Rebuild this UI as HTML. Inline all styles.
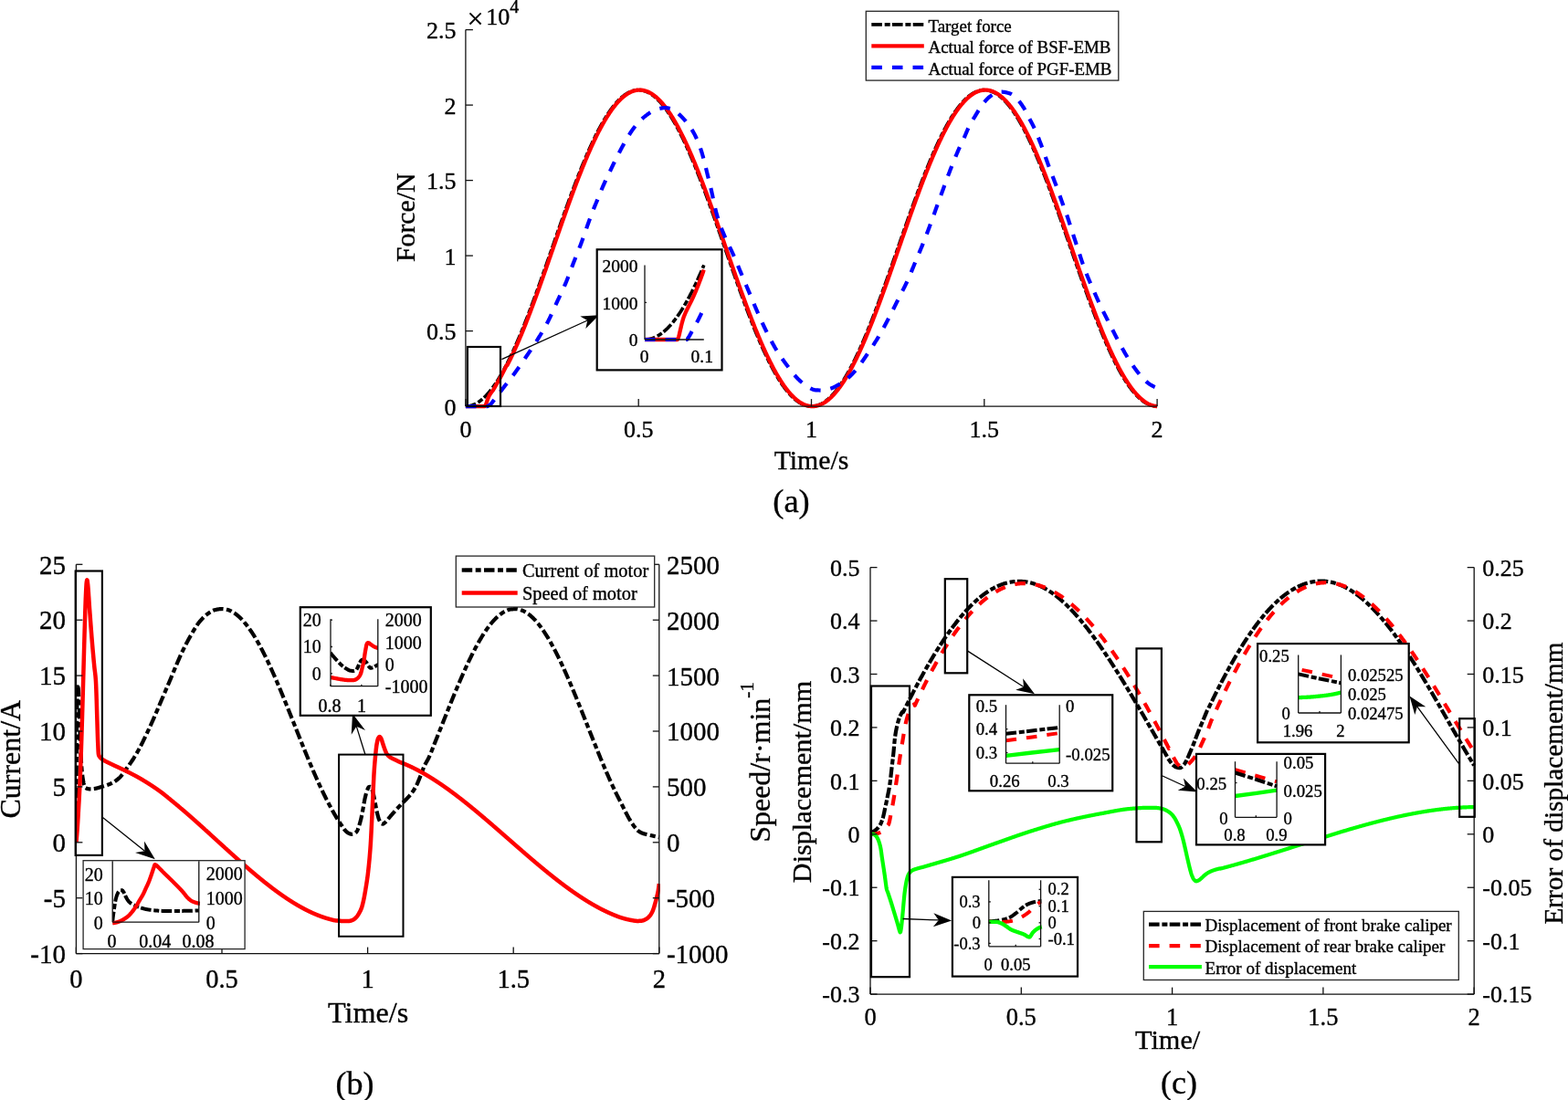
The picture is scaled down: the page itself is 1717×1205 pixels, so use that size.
<!DOCTYPE html>
<html><head><meta charset="utf-8"><title>Figure</title><style>
html,body{margin:0;padding:0;background:#fff;overflow:hidden}
svg{display:block}
text{font-family:"Liberation Serif","Times New Roman",serif;fill:#000;stroke:#000;stroke-width:0.35px}
</style></head><body>
<svg width="1717" height="1205" viewBox="0 0 1717 1205">
<defs><clipPath id="ca"><rect x="506.9" y="20" width="763.2" height="428.1"/></clipPath><clipPath id="cai"><rect x="704" y="285" width="68.8" height="90"/></clipPath><clipPath id="cb"><rect x="82.4" y="600" width="640.4" height="444.6"/></clipPath><clipPath id="cbu"><rect x="362" y="676.3" width="51.8" height="75.4"/></clipPath><clipPath id="cbl"><rect x="123.2" y="943.3" width="96.6" height="66.9"/></clipPath><clipPath id="cc"><rect x="953" y="600" width="663.2" height="489.12"/></clipPath></defs>
<rect width="1717" height="1205" fill="#fff"/>
<path d="M509.9 445.1 L510.41 445.09 L510.91 445.08 L511.42 445.05 L511.92 445 L512.43 444.95 L512.93 444.88 L513.44 444.8 L513.94 444.71 L514.45 444.61 L514.95 444.49 L515.46 444.36 L515.96 444.22 L516.47 444.07 L516.97 443.91 L517.48 443.73 L517.98 443.54 L518.49 443.34 L518.99 443.13 L519.5 442.91 L520 442.67 L520.51 442.42 L521.01 442.16 L521.52 441.89 L522.02 441.61 L522.53 441.31 L523.03 441 L523.54 440.68 L524.04 440.35 L524.55 440.01 L525.05 439.65 L525.56 439.28 L526.06 438.9 L526.57 438.51 L527.07 438.11 L527.58 437.7 L528.08 437.27 L528.59 436.83 L529.1 436.38 L529.6 435.92 L530.11 435.45 L530.61 434.97 L531.12 434.47 L531.62 433.97 L532.13 433.45 L532.63 432.92 L533.14 432.38 L533.64 431.83 L534.15 431.26 L534.65 430.69 L535.16 430.1 L535.66 429.51 L536.17 428.9 L536.67 428.28 L537.18 427.65 L537.68 427.01 L538.19 426.36 L538.69 425.69 L539.2 425.02 L539.7 424.34 L540.21 423.64 L540.71 422.94 L541.22 422.22 L541.72 421.49 L542.23 420.76 L542.73 420.01 L543.24 419.25 L543.74 418.48 L544.25 417.7 L544.75 416.92 L545.26 416.12 L545.76 415.31 L546.27 414.49 L546.77 413.66 L547.28 412.82 L547.79 411.97 L548.29 411.11 L548.8 410.24 L549.3 409.36 L549.81 408.47 L550.31 407.58 L550.82 406.67 L551.32 405.75 L551.83 404.83 L552.33 403.89 L552.84 402.95 L553.34 401.99 L553.85 401.03 L554.35 400.06 L554.86 399.07 L555.36 398.08 L555.87 397.08 L556.37 396.08 L556.88 395.06 L557.38 394.03 L557.89 393 L558.39 391.96 L558.9 390.91 L559.4 389.85 L559.91 388.78 L560.41 387.7 L560.92 386.62 L561.42 385.53 L561.93 384.43 L562.43 383.32 L562.94 382.21 L563.44 381.08 L563.95 379.95 L564.45 378.81 L564.96 377.67 L565.47 376.51 L565.97 375.35 L566.48 374.18 L566.98 373.01 L567.49 371.82 L567.99 370.63 L568.5 369.44 L569 368.23 L569.51 367.02 L570.01 365.81 L570.52 364.58 L571.02 363.35 L571.53 362.12 L572.03 360.87 L572.54 359.63 L573.04 358.37 L573.55 357.11 L574.05 355.84 L574.56 354.57 L575.06 353.29 L575.57 352 L576.07 350.71 L576.58 349.42 L577.08 348.12 L577.59 346.81 L578.09 345.5 L578.6 344.18 L579.1 342.86 L579.61 341.53 L580.11 340.2 L580.62 338.86 L581.12 337.52 L581.63 336.17 L582.13 334.82 L582.64 333.47 L583.14 332.11 L583.65 330.74 L584.16 329.38 L584.66 328 L585.17 326.63 L585.67 325.25 L586.18 323.87 L586.68 322.48 L587.19 321.09 L587.69 319.69 L588.2 318.3 L588.7 316.89 L589.21 315.49 L589.71 314.08 L590.22 312.67 L590.72 311.26 L591.23 309.85 L591.73 308.43 L592.24 307.01 L592.74 305.58 L593.25 304.16 L593.75 302.73 L594.26 301.3 L594.76 299.87 L595.27 298.43 L595.77 297 L596.28 295.56 L596.78 294.12 L597.29 292.68 L597.79 291.23 L598.3 289.79 L598.8 288.35 L599.31 286.9 L599.81 285.45 L600.32 284 L600.82 282.55 L601.33 281.1 L601.83 279.65 L602.34 278.2 L602.85 276.75 L603.35 275.3 L603.86 273.85 L604.36 272.39 L604.87 270.94 L605.37 269.49 L605.88 268.04 L606.38 266.59 L606.89 265.13 L607.39 263.68 L607.9 262.23 L608.4 260.78 L608.91 259.33 L609.41 257.89 L609.92 256.44 L610.42 254.99 L610.93 253.55 L611.43 252.1 L611.94 250.66 L612.44 249.22 L612.95 247.78 L613.45 246.34 L613.96 244.91 L614.46 243.48 L614.97 242.04 L615.47 240.61 L615.98 239.19 L616.48 237.76 L616.99 236.34 L617.49 234.92 L618 233.5 L618.5 232.09 L619.01 230.67 L619.51 229.26 L620.02 227.86 L620.52 226.45 L621.03 225.05 L621.54 223.66 L622.04 222.26 L622.55 220.87 L623.05 219.49 L623.56 218.11 L624.06 216.73 L624.57 215.35 L625.07 213.98 L625.58 212.61 L626.08 211.25 L626.59 209.89 L627.09 208.54 L627.6 207.19 L628.1 205.84 L628.61 204.5 L629.11 203.17 L629.62 201.84 L630.12 200.51 L630.63 199.19 L631.13 197.87 L631.64 196.56 L632.14 195.26 L632.65 193.96 L633.15 192.66 L633.66 191.37 L634.16 190.09 L634.67 188.81 L635.17 187.54 L635.68 186.28 L636.18 185.02 L636.69 183.76 L637.19 182.51 L637.7 181.27 L638.2 180.04 L638.71 178.81 L639.22 177.59 L639.72 176.37 L640.23 175.16 L640.73 173.96 L641.24 172.77 L641.74 171.58 L642.25 170.4 L642.75 169.22 L643.26 168.06 L643.76 166.9 L644.27 165.75 L644.77 164.6 L645.28 163.47 L645.78 162.34 L646.29 161.21 L646.79 160.1 L647.3 159 L647.8 157.9 L648.31 156.81 L648.81 155.73 L649.32 154.65 L649.82 153.59 L650.33 152.53 L650.83 151.48 L651.34 150.44 L651.84 149.41 L652.35 148.38 L652.85 147.37 L653.36 146.36 L653.86 145.37 L654.37 144.38 L654.87 143.4 L655.38 142.43 L655.88 141.47 L656.39 140.52 L656.89 139.57 L657.4 138.64 L657.91 137.72 L658.41 136.8 L658.92 135.9 L659.42 135 L659.93 134.12 L660.43 133.24 L660.94 132.37 L661.44 131.52 L661.95 130.67 L662.45 129.83 L662.96 129.01 L663.46 128.19 L663.97 127.38 L664.47 126.59 L664.98 125.8 L665.48 125.02 L665.99 124.26 L666.49 123.5 L667 122.76 L667.5 122.02 L668.01 121.3 L668.51 120.59 L669.02 119.88 L669.52 119.19 L670.03 118.51 L670.53 117.84 L671.04 117.18 L671.54 116.53 L672.05 115.89 L672.55 115.27 L673.06 114.65 L673.56 114.04 L674.07 113.45 L674.57 112.87 L675.08 112.3 L675.58 111.74 L676.09 111.19 L676.6 110.65 L677.1 110.12 L677.61 109.61 L678.11 109.1 L678.62 108.61 L679.12 108.13 L679.63 107.66 L680.13 107.2 L680.64 106.76 L681.14 106.32 L681.65 105.9 L682.15 105.49 L682.66 105.09 L683.16 104.7 L683.67 104.32 L684.17 103.96 L684.68 103.61 L685.18 103.27 L685.69 102.94 L686.19 102.62 L686.7 102.32 L687.2 102.02 L687.71 101.74 L688.21 101.47 L688.72 101.21 L689.22 100.97 L689.73 100.74 L690.23 100.51 L690.74 100.31 L691.24 100.11 L691.75 99.92 L692.25 99.75 L692.76 99.59 L693.26 99.44 L693.77 99.3 L694.27 99.18 L694.78 99.07 L695.29 98.97 L695.79 98.88 L696.3 98.8 L696.8 98.74 L697.31 98.69 L697.81 98.65 L698.32 98.62 L698.82 98.6 L699.33 98.6 L699.83 98.61 L700.34 98.63 L700.84 98.66 L701.35 98.71 L701.85 98.77 L702.36 98.84 L702.86 98.92 L703.37 99.01 L703.87 99.12 L704.38 99.24 L704.88 99.37 L705.39 99.51 L705.89 99.67 L706.4 99.83 L706.9 100.01 L707.41 100.21 L707.91 100.41 L708.42 100.62 L708.92 100.85 L709.43 101.09 L709.93 101.34 L710.44 101.61 L710.94 101.88 L711.45 102.17 L711.95 102.47 L712.46 102.78 L712.96 103.1 L713.47 103.44 L713.98 103.78 L714.48 104.14 L714.99 104.51 L715.49 104.89 L716 105.29 L716.5 105.69 L717.01 106.11 L717.51 106.54 L718.02 106.98 L718.52 107.43 L719.03 107.89 L719.53 108.37 L720.04 108.86 L720.54 109.35 L721.05 109.86 L721.55 110.38 L722.06 110.92 L722.56 111.46 L723.07 112.01 L723.57 112.58 L724.08 113.16 L724.58 113.75 L725.09 114.35 L725.59 114.96 L726.1 115.58 L726.6 116.21 L727.11 116.85 L727.61 117.51 L728.12 118.17 L728.62 118.85 L729.13 119.54 L729.63 120.23 L730.14 120.94 L730.64 121.66 L731.15 122.39 L731.66 123.13 L732.16 123.88 L732.67 124.64 L733.17 125.41 L733.68 126.19 L734.18 126.98 L734.69 127.79 L735.19 128.6 L735.7 129.42 L736.2 130.25 L736.71 131.09 L737.21 131.94 L737.72 132.81 L738.22 133.68 L738.73 134.56 L739.23 135.45 L739.74 136.35 L740.24 137.26 L740.75 138.18 L741.25 139.11 L741.76 140.04 L742.26 140.99 L742.77 141.95 L743.27 142.91 L743.78 143.89 L744.28 144.87 L744.79 145.86 L745.29 146.87 L745.8 147.88 L746.3 148.9 L746.81 149.92 L747.31 150.96 L747.82 152 L748.32 153.06 L748.83 154.12 L749.33 155.19 L749.84 156.27 L750.35 157.35 L750.85 158.45 L751.36 159.55 L751.86 160.66 L752.37 161.77 L752.87 162.9 L753.38 164.03 L753.88 165.17 L754.39 166.32 L754.89 167.48 L755.4 168.64 L755.9 169.81 L756.41 170.99 L756.91 172.17 L757.42 173.36 L757.92 174.56 L758.43 175.77 L758.93 176.98 L759.44 178.2 L759.94 179.42 L760.45 180.65 L760.95 181.89 L761.46 183.14 L761.96 184.39 L762.47 185.64 L762.97 186.91 L763.48 188.18 L763.98 189.45 L764.49 190.73 L764.99 192.02 L765.5 193.31 L766 194.61 L766.51 195.91 L767.01 197.22 L767.52 198.53 L768.02 199.85 L768.53 201.17 L769.04 202.5 L769.54 203.83 L770.05 205.17 L770.55 206.52 L771.06 207.86 L771.56 209.22 L772.07 210.57 L772.57 211.93 L773.08 213.3 L773.58 214.67 L774.09 216.04 L774.59 217.42 L775.1 218.8 L775.6 220.18 L776.11 221.57 L776.61 222.96 L777.12 224.36 L777.62 225.75 L778.13 227.16 L778.63 228.56 L779.14 229.97 L779.64 231.38 L780.15 232.79 L780.65 234.21 L781.16 235.63 L781.66 237.05 L782.17 238.47 L782.67 239.9 L783.18 241.33 L783.68 242.76 L784.19 244.19 L784.69 245.63 L785.2 247.06 L785.7 248.5 L786.21 249.94 L786.71 251.38 L787.22 252.83 L787.73 254.27 L788.23 255.72 L788.74 257.16 L789.24 258.61 L789.75 260.06 L790.25 261.51 L790.76 262.96 L791.26 264.41 L791.77 265.86 L792.27 267.31 L792.78 268.76 L793.28 270.22 L793.79 271.67 L794.29 273.12 L794.8 274.57 L795.3 276.03 L795.81 277.48 L796.31 278.93 L796.82 280.38 L797.32 281.83 L797.83 283.28 L798.33 284.73 L798.84 286.18 L799.34 287.62 L799.85 289.07 L800.35 290.51 L800.86 291.96 L801.36 293.4 L801.87 294.84 L802.37 296.28 L802.88 297.71 L803.38 299.15 L803.89 300.58 L804.39 302.01 L804.9 303.44 L805.41 304.87 L805.91 306.29 L806.42 307.72 L806.92 309.14 L807.43 310.55 L807.93 311.97 L808.44 313.38 L808.94 314.79 L809.45 316.19 L809.95 317.6 L810.46 318.99 L810.96 320.39 L811.47 321.78 L811.97 323.17 L812.48 324.56 L812.98 325.94 L813.49 327.32 L813.99 328.69 L814.5 330.06 L815 331.43 L815.51 332.79 L816.01 334.15 L816.52 335.5 L817.02 336.85 L817.53 338.19 L818.03 339.53 L818.54 340.87 L819.04 342.2 L819.55 343.52 L820.05 344.84 L820.56 346.15 L821.06 347.46 L821.57 348.77 L822.07 350.07 L822.58 351.36 L823.08 352.65 L823.59 353.93 L824.1 355.21 L824.6 356.48 L825.11 357.74 L825.61 359 L826.12 360.25 L826.62 361.5 L827.13 362.74 L827.63 363.97 L828.14 365.2 L828.64 366.42 L829.15 367.63 L829.65 368.84 L830.16 370.04 L830.66 371.23 L831.17 372.42 L831.67 373.6 L832.18 374.77 L832.68 375.93 L833.19 377.09 L833.69 378.24 L834.2 379.38 L834.7 380.52 L835.21 381.64 L835.71 382.76 L836.22 383.88 L836.72 384.98 L837.23 386.08 L837.73 387.16 L838.24 388.24 L838.74 389.32 L839.25 390.38 L839.75 391.43 L840.26 392.48 L840.76 393.52 L841.27 394.55 L841.77 395.57 L842.28 396.58 L842.79 397.59 L843.29 398.58 L843.8 399.57 L844.3 400.54 L844.81 401.51 L845.31 402.47 L845.82 403.42 L846.32 404.36 L846.83 405.29 L847.33 406.21 L847.84 407.12 L848.34 408.03 L848.85 408.92 L849.35 409.8 L849.86 410.68 L850.36 411.54 L850.87 412.4 L851.37 413.24 L851.88 414.07 L852.38 414.9 L852.89 415.71 L853.39 416.52 L853.9 417.31 L854.4 418.09 L854.91 418.87 L855.41 419.63 L855.92 420.38 L856.42 421.13 L856.93 421.86 L857.43 422.58 L857.94 423.29 L858.44 423.99 L858.95 424.68 L859.45 425.36 L859.96 426.03 L860.46 426.68 L860.97 427.33 L861.48 427.97 L861.98 428.59 L862.49 429.2 L862.99 429.81 L863.5 430.4 L864 430.98 L864.51 431.54 L865.01 432.1 L865.52 432.65 L866.02 433.18 L866.53 433.71 L867.03 434.22 L867.54 434.72 L868.04 435.21 L868.55 435.69 L869.05 436.15 L869.56 436.61 L870.06 437.05 L870.57 437.48 L871.07 437.9 L871.58 438.31 L872.08 438.71 L872.59 439.09 L873.09 439.47 L873.6 439.83 L874.1 440.18 L874.61 440.52 L875.11 440.84 L875.62 441.16 L876.12 441.46 L876.63 441.75 L877.13 442.03 L877.64 442.29 L878.14 442.55 L878.65 442.79 L879.15 443.02 L879.66 443.24 L880.17 443.45 L880.67 443.64 L881.18 443.82 L881.68 443.99 L882.19 444.15 L882.69 444.3 L883.2 444.43 L883.7 444.55 L884.21 444.66 L884.71 444.76 L885.22 444.84 L885.72 444.92 L886.23 444.98 L886.73 445.03 L887.24 445.06 L887.74 445.09 L888.25 445.1 L888.75 445.1 L889.26 445.09 L889.76 445.06 L890.27 445.03 L890.77 444.98 L891.28 444.92 L891.78 444.84 L892.29 444.76 L892.79 444.66 L893.3 444.55 L893.8 444.43 L894.31 444.3 L894.81 444.15 L895.32 443.99 L895.82 443.82 L896.33 443.64 L896.83 443.45 L897.34 443.24 L897.85 443.02 L898.35 442.79 L898.86 442.55 L899.36 442.29 L899.87 442.03 L900.37 441.75 L900.88 441.46 L901.38 441.16 L901.89 440.84 L902.39 440.52 L902.9 440.18 L903.4 439.83 L903.91 439.47 L904.41 439.09 L904.92 438.71 L905.42 438.31 L905.93 437.9 L906.43 437.48 L906.94 437.05 L907.44 436.61 L907.95 436.15 L908.45 435.69 L908.96 435.21 L909.46 434.72 L909.97 434.22 L910.47 433.71 L910.98 433.18 L911.48 432.65 L911.99 432.1 L912.49 431.54 L913 430.98 L913.5 430.4 L914.01 429.81 L914.51 429.2 L915.02 428.59 L915.52 427.97 L916.03 427.33 L916.54 426.68 L917.04 426.03 L917.55 425.36 L918.05 424.68 L918.56 423.99 L919.06 423.29 L919.57 422.58 L920.07 421.86 L920.58 421.13 L921.08 420.38 L921.59 419.63 L922.09 418.87 L922.6 418.09 L923.1 417.31 L923.61 416.52 L924.11 415.71 L924.62 414.9 L925.12 414.07 L925.63 413.24 L926.13 412.4 L926.64 411.54 L927.14 410.68 L927.65 409.8 L928.15 408.92 L928.66 408.03 L929.16 407.12 L929.67 406.21 L930.17 405.29 L930.68 404.36 L931.18 403.42 L931.69 402.47 L932.19 401.51 L932.7 400.54 L933.2 399.57 L933.71 398.58 L934.21 397.59 L934.72 396.58 L935.23 395.57 L935.73 394.55 L936.24 393.52 L936.74 392.48 L937.25 391.43 L937.75 390.38 L938.26 389.32 L938.76 388.24 L939.27 387.16 L939.77 386.08 L940.28 384.98 L940.78 383.88 L941.29 382.76 L941.79 381.64 L942.3 380.52 L942.8 379.38 L943.31 378.24 L943.81 377.09 L944.32 375.93 L944.82 374.77 L945.33 373.6 L945.83 372.42 L946.34 371.23 L946.84 370.04 L947.35 368.84 L947.85 367.63 L948.36 366.42 L948.86 365.2 L949.37 363.97 L949.87 362.74 L950.38 361.5 L950.88 360.25 L951.39 359 L951.89 357.74 L952.4 356.48 L952.9 355.21 L953.41 353.93 L953.92 352.65 L954.42 351.36 L954.93 350.07 L955.43 348.77 L955.94 347.46 L956.44 346.15 L956.95 344.84 L957.45 343.52 L957.96 342.2 L958.46 340.87 L958.97 339.53 L959.47 338.19 L959.98 336.85 L960.48 335.5 L960.99 334.15 L961.49 332.79 L962 331.43 L962.5 330.06 L963.01 328.69 L963.51 327.32 L964.02 325.94 L964.52 324.56 L965.03 323.17 L965.53 321.78 L966.04 320.39 L966.54 318.99 L967.05 317.6 L967.55 316.19 L968.06 314.79 L968.56 313.38 L969.07 311.97 L969.57 310.55 L970.08 309.14 L970.58 307.72 L971.09 306.29 L971.59 304.87 L972.1 303.44 L972.61 302.01 L973.11 300.58 L973.62 299.15 L974.12 297.71 L974.63 296.28 L975.13 294.84 L975.64 293.4 L976.14 291.96 L976.65 290.51 L977.15 289.07 L977.66 287.62 L978.16 286.18 L978.67 284.73 L979.17 283.28 L979.68 281.83 L980.18 280.38 L980.69 278.93 L981.19 277.48 L981.7 276.03 L982.2 274.57 L982.71 273.12 L983.21 271.67 L983.72 270.22 L984.22 268.76 L984.73 267.31 L985.23 265.86 L985.74 264.41 L986.24 262.96 L986.75 261.51 L987.25 260.06 L987.76 258.61 L988.26 257.16 L988.77 255.72 L989.27 254.27 L989.78 252.83 L990.29 251.38 L990.79 249.94 L991.3 248.5 L991.8 247.06 L992.31 245.63 L992.81 244.19 L993.32 242.76 L993.82 241.33 L994.33 239.9 L994.83 238.47 L995.34 237.05 L995.84 235.63 L996.35 234.21 L996.85 232.79 L997.36 231.38 L997.86 229.97 L998.37 228.56 L998.87 227.16 L999.38 225.75 L999.88 224.36 L1000.39 222.96 L1000.89 221.57 L1001.4 220.18 L1001.9 218.8 L1002.41 217.42 L1002.91 216.04 L1003.42 214.67 L1003.92 213.3 L1004.43 211.93 L1004.93 210.57 L1005.44 209.22 L1005.94 207.86 L1006.45 206.52 L1006.95 205.17 L1007.46 203.83 L1007.96 202.5 L1008.47 201.17 L1008.98 199.85 L1009.48 198.53 L1009.99 197.22 L1010.49 195.91 L1011 194.61 L1011.5 193.31 L1012.01 192.02 L1012.51 190.73 L1013.02 189.45 L1013.52 188.18 L1014.03 186.91 L1014.53 185.64 L1015.04 184.39 L1015.54 183.14 L1016.05 181.89 L1016.55 180.65 L1017.06 179.42 L1017.56 178.2 L1018.07 176.98 L1018.57 175.77 L1019.08 174.56 L1019.58 173.36 L1020.09 172.17 L1020.59 170.99 L1021.1 169.81 L1021.6 168.64 L1022.11 167.48 L1022.61 166.32 L1023.12 165.17 L1023.62 164.03 L1024.13 162.9 L1024.63 161.77 L1025.14 160.66 L1025.64 159.55 L1026.15 158.45 L1026.65 157.35 L1027.16 156.27 L1027.67 155.19 L1028.17 154.12 L1028.68 153.06 L1029.18 152 L1029.69 150.96 L1030.19 149.92 L1030.7 148.9 L1031.2 147.88 L1031.71 146.87 L1032.21 145.86 L1032.72 144.87 L1033.22 143.89 L1033.73 142.91 L1034.23 141.95 L1034.74 140.99 L1035.24 140.04 L1035.75 139.11 L1036.25 138.18 L1036.76 137.26 L1037.26 136.35 L1037.77 135.45 L1038.27 134.56 L1038.78 133.68 L1039.28 132.81 L1039.79 131.94 L1040.29 131.09 L1040.8 130.25 L1041.3 129.42 L1041.81 128.6 L1042.31 127.79 L1042.82 126.98 L1043.32 126.19 L1043.83 125.41 L1044.33 124.64 L1044.84 123.88 L1045.34 123.13 L1045.85 122.39 L1046.36 121.66 L1046.86 120.94 L1047.37 120.23 L1047.87 119.54 L1048.38 118.85 L1048.88 118.17 L1049.39 117.51 L1049.89 116.85 L1050.4 116.21 L1050.9 115.58 L1051.41 114.96 L1051.91 114.35 L1052.42 113.75 L1052.92 113.16 L1053.43 112.58 L1053.93 112.01 L1054.44 111.46 L1054.94 110.92 L1055.45 110.38 L1055.95 109.86 L1056.46 109.35 L1056.96 108.86 L1057.47 108.37 L1057.97 107.89 L1058.48 107.43 L1058.98 106.98 L1059.49 106.54 L1059.99 106.11 L1060.5 105.69 L1061 105.29 L1061.51 104.89 L1062.01 104.51 L1062.52 104.14 L1063.02 103.78 L1063.53 103.44 L1064.04 103.1 L1064.54 102.78 L1065.05 102.47 L1065.55 102.17 L1066.06 101.88 L1066.56 101.61 L1067.07 101.34 L1067.57 101.09 L1068.08 100.85 L1068.58 100.62 L1069.09 100.41 L1069.59 100.21 L1070.1 100.01 L1070.6 99.83 L1071.11 99.67 L1071.61 99.51 L1072.12 99.37 L1072.62 99.24 L1073.13 99.12 L1073.63 99.01 L1074.14 98.92 L1074.64 98.84 L1075.15 98.77 L1075.65 98.71 L1076.16 98.66 L1076.66 98.63 L1077.17 98.61 L1077.67 98.6 L1078.18 98.6 L1078.68 98.62 L1079.19 98.65 L1079.69 98.69 L1080.2 98.74 L1080.7 98.8 L1081.21 98.88 L1081.71 98.97 L1082.22 99.07 L1082.73 99.18 L1083.23 99.3 L1083.74 99.44 L1084.24 99.59 L1084.75 99.75 L1085.25 99.92 L1085.76 100.11 L1086.26 100.31 L1086.77 100.51 L1087.27 100.74 L1087.78 100.97 L1088.28 101.21 L1088.79 101.47 L1089.29 101.74 L1089.8 102.02 L1090.3 102.32 L1090.81 102.62 L1091.31 102.94 L1091.82 103.27 L1092.32 103.61 L1092.83 103.96 L1093.33 104.32 L1093.84 104.7 L1094.34 105.09 L1094.85 105.49 L1095.35 105.9 L1095.86 106.32 L1096.36 106.76 L1096.87 107.2 L1097.37 107.66 L1097.88 108.13 L1098.38 108.61 L1098.89 109.1 L1099.39 109.61 L1099.9 110.12 L1100.4 110.65 L1100.91 111.19 L1101.42 111.74 L1101.92 112.3 L1102.43 112.87 L1102.93 113.45 L1103.44 114.04 L1103.94 114.65 L1104.45 115.27 L1104.95 115.89 L1105.46 116.53 L1105.96 117.18 L1106.47 117.84 L1106.97 118.51 L1107.48 119.19 L1107.98 119.88 L1108.49 120.59 L1108.99 121.3 L1109.5 122.02 L1110 122.76 L1110.51 123.5 L1111.01 124.26 L1111.52 125.02 L1112.02 125.8 L1112.53 126.59 L1113.03 127.38 L1113.54 128.19 L1114.04 129.01 L1114.55 129.83 L1115.05 130.67 L1115.56 131.52 L1116.06 132.37 L1116.57 133.24 L1117.07 134.12 L1117.58 135 L1118.08 135.9 L1118.59 136.8 L1119.09 137.72 L1119.6 138.64 L1120.11 139.57 L1120.61 140.52 L1121.12 141.47 L1121.62 142.43 L1122.13 143.4 L1122.63 144.38 L1123.14 145.37 L1123.64 146.36 L1124.15 147.37 L1124.65 148.38 L1125.16 149.41 L1125.66 150.44 L1126.17 151.48 L1126.67 152.53 L1127.18 153.59 L1127.68 154.65 L1128.19 155.73 L1128.69 156.81 L1129.2 157.9 L1129.7 159 L1130.21 160.1 L1130.71 161.21 L1131.22 162.34 L1131.72 163.47 L1132.23 164.6 L1132.73 165.75 L1133.24 166.9 L1133.74 168.06 L1134.25 169.22 L1134.75 170.4 L1135.26 171.58 L1135.76 172.77 L1136.27 173.96 L1136.77 175.16 L1137.28 176.37 L1137.78 177.59 L1138.29 178.81 L1138.8 180.04 L1139.3 181.27 L1139.81 182.51 L1140.31 183.76 L1140.82 185.02 L1141.32 186.28 L1141.83 187.54 L1142.33 188.81 L1142.84 190.09 L1143.34 191.37 L1143.85 192.66 L1144.35 193.96 L1144.86 195.26 L1145.36 196.56 L1145.87 197.87 L1146.37 199.19 L1146.88 200.51 L1147.38 201.84 L1147.89 203.17 L1148.39 204.5 L1148.9 205.84 L1149.4 207.19 L1149.91 208.54 L1150.41 209.89 L1150.92 211.25 L1151.42 212.61 L1151.93 213.98 L1152.43 215.35 L1152.94 216.73 L1153.44 218.11 L1153.95 219.49 L1154.45 220.87 L1154.96 222.26 L1155.46 223.66 L1155.97 225.05 L1156.48 226.45 L1156.98 227.86 L1157.49 229.26 L1157.99 230.67 L1158.5 232.09 L1159 233.5 L1159.51 234.92 L1160.01 236.34 L1160.52 237.76 L1161.02 239.19 L1161.53 240.61 L1162.03 242.04 L1162.54 243.48 L1163.04 244.91 L1163.55 246.34 L1164.05 247.78 L1164.56 249.22 L1165.06 250.66 L1165.57 252.1 L1166.07 253.55 L1166.58 254.99 L1167.08 256.44 L1167.59 257.89 L1168.09 259.33 L1168.6 260.78 L1169.1 262.23 L1169.61 263.68 L1170.11 265.13 L1170.62 266.59 L1171.12 268.04 L1171.63 269.49 L1172.13 270.94 L1172.64 272.39 L1173.14 273.85 L1173.65 275.3 L1174.15 276.75 L1174.66 278.2 L1175.17 279.65 L1175.67 281.1 L1176.18 282.55 L1176.68 284 L1177.19 285.45 L1177.69 286.9 L1178.2 288.35 L1178.7 289.79 L1179.21 291.23 L1179.71 292.68 L1180.22 294.12 L1180.72 295.56 L1181.23 297 L1181.73 298.43 L1182.24 299.87 L1182.74 301.3 L1183.25 302.73 L1183.75 304.16 L1184.26 305.58 L1184.76 307.01 L1185.27 308.43 L1185.77 309.85 L1186.28 311.26 L1186.78 312.67 L1187.29 314.08 L1187.79 315.49 L1188.3 316.89 L1188.8 318.3 L1189.31 319.69 L1189.81 321.09 L1190.32 322.48 L1190.82 323.87 L1191.33 325.25 L1191.83 326.63 L1192.34 328 L1192.84 329.38 L1193.35 330.74 L1193.86 332.11 L1194.36 333.47 L1194.87 334.82 L1195.37 336.17 L1195.88 337.52 L1196.38 338.86 L1196.89 340.2 L1197.39 341.53 L1197.9 342.86 L1198.4 344.18 L1198.91 345.5 L1199.41 346.81 L1199.92 348.12 L1200.42 349.42 L1200.93 350.71 L1201.43 352 L1201.94 353.29 L1202.44 354.57 L1202.95 355.84 L1203.45 357.11 L1203.96 358.37 L1204.46 359.63 L1204.97 360.87 L1205.47 362.12 L1205.98 363.35 L1206.48 364.58 L1206.99 365.81 L1207.49 367.02 L1208 368.23 L1208.5 369.44 L1209.01 370.63 L1209.51 371.82 L1210.02 373.01 L1210.52 374.18 L1211.03 375.35 L1211.53 376.51 L1212.04 377.67 L1212.55 378.81 L1213.05 379.95 L1213.56 381.08 L1214.06 382.21 L1214.57 383.32 L1215.07 384.43 L1215.58 385.53 L1216.08 386.62 L1216.59 387.7 L1217.09 388.78 L1217.6 389.85 L1218.1 390.91 L1218.61 391.96 L1219.11 393 L1219.62 394.03 L1220.12 395.06 L1220.63 396.08 L1221.13 397.08 L1221.64 398.08 L1222.14 399.07 L1222.65 400.06 L1223.15 401.03 L1223.66 401.99 L1224.16 402.95 L1224.67 403.89 L1225.17 404.83 L1225.68 405.75 L1226.18 406.67 L1226.69 407.58 L1227.19 408.47 L1227.7 409.36 L1228.2 410.24 L1228.71 411.11 L1229.21 411.97 L1229.72 412.82 L1230.23 413.66 L1230.73 414.49 L1231.24 415.31 L1231.74 416.12 L1232.25 416.92 L1232.75 417.7 L1233.26 418.48 L1233.76 419.25 L1234.27 420.01 L1234.77 420.76 L1235.28 421.49 L1235.78 422.22 L1236.29 422.94 L1236.79 423.64 L1237.3 424.34 L1237.8 425.02 L1238.31 425.69 L1238.81 426.36 L1239.32 427.01 L1239.82 427.65 L1240.33 428.28 L1240.83 428.9 L1241.34 429.51 L1241.84 430.1 L1242.35 430.69 L1242.85 431.26 L1243.36 431.83 L1243.86 432.38 L1244.37 432.92 L1244.87 433.45 L1245.38 433.97 L1245.88 434.47 L1246.39 434.97 L1246.89 435.45 L1247.4 435.92 L1247.9 436.38 L1248.41 436.83 L1248.92 437.27 L1249.42 437.7 L1249.93 438.11 L1250.43 438.51 L1250.94 438.9 L1251.44 439.28 L1251.95 439.65 L1252.45 440.01 L1252.96 440.35 L1253.46 440.68 L1253.97 441 L1254.47 441.31 L1254.98 441.61 L1255.48 441.89 L1255.99 442.16 L1256.49 442.42 L1257 442.67 L1257.5 442.91 L1258.01 443.13 L1258.51 443.34 L1259.02 443.54 L1259.52 443.73 L1260.03 443.91 L1260.53 444.07 L1261.04 444.22 L1261.54 444.36 L1262.05 444.49 L1262.55 444.61 L1263.06 444.71 L1263.56 444.8 L1264.07 444.88 L1264.57 444.95 L1265.08 445 L1265.58 445.05 L1266.09 445.08 L1266.59 445.09 L1267.1 445.1" fill="none" stroke="#000000" stroke-width="3.7" stroke-linecap="butt" stroke-linejoin="round" stroke-dasharray="11.6 2.8 6 2.3" clip-path="url(#ca)"/>
<path d="M509.9 445.1 L510.41 445.1 L510.91 445.1 L511.42 445.1 L511.92 445.1 L512.43 445.1 L512.93 445.1 L513.44 445.1 L513.94 445.1 L514.45 445.1 L514.95 445.1 L515.46 445.1 L515.96 445.1 L516.47 445.1 L516.97 445.1 L517.48 445.1 L517.98 445.1 L518.49 445.1 L518.99 445.1 L519.5 445.1 L520 445.1 L520.51 445.1 L521.01 445.1 L521.52 445.1 L522.02 445.1 L522.53 445.1 L523.03 445.1 L523.54 445.1 L524.04 445.1 L524.55 445.1 L525.05 445.1 L525.56 445.1 L526.06 445.1 L526.57 445.1 L527.07 445.1 L527.58 445.1 L528.08 445.1 L528.59 445.1 L529.1 445.1 L529.6 445.1 L530.11 445.1 L530.61 445.1 L531.12 444.81 L531.62 443.91 L532.13 442.88 L532.63 441.5 L533.14 440 L533.64 438.58 L534.15 437.13 L534.65 435.77 L535.16 434.6 L535.66 433.57 L536.17 432.63 L536.67 431.79 L537.18 431.03 L537.68 430.33 L538.19 429.67 L538.69 429.02 L539.2 428.36 L539.7 427.67 L540.21 426.92 L540.71 426.11 L541.22 425.26 L541.72 424.38 L542.23 423.48 L542.73 422.56 L543.24 421.65 L543.74 420.75 L544.25 419.87 L544.75 419 L545.26 418.13 L545.76 417.26 L546.27 416.38 L546.77 415.5 L547.28 414.61 L547.79 413.7 L548.29 412.79 L548.8 411.86 L549.3 410.93 L549.81 409.99 L550.31 409.03 L550.82 408.07 L551.32 407.09 L551.83 406.1 L552.33 405.1 L552.84 404.09 L553.34 403.06 L553.85 402.02 L554.35 400.97 L554.86 399.91 L555.36 400.3 L555.87 399.32 L556.37 398.33 L556.88 397.33 L557.38 396.33 L557.89 395.31 L558.39 394.29 L558.9 393.26 L559.4 392.22 L559.91 391.17 L560.41 390.11 L560.92 389.05 L561.42 387.97 L561.93 386.89 L562.43 385.8 L562.94 384.7 L563.44 383.6 L563.95 382.48 L564.45 381.36 L564.96 380.23 L565.47 379.1 L565.97 377.95 L566.48 376.8 L566.98 375.64 L567.49 374.47 L567.99 373.3 L568.5 372.12 L569 370.93 L569.51 369.74 L570.01 368.53 L570.52 367.33 L571.02 366.11 L571.53 364.89 L572.03 363.66 L572.54 362.43 L573.04 361.18 L573.55 359.94 L574.05 358.68 L574.56 357.42 L575.06 356.16 L575.57 354.89 L576.07 353.61 L576.58 352.32 L577.08 351.04 L577.59 349.74 L578.09 348.44 L578.6 347.14 L579.1 345.82 L579.61 344.51 L580.11 343.19 L580.62 341.86 L581.12 340.53 L581.63 339.19 L582.13 337.85 L582.64 336.51 L583.14 335.16 L583.65 333.81 L584.16 332.45 L584.66 331.08 L585.17 329.72 L585.67 328.35 L586.18 326.97 L586.68 325.59 L587.19 324.21 L587.69 322.82 L588.2 321.43 L588.7 320.04 L589.21 318.64 L589.71 317.24 L590.22 315.84 L590.72 314.43 L591.23 313.02 L591.73 311.61 L592.24 310.2 L592.74 308.78 L593.25 307.36 L593.75 305.94 L594.26 304.51 L594.76 303.08 L595.27 301.65 L595.77 300.22 L596.28 298.79 L596.78 297.35 L597.29 295.92 L597.79 294.48 L598.3 293.04 L598.8 291.59 L599.31 290.15 L599.81 288.71 L600.32 287.26 L600.82 285.81 L601.33 284.36 L601.83 282.91 L602.34 281.46 L602.85 280.01 L603.35 278.56 L603.86 277.11 L604.36 275.66 L604.87 274.21 L605.37 272.76 L605.88 271.3 L606.38 269.85 L606.89 268.4 L607.39 266.95 L607.9 265.5 L608.4 264.04 L608.91 262.59 L609.41 261.14 L609.92 259.69 L610.42 258.25 L610.93 256.8 L611.43 255.35 L611.94 253.91 L612.44 252.46 L612.95 251.02 L613.45 249.58 L613.96 248.14 L614.46 246.7 L614.97 245.27 L615.47 243.83 L615.98 242.4 L616.48 240.97 L616.99 239.54 L617.49 238.12 L618 236.69 L618.5 235.27 L619.01 233.85 L619.51 232.44 L620.02 231.02 L620.52 229.61 L621.03 228.21 L621.54 226.8 L622.04 225.4 L622.55 224 L623.05 222.61 L623.56 221.22 L624.06 219.83 L624.57 218.45 L625.07 217.07 L625.58 215.69 L626.08 214.32 L626.59 212.95 L627.09 211.59 L627.6 210.23 L628.1 208.87 L628.61 207.52 L629.11 206.18 L629.62 204.84 L630.12 203.5 L630.63 202.17 L631.13 200.84 L631.64 199.52 L632.14 198.2 L632.65 196.89 L633.15 195.58 L633.66 194.28 L634.16 192.98 L634.67 191.69 L635.17 190.41 L635.68 189.13 L636.18 187.86 L636.69 186.59 L637.19 185.33 L637.7 184.07 L638.2 182.82 L638.71 181.58 L639.22 180.34 L639.72 179.11 L640.23 177.89 L640.73 176.67 L641.24 175.46 L641.74 174.26 L642.25 173.06 L642.75 171.87 L643.26 170.69 L643.76 169.52 L644.27 168.35 L644.77 167.19 L645.28 166.03 L645.78 164.89 L646.29 163.75 L646.79 162.62 L647.3 161.49 L647.8 160.38 L648.31 159.27 L648.81 158.17 L649.32 157.08 L649.82 155.99 L650.33 154.92 L650.83 153.85 L651.34 152.79 L651.84 151.74 L652.35 150.7 L652.85 149.66 L653.36 148.64 L653.86 147.62 L654.37 146.61 L654.87 145.61 L655.38 144.62 L655.88 143.64 L656.39 142.67 L656.89 141.71 L657.4 140.75 L657.91 139.81 L658.41 138.87 L658.92 137.95 L659.42 137.03 L659.93 136.12 L660.43 135.22 L660.94 134.34 L661.44 133.46 L661.95 132.59 L662.45 131.73 L662.96 130.88 L663.46 130.04 L663.97 129.21 L664.47 128.39 L664.98 127.58 L665.48 126.78 L665.99 125.99 L666.49 125.22 L667 124.45 L667.5 123.69 L668.01 122.94 L668.51 122.2 L669.02 121.48 L669.52 120.76 L670.03 120.06 L670.53 119.36 L671.04 118.68 L671.54 118 L672.05 117.34 L672.55 116.69 L673.06 116.05 L673.56 115.42 L674.07 114.8 L674.57 114.19 L675.08 113.6 L675.58 113.01 L676.09 112.44 L676.6 111.87 L677.1 111.32 L677.61 110.78 L678.11 110.25 L678.62 109.73 L679.12 109.23 L679.63 108.73 L680.13 108.25 L680.64 107.78 L681.14 107.32 L681.65 106.87 L682.15 106.43 L682.66 106 L683.16 105.59 L683.67 105.19 L684.17 104.8 L684.68 104.42 L685.18 104.05 L685.69 103.69 L686.19 103.35 L686.7 103.02 L687.2 102.7 L687.71 102.39 L688.21 102.09 L688.72 101.81 L689.22 101.54 L689.73 101.28 L690.23 101.03 L690.74 100.79 L691.24 100.57 L691.75 100.36 L692.25 100.16 L692.76 99.97 L693.26 99.79 L693.77 99.63 L694.27 99.48 L694.78 99.34 L695.29 99.21 L695.79 99.09 L696.3 98.99 L696.8 98.9 L697.31 98.82 L697.81 98.75 L698.32 98.7 L698.82 98.65 L699.33 98.62 L699.83 98.61 L700.34 98.6 L700.84 98.61 L701.35 98.62 L701.85 98.65 L702.36 98.7 L702.86 98.75 L703.37 98.82 L703.87 98.9 L704.38 98.99 L704.88 99.09 L705.39 99.21 L705.89 99.34 L706.4 99.48 L706.9 99.63 L707.41 99.79 L707.91 99.97 L708.42 100.16 L708.92 100.36 L709.43 100.57 L709.93 100.79 L710.44 101.03 L710.94 101.28 L711.45 101.54 L711.95 101.81 L712.46 102.1 L712.96 102.39 L713.47 102.7 L713.98 103.02 L714.48 103.35 L714.99 103.7 L715.49 104.05 L716 104.42 L716.5 104.8 L717.01 105.19 L717.51 105.59 L718.02 106 L718.52 106.43 L719.03 106.87 L719.53 107.32 L720.04 107.78 L720.54 108.25 L721.05 108.73 L721.55 109.23 L722.06 109.74 L722.56 110.25 L723.07 110.78 L723.57 111.32 L724.08 111.88 L724.58 112.44 L725.09 113.01 L725.59 113.6 L726.1 114.2 L726.6 114.8 L727.11 115.42 L727.61 116.05 L728.12 116.69 L728.62 117.34 L729.13 118.01 L729.63 118.68 L730.14 119.36 L730.64 120.06 L731.15 120.76 L731.66 121.48 L732.16 122.21 L732.67 122.94 L733.17 123.69 L733.68 124.45 L734.18 125.22 L734.69 126 L735.19 126.79 L735.7 127.59 L736.2 128.39 L736.71 129.21 L737.21 130.04 L737.72 130.88 L738.22 131.73 L738.73 132.59 L739.23 133.46 L739.74 134.34 L740.24 135.23 L740.75 136.12 L741.25 137.03 L741.76 137.95 L742.26 138.88 L742.77 139.81 L743.27 140.76 L743.78 141.71 L744.28 142.67 L744.79 143.65 L745.29 144.63 L745.8 145.62 L746.3 146.62 L746.81 147.62 L747.31 148.64 L747.82 149.67 L748.32 150.7 L748.83 151.74 L749.33 152.79 L749.84 153.85 L750.35 154.92 L750.85 156 L751.36 157.08 L751.86 158.17 L752.37 159.27 L752.87 160.38 L753.38 161.5 L753.88 162.62 L754.39 163.75 L754.89 164.89 L755.4 166.04 L755.9 167.19 L756.41 168.35 L756.91 169.52 L757.42 170.69 L757.92 171.88 L758.43 173.07 L758.93 174.26 L759.44 175.47 L759.94 176.68 L760.45 177.89 L760.95 179.12 L761.46 180.35 L761.96 181.58 L762.47 182.83 L762.97 184.08 L763.48 185.33 L763.98 186.59 L764.49 187.86 L764.99 189.13 L765.5 190.41 L766 191.7 L766.51 192.99 L767.01 194.28 L767.52 195.59 L768.02 196.89 L768.53 198.2 L769.04 199.52 L769.54 200.84 L770.05 202.17 L770.55 203.5 L771.06 204.84 L771.56 206.18 L772.07 207.53 L772.57 208.88 L773.08 210.23 L773.58 211.59 L774.09 212.96 L774.59 214.33 L775.1 215.7 L775.6 217.07 L776.11 218.45 L776.61 219.84 L777.12 221.22 L777.62 222.61 L778.13 224.01 L778.63 225.41 L779.14 226.81 L779.64 228.21 L780.15 229.62 L780.65 231.03 L781.16 232.44 L781.66 233.86 L782.17 235.28 L782.67 236.7 L783.18 238.12 L783.68 239.55 L784.19 240.97 L784.69 242.4 L785.2 243.84 L785.7 245.27 L786.21 246.71 L786.71 248.14 L787.22 249.58 L787.73 251.02 L788.23 252.47 L788.74 253.91 L789.24 255.36 L789.75 256.8 L790.25 258.25 L790.76 259.7 L791.26 261.15 L791.77 262.6 L792.27 264.05 L792.78 265.5 L793.28 266.95 L793.79 268.4 L794.29 269.86 L794.8 271.31 L795.3 272.76 L795.81 274.21 L796.31 275.66 L796.82 277.12 L797.32 278.57 L797.83 280.02 L798.33 281.47 L798.84 282.92 L799.34 284.37 L799.85 285.82 L800.35 287.26 L800.86 288.71 L801.36 290.15 L801.87 291.6 L802.37 293.04 L802.88 294.48 L803.38 295.92 L803.89 297.36 L804.39 298.79 L804.9 300.23 L805.41 301.66 L805.91 303.09 L806.42 304.52 L806.92 305.94 L807.43 307.36 L807.93 308.78 L808.44 310.2 L808.94 311.62 L809.45 313.03 L809.95 314.44 L810.46 315.84 L810.96 317.25 L811.47 318.65 L811.97 320.04 L812.48 321.44 L812.98 322.83 L813.49 324.21 L813.99 325.6 L814.5 326.98 L815 328.35 L815.51 329.72 L816.01 331.09 L816.52 332.45 L817.02 333.81 L817.53 335.16 L818.03 336.51 L818.54 337.86 L819.04 339.2 L819.55 340.53 L820.05 341.87 L820.56 343.19 L821.06 344.51 L821.57 345.83 L822.07 347.14 L822.58 348.44 L823.08 349.74 L823.59 351.04 L824.1 352.33 L824.6 353.61 L825.11 354.89 L825.61 356.16 L826.12 357.43 L826.62 358.69 L827.13 359.94 L827.63 361.19 L828.14 362.43 L828.64 363.66 L829.15 364.89 L829.65 366.11 L830.16 367.33 L830.66 368.54 L831.17 369.74 L831.67 370.93 L832.18 372.12 L832.68 373.3 L833.19 374.48 L833.69 375.64 L834.2 376.8 L834.7 377.95 L835.21 379.1 L835.71 380.24 L836.22 381.37 L836.72 382.49 L837.23 383.6 L837.73 384.71 L838.24 385.8 L838.74 386.89 L839.25 387.98 L839.75 389.05 L840.26 390.12 L840.76 391.17 L841.27 392.22 L841.77 393.26 L842.28 394.29 L842.79 395.32 L843.29 396.33 L843.8 397.34 L844.3 398.33 L844.81 399.32 L845.31 400.3 L845.82 401.27 L846.32 402.23 L846.83 403.18 L847.33 404.13 L847.84 405.06 L848.34 405.98 L848.85 406.9 L849.35 407.8 L849.86 408.7 L850.36 409.58 L850.87 410.46 L851.37 411.33 L851.88 412.18 L852.38 413.03 L852.89 413.87 L853.39 414.69 L853.9 415.51 L854.4 416.32 L854.91 417.11 L855.41 417.9 L855.92 418.68 L856.42 419.44 L856.93 420.2 L857.43 420.94 L857.94 421.68 L858.44 422.4 L858.95 423.12 L859.45 423.82 L859.96 424.51 L860.46 425.19 L860.97 425.86 L861.48 426.52 L861.98 427.17 L862.49 427.81 L862.99 428.44 L863.5 429.05 L864 429.66 L864.51 430.25 L865.01 430.83 L865.52 431.4 L866.02 431.97 L866.53 432.51 L867.03 433.05 L867.54 433.58 L868.04 434.09 L868.55 434.6 L869.05 435.09 L869.56 435.57 L870.06 436.04 L870.57 436.5 L871.07 436.94 L871.58 437.38 L872.08 437.8 L872.59 438.21 L873.09 438.61 L873.6 439 L874.1 439.38 L874.61 439.74 L875.11 440.09 L875.62 440.43 L876.12 440.76 L876.63 441.08 L877.13 441.38 L877.64 441.68 L878.14 441.96 L878.65 442.23 L879.15 442.49 L879.66 442.73 L880.17 442.96 L880.67 443.19 L881.18 443.4 L881.68 443.59 L882.19 443.78 L882.69 443.95 L883.2 444.11 L883.7 444.26 L884.21 444.4 L884.71 444.52 L885.22 444.63 L885.72 444.73 L886.23 444.82 L886.73 444.9 L887.24 444.96 L887.74 445.01 L888.25 445.05 L888.75 445.08 L889.26 445.1 L889.76 445.1 L890.27 445.09 L890.77 445.07 L891.28 445.04 L891.78 444.99 L892.29 444.93 L892.79 444.86 L893.3 444.78 L893.8 444.69 L894.31 444.58 L894.81 444.46 L895.32 444.33 L895.82 444.19 L896.33 444.03 L896.83 443.87 L897.34 443.69 L897.85 443.49 L898.35 443.29 L898.86 443.08 L899.36 442.85 L899.87 442.61 L900.37 442.36 L900.88 442.09 L901.38 441.82 L901.89 441.53 L902.39 441.23 L902.9 440.92 L903.4 440.6 L903.91 440.26 L904.41 439.92 L904.92 439.56 L905.42 439.19 L905.93 438.81 L906.43 438.41 L906.94 438.01 L907.44 437.59 L907.95 437.16 L908.45 436.72 L908.96 436.27 L909.46 435.8 L909.97 435.33 L910.47 434.84 L910.98 434.35 L911.48 433.84 L911.99 433.32 L912.49 432.78 L913 432.24 L913.5 431.68 L914.01 431.12 L914.51 430.54 L915.02 429.95 L915.52 429.35 L916.03 428.74 L916.54 428.12 L917.04 427.49 L917.55 426.85 L918.05 426.19 L918.56 425.53 L919.06 424.85 L919.57 424.16 L920.07 423.47 L920.58 422.76 L921.08 422.04 L921.59 421.31 L922.09 420.57 L922.6 419.82 L923.1 419.06 L923.61 418.29 L924.11 417.51 L924.62 416.72 L925.12 415.91 L925.63 415.1 L926.13 414.28 L926.64 413.45 L927.14 412.61 L927.65 411.75 L928.15 410.89 L928.66 410.02 L929.16 409.14 L929.67 408.25 L930.17 407.35 L930.68 406.44 L931.18 405.52 L931.69 404.59 L932.19 403.65 L932.7 402.71 L933.2 401.75 L933.71 400.78 L934.21 399.81 L934.72 398.83 L935.23 397.83 L935.73 396.83 L936.24 395.82 L936.74 394.8 L937.25 393.78 L937.75 392.74 L938.26 391.69 L938.76 390.64 L939.27 389.58 L939.77 388.51 L940.28 387.43 L940.78 386.35 L941.29 385.25 L941.79 384.15 L942.3 383.04 L942.8 381.92 L943.31 380.8 L943.81 379.67 L944.32 378.52 L944.82 377.38 L945.33 376.22 L945.83 375.06 L946.34 373.89 L946.84 372.71 L947.35 371.53 L947.85 370.33 L948.36 369.14 L948.86 367.93 L949.37 366.72 L949.87 365.5 L950.38 364.28 L950.88 363.04 L951.39 361.81 L951.89 360.56 L952.4 359.31 L952.9 358.05 L953.41 356.79 L953.92 355.52 L954.42 354.25 L954.93 352.97 L955.43 351.68 L955.94 350.39 L956.44 349.09 L956.95 347.79 L957.45 346.48 L957.96 345.17 L958.46 343.85 L958.97 342.53 L959.47 341.2 L959.98 339.86 L960.48 338.53 L960.99 337.18 L961.49 335.83 L962 334.48 L962.5 333.13 L963.01 331.77 L963.51 330.4 L964.02 329.03 L964.52 327.66 L965.03 326.28 L965.53 324.9 L966.04 323.52 L966.54 322.13 L967.05 320.74 L967.55 319.34 L968.06 317.94 L968.56 316.54 L969.07 315.14 L969.57 313.73 L970.08 312.32 L970.58 310.91 L971.09 309.49 L971.59 308.07 L972.1 306.65 L972.61 305.22 L973.11 303.8 L973.62 302.37 L974.12 300.94 L974.63 299.51 L975.13 298.07 L975.64 296.63 L976.14 295.2 L976.65 293.76 L977.15 292.31 L977.66 290.87 L978.16 289.43 L978.67 287.98 L979.17 286.54 L979.68 285.09 L980.18 283.64 L980.69 282.19 L981.19 280.74 L981.7 279.29 L982.2 277.84 L982.71 276.39 L983.21 274.93 L983.72 273.48 L984.22 272.03 L984.73 270.58 L985.23 269.12 L985.74 267.67 L986.24 266.22 L986.75 264.77 L987.25 263.32 L987.76 261.87 L988.26 260.42 L988.77 258.97 L989.27 257.52 L989.78 256.08 L990.29 254.63 L990.79 253.18 L991.3 251.74 L991.8 250.3 L992.31 248.86 L992.81 247.42 L993.32 245.98 L993.82 244.55 L994.33 243.12 L994.83 241.68 L995.34 240.25 L995.84 238.83 L996.35 237.4 L996.85 235.98 L997.36 234.56 L997.86 233.14 L998.37 231.73 L998.87 230.32 L999.38 228.91 L999.88 227.5 L1000.39 226.1 L1000.89 224.7 L1001.4 223.31 L1001.9 221.91 L1002.41 220.53 L1002.91 219.14 L1003.42 217.76 L1003.92 216.38 L1004.43 215.01 L1004.93 213.64 L1005.44 212.27 L1005.94 210.91 L1006.45 209.55 L1006.95 208.2 L1007.46 206.85 L1007.96 205.51 L1008.47 204.17 L1008.98 202.83 L1009.48 201.5 L1009.99 200.18 L1010.49 198.86 L1011 197.54 L1011.5 196.23 L1012.01 194.93 L1012.51 193.63 L1013.02 192.34 L1013.52 191.05 L1014.03 189.77 L1014.53 188.49 L1015.04 187.22 L1015.54 185.96 L1016.05 184.7 L1016.55 183.45 L1017.06 182.2 L1017.56 180.96 L1018.07 179.73 L1018.57 178.5 L1019.08 177.28 L1019.58 176.07 L1020.09 174.86 L1020.59 173.66 L1021.1 172.47 L1021.6 171.28 L1022.11 170.1 L1022.61 168.93 L1023.12 167.77 L1023.62 166.61 L1024.13 165.46 L1024.63 164.32 L1025.14 163.18 L1025.64 162.05 L1026.15 160.93 L1026.65 159.82 L1027.16 158.72 L1027.67 157.62 L1028.17 156.53 L1028.68 155.45 L1029.18 154.38 L1029.69 153.32 L1030.19 152.26 L1030.7 151.22 L1031.2 150.18 L1031.71 149.15 L1032.21 148.13 L1032.72 147.12 L1033.22 146.11 L1033.73 145.12 L1034.23 144.13 L1034.74 143.16 L1035.24 142.19 L1035.75 141.23 L1036.25 140.28 L1036.76 139.34 L1037.26 138.41 L1037.77 137.49 L1038.27 136.57 L1038.78 135.67 L1039.28 134.78 L1039.79 133.9 L1040.29 133.02 L1040.8 132.16 L1041.3 131.3 L1041.81 130.46 L1042.31 129.62 L1042.82 128.8 L1043.32 127.99 L1043.83 127.18 L1044.33 126.39 L1044.84 125.6 L1045.34 124.83 L1045.85 124.07 L1046.36 123.31 L1046.86 122.57 L1047.37 121.84 L1047.87 121.12 L1048.38 120.41 L1048.88 119.71 L1049.39 119.02 L1049.89 118.34 L1050.4 117.67 L1050.9 117.02 L1051.41 116.37 L1051.91 115.73 L1052.42 115.11 L1052.92 114.5 L1053.43 113.89 L1053.93 113.3 L1054.44 112.72 L1054.94 112.15 L1055.45 111.6 L1055.95 111.05 L1056.46 110.52 L1056.96 109.99 L1057.47 109.48 L1057.97 108.98 L1058.48 108.49 L1058.98 108.01 L1059.49 107.54 L1059.99 107.09 L1060.5 106.65 L1061 106.22 L1061.51 105.8 L1062.01 105.39 L1062.52 104.99 L1063.02 104.61 L1063.53 104.23 L1064.04 103.87 L1064.54 103.52 L1065.05 103.18 L1065.55 102.86 L1066.06 102.54 L1066.56 102.24 L1067.07 101.95 L1067.57 101.67 L1068.08 101.41 L1068.58 101.15 L1069.09 100.91 L1069.59 100.68 L1070.1 100.46 L1070.6 100.25 L1071.11 100.06 L1071.61 99.88 L1072.12 99.71 L1072.62 99.55 L1073.13 99.4 L1073.63 99.27 L1074.14 99.15 L1074.64 99.04 L1075.15 98.94 L1075.65 98.86 L1076.16 98.78 L1076.66 98.72 L1077.17 98.67 L1077.67 98.64 L1078.18 98.61 L1078.68 98.6 L1079.19 98.6 L1079.69 98.61 L1080.2 98.64 L1080.7 98.67 L1081.21 98.72 L1081.71 98.78 L1082.22 98.86 L1082.73 98.94 L1083.23 99.04 L1083.74 99.15 L1084.24 99.27 L1084.75 99.4 L1085.25 99.55 L1085.76 99.71 L1086.26 99.88 L1086.77 100.06 L1087.27 100.26 L1087.78 100.46 L1088.28 100.68 L1088.79 100.91 L1089.29 101.15 L1089.8 101.41 L1090.3 101.67 L1090.81 101.95 L1091.31 102.24 L1091.82 102.54 L1092.32 102.86 L1092.83 103.18 L1093.33 103.52 L1093.84 103.87 L1094.34 104.23 L1094.85 104.61 L1095.35 104.99 L1095.86 105.39 L1096.36 105.8 L1096.87 106.22 L1097.37 106.65 L1097.88 107.09 L1098.38 107.55 L1098.89 108.01 L1099.39 108.49 L1099.9 108.98 L1100.4 109.48 L1100.91 109.99 L1101.42 110.52 L1101.92 111.05 L1102.43 111.6 L1102.93 112.16 L1103.44 112.72 L1103.94 113.3 L1104.45 113.9 L1104.95 114.5 L1105.46 115.11 L1105.96 115.74 L1106.47 116.37 L1106.97 117.02 L1107.48 117.67 L1107.98 118.34 L1108.49 119.02 L1108.99 119.71 L1109.5 120.41 L1110 121.12 L1110.51 121.84 L1111.01 122.57 L1111.52 123.32 L1112.02 124.07 L1112.53 124.83 L1113.03 125.61 L1113.54 126.39 L1114.04 127.18 L1114.55 127.99 L1115.05 128.8 L1115.56 129.63 L1116.06 130.46 L1116.57 131.31 L1117.07 132.16 L1117.58 133.02 L1118.08 133.9 L1118.59 134.78 L1119.09 135.67 L1119.6 136.58 L1120.11 137.49 L1120.61 138.41 L1121.12 139.34 L1121.62 140.28 L1122.13 141.23 L1122.63 142.19 L1123.14 143.16 L1123.64 144.14 L1124.15 145.12 L1124.65 146.12 L1125.16 147.12 L1125.66 148.13 L1126.17 149.15 L1126.67 150.18 L1127.18 151.22 L1127.68 152.27 L1128.19 153.32 L1128.69 154.39 L1129.2 155.46 L1129.7 156.54 L1130.21 157.63 L1130.71 158.72 L1131.22 159.83 L1131.72 160.94 L1132.23 162.06 L1132.73 163.18 L1133.24 164.32 L1133.74 165.46 L1134.25 166.61 L1134.75 167.77 L1135.26 168.93 L1135.76 170.11 L1136.27 171.29 L1136.77 172.47 L1137.28 173.66 L1137.78 174.86 L1138.29 176.07 L1138.8 177.29 L1139.3 178.51 L1139.81 179.73 L1140.31 180.97 L1140.82 182.21 L1141.32 183.45 L1141.83 184.7 L1142.33 185.96 L1142.84 187.23 L1143.34 188.5 L1143.85 189.77 L1144.35 191.05 L1144.86 192.34 L1145.36 193.64 L1145.87 194.93 L1146.37 196.24 L1146.88 197.55 L1147.38 198.86 L1147.89 200.18 L1148.39 201.51 L1148.9 202.84 L1149.4 204.17 L1149.91 205.51 L1150.41 206.85 L1150.92 208.2 L1151.42 209.56 L1151.93 210.91 L1152.43 212.27 L1152.94 213.64 L1153.44 215.01 L1153.95 216.38 L1154.45 217.76 L1154.96 219.14 L1155.46 220.53 L1155.97 221.92 L1156.48 223.31 L1156.98 224.71 L1157.49 226.11 L1157.99 227.51 L1158.5 228.91 L1159 230.32 L1159.51 231.73 L1160.01 233.15 L1160.52 234.57 L1161.02 235.99 L1161.53 237.41 L1162.03 238.83 L1162.54 240.26 L1163.04 241.69 L1163.55 243.12 L1164.05 244.55 L1164.56 245.99 L1165.06 247.42 L1165.57 248.86 L1166.07 250.3 L1166.58 251.75 L1167.08 253.19 L1167.59 254.63 L1168.09 256.08 L1168.6 257.53 L1169.1 258.97 L1169.61 260.42 L1170.11 261.87 L1170.62 263.32 L1171.12 264.77 L1171.63 266.23 L1172.13 267.68 L1172.64 269.13 L1173.14 270.58 L1173.65 272.03 L1174.15 273.49 L1174.66 274.94 L1175.17 276.39 L1175.67 277.84 L1176.18 279.29 L1176.68 280.74 L1177.19 282.19 L1177.69 283.64 L1178.2 285.09 L1178.7 286.54 L1179.21 287.99 L1179.71 289.43 L1180.22 290.88 L1180.72 292.32 L1181.23 293.76 L1181.73 295.2 L1182.24 296.64 L1182.74 298.08 L1183.25 299.51 L1183.75 300.94 L1184.26 302.37 L1184.76 303.8 L1185.27 305.23 L1185.77 306.65 L1186.28 308.07 L1186.78 309.49 L1187.29 310.91 L1187.79 312.32 L1188.3 313.73 L1188.8 315.14 L1189.31 316.55 L1189.81 317.95 L1190.32 319.35 L1190.82 320.74 L1191.33 322.13 L1191.83 323.52 L1192.34 324.91 L1192.84 326.29 L1193.35 327.66 L1193.86 329.04 L1194.36 330.41 L1194.87 331.77 L1195.37 333.13 L1195.88 334.49 L1196.38 335.84 L1196.89 337.19 L1197.39 338.53 L1197.9 339.87 L1198.4 341.2 L1198.91 342.53 L1199.41 343.85 L1199.92 345.17 L1200.42 346.48 L1200.93 347.79 L1201.43 349.1 L1201.94 350.39 L1202.44 351.68 L1202.95 352.97 L1203.45 354.25 L1203.96 355.53 L1204.46 356.79 L1204.97 358.06 L1205.47 359.31 L1205.98 360.56 L1206.48 361.81 L1206.99 363.05 L1207.49 364.28 L1208 365.5 L1208.5 366.72 L1209.01 367.93 L1209.51 369.14 L1210.02 370.34 L1210.52 371.53 L1211.03 372.71 L1211.53 373.89 L1212.04 375.06 L1212.55 376.22 L1213.05 377.38 L1213.56 378.53 L1214.06 379.67 L1214.57 380.8 L1215.07 381.93 L1215.58 383.04 L1216.08 384.15 L1216.59 385.26 L1217.09 386.35 L1217.6 387.44 L1218.1 388.51 L1218.61 389.58 L1219.11 390.65 L1219.62 391.7 L1220.12 392.74 L1220.63 393.78 L1221.13 394.81 L1221.64 395.83 L1222.14 396.84 L1222.65 397.84 L1223.15 398.83 L1223.66 399.81 L1224.16 400.79 L1224.67 401.75 L1225.17 402.71 L1225.68 403.66 L1226.18 404.59 L1226.69 405.52 L1227.19 406.44 L1227.7 407.35 L1228.2 408.25 L1228.71 409.14 L1229.21 410.02 L1229.72 410.9 L1230.23 411.76 L1230.73 412.61 L1231.24 413.45 L1231.74 414.28 L1232.25 415.1 L1232.75 415.92 L1233.26 416.72 L1233.76 417.51 L1234.27 418.29 L1234.77 419.06 L1235.28 419.82 L1235.78 420.57 L1236.29 421.31 L1236.79 422.04 L1237.3 422.76 L1237.8 423.47 L1238.31 424.17 L1238.81 424.85 L1239.32 425.53 L1239.82 426.19 L1240.33 426.85 L1240.83 427.49 L1241.34 428.12 L1241.84 428.74 L1242.35 429.36 L1242.85 429.95 L1243.36 430.54 L1243.86 431.12 L1244.37 431.69 L1244.87 432.24 L1245.38 432.78 L1245.88 433.32 L1246.39 433.84 L1246.89 434.35 L1247.4 434.84 L1247.9 435.33 L1248.41 435.81 L1248.92 436.27 L1249.42 436.72 L1249.93 437.16 L1250.43 437.59 L1250.94 438.01 L1251.44 438.41 L1251.95 438.81 L1252.45 439.19 L1252.96 439.56 L1253.46 439.92 L1253.97 440.26 L1254.47 440.6 L1254.98 440.92 L1255.48 441.23 L1255.99 441.53 L1256.49 441.82 L1257 442.1 L1257.5 442.36 L1258.01 442.61 L1258.51 442.85 L1259.02 443.08 L1259.52 443.29 L1260.03 443.5 L1260.53 443.69 L1261.04 443.87 L1261.54 444.03 L1262.05 444.19 L1262.55 444.33 L1263.06 444.46 L1263.56 444.58 L1264.07 444.69 L1264.57 444.78 L1265.08 444.86 L1265.58 444.93 L1266.09 444.99 L1266.59 445.04 L1267.1 445.07" fill="none" stroke="#ff0000" stroke-width="4.3" stroke-linecap="butt" stroke-linejoin="round" clip-path="url(#ca)"/>
<path d="M509.9 445.1 L510.2 445.1 L510.5 445.1 L510.8 445.1 L511.1 445.1 L511.4 445.1 L511.7 445.1 L512 445.1 L512.3 445.1 L512.6 445.1 L512.9 445.1 L513.2 445.1 L513.5 445.1 L513.8 445.1 L514.1 445.1 L514.4 445.1 L514.7 445.1 L515 445.1 L515.3 445.1 L515.6 445.1 L515.9 445.1 L516.2 445.1 L516.5 445.1 L516.8 445.1 L517.1 445.1 L517.4 445.1 L517.7 445.1 L518 445.1 L518.3 445.1 L518.6 445.1 L518.9 445.1 L519.2 445.1 L519.5 445.1 L519.8 445.1 L520.1 445.1 L520.4 445.1 L520.7 445.1 L521 445.1 L521.3 445.1 L521.6 445.1 L521.9 445.1 L522.2 445.1 L522.5 445.1 L522.81 445.1 L523.11 445.1 L523.41 445.1 L523.71 445.1 L524.01 445.1 L524.31 445.1 L524.61 445.1 L524.91 445.1 L525.21 445.1 L525.51 445.1 L525.81 445.1 L526.11 445.1 L526.41 445.1 L526.71 445.1 L527.01 445.1 L527.31 445.1 L527.61 445.1 L527.91 445.1 L528.21 445.1 L528.51 445.1 L528.81 445.1 L529.11 445.1 L529.41 445.1 L529.71 445.1 L530.01 445.1 L530.31 445.1 L530.61 445.1 L530.91 445.1 L531.21 445.1 L531.51 445.1 L531.81 445.1 L532.11 445.1 L532.41 445.1 L532.71 445.1 L533.01 445.1 L533.31 445.08 L533.61 445.02 L533.91 444.92 L534.21 444.8 L534.51 444.65 L534.81 444.49 L535.11 444.31 L535.41 444.12 L535.71 443.92 L536.01 443.72 L536.31 443.53 L536.61 443.31 L536.91 443.07 L537.21 442.8 L537.51 442.51 L537.81 442.19 L538.11 441.87 L538.41 441.52 L538.71 441.16 L539.01 440.8 L539.31 440.42 L539.61 440.03 L539.91 439.65 L540.21 439.26 L540.51 438.87 L540.81 438.48 L541.11 438.1 L541.41 437.73 L541.71 437.36 L542.01 437 L542.31 436.63 L542.61 436.25 L542.91 435.88 L543.21 435.49 L543.51 435.11 L543.81 434.72 L544.11 434.33 L544.41 433.94 L544.71 433.55 L545.01 433.15 L545.31 432.75 L545.61 432.35 L545.91 431.95 L546.21 431.54 L546.51 431.14 L546.81 430.73 L547.11 430.33 L547.41 429.92 L547.71 429.51 L548.02 429.1 L548.32 428.7 L548.62 428.29 L548.92 427.88 L549.22 427.48 L549.52 427.07 L549.82 426.67 L550.12 426.27 L550.42 425.86 L550.72 425.46 L551.02 425.07 L551.32 424.67 L551.62 424.28 L551.92 423.89 L552.22 423.5 L552.52 423.11 L552.82 422.72 L553.12 422.33 L553.42 421.95 L553.72 421.56 L554.02 421.18 L554.32 420.8 L554.62 420.41 L554.92 420.03 L555.22 419.65 L555.52 419.27 L555.82 418.89 L556.12 418.5 L556.42 418.12 L556.72 417.74 L557.02 417.36 L557.32 416.98 L557.62 416.6 L557.92 416.21 L558.22 415.83 L558.52 415.45 L558.82 415.06 L559.12 414.68 L559.42 414.29 L559.72 413.9 L560.02 413.51 L560.32 413.12 L560.62 412.73 L560.92 412.34 L561.22 411.95 L561.52 411.55 L561.82 411.15 L562.12 410.75 L562.42 410.35 L562.72 409.95 L563.02 409.54 L563.32 409.14 L563.62 408.73 L563.92 408.31 L564.22 407.9 L564.52 407.49 L564.82 407.07 L565.12 406.65 L565.42 406.24 L565.72 405.82 L566.02 405.39 L566.32 404.97 L566.62 404.55 L566.92 404.12 L567.22 403.7 L567.52 403.27 L567.82 402.84 L568.12 402.41 L568.42 401.98 L568.72 401.55 L569.02 401.12 L569.32 400.68 L569.62 400.25 L569.92 399.82 L570.22 399.38 L570.52 398.94 L570.82 398.51 L571.12 398.07 L571.42 397.63 L571.72 397.2 L572.02 396.76 L572.32 396.32 L572.62 395.88 L572.92 395.44 L573.23 395 L573.53 394.56 L573.83 394.13 L574.13 393.69 L574.43 393.25 L574.73 392.81 L575.03 392.37 L575.33 391.93 L575.63 391.49 L575.93 391.06 L576.23 390.62 L576.53 390.18 L576.83 389.74 L577.13 389.31 L577.43 388.87 L577.73 388.43 L578.03 388 L578.33 387.56 L578.63 387.12 L578.93 386.68 L579.23 386.25 L579.53 385.81 L579.83 385.37 L580.13 384.93 L580.43 384.49 L580.73 384.05 L581.03 383.6 L581.33 383.16 L581.63 382.72 L581.93 382.27 L582.23 381.83 L582.53 381.38 L582.83 380.93 L583.13 380.48 L583.43 380.03 L583.73 379.58 L584.03 379.13 L584.33 378.67 L584.63 378.21 L584.93 377.76 L585.23 377.3 L585.53 376.83 L585.83 376.37 L586.13 375.91 L586.43 375.44 L586.73 374.97 L587.03 374.5 L587.33 374.02 L587.63 373.55 L587.93 373.07 L588.23 372.59 L588.53 372.11 L588.83 371.63 L589.13 371.15 L589.43 370.66 L589.73 370.18 L590.03 369.69 L590.33 369.21 L590.63 368.72 L590.93 368.23 L591.23 367.74 L591.53 367.25 L591.83 366.76 L592.13 366.26 L592.43 365.77 L592.73 365.27 L593.03 364.77 L593.33 364.27 L593.63 363.76 L593.93 363.25 L594.23 362.74 L594.53 362.23 L594.83 361.72 L595.13 361.2 L595.43 360.68 L595.73 360.15 L596.03 359.63 L596.33 359.1 L596.63 358.56 L596.93 358.03 L597.23 357.49 L597.53 356.94 L597.83 356.39 L598.13 355.84 L598.44 355.29 L598.74 354.73 L599.04 354.16 L599.34 353.6 L599.64 353.02 L599.94 352.45 L600.24 351.86 L600.54 351.26 L600.84 350.66 L601.14 350.05 L601.44 349.44 L601.74 348.82 L602.04 348.19 L602.34 347.55 L602.64 346.92 L602.94 346.27 L603.24 345.62 L603.54 344.97 L603.84 344.31 L604.14 343.65 L604.44 342.99 L604.74 342.33 L605.04 341.66 L605.34 340.99 L605.64 340.32 L605.94 339.65 L606.24 338.98 L606.54 338.3 L606.84 337.63 L607.14 336.96 L607.44 336.29 L607.74 335.62 L608.04 334.95 L608.34 334.28 L608.64 333.62 L608.94 332.96 L609.24 332.3 L609.54 331.65 L609.84 331 L610.14 330.35 L610.44 329.71 L610.74 329.07 L611.04 328.43 L611.34 327.79 L611.64 327.16 L611.94 326.52 L612.24 325.89 L612.54 325.26 L612.84 324.63 L613.14 323.99 L613.44 323.36 L613.74 322.73 L614.04 322.1 L614.34 321.46 L614.64 320.83 L614.94 320.19 L615.24 319.55 L615.54 318.9 L615.84 318.26 L616.14 317.61 L616.44 316.96 L616.74 316.3 L617.04 315.64 L617.34 314.98 L617.64 314.31 L617.94 313.63 L618.24 312.95 L618.54 312.27 L618.84 311.57 L619.14 310.88 L619.44 310.17 L619.74 309.46 L620.04 308.74 L620.34 308 L620.64 307.26 L620.94 306.51 L621.24 305.76 L621.54 304.99 L621.84 304.22 L622.14 303.44 L622.44 302.66 L622.74 301.88 L623.04 301.08 L623.34 300.29 L623.65 299.49 L623.95 298.69 L624.25 297.89 L624.55 297.09 L624.85 296.28 L625.15 295.48 L625.45 294.67 L625.75 293.87 L626.05 293.07 L626.35 292.27 L626.65 291.48 L626.95 290.69 L627.25 289.9 L627.55 289.11 L627.85 288.34 L628.15 287.57 L628.45 286.8 L628.75 286.03 L629.05 285.27 L629.35 284.51 L629.65 283.75 L629.95 282.99 L630.25 282.24 L630.55 281.49 L630.85 280.73 L631.15 279.98 L631.45 279.23 L631.75 278.48 L632.05 277.72 L632.35 276.97 L632.65 276.21 L632.95 275.45 L633.25 274.69 L633.55 273.93 L633.85 273.17 L634.15 272.4 L634.45 271.63 L634.75 270.85 L635.05 270.07 L635.35 269.29 L635.65 268.5 L635.95 267.7 L636.25 266.9 L636.55 266.1 L636.85 265.28 L637.15 264.46 L637.45 263.63 L637.75 262.79 L638.05 261.95 L638.35 261.11 L638.65 260.26 L638.95 259.4 L639.25 258.55 L639.55 257.69 L639.85 256.82 L640.15 255.96 L640.45 255.1 L640.75 254.24 L641.05 253.37 L641.35 252.51 L641.65 251.65 L641.95 250.8 L642.25 249.94 L642.55 249.09 L642.85 248.25 L643.15 247.41 L643.45 246.58 L643.75 245.74 L644.05 244.9 L644.35 244.06 L644.65 243.23 L644.95 242.39 L645.25 241.55 L645.55 240.72 L645.85 239.89 L646.15 239.06 L646.45 238.24 L646.75 237.42 L647.05 236.6 L647.35 235.79 L647.65 234.99 L647.95 234.19 L648.25 233.4 L648.55 232.62 L648.86 231.84 L649.16 231.08 L649.46 230.32 L649.76 229.57 L650.06 228.82 L650.36 228.08 L650.66 227.34 L650.96 226.61 L651.26 225.88 L651.56 225.16 L651.86 224.43 L652.16 223.71 L652.46 222.99 L652.76 222.26 L653.06 221.54 L653.36 220.82 L653.66 220.09 L653.96 219.36 L654.26 218.63 L654.56 217.9 L654.86 217.16 L655.16 216.42 L655.46 215.69 L655.76 214.95 L656.06 214.21 L656.36 213.48 L656.66 212.74 L656.96 212.01 L657.26 211.27 L657.56 210.54 L657.86 209.82 L658.16 209.09 L658.46 208.37 L658.76 207.66 L659.06 206.94 L659.36 206.24 L659.66 205.53 L659.96 204.84 L660.26 204.15 L660.56 203.46 L660.86 202.79 L661.16 202.11 L661.46 201.45 L661.76 200.78 L662.06 200.12 L662.36 199.47 L662.66 198.82 L662.96 198.17 L663.26 197.52 L663.56 196.88 L663.86 196.24 L664.16 195.6 L664.46 194.97 L664.76 194.33 L665.06 193.7 L665.36 193.07 L665.66 192.44 L665.96 191.81 L666.26 191.19 L666.56 190.56 L666.86 189.93 L667.16 189.3 L667.46 188.68 L667.76 188.05 L668.06 187.42 L668.36 186.79 L668.66 186.16 L668.96 185.53 L669.26 184.89 L669.56 184.26 L669.86 183.63 L670.16 183 L670.46 182.37 L670.76 181.74 L671.06 181.12 L671.36 180.49 L671.66 179.87 L671.96 179.25 L672.26 178.63 L672.56 178.01 L672.86 177.4 L673.16 176.78 L673.46 176.18 L673.76 175.57 L674.06 174.97 L674.37 174.37 L674.67 173.77 L674.97 173.17 L675.27 172.58 L675.57 171.98 L675.87 171.39 L676.17 170.8 L676.47 170.21 L676.77 169.62 L677.07 169.04 L677.37 168.46 L677.67 167.88 L677.97 167.3 L678.27 166.72 L678.57 166.15 L678.87 165.57 L679.17 165 L679.47 164.44 L679.77 163.87 L680.07 163.31 L680.37 162.75 L680.67 162.19 L680.97 161.63 L681.27 161.08 L681.57 160.52 L681.87 159.97 L682.17 159.42 L682.47 158.87 L682.77 158.33 L683.07 157.78 L683.37 157.24 L683.67 156.71 L683.97 156.17 L684.27 155.64 L684.57 155.12 L684.87 154.59 L685.17 154.08 L685.47 153.56 L685.77 153.05 L686.07 152.54 L686.37 152.04 L686.67 151.53 L686.97 151.03 L687.27 150.52 L687.57 150.02 L687.87 149.52 L688.17 149.03 L688.47 148.53 L688.77 148.04 L689.07 147.55 L689.37 147.07 L689.67 146.59 L689.97 146.12 L690.27 145.65 L690.57 145.18 L690.87 144.73 L691.17 144.27 L691.47 143.83 L691.77 143.39 L692.07 142.96 L692.37 142.54 L692.67 142.12 L692.97 141.71 L693.27 141.3 L693.57 140.89 L693.87 140.49 L694.17 140.09 L694.47 139.7 L694.77 139.31 L695.07 138.92 L695.37 138.54 L695.67 138.16 L695.97 137.79 L696.27 137.42 L696.57 137.06 L696.87 136.7 L697.17 136.34 L697.47 136 L697.77 135.65 L698.07 135.31 L698.37 134.98 L698.67 134.65 L698.97 134.33 L699.27 134.02 L699.58 133.7 L699.88 133.39 L700.18 133.08 L700.48 132.77 L700.78 132.47 L701.08 132.17 L701.38 131.87 L701.68 131.57 L701.98 131.28 L702.28 130.99 L702.58 130.7 L702.88 130.41 L703.18 130.13 L703.48 129.85 L703.78 129.58 L704.08 129.31 L704.38 129.04 L704.68 128.77 L704.98 128.51 L705.28 128.25 L705.58 128 L705.88 127.75 L706.18 127.5 L706.48 127.26 L706.78 127.02 L707.08 126.78 L707.38 126.55 L707.68 126.33 L707.98 126.1 L708.28 125.89 L708.58 125.67 L708.88 125.46 L709.18 125.25 L709.48 125.03 L709.78 124.82 L710.08 124.61 L710.38 124.4 L710.68 124.19 L710.98 123.98 L711.28 123.77 L711.58 123.57 L711.88 123.37 L712.18 123.17 L712.48 122.98 L712.78 122.79 L713.08 122.6 L713.38 122.41 L713.68 122.23 L713.98 122.06 L714.28 121.89 L714.58 121.72 L714.88 121.56 L715.18 121.41 L715.48 121.26 L715.78 121.12 L716.08 120.98 L716.38 120.85 L716.68 120.73 L716.98 120.61 L717.28 120.51 L717.58 120.41 L717.88 120.31 L718.18 120.21 L718.48 120.12 L718.78 120.02 L719.08 119.93 L719.38 119.84 L719.68 119.74 L719.98 119.65 L720.28 119.56 L720.58 119.47 L720.88 119.38 L721.18 119.29 L721.48 119.21 L721.78 119.13 L722.08 119.04 L722.38 118.97 L722.68 118.89 L722.98 118.82 L723.28 118.74 L723.58 118.68 L723.88 118.61 L724.18 118.55 L724.48 118.49 L724.79 118.43 L725.09 118.38 L725.39 118.34 L725.69 118.29 L725.99 118.25 L726.29 118.22 L726.59 118.18 L726.89 118.16 L727.19 118.14 L727.49 118.12 L727.79 118.11 L728.09 118.1 L728.39 118.1 L728.69 118.11 L728.99 118.12 L729.29 118.13 L729.59 118.16 L729.89 118.19 L730.19 118.22 L730.49 118.26 L730.79 118.3 L731.09 118.35 L731.39 118.41 L731.69 118.47 L731.99 118.53 L732.29 118.59 L732.59 118.66 L732.89 118.74 L733.19 118.81 L733.49 118.89 L733.79 118.97 L734.09 119.06 L734.39 119.14 L734.69 119.23 L734.99 119.32 L735.29 119.41 L735.59 119.51 L735.89 119.6 L736.19 119.7 L736.49 119.8 L736.79 119.92 L737.09 120.06 L737.39 120.21 L737.69 120.37 L737.99 120.55 L738.29 120.73 L738.59 120.94 L738.89 121.15 L739.19 121.37 L739.49 121.6 L739.79 121.84 L740.09 122.08 L740.39 122.34 L740.69 122.59 L740.99 122.86 L741.29 123.13 L741.59 123.4 L741.89 123.67 L742.19 123.95 L742.49 124.23 L742.79 124.51 L743.09 124.79 L743.39 125.06 L743.69 125.34 L743.99 125.61 L744.29 125.88 L744.59 126.16 L744.89 126.43 L745.19 126.72 L745.49 127.01 L745.79 127.3 L746.09 127.59 L746.39 127.9 L746.69 128.2 L746.99 128.51 L747.29 128.83 L747.59 129.15 L747.89 129.47 L748.19 129.8 L748.49 130.13 L748.79 130.46 L749.09 130.8 L749.39 131.14 L749.69 131.49 L750 131.84 L750.3 132.19 L750.6 132.54 L750.9 132.9 L751.2 133.27 L751.5 133.63 L751.8 134 L752.1 134.37 L752.4 134.74 L752.7 135.12 L753 135.5 L753.3 135.89 L753.6 136.28 L753.9 136.68 L754.2 137.08 L754.5 137.48 L754.8 137.89 L755.1 138.31 L755.4 138.73 L755.7 139.16 L756 139.59 L756.3 140.03 L756.6 140.48 L756.9 140.94 L757.2 141.4 L757.5 141.87 L757.8 142.35 L758.1 142.83 L758.4 143.33 L758.7 143.83 L759 144.34 L759.3 144.86 L759.6 145.4 L759.9 145.95 L760.2 146.51 L760.5 147.08 L760.8 147.66 L761.1 148.25 L761.4 148.86 L761.7 149.48 L762 150.1 L762.3 150.74 L762.6 151.39 L762.9 152.05 L763.2 152.73 L763.5 153.41 L763.8 154.1 L764.1 154.8 L764.4 155.52 L764.7 156.25 L765 157.01 L765.3 157.78 L765.6 158.57 L765.9 159.37 L766.2 160.2 L766.5 161.04 L766.8 161.9 L767.1 162.77 L767.4 163.66 L767.7 164.57 L768 165.5 L768.3 166.44 L768.6 167.42 L768.9 168.43 L769.2 169.47 L769.5 170.53 L769.8 171.61 L770.1 172.72 L770.4 173.83 L770.7 174.96 L771 176.1 L771.3 177.25 L771.6 178.4 L771.9 179.57 L772.2 180.76 L772.5 181.98 L772.8 183.21 L773.1 184.45 L773.4 185.7 L773.7 186.95 L774 188.2 L774.3 189.45 L774.6 190.7 L774.9 191.93 L775.21 193.15 L775.51 194.36 L775.81 195.57 L776.11 196.78 L776.41 197.98 L776.71 199.19 L777.01 200.4 L777.31 201.63 L777.61 202.86 L777.91 204.11 L778.21 205.37 L778.51 206.66 L778.81 207.97 L779.11 209.31 L779.41 210.69 L779.71 212.09 L780.01 213.5 L780.31 214.92 L780.61 216.34 L780.91 217.75 L781.21 219.13 L781.51 220.48 L781.81 221.85 L782.11 223.22 L782.41 224.6 L782.71 225.97 L783.01 227.32 L783.31 228.65 L783.61 229.95 L783.91 231.2 L784.21 232.4 L784.51 233.53 L784.81 234.62 L785.11 235.67 L785.41 236.7 L785.71 237.7 L786.01 238.67 L786.31 239.62 L786.61 240.55 L786.91 241.46 L787.21 242.35 L787.51 243.23 L787.81 244.1 L788.11 244.96 L788.41 245.81 L788.71 246.65 L789.01 247.48 L789.31 248.29 L789.61 249.09 L789.91 249.88 L790.21 250.66 L790.51 251.43 L790.81 252.19 L791.11 252.94 L791.41 253.69 L791.71 254.42 L792.01 255.15 L792.31 255.87 L792.61 256.59 L792.91 257.3 L793.21 258 L793.51 258.7 L793.81 259.38 L794.11 260.06 L794.41 260.73 L794.71 261.4 L795.01 262.06 L795.31 262.71 L795.61 263.36 L795.91 264.01 L796.21 264.65 L796.51 265.28 L796.81 265.91 L797.11 266.55 L797.41 267.17 L797.71 267.8 L798.01 268.43 L798.31 269.05 L798.61 269.68 L798.91 270.3 L799.21 270.93 L799.51 271.55 L799.81 272.18 L800.11 272.81 L800.42 273.44 L800.72 274.08 L801.02 274.72 L801.32 275.36 L801.62 276.01 L801.92 276.66 L802.22 277.32 L802.52 277.99 L802.82 278.66 L803.12 279.34 L803.42 280.02 L803.72 280.71 L804.02 281.4 L804.32 282.1 L804.62 282.8 L804.92 283.5 L805.22 284.21 L805.52 284.92 L805.82 285.63 L806.12 286.34 L806.42 287.06 L806.72 287.78 L807.02 288.5 L807.32 289.22 L807.62 289.94 L807.92 290.66 L808.22 291.39 L808.52 292.11 L808.82 292.84 L809.12 293.56 L809.42 294.29 L809.72 295.01 L810.02 295.74 L810.32 296.46 L810.62 297.18 L810.92 297.9 L811.22 298.62 L811.52 299.33 L811.82 300.05 L812.12 300.76 L812.42 301.47 L812.72 302.18 L813.02 302.89 L813.32 303.6 L813.62 304.32 L813.92 305.03 L814.22 305.74 L814.52 306.45 L814.82 307.16 L815.12 307.87 L815.42 308.58 L815.72 309.29 L816.02 310 L816.32 310.71 L816.62 311.42 L816.92 312.13 L817.22 312.84 L817.52 313.55 L817.82 314.26 L818.12 314.97 L818.42 315.68 L818.72 316.39 L819.02 317.1 L819.32 317.81 L819.62 318.52 L819.92 319.23 L820.22 319.94 L820.52 320.65 L820.82 321.37 L821.12 322.08 L821.42 322.8 L821.72 323.52 L822.02 324.24 L822.32 324.96 L822.62 325.68 L822.92 326.4 L823.22 327.13 L823.52 327.85 L823.82 328.57 L824.12 329.3 L824.42 330.02 L824.72 330.74 L825.02 331.46 L825.32 332.18 L825.62 332.9 L825.93 333.62 L826.23 334.34 L826.53 335.05 L826.83 335.76 L827.13 336.47 L827.43 337.17 L827.73 337.87 L828.03 338.57 L828.33 339.27 L828.63 339.96 L828.93 340.65 L829.23 341.33 L829.53 342.01 L829.83 342.69 L830.13 343.37 L830.43 344.05 L830.73 344.73 L831.03 345.4 L831.33 346.08 L831.63 346.75 L831.93 347.42 L832.23 348.09 L832.53 348.76 L832.83 349.43 L833.13 350.09 L833.43 350.75 L833.73 351.42 L834.03 352.07 L834.33 352.73 L834.63 353.39 L834.93 354.04 L835.23 354.69 L835.53 355.33 L835.83 355.98 L836.13 356.62 L836.43 357.26 L836.73 357.89 L837.03 358.53 L837.33 359.16 L837.63 359.78 L837.93 360.4 L838.23 361.02 L838.53 361.64 L838.83 362.25 L839.13 362.86 L839.43 363.46 L839.73 364.06 L840.03 364.66 L840.33 365.25 L840.63 365.85 L840.93 366.44 L841.23 367.03 L841.53 367.62 L841.83 368.21 L842.13 368.8 L842.43 369.38 L842.73 369.96 L843.03 370.54 L843.33 371.12 L843.63 371.69 L843.93 372.27 L844.23 372.83 L844.53 373.4 L844.83 373.96 L845.13 374.52 L845.43 375.08 L845.73 375.63 L846.03 376.18 L846.33 376.73 L846.63 377.27 L846.93 377.81 L847.23 378.35 L847.53 378.88 L847.83 379.4 L848.13 379.93 L848.43 380.44 L848.73 380.96 L849.03 381.47 L849.33 381.97 L849.63 382.47 L849.93 382.97 L850.23 383.46 L850.53 383.94 L850.83 384.42 L851.14 384.9 L851.44 385.38 L851.74 385.85 L852.04 386.32 L852.34 386.78 L852.64 387.25 L852.94 387.71 L853.24 388.16 L853.54 388.62 L853.84 389.07 L854.14 389.52 L854.44 389.96 L854.74 390.4 L855.04 390.84 L855.34 391.28 L855.64 391.72 L855.94 392.15 L856.24 392.58 L856.54 393.01 L856.84 393.43 L857.14 393.86 L857.44 394.28 L857.74 394.7 L858.04 395.11 L858.34 395.53 L858.64 395.94 L858.94 396.36 L859.24 396.77 L859.54 397.17 L859.84 397.58 L860.14 397.99 L860.44 398.39 L860.74 398.79 L861.04 399.2 L861.34 399.6 L861.64 399.99 L861.94 400.39 L862.24 400.79 L862.54 401.18 L862.84 401.58 L863.14 401.98 L863.44 402.37 L863.74 402.77 L864.04 403.17 L864.34 403.57 L864.64 403.96 L864.94 404.36 L865.24 404.75 L865.54 405.15 L865.84 405.54 L866.14 405.94 L866.44 406.33 L866.74 406.72 L867.04 407.1 L867.34 407.49 L867.64 407.87 L867.94 408.26 L868.24 408.64 L868.54 409.01 L868.84 409.39 L869.14 409.76 L869.44 410.13 L869.74 410.49 L870.04 410.85 L870.34 411.21 L870.64 411.56 L870.94 411.92 L871.24 412.26 L871.54 412.6 L871.84 412.94 L872.14 413.27 L872.44 413.6 L872.74 413.92 L873.04 414.24 L873.34 414.55 L873.64 414.86 L873.94 415.16 L874.24 415.46 L874.54 415.75 L874.84 416.03 L875.14 416.32 L875.44 416.6 L875.74 416.88 L876.04 417.16 L876.35 417.43 L876.65 417.71 L876.95 417.98 L877.25 418.25 L877.55 418.52 L877.85 418.78 L878.15 419.05 L878.45 419.31 L878.75 419.56 L879.05 419.82 L879.35 420.07 L879.65 420.32 L879.95 420.56 L880.25 420.8 L880.55 421.04 L880.85 421.27 L881.15 421.5 L881.45 421.72 L881.75 421.94 L882.05 422.15 L882.35 422.36 L882.65 422.57 L882.95 422.77 L883.25 422.97 L883.55 423.16 L883.85 423.34 L884.15 423.52 L884.45 423.7 L884.75 423.86 L885.05 424.03 L885.35 424.19 L885.65 424.35 L885.95 424.52 L886.25 424.68 L886.55 424.85 L886.85 425.01 L887.15 425.17 L887.45 425.34 L887.75 425.49 L888.05 425.65 L888.35 425.8 L888.65 425.95 L888.95 426.1 L889.25 426.24 L889.55 426.37 L889.85 426.5 L890.15 426.62 L890.45 426.73 L890.75 426.83 L891.05 426.93 L891.35 427.01 L891.65 427.09 L891.95 427.16 L892.25 427.21 L892.55 427.26 L892.85 427.29 L893.15 427.31 L893.45 427.33 L893.75 427.35 L894.05 427.36 L894.35 427.38 L894.65 427.4 L894.95 427.41 L895.25 427.43 L895.55 427.44 L895.85 427.46 L896.15 427.47 L896.45 427.49 L896.75 427.5 L897.05 427.51 L897.35 427.52 L897.65 427.53 L897.95 427.54 L898.25 427.55 L898.55 427.56 L898.85 427.57 L899.15 427.57 L899.45 427.58 L899.75 427.58 L900.05 427.59 L900.35 427.59 L900.65 427.6 L900.95 427.6 L901.25 427.6 L901.56 427.6 L901.86 427.6 L902.16 427.59 L902.46 427.57 L902.76 427.55 L903.06 427.51 L903.36 427.47 L903.66 427.42 L903.96 427.37 L904.26 427.31 L904.56 427.24 L904.86 427.17 L905.16 427.09 L905.46 427.01 L905.76 426.93 L906.06 426.84 L906.36 426.74 L906.66 426.65 L906.96 426.55 L907.26 426.45 L907.56 426.35 L907.86 426.24 L908.16 426.14 L908.46 426.03 L908.76 425.93 L909.06 425.82 L909.36 425.72 L909.66 425.62 L909.96 425.51 L910.26 425.41 L910.56 425.3 L910.86 425.19 L911.16 425.07 L911.46 424.95 L911.76 424.82 L912.06 424.69 L912.36 424.56 L912.66 424.42 L912.96 424.28 L913.26 424.13 L913.56 423.98 L913.86 423.83 L914.16 423.68 L914.46 423.52 L914.76 423.36 L915.06 423.2 L915.36 423.03 L915.66 422.86 L915.96 422.69 L916.26 422.52 L916.56 422.35 L916.86 422.18 L917.16 422 L917.46 421.83 L917.76 421.65 L918.06 421.47 L918.36 421.3 L918.66 421.12 L918.96 420.94 L919.26 420.76 L919.56 420.58 L919.86 420.4 L920.16 420.22 L920.46 420.03 L920.76 419.85 L921.06 419.66 L921.36 419.47 L921.66 419.27 L921.96 419.08 L922.26 418.88 L922.56 418.68 L922.86 418.48 L923.16 418.27 L923.46 418.06 L923.76 417.85 L924.06 417.64 L924.36 417.43 L924.66 417.21 L924.96 416.99 L925.26 416.77 L925.56 416.54 L925.86 416.31 L926.16 416.08 L926.46 415.85 L926.77 415.62 L927.07 415.38 L927.37 415.14 L927.67 414.89 L927.97 414.65 L928.27 414.4 L928.57 414.14 L928.87 413.88 L929.17 413.62 L929.47 413.35 L929.77 413.08 L930.07 412.81 L930.37 412.53 L930.67 412.25 L930.97 411.96 L931.27 411.67 L931.57 411.38 L931.87 411.08 L932.17 410.78 L932.47 410.48 L932.77 410.17 L933.07 409.86 L933.37 409.55 L933.67 409.24 L933.97 408.92 L934.27 408.59 L934.57 408.27 L934.87 407.94 L935.17 407.61 L935.47 407.28 L935.77 406.94 L936.07 406.61 L936.37 406.26 L936.67 405.92 L936.97 405.57 L937.27 405.22 L937.57 404.86 L937.87 404.5 L938.17 404.14 L938.47 403.77 L938.77 403.39 L939.07 403.01 L939.37 402.63 L939.67 402.24 L939.97 401.85 L940.27 401.46 L940.57 401.06 L940.87 400.66 L941.17 400.26 L941.47 399.85 L941.77 399.44 L942.07 399.03 L942.37 398.62 L942.67 398.2 L942.97 397.78 L943.27 397.36 L943.57 396.93 L943.87 396.5 L944.17 396.08 L944.47 395.65 L944.77 395.21 L945.07 394.78 L945.37 394.34 L945.67 393.91 L945.97 393.47 L946.27 393.03 L946.57 392.59 L946.87 392.15 L947.17 391.71 L947.47 391.27 L947.77 390.82 L948.07 390.38 L948.37 389.94 L948.67 389.49 L948.97 389.05 L949.27 388.61 L949.57 388.16 L949.87 387.72 L950.17 387.28 L950.47 386.84 L950.77 386.4 L951.07 385.95 L951.37 385.51 L951.67 385.07 L951.98 384.62 L952.28 384.17 L952.58 383.72 L952.88 383.28 L953.18 382.82 L953.48 382.37 L953.78 381.92 L954.08 381.47 L954.38 381.01 L954.68 380.55 L954.98 380.09 L955.28 379.63 L955.58 379.17 L955.88 378.71 L956.18 378.24 L956.48 377.78 L956.78 377.31 L957.08 376.84 L957.38 376.37 L957.68 375.9 L957.98 375.42 L958.28 374.95 L958.58 374.47 L958.88 373.99 L959.18 373.51 L959.48 373.02 L959.78 372.54 L960.08 372.05 L960.38 371.56 L960.68 371.07 L960.98 370.57 L961.28 370.08 L961.58 369.58 L961.88 369.08 L962.18 368.58 L962.48 368.07 L962.78 367.57 L963.08 367.06 L963.38 366.54 L963.68 366.03 L963.98 365.51 L964.28 364.98 L964.58 364.46 L964.88 363.93 L965.18 363.4 L965.48 362.87 L965.78 362.33 L966.08 361.79 L966.38 361.25 L966.68 360.71 L966.98 360.16 L967.28 359.61 L967.58 359.06 L967.88 358.51 L968.18 357.96 L968.48 357.4 L968.78 356.84 L969.08 356.28 L969.38 355.72 L969.68 355.16 L969.98 354.6 L970.28 354.03 L970.58 353.47 L970.88 352.9 L971.18 352.33 L971.48 351.77 L971.78 351.2 L972.08 350.63 L972.38 350.06 L972.68 349.48 L972.98 348.91 L973.28 348.34 L973.58 347.77 L973.88 347.19 L974.18 346.61 L974.48 346.03 L974.78 345.45 L975.08 344.86 L975.38 344.27 L975.68 343.68 L975.98 343.09 L976.28 342.5 L976.58 341.9 L976.88 341.3 L977.18 340.71 L977.49 340.11 L977.79 339.51 L978.09 338.91 L978.39 338.3 L978.69 337.7 L978.99 337.1 L979.29 336.49 L979.59 335.89 L979.89 335.28 L980.19 334.68 L980.49 334.07 L980.79 333.46 L981.09 332.86 L981.39 332.25 L981.69 331.65 L981.99 331.04 L982.29 330.44 L982.59 329.83 L982.89 329.23 L983.19 328.63 L983.49 328.03 L983.79 327.42 L984.09 326.83 L984.39 326.23 L984.69 325.64 L984.99 325.05 L985.29 324.46 L985.59 323.87 L985.89 323.28 L986.19 322.7 L986.49 322.11 L986.79 321.53 L987.09 320.94 L987.39 320.36 L987.69 319.77 L987.99 319.19 L988.29 318.6 L988.59 318.01 L988.89 317.42 L989.19 316.83 L989.49 316.24 L989.79 315.64 L990.09 315.05 L990.39 314.45 L990.69 313.84 L990.99 313.24 L991.29 312.63 L991.59 312.01 L991.89 311.4 L992.19 310.77 L992.49 310.15 L992.79 309.52 L993.09 308.88 L993.39 308.24 L993.69 307.59 L993.99 306.94 L994.29 306.28 L994.59 305.61 L994.89 304.93 L995.19 304.25 L995.49 303.56 L995.79 302.86 L996.09 302.16 L996.39 301.45 L996.69 300.74 L996.99 300.02 L997.29 299.3 L997.59 298.57 L997.89 297.84 L998.19 297.11 L998.49 296.37 L998.79 295.63 L999.09 294.89 L999.39 294.15 L999.69 293.41 L999.99 292.67 L1000.29 291.93 L1000.59 291.19 L1000.89 290.45 L1001.19 289.71 L1001.49 288.97 L1001.79 288.24 L1002.09 287.5 L1002.39 286.78 L1002.7 286.05 L1003 285.33 L1003.3 284.61 L1003.6 283.9 L1003.9 283.18 L1004.2 282.47 L1004.5 281.76 L1004.8 281.05 L1005.1 280.33 L1005.4 279.62 L1005.7 278.92 L1006 278.21 L1006.3 277.5 L1006.6 276.79 L1006.9 276.07 L1007.2 275.36 L1007.5 274.65 L1007.8 273.93 L1008.1 273.22 L1008.4 272.5 L1008.7 271.78 L1009 271.06 L1009.3 270.33 L1009.6 269.6 L1009.9 268.87 L1010.2 268.13 L1010.5 267.4 L1010.8 266.65 L1011.1 265.91 L1011.4 265.15 L1011.7 264.4 L1012 263.64 L1012.3 262.88 L1012.6 262.11 L1012.9 261.34 L1013.2 260.57 L1013.5 259.8 L1013.8 259.02 L1014.1 258.24 L1014.4 257.45 L1014.7 256.67 L1015 255.88 L1015.3 255.09 L1015.6 254.29 L1015.9 253.5 L1016.2 252.7 L1016.5 251.9 L1016.8 251.1 L1017.1 250.3 L1017.4 249.49 L1017.7 248.68 L1018 247.88 L1018.3 247.07 L1018.6 246.26 L1018.9 245.45 L1019.2 244.64 L1019.5 243.82 L1019.8 243.01 L1020.1 242.19 L1020.4 241.38 L1020.7 240.56 L1021 239.73 L1021.3 238.9 L1021.6 238.07 L1021.9 237.24 L1022.2 236.4 L1022.5 235.56 L1022.8 234.72 L1023.1 233.88 L1023.4 233.04 L1023.7 232.19 L1024 231.35 L1024.3 230.51 L1024.6 229.66 L1024.9 228.82 L1025.2 227.98 L1025.5 227.14 L1025.8 226.31 L1026.1 225.47 L1026.4 224.64 L1026.7 223.81 L1027 222.99 L1027.3 222.16 L1027.6 221.34 L1027.91 220.51 L1028.21 219.69 L1028.51 218.87 L1028.81 218.05 L1029.11 217.23 L1029.41 216.41 L1029.71 215.6 L1030.01 214.78 L1030.31 213.96 L1030.61 213.14 L1030.91 212.33 L1031.21 211.51 L1031.51 210.69 L1031.81 209.87 L1032.11 209.06 L1032.41 208.24 L1032.71 207.42 L1033.01 206.6 L1033.31 205.78 L1033.61 204.96 L1033.91 204.13 L1034.21 203.31 L1034.51 202.48 L1034.81 201.65 L1035.11 200.82 L1035.41 199.99 L1035.71 199.15 L1036.01 198.33 L1036.31 197.5 L1036.61 196.67 L1036.91 195.85 L1037.21 195.03 L1037.51 194.22 L1037.81 193.41 L1038.11 192.6 L1038.41 191.8 L1038.71 191.01 L1039.01 190.22 L1039.31 189.44 L1039.61 188.66 L1039.91 187.88 L1040.21 187.1 L1040.51 186.33 L1040.81 185.56 L1041.11 184.79 L1041.41 184.03 L1041.71 183.27 L1042.01 182.51 L1042.31 181.76 L1042.61 181.01 L1042.91 180.26 L1043.21 179.51 L1043.51 178.76 L1043.81 178.02 L1044.11 177.28 L1044.41 176.54 L1044.71 175.8 L1045.01 175.06 L1045.31 174.32 L1045.61 173.58 L1045.91 172.85 L1046.21 172.11 L1046.51 171.38 L1046.81 170.65 L1047.11 169.93 L1047.41 169.21 L1047.71 168.49 L1048.01 167.77 L1048.31 167.06 L1048.61 166.35 L1048.91 165.64 L1049.21 164.94 L1049.51 164.25 L1049.81 163.56 L1050.11 162.87 L1050.41 162.19 L1050.71 161.52 L1051.01 160.86 L1051.31 160.2 L1051.61 159.55 L1051.91 158.91 L1052.21 158.28 L1052.51 157.64 L1052.81 157.02 L1053.12 156.39 L1053.42 155.77 L1053.72 155.14 L1054.02 154.51 L1054.32 153.89 L1054.62 153.26 L1054.92 152.62 L1055.22 151.98 L1055.52 151.34 L1055.82 150.68 L1056.12 150.02 L1056.42 149.35 L1056.72 148.66 L1057.02 147.96 L1057.32 147.26 L1057.62 146.55 L1057.92 145.84 L1058.22 145.13 L1058.52 144.43 L1058.82 143.72 L1059.12 143.02 L1059.42 142.33 L1059.72 141.65 L1060.02 140.98 L1060.32 140.32 L1060.62 139.68 L1060.92 139.06 L1061.22 138.46 L1061.52 137.88 L1061.82 137.3 L1062.12 136.74 L1062.42 136.18 L1062.72 135.63 L1063.02 135.09 L1063.32 134.56 L1063.62 134.03 L1063.92 133.51 L1064.22 132.99 L1064.52 132.48 L1064.82 131.97 L1065.12 131.47 L1065.42 130.97 L1065.72 130.48 L1066.02 129.99 L1066.32 129.5 L1066.62 129.01 L1066.92 128.53 L1067.22 128.04 L1067.52 127.56 L1067.82 127.07 L1068.12 126.59 L1068.42 126.1 L1068.72 125.62 L1069.02 125.13 L1069.32 124.64 L1069.62 124.14 L1069.92 123.65 L1070.22 123.15 L1070.52 122.65 L1070.82 122.15 L1071.12 121.64 L1071.42 121.15 L1071.72 120.65 L1072.02 120.15 L1072.32 119.66 L1072.62 119.18 L1072.92 118.7 L1073.22 118.22 L1073.52 117.75 L1073.82 117.29 L1074.12 116.84 L1074.42 116.4 L1074.72 115.96 L1075.02 115.54 L1075.32 115.13 L1075.62 114.73 L1075.92 114.34 L1076.22 113.96 L1076.52 113.58 L1076.82 113.2 L1077.12 112.82 L1077.42 112.45 L1077.72 112.08 L1078.02 111.72 L1078.33 111.36 L1078.63 111 L1078.93 110.65 L1079.23 110.3 L1079.53 109.96 L1079.83 109.63 L1080.13 109.3 L1080.43 108.98 L1080.73 108.67 L1081.03 108.36 L1081.33 108.06 L1081.63 107.77 L1081.93 107.49 L1082.23 107.21 L1082.53 106.95 L1082.83 106.69 L1083.13 106.44 L1083.43 106.21 L1083.73 105.98 L1084.03 105.76 L1084.33 105.54 L1084.63 105.32 L1084.93 105.1 L1085.23 104.89 L1085.53 104.67 L1085.83 104.46 L1086.13 104.25 L1086.43 104.05 L1086.73 103.85 L1087.03 103.66 L1087.33 103.47 L1087.63 103.28 L1087.93 103.1 L1088.23 102.93 L1088.53 102.76 L1088.83 102.6 L1089.13 102.45 L1089.43 102.31 L1089.73 102.17 L1090.03 102.04 L1090.33 101.92 L1090.63 101.81 L1090.93 101.71 L1091.23 101.62 L1091.53 101.54 L1091.83 101.47 L1092.13 101.4 L1092.43 101.33 L1092.73 101.27 L1093.03 101.2 L1093.33 101.14 L1093.63 101.08 L1093.93 101.02 L1094.23 100.97 L1094.53 100.92 L1094.83 100.87 L1095.13 100.83 L1095.43 100.79 L1095.73 100.76 L1096.03 100.74 L1096.33 100.72 L1096.63 100.71 L1096.93 100.7 L1097.23 100.7 L1097.53 100.71 L1097.83 100.72 L1098.13 100.74 L1098.43 100.76 L1098.73 100.79 L1099.03 100.82 L1099.33 100.85 L1099.63 100.89 L1099.93 100.94 L1100.23 100.99 L1100.53 101.04 L1100.83 101.09 L1101.13 101.15 L1101.43 101.22 L1101.73 101.28 L1102.03 101.35 L1102.33 101.43 L1102.63 101.5 L1102.93 101.58 L1103.23 101.66 L1103.54 101.74 L1103.84 101.83 L1104.14 101.92 L1104.44 102.01 L1104.74 102.1 L1105.04 102.19 L1105.34 102.29 L1105.64 102.38 L1105.94 102.48 L1106.24 102.58 L1106.54 102.68 L1106.84 102.8 L1107.14 102.94 L1107.44 103.09 L1107.74 103.26 L1108.04 103.43 L1108.34 103.63 L1108.64 103.83 L1108.94 104.04 L1109.24 104.27 L1109.54 104.5 L1109.84 104.74 L1110.14 104.99 L1110.44 105.25 L1110.74 105.51 L1111.04 105.77 L1111.34 106.05 L1111.64 106.32 L1111.94 106.6 L1112.24 106.88 L1112.54 107.16 L1112.84 107.45 L1113.14 107.73 L1113.44 108.02 L1113.74 108.33 L1114.04 108.64 L1114.34 108.96 L1114.64 109.29 L1114.94 109.63 L1115.24 109.98 L1115.54 110.34 L1115.84 110.71 L1116.14 111.08 L1116.44 111.47 L1116.74 111.86 L1117.04 112.25 L1117.34 112.66 L1117.64 113.07 L1117.94 113.49 L1118.24 113.91 L1118.54 114.34 L1118.84 114.78 L1119.14 115.22 L1119.44 115.66 L1119.74 116.11 L1120.04 116.57 L1120.34 117.03 L1120.64 117.5 L1120.94 117.97 L1121.24 118.45 L1121.54 118.95 L1121.84 119.48 L1122.14 120.02 L1122.44 120.57 L1122.74 121.14 L1123.04 121.72 L1123.34 122.31 L1123.64 122.9 L1123.94 123.5 L1124.24 124.1 L1124.54 124.71 L1124.84 125.32 L1125.14 125.92 L1125.44 126.52 L1125.74 127.11 L1126.04 127.7 L1126.34 128.28 L1126.64 128.85 L1126.94 129.42 L1127.24 129.98 L1127.54 130.55 L1127.84 131.11 L1128.14 131.67 L1128.44 132.23 L1128.74 132.79 L1129.05 133.35 L1129.35 133.92 L1129.65 134.49 L1129.95 135.06 L1130.25 135.63 L1130.55 136.21 L1130.85 136.8 L1131.15 137.39 L1131.45 137.98 L1131.75 138.59 L1132.05 139.2 L1132.35 139.83 L1132.65 140.46 L1132.95 141.1 L1133.25 141.76 L1133.55 142.43 L1133.85 143.11 L1134.15 143.8 L1134.45 144.51 L1134.75 145.22 L1135.05 145.94 L1135.35 146.67 L1135.65 147.4 L1135.95 148.14 L1136.25 148.88 L1136.55 149.63 L1136.85 150.37 L1137.15 151.12 L1137.45 151.87 L1137.75 152.63 L1138.05 153.4 L1138.35 154.16 L1138.65 154.94 L1138.95 155.72 L1139.25 156.5 L1139.55 157.29 L1139.85 158.08 L1140.15 158.87 L1140.45 159.67 L1140.75 160.47 L1141.05 161.28 L1141.35 162.09 L1141.65 162.9 L1141.95 163.72 L1142.25 164.54 L1142.55 165.36 L1142.85 166.2 L1143.15 167.05 L1143.45 167.9 L1143.75 168.76 L1144.05 169.62 L1144.35 170.49 L1144.65 171.36 L1144.95 172.23 L1145.25 173.1 L1145.55 173.97 L1145.85 174.84 L1146.15 175.7 L1146.45 176.56 L1146.75 177.41 L1147.05 178.26 L1147.35 179.09 L1147.65 179.92 L1147.95 180.74 L1148.25 181.55 L1148.55 182.37 L1148.85 183.17 L1149.15 183.98 L1149.45 184.78 L1149.75 185.57 L1150.05 186.37 L1150.35 187.16 L1150.65 187.95 L1150.95 188.74 L1151.25 189.53 L1151.55 190.32 L1151.85 191.11 L1152.15 191.9 L1152.45 192.69 L1152.75 193.48 L1153.05 194.27 L1153.35 195.06 L1153.65 195.84 L1153.95 196.62 L1154.26 197.4 L1154.56 198.18 L1154.86 198.96 L1155.16 199.73 L1155.46 200.51 L1155.76 201.29 L1156.06 202.07 L1156.36 202.85 L1156.66 203.64 L1156.96 204.43 L1157.26 205.23 L1157.56 206.03 L1157.86 206.84 L1158.16 207.65 L1158.46 208.48 L1158.76 209.31 L1159.06 210.15 L1159.36 210.99 L1159.66 211.84 L1159.96 212.69 L1160.26 213.55 L1160.56 214.41 L1160.86 215.27 L1161.16 216.13 L1161.46 216.99 L1161.76 217.85 L1162.06 218.71 L1162.36 219.57 L1162.66 220.42 L1162.96 221.26 L1163.26 222.11 L1163.56 222.94 L1163.86 223.77 L1164.16 224.59 L1164.46 225.4 L1164.76 226.21 L1165.06 227.01 L1165.36 227.81 L1165.66 228.62 L1165.96 229.42 L1166.26 230.22 L1166.56 231.03 L1166.86 231.84 L1167.16 232.66 L1167.46 233.49 L1167.76 234.32 L1168.06 235.16 L1168.36 236.02 L1168.66 236.89 L1168.96 237.77 L1169.26 238.66 L1169.56 239.57 L1169.86 240.5 L1170.16 241.43 L1170.46 242.37 L1170.76 243.31 L1171.06 244.26 L1171.36 245.22 L1171.66 246.17 L1171.96 247.12 L1172.26 248.07 L1172.56 249.02 L1172.86 249.95 L1173.16 250.88 L1173.46 251.81 L1173.76 252.73 L1174.06 253.65 L1174.36 254.57 L1174.66 255.49 L1174.96 256.41 L1175.26 257.32 L1175.56 258.24 L1175.86 259.15 L1176.16 260.06 L1176.46 260.98 L1176.76 261.89 L1177.06 262.8 L1177.36 263.71 L1177.66 264.62 L1177.96 265.53 L1178.26 266.44 L1178.56 267.35 L1178.86 268.26 L1179.16 269.16 L1179.47 270.07 L1179.77 270.98 L1180.07 271.89 L1180.37 272.8 L1180.67 273.71 L1180.97 274.63 L1181.27 275.56 L1181.57 276.49 L1181.87 277.42 L1182.17 278.36 L1182.47 279.3 L1182.77 280.23 L1183.07 281.17 L1183.37 282.11 L1183.67 283.04 L1183.97 283.97 L1184.27 284.89 L1184.57 285.81 L1184.87 286.72 L1185.17 287.62 L1185.47 288.52 L1185.77 289.4 L1186.07 290.28 L1186.37 291.14 L1186.67 291.99 L1186.97 292.82 L1187.27 293.64 L1187.57 294.45 L1187.87 295.25 L1188.17 296.03 L1188.47 296.81 L1188.77 297.58 L1189.07 298.34 L1189.37 299.1 L1189.67 299.84 L1189.97 300.58 L1190.27 301.32 L1190.57 302.05 L1190.87 302.77 L1191.17 303.49 L1191.47 304.2 L1191.77 304.91 L1192.07 305.61 L1192.37 306.32 L1192.67 307.01 L1192.97 307.71 L1193.27 308.4 L1193.57 309.1 L1193.87 309.79 L1194.17 310.48 L1194.47 311.16 L1194.77 311.85 L1195.07 312.54 L1195.37 313.23 L1195.67 313.92 L1195.97 314.61 L1196.27 315.3 L1196.57 316 L1196.87 316.69 L1197.17 317.38 L1197.47 318.08 L1197.77 318.77 L1198.07 319.46 L1198.37 320.15 L1198.67 320.84 L1198.97 321.52 L1199.27 322.21 L1199.57 322.89 L1199.87 323.57 L1200.17 324.25 L1200.47 324.93 L1200.77 325.61 L1201.07 326.28 L1201.37 326.95 L1201.67 327.62 L1201.97 328.29 L1202.27 328.95 L1202.57 329.62 L1202.87 330.28 L1203.17 330.93 L1203.47 331.59 L1203.77 332.24 L1204.07 332.89 L1204.37 333.53 L1204.68 334.17 L1204.98 334.81 L1205.28 335.45 L1205.58 336.08 L1205.88 336.71 L1206.18 337.33 L1206.48 337.95 L1206.78 338.57 L1207.08 339.19 L1207.38 339.8 L1207.68 340.41 L1207.98 341.02 L1208.28 341.63 L1208.58 342.23 L1208.88 342.83 L1209.18 343.43 L1209.48 344.03 L1209.78 344.62 L1210.08 345.22 L1210.38 345.81 L1210.68 346.4 L1210.98 346.99 L1211.28 347.58 L1211.58 348.17 L1211.88 348.76 L1212.18 349.34 L1212.48 349.93 L1212.78 350.51 L1213.08 351.1 L1213.38 351.68 L1213.68 352.27 L1213.98 352.85 L1214.28 353.44 L1214.58 354.02 L1214.88 354.61 L1215.18 355.19 L1215.48 355.78 L1215.78 356.37 L1216.08 356.96 L1216.38 357.55 L1216.68 358.14 L1216.98 358.73 L1217.28 359.32 L1217.58 359.91 L1217.88 360.51 L1218.18 361.1 L1218.48 361.69 L1218.78 362.29 L1219.08 362.88 L1219.38 363.47 L1219.68 364.06 L1219.98 364.66 L1220.28 365.25 L1220.58 365.84 L1220.88 366.43 L1221.18 367.02 L1221.48 367.6 L1221.78 368.19 L1222.08 368.77 L1222.38 369.36 L1222.68 369.94 L1222.98 370.52 L1223.28 371.1 L1223.58 371.67 L1223.88 372.25 L1224.18 372.82 L1224.48 373.39 L1224.78 373.95 L1225.08 374.52 L1225.38 375.08 L1225.68 375.63 L1225.98 376.19 L1226.28 376.74 L1226.58 377.29 L1226.88 377.83 L1227.18 378.38 L1227.48 378.92 L1227.78 379.47 L1228.08 380.01 L1228.38 380.55 L1228.68 381.09 L1228.98 381.63 L1229.28 382.17 L1229.58 382.71 L1229.89 383.25 L1230.19 383.78 L1230.49 384.32 L1230.79 384.85 L1231.09 385.38 L1231.39 385.91 L1231.69 386.43 L1231.99 386.95 L1232.29 387.47 L1232.59 387.99 L1232.89 388.51 L1233.19 389.02 L1233.49 389.53 L1233.79 390.03 L1234.09 390.53 L1234.39 391.03 L1234.69 391.52 L1234.99 392.01 L1235.29 392.5 L1235.59 392.98 L1235.89 393.46 L1236.19 393.93 L1236.49 394.4 L1236.79 394.87 L1237.09 395.33 L1237.39 395.78 L1237.69 396.23 L1237.99 396.68 L1238.29 397.13 L1238.59 397.58 L1238.89 398.02 L1239.19 398.47 L1239.49 398.91 L1239.79 399.35 L1240.09 399.79 L1240.39 400.22 L1240.69 400.65 L1240.99 401.09 L1241.29 401.52 L1241.59 401.94 L1241.89 402.37 L1242.19 402.79 L1242.49 403.21 L1242.79 403.62 L1243.09 404.04 L1243.39 404.45 L1243.69 404.86 L1243.99 405.26 L1244.29 405.66 L1244.59 406.06 L1244.89 406.46 L1245.19 406.85 L1245.49 407.24 L1245.79 407.62 L1246.09 408.01 L1246.39 408.38 L1246.69 408.76 L1246.99 409.13 L1247.29 409.49 L1247.59 409.86 L1247.89 410.21 L1248.19 410.57 L1248.49 410.92 L1248.79 411.26 L1249.09 411.61 L1249.39 411.94 L1249.69 412.27 L1249.99 412.6 L1250.29 412.93 L1250.59 413.25 L1250.89 413.58 L1251.19 413.9 L1251.49 414.22 L1251.79 414.54 L1252.09 414.86 L1252.39 415.18 L1252.69 415.49 L1252.99 415.8 L1253.29 416.11 L1253.59 416.42 L1253.89 416.72 L1254.19 417.01 L1254.49 417.3 L1254.79 417.59 L1255.1 417.87 L1255.4 418.15 L1255.7 418.42 L1256 418.68 L1256.3 418.94 L1256.6 419.19 L1256.9 419.43 L1257.2 419.67 L1257.5 419.9 L1257.8 420.12 L1258.1 420.33 L1258.4 420.54 L1258.7 420.73 L1259 420.92 L1259.3 421.11 L1259.6 421.29 L1259.9 421.48 L1260.2 421.66 L1260.5 421.83 L1260.8 422.01 L1261.1 422.18 L1261.4 422.35 L1261.7 422.52 L1262 422.68 L1262.3 422.84 L1262.6 423 L1262.9 423.15 L1263.2 423.3 L1263.5 423.45 L1263.8 423.59 L1264.1 423.73 L1264.4 423.86 L1264.7 423.99 L1265 424.12 L1265.3 424.24 L1265.6 424.35 L1265.9 424.46 L1266.2 424.56 L1266.5 424.66 L1266.8 424.76 L1267.1 424.84 L1267.4 424.92 L1267.7 425" fill="none" stroke="#0000ff" stroke-width="4.2" stroke-linecap="butt" stroke-linejoin="round" stroke-dasharray="11.6 11" clip-path="url(#ca)"/>
<line x1="509.9" y1="32.6" x2="509.9" y2="445.1" stroke="#111111" stroke-width="1.3" />
<line x1="509.9" y1="445.1" x2="1267.1" y2="445.1" stroke="#111111" stroke-width="1.3" />
<line x1="509.9" y1="445.1" x2="517.9" y2="445.1" stroke="#111111" stroke-width="1.3" />
<text x="499.5" y="454.56" font-size="26" text-anchor="end">0</text>
<line x1="509.9" y1="362.6" x2="517.9" y2="362.6" stroke="#111111" stroke-width="1.3" />
<text x="499.5" y="372.06" font-size="26" text-anchor="end">0.5</text>
<line x1="509.9" y1="280.1" x2="517.9" y2="280.1" stroke="#111111" stroke-width="1.3" />
<text x="499.5" y="289.56" font-size="26" text-anchor="end">1</text>
<line x1="509.9" y1="197.6" x2="517.9" y2="197.6" stroke="#111111" stroke-width="1.3" />
<text x="499.5" y="207.06" font-size="26" text-anchor="end">1.5</text>
<line x1="509.9" y1="115.1" x2="517.9" y2="115.1" stroke="#111111" stroke-width="1.3" />
<text x="499.5" y="124.56" font-size="26" text-anchor="end">2</text>
<line x1="509.9" y1="32.6" x2="517.9" y2="32.6" stroke="#111111" stroke-width="1.3" />
<text x="499.5" y="42.06" font-size="26" text-anchor="end">2.5</text>
<line x1="509.9" y1="445.1" x2="509.9" y2="437.1" stroke="#111111" stroke-width="1.3" />
<text x="509.9" y="479.4" font-size="26" text-anchor="middle">0</text>
<line x1="699.2" y1="445.1" x2="699.2" y2="437.1" stroke="#111111" stroke-width="1.3" />
<text x="699.2" y="479.4" font-size="26" text-anchor="middle">0.5</text>
<line x1="888.5" y1="445.1" x2="888.5" y2="437.1" stroke="#111111" stroke-width="1.3" />
<text x="888.5" y="479.4" font-size="26" text-anchor="middle">1</text>
<line x1="1077.8" y1="445.1" x2="1077.8" y2="437.1" stroke="#111111" stroke-width="1.3" />
<text x="1077.8" y="479.4" font-size="26" text-anchor="middle">1.5</text>
<line x1="1267.1" y1="445.1" x2="1267.1" y2="437.1" stroke="#111111" stroke-width="1.3" />
<text x="1267.1" y="479.4" font-size="26" text-anchor="middle">2</text>
<text x="511.5" y="30.8" font-size="32" text-anchor="start">×</text>
<text x="532.2" y="26.8" font-size="26" text-anchor="start">10</text>
<text x="558.2" y="13.5" font-size="20" text-anchor="start">4</text>
<text x="453.9" y="238.3" font-size="29.7" text-anchor="middle" transform="rotate(-90 453.9 238.3)">Force/N</text>
<text x="888.5" y="514.4" font-size="29.8" text-anchor="middle">Time/s</text>
<text x="866.5" y="560.7" font-size="36.5" text-anchor="middle">(a)</text>
<rect x="948.3" y="12.3" width="276.5" height="75.8" fill="#fff" stroke="#262626" stroke-width="1.3"/>
<path d="M954.3 26.9 L1011.8 26.9" fill="none" stroke="#000000" stroke-width="3.7" stroke-linecap="butt" stroke-linejoin="round" stroke-dasharray="11.6 2.8 6 2.3"/>
<text x="1016.5" y="34.5" font-size="18.9" text-anchor="start">Target force</text>
<path d="M954.3 50.4 L1011.8 50.4" fill="none" stroke="#ff0000" stroke-width="4.3" stroke-linecap="butt" stroke-linejoin="round"/>
<text x="1016.5" y="58" font-size="18.9" text-anchor="start">Actual force of BSF-EMB</text>
<path d="M954.3 73.9 L1011.8 73.9" fill="none" stroke="#0000ff" stroke-width="4.2" stroke-linecap="butt" stroke-linejoin="round" stroke-dasharray="11.6 11"/>
<text x="1016.5" y="81.5" font-size="18.9" text-anchor="start">Actual force of PGF-EMB</text>
<rect x="511.9" y="380" width="36.1" height="65" fill="none" stroke="#000" stroke-width="2.2"/>
<line x1="549.4" y1="393.6" x2="643.23" y2="351" stroke="#000" stroke-width="1.3" />
<path d="M655.8 345.3 L641.33 359.88 L643.23 351 L635.3 346.59 Z" fill="#000"/>
<rect x="653.7" y="273.3" width="136.8" height="132.1" fill="#fff" stroke="#000" stroke-width="2.2"/>
<path d="M706 372 L706.22 372 L706.43 372 L706.65 371.99 L706.87 371.98 L707.08 371.98 L707.3 371.97 L707.52 371.95 L707.73 371.94 L707.95 371.92 L708.17 371.91 L708.38 371.89 L708.6 371.86 L708.82 371.84 L709.03 371.82 L709.25 371.79 L709.47 371.76 L709.68 371.73 L709.9 371.69 L710.12 371.66 L710.33 371.62 L710.55 371.58 L710.77 371.54 L710.98 371.5 L711.2 371.46 L711.42 371.41 L711.63 371.36 L711.85 371.31 L712.07 371.26 L712.28 371.21 L712.5 371.15 L712.72 371.09 L712.94 371.03 L713.15 370.97 L713.37 370.91 L713.59 370.84 L713.8 370.78 L714.02 370.71 L714.24 370.64 L714.45 370.57 L714.67 370.49 L714.89 370.41 L715.1 370.34 L715.32 370.26 L715.54 370.17 L715.75 370.09 L715.97 370 L716.19 369.92 L716.4 369.83 L716.62 369.74 L716.84 369.64 L717.05 369.55 L717.27 369.45 L717.49 369.35 L717.7 369.25 L717.92 369.15 L718.14 369.04 L718.35 368.94 L718.57 368.83 L718.79 368.72 L719 368.61 L719.22 368.49 L719.44 368.38 L719.65 368.26 L719.87 368.14 L720.09 368.02 L720.3 367.9 L720.52 367.77 L720.74 367.64 L720.95 367.52 L721.17 367.38 L721.39 367.25 L721.6 367.12 L721.82 366.98 L722.04 366.84 L722.25 366.7 L722.47 366.56 L722.69 366.42 L722.9 366.27 L723.12 366.12 L723.34 365.98 L723.55 365.82 L723.77 365.67 L723.99 365.52 L724.2 365.36 L724.42 365.2 L724.64 365.04 L724.85 364.88 L725.07 364.71 L725.29 364.55 L725.51 364.38 L725.72 364.21 L725.94 364.04 L726.16 363.87 L726.37 363.69 L726.59 363.51 L726.81 363.33 L727.02 363.15 L727.24 362.97 L727.46 362.79 L727.67 362.6 L727.89 362.41 L728.11 362.22 L728.32 362.03 L728.54 361.83 L728.76 361.64 L728.97 361.44 L729.19 361.24 L729.41 361.04 L729.62 360.84 L729.84 360.63 L730.06 360.43 L730.27 360.22 L730.49 360.01 L730.71 359.8 L730.92 359.58 L731.14 359.37 L731.36 359.15 L731.57 358.93 L731.79 358.71 L732.01 358.48 L732.22 358.26 L732.44 358.03 L732.66 357.8 L732.87 357.57 L733.09 357.34 L733.31 357.11 L733.52 356.87 L733.74 356.63 L733.96 356.39 L734.17 356.15 L734.39 355.91 L734.61 355.66 L734.82 355.42 L735.04 355.17 L735.26 354.92 L735.47 354.67 L735.69 354.41 L735.91 354.16 L736.12 353.9 L736.34 353.64 L736.56 353.38 L736.77 353.11 L736.99 352.85 L737.21 352.58 L737.42 352.31 L737.64 352.04 L737.86 351.77 L738.07 351.5 L738.29 351.22 L738.51 350.95 L738.73 350.67 L738.94 350.38 L739.16 350.1 L739.38 349.82 L739.59 349.53 L739.81 349.24 L740.03 348.95 L740.24 348.66 L740.46 348.37 L740.68 348.07 L740.89 347.77 L741.11 347.48 L741.33 347.17 L741.54 346.87 L741.76 346.57 L741.98 346.26 L742.19 345.95 L742.41 345.64 L742.63 345.33 L742.84 345.02 L743.06 344.7 L743.28 344.39 L743.49 344.07 L743.71 343.75 L743.93 343.43 L744.14 343.1 L744.36 342.78 L744.58 342.45 L744.79 342.12 L745.01 341.79 L745.23 341.46 L745.44 341.12 L745.66 340.79 L745.88 340.45 L746.09 340.11 L746.31 339.77 L746.53 339.43 L746.74 339.08 L746.96 338.74 L747.18 338.39 L747.39 338.04 L747.61 337.69 L747.83 337.33 L748.04 336.98 L748.26 336.62 L748.48 336.26 L748.69 335.9 L748.91 335.54 L749.13 335.18 L749.34 334.81 L749.56 334.44 L749.78 334.07 L749.99 333.7 L750.21 333.33 L750.43 332.96 L750.64 332.58 L750.86 332.2 L751.08 331.82 L751.29 331.44 L751.51 331.06 L751.73 330.68 L751.95 330.29 L752.16 329.9 L752.38 329.51 L752.6 329.12 L752.81 328.73 L753.03 328.33 L753.25 327.94 L753.46 327.54 L753.68 327.14 L753.9 326.74 L754.11 326.33 L754.33 325.93 L754.55 325.52 L754.76 325.12 L754.98 324.71 L755.2 324.29 L755.41 323.88 L755.63 323.47 L755.85 323.05 L756.06 322.63 L756.28 322.21 L756.5 321.79 L756.71 321.37 L756.93 320.94 L757.15 320.52 L757.36 320.09 L757.58 319.66 L757.8 319.23 L758.01 318.79 L758.23 318.36 L758.45 317.92 L758.66 317.48 L758.88 317.04 L759.1 316.6 L759.31 316.16 L759.53 315.71 L759.75 315.27 L759.96 314.82 L760.18 314.37 L760.4 313.92 L760.61 313.47 L760.83 313.01 L761.05 312.56 L761.26 312.1 L761.48 311.64 L761.7 311.18 L761.91 310.72 L762.13 310.25 L762.35 309.79 L762.56 309.32 L762.78 308.85 L763 308.38 L763.21 307.91 L763.43 307.43 L763.65 306.96 L763.86 306.48 L764.08 306 L764.3 305.52 L764.52 305.04 L764.73 304.56 L764.95 304.07 L765.17 303.58 L765.38 303.1 L765.6 302.61 L765.82 302.12 L766.03 301.62 L766.25 301.13 L766.47 300.63 L766.68 300.13 L766.9 299.64 L767.12 299.13 L767.33 298.63 L767.55 298.13 L767.77 297.62 L767.98 297.12 L768.2 296.61 L768.42 296.1 L768.63 295.59 L768.85 295.07 L769.07 294.56 L769.28 294.04 L769.5 293.52 L769.72 293 L769.93 292.48 L770.15 291.96 L770.37 291.44 L770.58 290.91 L770.8 290.38" fill="none" stroke="#000000" stroke-width="3.7" stroke-linecap="butt" stroke-linejoin="round" stroke-dasharray="11.6 2.8 6 2.3" clip-path="url(#cai)"/>
<path d="M706 372 L706.22 372 L706.43 372 L706.65 372 L706.87 372 L707.08 372 L707.3 372 L707.52 372 L707.73 372 L707.95 372 L708.17 372 L708.38 372 L708.6 372 L708.82 372 L709.03 372 L709.25 372 L709.47 372 L709.68 372 L709.9 372 L710.12 372 L710.33 372 L710.55 372 L710.77 372 L710.98 372 L711.2 372 L711.42 372 L711.63 372 L711.85 372 L712.07 372 L712.28 372 L712.5 372 L712.72 372 L712.94 372 L713.15 372 L713.37 372 L713.59 372 L713.8 372 L714.02 372 L714.24 372 L714.45 372 L714.67 372 L714.89 372 L715.1 372 L715.32 372 L715.54 372 L715.75 372 L715.97 372 L716.19 372 L716.4 372 L716.62 372 L716.84 372 L717.05 372 L717.27 372 L717.49 372 L717.7 372 L717.92 372 L718.14 372 L718.35 372 L718.57 372 L718.79 372 L719 372 L719.22 372 L719.44 372 L719.65 372 L719.87 372 L720.09 372 L720.3 372 L720.52 372 L720.74 372 L720.95 372 L721.17 372 L721.39 372 L721.6 372 L721.82 372 L722.04 372 L722.25 372 L722.47 372 L722.69 372 L722.9 372 L723.12 372 L723.34 372 L723.55 372 L723.77 372 L723.99 372 L724.2 372 L724.42 372 L724.64 372 L724.85 372 L725.07 372 L725.29 372 L725.51 372 L725.72 372 L725.94 372 L726.16 372 L726.37 372 L726.59 372 L726.81 372 L727.02 372 L727.24 372 L727.46 372 L727.67 372 L727.89 372 L728.11 372 L728.32 372 L728.54 372 L728.76 372 L728.97 372 L729.19 372 L729.41 372 L729.62 372 L729.84 372 L730.06 372 L730.27 372 L730.49 372 L730.71 372 L730.92 372 L731.14 372 L731.36 372 L731.57 372 L731.79 372 L732.01 372 L732.22 372 L732.44 372 L732.66 372 L732.87 372 L733.09 372 L733.31 372 L733.52 372 L733.74 372 L733.96 372 L734.17 372 L734.39 372 L734.61 372 L734.82 372 L735.04 372 L735.26 372 L735.47 372 L735.69 372 L735.91 372 L736.12 372 L736.34 372 L736.56 372 L736.77 372 L736.99 372 L737.21 372 L737.42 372 L737.64 372 L737.86 372 L738.07 372 L738.29 372 L738.51 372 L738.73 372 L738.94 372 L739.16 372 L739.38 372 L739.59 372 L739.81 372 L740.03 372 L740.24 372 L740.46 372 L740.68 372 L740.89 372 L741.11 372 L741.33 372 L741.54 372 L741.76 371.97 L741.98 371.75 L742.19 371.38 L742.41 370.9 L742.63 370.36 L742.84 369.79 L743.06 369.23 L743.28 368.55 L743.49 367.77 L743.71 366.91 L743.93 366 L744.14 365.04 L744.36 364.07 L744.58 363.11 L744.79 362.18 L745.01 361.29 L745.23 360.37 L745.44 359.44 L745.66 358.5 L745.88 357.56 L746.09 356.63 L746.31 355.72 L746.53 354.83 L746.74 353.99 L746.96 353.18 L747.18 352.38 L747.39 351.6 L747.61 350.84 L747.83 350.1 L748.04 349.37 L748.26 348.68 L748.48 348.01 L748.69 347.38 L748.91 346.78 L749.13 346.2 L749.34 345.65 L749.56 345.11 L749.78 344.59 L749.99 344.08 L750.21 343.59 L750.43 343.1 L750.64 342.62 L750.86 342.15 L751.08 341.68 L751.29 341.21 L751.51 340.74 L751.73 340.28 L751.95 339.83 L752.16 339.38 L752.38 338.94 L752.6 338.51 L752.81 338.08 L753.03 337.65 L753.25 337.22 L753.46 336.8 L753.68 336.38 L753.9 335.95 L754.11 335.53 L754.33 335.1 L754.55 334.66 L754.76 334.23 L754.98 333.8 L755.2 333.37 L755.41 332.94 L755.63 332.52 L755.85 332.09 L756.06 331.66 L756.28 331.23 L756.5 330.8 L756.71 330.37 L756.93 329.93 L757.15 329.49 L757.36 329.05 L757.58 328.59 L757.8 328.14 L758.01 327.67 L758.23 327.21 L758.45 326.74 L758.66 326.26 L758.88 325.79 L759.1 325.31 L759.31 324.83 L759.53 324.34 L759.75 323.86 L759.96 323.37 L760.18 322.88 L760.4 322.38 L760.61 321.88 L760.83 321.38 L761.05 320.88 L761.26 320.38 L761.48 319.87 L761.7 319.36 L761.91 318.85 L762.13 318.33 L762.35 317.81 L762.56 317.29 L762.78 316.77 L763 316.24 L763.21 315.72 L763.43 315.18 L763.65 314.65 L763.86 314.12 L764.08 313.58 L764.3 313.04 L764.52 312.5 L764.73 311.95 L764.95 311.4 L765.17 310.85 L765.38 310.29 L765.6 309.74 L765.82 309.18 L766.03 308.61 L766.25 308.04 L766.47 307.47 L766.68 306.9 L766.9 306.33 L767.12 305.75 L767.33 305.17 L767.55 304.58 L767.77 303.99 L767.98 303.4 L768.2 302.81 L768.42 302.21 L768.63 301.62 L768.85 301.01 L769.07 300.41 L769.28 299.8 L769.5 299.19 L769.72 298.58 L769.93 297.97 L770.15 297.35 L770.37 296.73 L770.58 296.11 L770.8 295.48" fill="none" stroke="#ff0000" stroke-width="4.3" stroke-linecap="butt" stroke-linejoin="round" clip-path="url(#cai)"/>
<path d="M706 372 L706.22 372 L706.43 372 L706.65 372 L706.87 372 L707.08 372 L707.3 372 L707.52 372 L707.73 372 L707.95 372 L708.17 372 L708.38 372 L708.6 372 L708.82 372 L709.03 372 L709.25 372 L709.47 372 L709.68 372 L709.9 372 L710.12 372 L710.33 372 L710.55 372 L710.77 372 L710.98 372 L711.2 372 L711.42 372 L711.63 372 L711.85 372 L712.07 372 L712.28 372 L712.5 372 L712.72 372 L712.94 372 L713.15 372 L713.37 372 L713.59 372 L713.8 372 L714.02 372 L714.24 372 L714.45 372 L714.67 372 L714.89 372 L715.1 372 L715.32 372 L715.54 372 L715.75 372 L715.97 372 L716.19 372 L716.4 372 L716.62 372 L716.84 372 L717.05 372 L717.27 372 L717.49 372 L717.7 372 L717.92 372 L718.14 372 L718.35 372 L718.57 372 L718.79 372 L719 372 L719.22 372 L719.44 372 L719.65 372 L719.87 372 L720.09 372 L720.3 372 L720.52 372 L720.74 372 L720.95 372 L721.17 372 L721.39 372 L721.6 372 L721.82 372 L722.04 372 L722.25 372 L722.47 372 L722.69 372 L722.9 372 L723.12 372 L723.34 372 L723.55 372 L723.77 372 L723.99 372 L724.2 372 L724.42 372 L724.64 372 L724.85 372 L725.07 372 L725.29 372 L725.51 372 L725.72 372 L725.94 372 L726.16 372 L726.37 372 L726.59 372 L726.81 372 L727.02 372 L727.24 372 L727.46 372 L727.67 372 L727.89 372 L728.11 372 L728.32 372 L728.54 372 L728.76 372 L728.97 372 L729.19 372 L729.41 372 L729.62 372 L729.84 372 L730.06 372 L730.27 372 L730.49 372 L730.71 372 L730.92 372 L731.14 372 L731.36 372 L731.57 372 L731.79 372 L732.01 372 L732.22 372 L732.44 372 L732.66 372 L732.87 372 L733.09 372 L733.31 372 L733.52 372 L733.74 372 L733.96 372 L734.17 372 L734.39 372 L734.61 372 L734.82 372 L735.04 372 L735.26 372 L735.47 372 L735.69 372 L735.91 372 L736.12 372 L736.34 372 L736.56 372 L736.77 372 L736.99 372 L737.21 372 L737.42 372 L737.64 372 L737.86 372 L738.07 372 L738.29 372 L738.51 372 L738.73 372 L738.94 372 L739.16 372 L739.38 372 L739.59 372 L739.81 372 L740.03 372 L740.24 372 L740.46 372 L740.68 372 L740.89 372 L741.11 372 L741.33 372 L741.54 372 L741.76 372 L741.98 372 L742.19 372 L742.41 372 L742.63 372 L742.84 372 L743.06 372 L743.28 372 L743.49 372 L743.71 372 L743.93 372 L744.14 372 L744.36 372 L744.58 372 L744.79 372 L745.01 372 L745.23 372 L745.44 372 L745.66 372 L745.88 372 L746.09 372 L746.31 372 L746.53 372 L746.74 372 L746.96 372 L747.18 372 L747.39 372 L747.61 372 L747.83 372 L748.04 372 L748.26 372 L748.48 372 L748.69 372 L748.91 372 L749.13 372 L749.34 372 L749.56 372 L749.78 372 L749.99 372 L750.21 372 L750.43 372 L750.64 372 L750.86 372 L751.08 372 L751.29 372 L751.51 372 L751.73 372 L751.95 372 L752.16 371.97 L752.38 371.85 L752.6 371.64 L752.81 371.37 L753.03 371.06 L753.25 370.7 L753.46 370.34 L753.68 369.98 L753.9 369.64 L754.11 369.32 L754.33 368.99 L754.55 368.65 L754.76 368.29 L754.98 367.92 L755.2 367.54 L755.41 367.16 L755.63 366.76 L755.85 366.36 L756.06 365.96 L756.28 365.55 L756.5 365.14 L756.71 364.73 L756.93 364.32 L757.15 363.92 L757.36 363.51 L757.58 363.11 L757.8 362.72 L758.01 362.33 L758.23 361.94 L758.45 361.55 L758.66 361.16 L758.88 360.78 L759.1 360.39 L759.31 360.01 L759.53 359.62 L759.75 359.23 L759.96 358.85 L760.18 358.46 L760.4 358.07 L760.61 357.69 L760.83 357.3 L761.05 356.91 L761.26 356.52 L761.48 356.13 L761.7 355.74 L761.91 355.34 L762.13 354.95 L762.35 354.55 L762.56 354.15 L762.78 353.75 L763 353.35 L763.21 352.94 L763.43 352.53 L763.65 352.12 L763.86 351.71 L764.08 351.3 L764.3 350.88 L764.52 350.46 L764.73 350.03 L764.95 349.61 L765.17 349.18 L765.38 348.75 L765.6 348.32 L765.82 347.89 L766.03 347.45 L766.25 347.02 L766.47 346.58 L766.68 346.14 L766.9 345.69 L767.12 345.25 L767.33 344.8 L767.55 344.35 L767.77 343.9 L767.98 343.45 L768.2 343 L768.42 342.54" fill="none" stroke="#0000ff" stroke-width="4.2" stroke-linecap="butt" stroke-linejoin="round" stroke-dasharray="11.6 11"/>
<line x1="706" y1="290.5" x2="706" y2="372" stroke="#111111" stroke-width="1.3" />
<line x1="706" y1="372" x2="770.8" y2="372" stroke="#111111" stroke-width="1.3" />
<line x1="706" y1="331.3" x2="708" y2="331.3" stroke="#111111" stroke-width="1.3" />
<text x="698.5" y="298.09" font-size="19.5" text-anchor="end">2000</text>
<text x="698.5" y="338.79" font-size="19.5" text-anchor="end">1000</text>
<text x="698.5" y="379.49" font-size="19.5" text-anchor="end">0</text>
<text x="705.5" y="397.4" font-size="19.5" text-anchor="middle">0</text>
<text x="768.8" y="397.4" font-size="19.5" text-anchor="middle">0.1</text>
<path d="M83.4 922.8 L83.56 882.33 L83.72 849.73 L83.88 822.06 L84.04 800.98 L84.2 785.45 L84.36 772.92 L84.52 764.45 L84.68 758.58 L84.84 754.08 L85 752.28 L85.16 752.37 L85.32 752.62 L85.48 753 L85.63 753.5 L85.79 754.9 L85.95 757.59 L86.11 760.98 L86.27 764.48 L86.43 768.17 L86.59 772.42 L86.75 777.04 L86.91 781.85 L87.07 786.66 L87.23 791.28 L87.39 795.85 L87.55 800.53 L87.71 805.21 L87.87 809.78 L88.03 814.11 L88.19 818.08 L88.35 821.82 L88.51 825.48 L88.67 828.96 L88.83 832.19 L88.99 835.08 L89.15 837.56 L89.31 839.73 L89.47 841.75 L89.63 843.62 L89.79 845.36 L89.95 846.95 L90.1 848.41 L90.26 849.75 L90.42 850.95 L90.58 852.07 L90.74 853.14 L90.9 854.16 L91.06 855.12 L91.22 856.03 L91.38 856.86 L91.54 857.63 L91.7 858.32 L91.86 858.94 L92.02 859.47 L92.18 859.96 L92.34 860.43 L92.5 860.89 L92.66 861.32 L92.82 861.72 L92.98 862.08 L93.14 862.41 L93.3 862.68 L93.46 862.9 L93.62 863.06 L93.78 863.15 L93.94 863.24 L94.1 863.32 L94.26 863.4 L94.42 863.47 L94.57 863.54 L94.73 863.61 L94.89 863.68 L95.05 863.74 L95.21 863.8 L95.37 863.85 L95.53 863.91 L95.69 863.96 L95.85 864 L96.01 864.05 L96.17 864.09 L96.33 864.13 L96.49 864.16 L96.65 864.19 L96.81 864.22 L96.97 864.24 L97.13 864.27 L97.29 864.29 L97.45 864.3 L97.61 864.31 L97.77 864.32 L97.93 864.33 L98.09 864.34 L98.25 864.34 L98.41 864.34 L98.57 864.33 L98.73 864.33 L98.89 864.33 L99.04 864.32 L99.2 864.32 L99.36 864.31 L99.52 864.31 L99.68 864.3 L99.84 864.29 L100 864.28 L100.16 864.27 L100.32 864.26 L100.48 864.25 L100.64 864.24 L100.8 864.23 L100.96 864.22 L101.12 864.21 L101.28 864.2 L101.44 864.19 L101.6 864.17 L101.76 864.16 L101.92 864.15 L102.08 864.13 L102.24 864.12 L102.4 864.11 L102.56 864.09 L102.72 864.08 L102.88 864.06 L103.04 864.04 L103.2 864.02 L103.35 864 L103.51 863.98 L103.67 863.96 L103.83 863.93 L103.99 863.9 L104.15 863.87 L104.31 863.84 L104.47 863.81 L104.63 863.78 L104.79 863.75 L104.95 863.71 L105.11 863.68 L105.27 863.64 L105.43 863.6 L105.59 863.56 L105.75 863.52 L105.91 863.48 L106.07 863.44 L106.23 863.4 L106.39 863.36 L106.55 863.31 L106.71 863.27 L106.87 863.22 L107.03 863.18 L107.19 863.13 L107.35 863.08 L107.51 863.04 L107.67 862.99 L107.82 862.94 L107.98 862.89 L108.14 862.84 L108.3 862.79 L108.46 862.74 L108.62 862.69 L108.78 862.64 L108.94 862.59 L109.1 862.54 L109.26 862.49 L109.42 862.44 L109.58 862.39 L109.74 862.34 L109.9 862.29 L110.06 862.24 L110.22 862.2 L110.38 862.15 L110.54 862.1 L110.7 862.05 L110.86 862 L111.02 861.95 L111.18 861.91 L111.34 861.86 L111.5 861.81 L111.66 861.77 L111.82 861.72 L111.98 861.67 L112.14 861.63 L112.29 861.58 L112.45 861.53 L112.61 861.49 L112.77 861.44 L112.93 861.39 L113.09 861.35 L113.25 861.3 L113.41 861.25 L113.57 861.2 L113.73 861.16 L113.89 861.11 L114.05 861.06 L114.21 861.01 L114.37 860.96 L114.53 860.91 L114.69 860.86 L114.85 860.81 L115.01 860.76 L115.17 860.71 L115.33 860.66 L115.49 860.61 L115.65 860.56 L115.81 860.51 L115.97 860.46 L116.13 860.41 L116.29 860.36 L116.45 860.3 L116.61 860.25 L116.76 860.2 L116.92 860.14 L117.08 860.09 L117.24 860.03 L117.4 859.98 L117.56 859.92 L117.72 859.87 L117.88 859.81 L118.04 859.75 L118.2 859.69 L118.36 859.63 L118.52 859.58 L118.68 859.52 L118.84 859.46 L119 859.39 L119.16 859.33 L119.32 859.27 L119.48 859.21 L119.64 859.14 L119.8 859.08 L119.96 859.02 L120.12 858.95 L120.28 858.88 L120.44 858.82 L120.6 858.75 L120.76 858.68 L120.92 858.61 L121.08 858.54 L121.23 858.47 L121.39 858.4 L121.55 858.33 L121.71 858.25 L121.87 858.18 L122.03 858.1 L122.19 858.03 L122.35 857.95 L122.51 857.87 L122.67 857.79 L122.83 857.71 L122.99 857.63 L123.15 857.54 L123.31 857.46 L123.47 857.37 L123.63 857.28 L123.79 857.19 L123.95 857.1 L124.11 857.01 L124.27 856.92 L124.43 856.82 L124.59 856.72 L124.75 856.63 L124.91 856.53 L125.07 856.43 L125.23 856.33 L125.39 856.22 L125.54 856.12 L125.7 856.01 L125.86 855.91 L126.02 855.8 L126.18 855.69 L126.34 855.58 L126.5 855.47 L126.66 855.35 L126.82 855.24 L126.98 855.12 L127.14 855.01 L127.3 854.89 L127.46 854.77 L127.62 854.65 L127.78 854.53 L127.94 854.4 L128.1 854.28 L128.26 854.15 L128.42 854.03 L128.58 853.9 L128.74 853.77 L128.9 853.64 L129.06 853.5 L129.22 853.37 L129.38 853.24 L129.54 853.1 L129.7 852.96 L129.86 852.83 L130.01 852.69 L130.17 852.55 L130.33 852.4 L130.49 852.26 L130.65 852.12 L130.81 851.97 L130.97 851.82 L131.13 851.66 L131.29 851.5 L131.45 851.33 L131.61 851.16 L131.77 850.99 L131.93 850.81 L132.09 850.63 L132.25 850.45 L132.41 850.26 L132.57 850.07 L132.73 849.88 L132.89 849.68 L133.05 849.48 L133.21 849.28 L133.37 849.08 L133.53 848.87 L133.69 848.66 L133.85 848.45 L134.01 848.24 L134.17 848.03 L134.33 847.81 L134.48 847.59 L134.64 847.37 L134.8 847.15 L134.96 846.93 L135.12 846.71 L135.28 846.49 L135.44 846.26 L135.6 846.04 L135.76 845.81 L135.92 845.59 L136.08 845.36 L136.24 845.14 L136.4 844.91 L136.56 844.69 L136.72 844.46 L136.88 844.24 L137.04 844.01 L137.2 843.79 L137.36 843.57 L137.52 843.34 L137.68 843.12 L137.84 842.91 L138 842.69 L138.16 842.47 L138.32 842.26 L138.48 842.04 L138.64 841.82 L138.8 841.61 L138.95 841.39 L139.11 841.17 L139.27 840.96 L139.43 840.74 L139.59 840.52 L139.75 840.3 L139.91 840.09 L140.07 839.87 L140.23 839.65 L140.39 839.43 L140.55 839.21 L140.71 838.99 L140.87 838.76 L141.03 838.54 L141.19 838.32 L141.35 838.1 L141.51 837.87 L141.67 837.65 L141.83 837.42 L141.99 837.2 L142.15 836.97 L142.31 836.75 L142.47 836.52 L142.63 836.29 L142.79 836.06 L142.95 835.83 L143.11 835.6 L143.26 835.37 L143.42 835.13 L143.58 834.9 L143.74 834.67 L143.9 834.43 L144.06 834.19 L144.22 833.96 L144.38 833.72 L144.54 833.48 L144.7 833.24 L144.86 833 L145.02 832.75 L145.18 832.51 L145.34 832.26 L145.5 832.02 L145.66 831.77 L145.82 831.52 L145.98 831.27 L146.14 831.02 L146.3 830.77 L146.46 830.51 L146.62 830.26 L146.78 830 L146.94 829.75 L147.1 829.49 L147.26 829.23 L147.42 828.97 L147.58 828.71 L147.73 828.45 L147.89 828.18 L148.05 827.92 L148.21 827.65 L148.37 827.39 L148.53 827.12 L148.69 826.85 L148.85 826.58 L149.01 826.31 L149.17 826.04 L149.33 825.77 L149.49 825.49 L149.65 825.22 L149.81 824.94 L149.97 824.66 L150.13 824.39 L150.29 824.11 L150.45 823.83 L150.61 823.55 L150.77 823.27 L150.93 822.98 L151.09 822.7 L151.25 822.41 L151.41 822.13 L151.57 821.84 L151.73 821.55 L151.89 821.27 L152.05 820.98 L152.2 820.69 L152.36 820.4 L152.52 820.1 L152.68 819.81 L152.84 819.52 L153 819.22 L153.16 818.93 L153.32 818.63 L153.48 818.33 L153.64 818.03 L153.8 817.73 L153.96 817.42 L154.12 817.12 L154.28 816.81 L154.44 816.5 L154.6 816.19 L154.76 815.88 L154.92 815.56 L155.08 815.25 L155.24 814.93 L155.4 814.61 L155.56 814.29 L155.72 813.97 L155.88 813.65 L156.04 813.32 L156.2 813 L156.36 812.67 L156.52 812.35 L156.67 812.02 L156.83 811.69 L156.99 811.36 L157.15 811.03 L157.31 810.7 L157.47 810.37 L157.63 810.04 L157.79 809.71 L157.95 809.38 L158.11 809.04 L158.27 808.71 L158.43 808.38 L158.59 808.04 L158.75 807.71 L158.91 807.38 L159.07 807.04 L159.23 806.71 L159.39 806.38 L159.55 806.04 L159.71 805.71 L159.87 805.38 L160.03 805.04 L160.19 804.71 L160.35 804.38 L160.51 804.04 L160.67 803.7 L160.83 803.37 L160.98 803.03 L161.14 802.7 L161.3 802.36 L161.46 802.02 L161.62 801.68 L161.78 801.34 L161.94 801 L162.1 800.66 L162.26 800.32 L162.42 799.98 L162.58 799.64 L162.74 799.3 L162.9 798.95 L163.06 798.61 L163.22 798.27 L163.38 797.92 L163.54 797.58 L163.7 797.23 L163.86 796.89 L164.02 796.54 L164.18 796.19 L164.34 795.84 L164.5 795.5 L164.66 795.15 L164.82 794.8 L164.98 794.45 L165.14 794.1 L165.3 793.75 L165.45 793.39 L165.61 793.04 L165.77 792.69 L165.93 792.34 L166.09 791.98 L166.25 791.63 L166.41 791.27 L166.57 790.91 L166.73 790.56 L166.89 790.2 L167.05 789.84 L167.21 789.48 L167.37 789.12 L167.53 788.76 L167.69 788.39 L167.85 788.03 L168.01 787.67 L168.17 787.3 L168.33 786.94 L168.49 786.57 L168.65 786.21 L168.81 785.84 L168.97 785.47 L169.13 785.1 L169.29 784.73 L169.45 784.37 L169.61 784 L169.77 783.63 L169.92 783.26 L170.08 782.89 L170.24 782.52 L170.4 782.14 L170.56 781.77 L170.72 781.4 L170.88 781.03 L171.04 780.66 L171.2 780.29 L171.36 779.91 L171.52 779.54 L171.68 779.17 L171.84 778.8 L172 778.42 L172.16 778.05 L172.32 777.68 L172.48 777.31 L172.64 776.93 L172.8 776.56 L172.96 776.19 L173.12 775.81 L173.28 775.44 L173.44 775.06 L173.6 774.69 L173.76 774.31 L173.92 773.94 L174.08 773.56 L174.24 773.18 L174.39 772.8 L174.55 772.43 L174.71 772.05 L174.87 771.67 L175.03 771.29 L175.19 770.91 L175.35 770.53 L175.51 770.15 L175.67 769.77 L175.83 769.39 L175.99 769.01 L176.15 768.63 L176.31 768.25 L176.47 767.87 L176.63 767.49 L176.79 767.11 L176.95 766.73 L177.11 766.35 L177.27 765.97 L177.43 765.59 L177.59 765.22 L177.75 764.84 L177.91 764.46 L178.07 764.08 L178.23 763.71 L178.39 763.33 L178.55 762.95 L178.71 762.58 L178.86 762.2 L179.02 761.83 L179.18 761.45 L179.34 761.08 L179.5 760.71 L179.66 760.34 L179.82 759.96 L179.98 759.59 L180.14 759.22 L180.3 758.85 L180.46 758.48 L180.62 758.11 L180.78 757.74 L180.94 757.38 L181.1 757.01 L181.26 756.64 L181.42 756.27 L181.58 755.9 L181.74 755.54 L181.9 755.17 L182.06 754.8 L182.22 754.43 L182.38 754.07 L182.54 753.7 L182.7 753.33 L182.86 752.96 L183.02 752.59 L183.17 752.23 L183.33 751.86 L183.49 751.49 L183.65 751.12 L183.81 750.75 L183.97 750.38 L184.13 750.01 L184.29 749.64 L184.45 749.27 L184.61 748.89 L184.77 748.52 L184.93 748.15 L185.09 747.77 L185.25 747.4 L185.41 747.02 L185.57 746.65 L185.73 746.27 L185.89 745.89 L186.05 745.51 L186.21 745.13 L186.37 744.75 L186.53 744.37 L186.69 743.98 L186.85 743.6 L187.01 743.21 L187.17 742.83 L187.33 742.44 L187.49 742.05 L187.64 741.67 L187.8 741.28 L187.96 740.89 L188.12 740.5 L188.28 740.12 L188.44 739.73 L188.6 739.34 L188.76 738.95 L188.92 738.56 L189.08 738.17 L189.24 737.78 L189.4 737.4 L189.56 737.01 L189.72 736.62 L189.88 736.23 L190.04 735.85 L190.2 735.46 L190.36 735.08 L190.52 734.69 L190.68 734.31 L190.84 733.93 L191 733.54 L191.16 733.16 L191.32 732.78 L191.48 732.4 L191.64 732.03 L191.8 731.65 L191.96 731.28 L192.11 730.9 L192.27 730.53 L192.43 730.15 L192.59 729.78 L192.75 729.4 L192.91 729.03 L193.07 728.66 L193.23 728.28 L193.39 727.91 L193.55 727.53 L193.71 727.16 L193.87 726.78 L194.03 726.41 L194.19 726.03 L194.35 725.66 L194.51 725.29 L194.67 724.91 L194.83 724.54 L194.99 724.17 L195.15 723.8 L195.31 723.43 L195.47 723.06 L195.63 722.69 L195.79 722.32 L195.95 721.95 L196.11 721.58 L196.27 721.22 L196.43 720.85 L196.58 720.49 L196.74 720.13 L196.9 719.77 L197.06 719.41 L197.22 719.05 L197.38 718.69 L197.54 718.33 L197.7 717.98 L197.86 717.63 L198.02 717.27 L198.18 716.92 L198.34 716.57 L198.5 716.23 L198.66 715.88 L198.82 715.54 L198.98 715.2 L199.14 714.86 L199.3 714.52 L199.46 714.19 L199.62 713.85 L199.78 713.52 L199.94 713.19 L200.1 712.86 L200.26 712.53 L200.42 712.2 L200.58 711.87 L200.74 711.55 L200.89 711.22 L201.05 710.9 L201.21 710.57 L201.37 710.25 L201.53 709.93 L201.69 709.61 L201.85 709.29 L202.01 708.97 L202.17 708.65 L202.33 708.33 L202.49 708.01 L202.65 707.7 L202.81 707.38 L202.97 707.07 L203.13 706.76 L203.29 706.45 L203.45 706.13 L203.61 705.83 L203.77 705.52 L203.93 705.21 L204.09 704.9 L204.25 704.6 L204.41 704.29 L204.57 703.99 L204.73 703.68 L204.89 703.38 L205.05 703.08 L205.21 702.78 L205.36 702.48 L205.52 702.18 L205.68 701.89 L205.84 701.59 L206 701.3 L206.16 701 L206.32 700.71 L206.48 700.42 L206.64 700.13 L206.8 699.84 L206.96 699.55 L207.12 699.26 L207.28 698.97 L207.44 698.69 L207.6 698.4 L207.76 698.12 L207.92 697.84 L208.08 697.56 L208.24 697.28 L208.4 697 L208.56 696.72 L208.72 696.44 L208.88 696.16 L209.04 695.89 L209.2 695.61 L209.36 695.33 L209.52 695.05 L209.68 694.78 L209.83 694.5 L209.99 694.22 L210.15 693.94 L210.31 693.67 L210.47 693.39 L210.63 693.11 L210.79 692.84 L210.95 692.56 L211.11 692.29 L211.27 692.01 L211.43 691.74 L211.59 691.47 L211.75 691.19 L211.91 690.92 L212.07 690.65 L212.23 690.38 L212.39 690.11 L212.55 689.85 L212.71 689.58 L212.87 689.31 L213.03 689.05 L213.19 688.79 L213.35 688.53 L213.51 688.27 L213.67 688.01 L213.83 687.75 L213.99 687.49 L214.15 687.24 L214.3 686.99 L214.46 686.74 L214.62 686.49 L214.78 686.24 L214.94 686 L215.1 685.76 L215.26 685.52 L215.42 685.28 L215.58 685.04 L215.74 684.81 L215.9 684.58 L216.06 684.35 L216.22 684.12 L216.38 683.89 L216.54 683.67 L216.7 683.45 L216.86 683.24 L217.02 683.02 L217.18 682.81 L217.34 682.6 L217.5 682.4 L217.66 682.2 L217.82 682 L217.98 681.8 L218.14 681.6 L218.3 681.41 L218.46 681.22 L218.62 681.02 L218.77 680.83 L218.93 680.64 L219.09 680.45 L219.25 680.26 L219.41 680.08 L219.57 679.89 L219.73 679.71 L219.89 679.52 L220.05 679.34 L220.21 679.16 L220.37 678.98 L220.53 678.8 L220.69 678.62 L220.85 678.44 L221.01 678.27 L221.17 678.09 L221.33 677.92 L221.49 677.75 L221.65 677.58 L221.81 677.41 L221.97 677.24 L222.13 677.07 L222.29 676.91 L222.45 676.74 L222.61 676.58 L222.77 676.42 L222.93 676.26 L223.08 676.1 L223.24 675.95 L223.4 675.79 L223.56 675.64 L223.72 675.49 L223.88 675.34 L224.04 675.19 L224.2 675.04 L224.36 674.9 L224.52 674.75 L224.68 674.61 L224.84 674.47 L225 674.33 L225.16 674.2 L225.32 674.06 L225.48 673.93 L225.64 673.8 L225.8 673.67 L225.96 673.54 L226.12 673.41 L226.28 673.29 L226.44 673.17 L226.6 673.05 L226.76 672.93 L226.92 672.81 L227.08 672.7 L227.24 672.58 L227.4 672.47 L227.55 672.35 L227.71 672.24 L227.87 672.12 L228.03 672.01 L228.19 671.9 L228.35 671.78 L228.51 671.67 L228.67 671.56 L228.83 671.45 L228.99 671.34 L229.15 671.23 L229.31 671.12 L229.47 671.01 L229.63 670.9 L229.79 670.79 L229.95 670.69 L230.11 670.58 L230.27 670.48 L230.43 670.38 L230.59 670.28 L230.75 670.18 L230.91 670.08 L231.07 669.98 L231.23 669.89 L231.39 669.79 L231.55 669.7 L231.71 669.61 L231.87 669.52 L232.02 669.44 L232.18 669.35 L232.34 669.27 L232.5 669.19 L232.66 669.11 L232.82 669.03 L232.98 668.96 L233.14 668.89 L233.3 668.82 L233.46 668.75 L233.62 668.69 L233.78 668.62 L233.94 668.57 L234.1 668.51 L234.26 668.45 L234.42 668.4 L234.58 668.36 L234.74 668.31 L234.9 668.27 L235.06 668.23 L235.22 668.19 L235.38 668.15 L235.54 668.11 L235.7 668.08 L235.86 668.04 L236.02 668 L236.18 667.97 L236.34 667.93 L236.49 667.89 L236.65 667.86 L236.81 667.82 L236.97 667.79 L237.13 667.75 L237.29 667.72 L237.45 667.69 L237.61 667.65 L237.77 667.62 L237.93 667.59 L238.09 667.56 L238.25 667.53 L238.41 667.5 L238.57 667.47 L238.73 667.44 L238.89 667.41 L239.05 667.38 L239.21 667.36 L239.37 667.33 L239.53 667.31 L239.69 667.28 L239.85 667.26 L240.01 667.24 L240.17 667.22 L240.33 667.2 L240.49 667.18 L240.65 667.16 L240.8 667.14 L240.96 667.12 L241.12 667.11 L241.28 667.1 L241.44 667.08 L241.6 667.07 L241.76 667.06 L241.92 667.05 L242.08 667.04 L242.24 667.04 L242.4 667.03 L242.56 667.03 L242.72 667.02 L242.88 667.02 L243.04 667.02 L243.2 667.02 L243.36 667.02 L243.52 667.03 L243.68 667.04 L243.84 667.04 L244 667.06 L244.16 667.07 L244.32 667.08 L244.48 667.09 L244.64 667.11 L244.8 667.13 L244.96 667.15 L245.12 667.17 L245.27 667.19 L245.43 667.21 L245.59 667.24 L245.75 667.26 L245.91 667.29 L246.07 667.31 L246.23 667.34 L246.39 667.37 L246.55 667.4 L246.71 667.43 L246.87 667.46 L247.03 667.5 L247.19 667.53 L247.35 667.56 L247.51 667.6 L247.67 667.63 L247.83 667.67 L247.99 667.7 L248.15 667.74 L248.31 667.78 L248.47 667.81 L248.63 667.85 L248.79 667.89 L248.95 667.93 L249.11 667.96 L249.27 668 L249.43 668.04 L249.59 668.08 L249.74 668.12 L249.9 668.17 L250.06 668.21 L250.22 668.26 L250.38 668.32 L250.54 668.37 L250.7 668.43 L250.86 668.49 L251.02 668.55 L251.18 668.62 L251.34 668.68 L251.5 668.75 L251.66 668.82 L251.82 668.89 L251.98 668.97 L252.14 669.04 L252.3 669.12 L252.46 669.2 L252.62 669.27 L252.78 669.36 L252.94 669.44 L253.1 669.52 L253.26 669.61 L253.42 669.69 L253.58 669.78 L253.74 669.87 L253.9 669.96 L254.06 670.05 L254.21 670.14 L254.37 670.23 L254.53 670.32 L254.69 670.41 L254.85 670.5 L255.01 670.6 L255.17 670.69 L255.33 670.78 L255.49 670.88 L255.65 670.97 L255.81 671.06 L255.97 671.16 L256.13 671.26 L256.29 671.36 L256.45 671.46 L256.61 671.56 L256.77 671.66 L256.93 671.77 L257.09 671.88 L257.25 671.99 L257.41 672.1 L257.57 672.21 L257.73 672.33 L257.89 672.45 L258.05 672.56 L258.21 672.68 L258.37 672.81 L258.52 672.93 L258.68 673.05 L258.84 673.18 L259 673.3 L259.16 673.43 L259.32 673.56 L259.48 673.69 L259.64 673.82 L259.8 673.95 L259.96 674.09 L260.12 674.22 L260.28 674.36 L260.44 674.49 L260.6 674.63 L260.76 674.77 L260.92 674.91 L261.08 675.05 L261.24 675.19 L261.4 675.33 L261.56 675.47 L261.72 675.61 L261.88 675.75 L262.04 675.9 L262.2 676.04 L262.36 676.19 L262.52 676.33 L262.68 676.48 L262.84 676.63 L262.99 676.78 L263.15 676.94 L263.31 677.09 L263.47 677.25 L263.63 677.41 L263.79 677.57 L263.95 677.73 L264.11 677.89 L264.27 678.05 L264.43 678.22 L264.59 678.38 L264.75 678.55 L264.91 678.72 L265.07 678.89 L265.23 679.06 L265.39 679.24 L265.55 679.41 L265.71 679.58 L265.87 679.76 L266.03 679.94 L266.19 680.12 L266.35 680.29 L266.51 680.48 L266.67 680.66 L266.83 680.84 L266.99 681.02 L267.15 681.21 L267.31 681.39 L267.46 681.58 L267.62 681.76 L267.78 681.95 L267.94 682.14 L268.1 682.32 L268.26 682.51 L268.42 682.7 L268.58 682.89 L268.74 683.09 L268.9 683.28 L269.06 683.47 L269.22 683.67 L269.38 683.87 L269.54 684.07 L269.7 684.27 L269.86 684.47 L270.02 684.67 L270.18 684.88 L270.34 685.08 L270.5 685.29 L270.66 685.5 L270.82 685.71 L270.98 685.92 L271.14 686.13 L271.3 686.34 L271.46 686.56 L271.62 686.77 L271.78 686.99 L271.93 687.21 L272.09 687.43 L272.25 687.65 L272.41 687.87 L272.57 688.09 L272.73 688.31 L272.89 688.53 L273.05 688.76 L273.21 688.98 L273.37 689.21 L273.53 689.44 L273.69 689.66 L273.85 689.89 L274.01 690.12 L274.17 690.35 L274.33 690.58 L274.49 690.82 L274.65 691.05 L274.81 691.28 L274.97 691.52 L275.13 691.75 L275.29 691.99 L275.45 692.22 L275.61 692.46 L275.77 692.7 L275.93 692.94 L276.09 693.19 L276.25 693.43 L276.4 693.68 L276.56 693.92 L276.72 694.17 L276.88 694.42 L277.04 694.67 L277.2 694.92 L277.36 695.17 L277.52 695.42 L277.68 695.68 L277.84 695.93 L278 696.19 L278.16 696.45 L278.32 696.7 L278.48 696.96 L278.64 697.22 L278.8 697.48 L278.96 697.75 L279.12 698.01 L279.28 698.27 L279.44 698.54 L279.6 698.8 L279.76 699.07 L279.92 699.33 L280.08 699.6 L280.24 699.87 L280.4 700.14 L280.56 700.41 L280.71 700.68 L280.87 700.95 L281.03 701.22 L281.19 701.49 L281.35 701.77 L281.51 702.04 L281.67 702.32 L281.83 702.59 L281.99 702.87 L282.15 703.15 L282.31 703.43 L282.47 703.71 L282.63 703.99 L282.79 704.28 L282.95 704.56 L283.11 704.84 L283.27 705.13 L283.43 705.42 L283.59 705.71 L283.75 705.99 L283.91 706.28 L284.07 706.58 L284.23 706.87 L284.39 707.16 L284.55 707.45 L284.71 707.75 L284.87 708.04 L285.03 708.34 L285.18 708.64 L285.34 708.94 L285.5 709.23 L285.66 709.53 L285.82 709.83 L285.98 710.13 L286.14 710.44 L286.3 710.74 L286.46 711.04 L286.62 711.35 L286.78 711.65 L286.94 711.95 L287.1 712.26 L287.26 712.57 L287.42 712.87 L287.58 713.18 L287.74 713.49 L287.9 713.8 L288.06 714.11 L288.22 714.42 L288.38 714.73 L288.54 715.04 L288.7 715.36 L288.86 715.67 L289.02 715.99 L289.18 716.3 L289.34 716.62 L289.5 716.94 L289.65 717.26 L289.81 717.58 L289.97 717.9 L290.13 718.22 L290.29 718.54 L290.45 718.87 L290.61 719.19 L290.77 719.52 L290.93 719.84 L291.09 720.17 L291.25 720.5 L291.41 720.82 L291.57 721.15 L291.73 721.48 L291.89 721.81 L292.05 722.14 L292.21 722.47 L292.37 722.81 L292.53 723.14 L292.69 723.47 L292.85 723.81 L293.01 724.14 L293.17 724.48 L293.33 724.81 L293.49 725.15 L293.65 725.48 L293.81 725.82 L293.97 726.16 L294.12 726.49 L294.28 726.83 L294.44 727.17 L294.6 727.51 L294.76 727.85 L294.92 728.2 L295.08 728.54 L295.24 728.88 L295.4 729.23 L295.56 729.57 L295.72 729.92 L295.88 730.26 L296.04 730.61 L296.2 730.96 L296.36 731.31 L296.52 731.66 L296.68 732.01 L296.84 732.36 L297 732.71 L297.16 733.06 L297.32 733.42 L297.48 733.77 L297.64 734.12 L297.8 734.48 L297.96 734.83 L298.12 735.19 L298.28 735.54 L298.43 735.9 L298.59 736.26 L298.75 736.62 L298.91 736.97 L299.07 737.33 L299.23 737.69 L299.39 738.05 L299.55 738.41 L299.71 738.77 L299.87 739.13 L300.03 739.49 L300.19 739.86 L300.35 740.22 L300.51 740.58 L300.67 740.94 L300.83 741.31 L300.99 741.67 L301.15 742.04 L301.31 742.4 L301.47 742.77 L301.63 743.14 L301.79 743.5 L301.95 743.87 L302.11 744.24 L302.27 744.61 L302.43 744.98 L302.59 745.35 L302.75 745.72 L302.9 746.09 L303.06 746.47 L303.22 746.84 L303.38 747.21 L303.54 747.58 L303.7 747.96 L303.86 748.33 L304.02 748.71 L304.18 749.08 L304.34 749.46 L304.5 749.84 L304.66 750.21 L304.82 750.59 L304.98 750.97 L305.14 751.35 L305.3 751.72 L305.46 752.1 L305.62 752.48 L305.78 752.86 L305.94 753.24 L306.1 753.62 L306.26 754 L306.42 754.38 L306.58 754.76 L306.74 755.14 L306.9 755.52 L307.06 755.9 L307.22 756.29 L307.37 756.67 L307.53 757.05 L307.69 757.44 L307.85 757.82 L308.01 758.2 L308.17 758.59 L308.33 758.98 L308.49 759.36 L308.65 759.75 L308.81 760.13 L308.97 760.52 L309.13 760.91 L309.29 761.3 L309.45 761.69 L309.61 762.07 L309.77 762.46 L309.93 762.85 L310.09 763.24 L310.25 763.63 L310.41 764.02 L310.57 764.41 L310.73 764.81 L310.89 765.2 L311.05 765.59 L311.21 765.98 L311.37 766.37 L311.53 766.76 L311.69 767.16 L311.84 767.55 L312 767.94 L312.16 768.33 L312.32 768.73 L312.48 769.12 L312.64 769.51 L312.8 769.91 L312.96 770.3 L313.12 770.69 L313.28 771.09 L313.44 771.48 L313.6 771.88 L313.76 772.27 L313.92 772.67 L314.08 773.06 L314.24 773.46 L314.4 773.85 L314.56 774.25 L314.72 774.65 L314.88 775.04 L315.04 775.44 L315.2 775.84 L315.36 776.24 L315.52 776.63 L315.68 777.03 L315.84 777.43 L316 777.83 L316.15 778.23 L316.31 778.63 L316.47 779.03 L316.63 779.43 L316.79 779.83 L316.95 780.23 L317.11 780.63 L317.27 781.02 L317.43 781.42 L317.59 781.82 L317.75 782.23 L317.91 782.63 L318.07 783.03 L318.23 783.43 L318.39 783.83 L318.55 784.23 L318.71 784.63 L318.87 785.03 L319.03 785.43 L319.19 785.83 L319.35 786.23 L319.51 786.63 L319.67 787.03 L319.83 787.43 L319.99 787.83 L320.15 788.23 L320.31 788.63 L320.47 789.03 L320.62 789.43 L320.78 789.83 L320.94 790.24 L321.1 790.64 L321.26 791.04 L321.42 791.44 L321.58 791.84 L321.74 792.24 L321.9 792.65 L322.06 793.05 L322.22 793.45 L322.38 793.85 L322.54 794.26 L322.7 794.66 L322.86 795.06 L323.02 795.46 L323.18 795.87 L323.34 796.27 L323.5 796.67 L323.66 797.07 L323.82 797.47 L323.98 797.88 L324.14 798.28 L324.3 798.68 L324.46 799.08 L324.62 799.48 L324.78 799.89 L324.94 800.29 L325.09 800.69 L325.25 801.09 L325.41 801.49 L325.57 801.89 L325.73 802.29 L325.89 802.69 L326.05 803.09 L326.21 803.49 L326.37 803.89 L326.53 804.29 L326.69 804.69 L326.85 805.09 L327.01 805.49 L327.17 805.89 L327.33 806.29 L327.49 806.69 L327.65 807.09 L327.81 807.49 L327.97 807.9 L328.13 808.3 L328.29 808.7 L328.45 809.09 L328.61 809.49 L328.77 809.89 L328.93 810.29 L329.09 810.69 L329.25 811.09 L329.41 811.49 L329.56 811.89 L329.72 812.29 L329.88 812.69 L330.04 813.09 L330.2 813.48 L330.36 813.88 L330.52 814.28 L330.68 814.68 L330.84 815.07 L331 815.47 L331.16 815.87 L331.32 816.26 L331.48 816.66 L331.64 817.06 L331.8 817.45 L331.96 817.85 L332.12 818.24 L332.28 818.63 L332.44 819.03 L332.6 819.42 L332.76 819.81 L332.92 820.21 L333.08 820.6 L333.24 820.99 L333.4 821.39 L333.56 821.78 L333.72 822.17 L333.88 822.57 L334.03 822.96 L334.19 823.35 L334.35 823.74 L334.51 824.13 L334.67 824.53 L334.83 824.92 L334.99 825.31 L335.15 825.7 L335.31 826.09 L335.47 826.48 L335.63 826.87 L335.79 827.26 L335.95 827.65 L336.11 828.04 L336.27 828.43 L336.43 828.81 L336.59 829.2 L336.75 829.59 L336.91 829.98 L337.07 830.36 L337.23 830.75 L337.39 831.13 L337.55 831.52 L337.71 831.9 L337.87 832.29 L338.03 832.67 L338.19 833.05 L338.34 833.44 L338.5 833.82 L338.66 834.2 L338.82 834.58 L338.98 834.96 L339.14 835.34 L339.3 835.72 L339.46 836.1 L339.62 836.48 L339.78 836.86 L339.94 837.24 L340.1 837.62 L340.26 838 L340.42 838.38 L340.58 838.76 L340.74 839.13 L340.9 839.51 L341.06 839.89 L341.22 840.27 L341.38 840.64 L341.54 841.02 L341.7 841.39 L341.86 841.77 L342.02 842.14 L342.18 842.52 L342.34 842.89 L342.5 843.26 L342.66 843.63 L342.81 844.01 L342.97 844.38 L343.13 844.75 L343.29 845.12 L343.45 845.49 L343.61 845.86 L343.77 846.22 L343.93 846.59 L344.09 846.96 L344.25 847.33 L344.41 847.69 L344.57 848.06 L344.73 848.42 L344.89 848.79 L345.05 849.15 L345.21 849.51 L345.37 849.87 L345.53 850.24 L345.69 850.6 L345.85 850.96 L346.01 851.32 L346.17 851.68 L346.33 852.04 L346.49 852.4 L346.65 852.76 L346.81 853.11 L346.97 853.47 L347.13 853.83 L347.28 854.19 L347.44 854.54 L347.6 854.9 L347.76 855.25 L347.92 855.61 L348.08 855.96 L348.24 856.32 L348.4 856.67 L348.56 857.02 L348.72 857.37 L348.88 857.72 L349.04 858.07 L349.2 858.42 L349.36 858.77 L349.52 859.12 L349.68 859.47 L349.84 859.82 L350 860.16 L350.16 860.51 L350.32 860.85 L350.48 861.2 L350.64 861.54 L350.8 861.88 L350.96 862.22 L351.12 862.56 L351.28 862.9 L351.44 863.24 L351.6 863.58 L351.75 863.92 L351.91 864.25 L352.07 864.59 L352.23 864.93 L352.39 865.26 L352.55 865.6 L352.71 865.93 L352.87 866.27 L353.03 866.6 L353.19 866.93 L353.35 867.26 L353.51 867.6 L353.67 867.93 L353.83 868.26 L353.99 868.59 L354.15 868.92 L354.31 869.24 L354.47 869.57 L354.63 869.9 L354.79 870.23 L354.95 870.55 L355.11 870.88 L355.27 871.2 L355.43 871.52 L355.59 871.84 L355.75 872.17 L355.91 872.49 L356.06 872.81 L356.22 873.12 L356.38 873.44 L356.54 873.76 L356.7 874.07 L356.86 874.39 L357.02 874.7 L357.18 875.01 L357.34 875.33 L357.5 875.64 L357.66 875.95 L357.82 876.25 L357.98 876.56 L358.14 876.87 L358.3 877.18 L358.46 877.48 L358.62 877.79 L358.78 878.09 L358.94 878.4 L359.1 878.7 L359.26 879.01 L359.42 879.31 L359.58 879.62 L359.74 879.92 L359.9 880.22 L360.06 880.53 L360.22 880.83 L360.38 881.13 L360.53 881.43 L360.69 881.73 L360.85 882.03 L361.01 882.33 L361.17 882.63 L361.33 882.93 L361.49 883.23 L361.65 883.52 L361.81 883.82 L361.97 884.12 L362.13 884.41 L362.29 884.71 L362.45 885 L362.61 885.3 L362.77 885.59 L362.93 885.89 L363.09 886.18 L363.25 886.47 L363.41 886.76 L363.57 887.05 L363.73 887.34 L363.89 887.63 L364.05 887.92 L364.21 888.21 L364.37 888.49 L364.53 888.78 L364.69 889.07 L364.85 889.35 L365 889.64 L365.16 889.92 L365.32 890.2 L365.48 890.48 L365.64 890.76 L365.8 891.04 L365.96 891.32 L366.12 891.6 L366.28 891.88 L366.44 892.16 L366.6 892.43 L366.76 892.71 L366.92 892.98 L367.08 893.26 L367.24 893.53 L367.4 893.8 L367.56 894.07 L367.72 894.34 L367.88 894.61 L368.04 894.88 L368.2 895.15 L368.36 895.41 L368.52 895.68 L368.68 895.94 L368.84 896.21 L369 896.47 L369.16 896.73 L369.32 896.99 L369.47 897.25 L369.63 897.5 L369.79 897.76 L369.95 898.01 L370.11 898.26 L370.27 898.51 L370.43 898.76 L370.59 899.01 L370.75 899.26 L370.91 899.5 L371.07 899.75 L371.23 899.99 L371.39 900.23 L371.55 900.47 L371.71 900.71 L371.87 900.95 L372.03 901.19 L372.19 901.43 L372.35 901.67 L372.51 901.91 L372.67 902.14 L372.83 902.38 L372.99 902.61 L373.15 902.85 L373.31 903.09 L373.47 903.32 L373.63 903.56 L373.78 903.79 L373.94 904.03 L374.1 904.27 L374.26 904.51 L374.42 904.75 L374.58 905 L374.74 905.25 L374.9 905.5 L375.06 905.75 L375.22 906 L375.38 906.24 L375.54 906.49 L375.7 906.73 L375.86 906.98 L376.02 907.22 L376.18 907.45 L376.34 907.68 L376.5 907.91 L376.66 908.13 L376.82 908.34 L376.98 908.55 L377.14 908.75 L377.3 908.95 L377.46 909.13 L377.62 909.31 L377.78 909.48 L377.94 909.65 L378.1 909.81 L378.25 909.97 L378.41 910.14 L378.57 910.3 L378.73 910.46 L378.89 910.61 L379.05 910.77 L379.21 910.92 L379.37 911.06 L379.53 911.21 L379.69 911.35 L379.85 911.49 L380.01 911.62 L380.17 911.75 L380.33 911.88 L380.49 912 L380.65 912.11 L380.81 912.22 L380.97 912.33 L381.13 912.43 L381.29 912.53 L381.45 912.62 L381.61 912.7 L381.77 912.77 L381.93 912.85 L382.09 912.92 L382.25 912.99 L382.41 913.06 L382.57 913.12 L382.72 913.19 L382.88 913.26 L383.04 913.32 L383.2 913.38 L383.36 913.44 L383.52 913.5 L383.68 913.55 L383.84 913.6 L384 913.64 L384.16 913.68 L384.32 913.71 L384.48 913.74 L384.64 913.76 L384.8 913.78 L384.96 913.79 L385.12 913.79 L385.28 913.78 L385.44 913.77 L385.6 913.76 L385.76 913.74 L385.92 913.72 L386.08 913.69 L386.24 913.66 L386.4 913.63 L386.56 913.59 L386.72 913.55 L386.88 913.51 L387.04 913.47 L387.19 913.42 L387.35 913.37 L387.51 913.31 L387.67 913.26 L387.83 913.2 L387.99 913.15 L388.15 913.09 L388.31 913.03 L388.47 912.95 L388.63 912.86 L388.79 912.76 L388.95 912.65 L389.11 912.52 L389.27 912.39 L389.43 912.24 L389.59 912.08 L389.75 911.92 L389.91 911.74 L390.07 911.55 L390.23 911.36 L390.39 911.16 L390.55 910.95 L390.71 910.73 L390.87 910.51 L391.03 910.25 L391.19 909.96 L391.35 909.64 L391.51 909.29 L391.66 908.91 L391.82 908.51 L391.98 908.1 L392.14 907.67 L392.3 907.22 L392.46 906.77 L392.62 906.31 L392.78 905.84 L392.94 905.38 L393.1 904.91 L393.26 904.43 L393.42 903.94 L393.58 903.43 L393.74 902.9 L393.9 902.36 L394.06 901.81 L394.22 901.24 L394.38 900.66 L394.54 900.06 L394.7 899.46 L394.86 898.83 L395.02 898.2 L395.18 897.56 L395.34 896.9 L395.5 896.21 L395.66 895.5 L395.82 894.77 L395.97 894.01 L396.13 893.23 L396.29 892.44 L396.45 891.64 L396.61 890.82 L396.77 890 L396.93 889.17 L397.09 888.34 L397.25 887.51 L397.41 886.68 L397.57 885.85 L397.73 884.99 L397.89 884.1 L398.05 883.19 L398.21 882.27 L398.37 881.33 L398.53 880.4 L398.69 879.47 L398.85 878.56 L399.01 877.66 L399.17 876.8 L399.33 875.96 L399.49 875.17 L399.65 874.43 L399.81 873.74 L399.97 873.07 L400.13 872.41 L400.29 871.77 L400.44 871.14 L400.6 870.53 L400.76 869.94 L400.92 869.37 L401.08 868.82 L401.24 868.29 L401.4 867.77 L401.56 867.28 L401.72 866.82 L401.88 866.38 L402.04 865.95 L402.2 865.52 L402.36 865.08 L402.52 864.63 L402.68 864.2 L402.84 863.79 L403 863.4 L403.16 863.05 L403.32 862.75 L403.48 862.49 L403.64 862.3 L403.8 862.18 L403.96 862.12 L404.12 862.08 L404.28 862.04 L404.44 862.01 L404.6 861.98 L404.76 861.95 L404.91 861.93 L405.07 861.92 L405.23 861.91 L405.39 861.9 L405.55 861.91 L405.71 861.99 L405.87 862.13 L406.03 862.33 L406.19 862.57 L406.35 862.86 L406.51 863.17 L406.67 863.5 L406.83 863.84 L406.99 864.17 L407.15 864.51 L407.31 864.87 L407.47 865.27 L407.63 865.71 L407.79 866.18 L407.95 866.68 L408.11 867.2 L408.27 867.75 L408.43 868.32 L408.59 868.9 L408.75 869.51 L408.91 870.12 L409.07 870.75 L409.23 871.44 L409.38 872.18 L409.54 872.96 L409.7 873.78 L409.86 874.62 L410.02 875.48 L410.18 876.35 L410.34 877.23 L410.5 878.1 L410.66 878.95 L410.82 879.78 L410.98 880.58 L411.14 881.4 L411.3 882.22 L411.46 883.05 L411.62 883.89 L411.78 884.72 L411.94 885.55 L412.1 886.37 L412.26 887.17 L412.42 887.96 L412.58 888.72 L412.74 889.46 L412.9 890.16 L413.06 890.82 L413.22 891.45 L413.38 892.08 L413.54 892.69 L413.69 893.29 L413.85 893.88 L414.01 894.45 L414.17 895.01 L414.33 895.55 L414.49 896.07 L414.65 896.56 L414.81 897.03 L414.97 897.48 L415.13 897.89 L415.29 898.27 L415.45 898.62 L415.61 898.97 L415.77 899.31 L415.93 899.65 L416.09 899.98 L416.25 900.3 L416.41 900.6 L416.57 900.88 L416.73 901.15 L416.89 901.39 L417.05 901.6 L417.21 901.78 L417.37 901.94 L417.53 902.05 L417.69 902.14 L417.85 902.21 L418.01 902.28 L418.16 902.35 L418.32 902.41 L418.48 902.46 L418.64 902.51 L418.8 902.54 L418.96 902.57 L419.12 902.58 L419.28 902.58 L419.44 902.56 L419.6 902.51 L419.76 902.45 L419.92 902.37 L420.08 902.28 L420.24 902.17 L420.4 902.05 L420.56 901.93 L420.72 901.79 L420.88 901.65 L421.04 901.51 L421.2 901.37 L421.36 901.22 L421.52 901.08 L421.68 900.94 L421.84 900.8 L422 900.66 L422.16 900.51 L422.32 900.35 L422.48 900.18 L422.63 900.01 L422.79 899.83 L422.95 899.65 L423.11 899.46 L423.27 899.27 L423.43 899.07 L423.59 898.88 L423.75 898.68 L423.91 898.48 L424.07 898.28 L424.23 898.08 L424.39 897.88 L424.55 897.69 L424.71 897.5 L424.87 897.31 L425.03 897.12 L425.19 896.94 L425.35 896.75 L425.51 896.56 L425.67 896.38 L425.83 896.19 L425.99 896 L426.15 895.81 L426.31 895.62 L426.47 895.44 L426.63 895.25 L426.79 895.06 L426.95 894.87 L427.1 894.68 L427.26 894.49 L427.42 894.3 L427.58 894.11 L427.74 893.92 L427.9 893.74 L428.06 893.55 L428.22 893.36 L428.38 893.17 L428.54 892.99 L428.7 892.8 L428.86 892.62 L429.02 892.43 L429.18 892.25 L429.34 892.07 L429.5 891.88 L429.66 891.7 L429.82 891.52 L429.98 891.34 L430.14 891.15 L430.3 890.97 L430.46 890.79 L430.62 890.61 L430.78 890.43 L430.94 890.25 L431.1 890.07 L431.26 889.89 L431.42 889.71 L431.57 889.53 L431.73 889.35 L431.89 889.17 L432.05 888.99 L432.21 888.81 L432.37 888.63 L432.53 888.45 L432.69 888.28 L432.85 888.1 L433.01 887.92 L433.17 887.74 L433.33 887.57 L433.49 887.39 L433.65 887.21 L433.81 887.04 L433.97 886.86 L434.13 886.69 L434.29 886.51 L434.45 886.34 L434.61 886.16 L434.77 885.99 L434.93 885.82 L435.09 885.64 L435.25 885.47 L435.41 885.3 L435.57 885.13 L435.73 884.95 L435.88 884.78 L436.04 884.61 L436.2 884.44 L436.36 884.27 L436.52 884.1 L436.68 883.93 L436.84 883.76 L437 883.59 L437.16 883.42 L437.32 883.25 L437.48 883.08 L437.64 882.91 L437.8 882.74 L437.96 882.58 L438.12 882.41 L438.28 882.24 L438.44 882.07 L438.6 881.9 L438.76 881.74 L438.92 881.57 L439.08 881.4 L439.24 881.24 L439.4 881.07 L439.56 880.91 L439.72 880.74 L439.88 880.57 L440.04 880.41 L440.2 880.24 L440.35 880.08 L440.51 879.91 L440.67 879.75 L440.83 879.59 L440.99 879.43 L441.15 879.27 L441.31 879.11 L441.47 878.95 L441.63 878.79 L441.79 878.63 L441.95 878.47 L442.11 878.31 L442.27 878.16 L442.43 878 L442.59 877.84 L442.75 877.68 L442.91 877.53 L443.07 877.37 L443.23 877.21 L443.39 877.05 L443.55 876.89 L443.71 876.73 L443.87 876.57 L444.03 876.41 L444.19 876.25 L444.35 876.09 L444.51 875.93 L444.67 875.77 L444.82 875.6 L444.98 875.44 L445.14 875.27 L445.3 875.1 L445.46 874.93 L445.62 874.76 L445.78 874.59 L445.94 874.42 L446.1 874.25 L446.26 874.08 L446.42 873.91 L446.58 873.73 L446.74 873.56 L446.9 873.39 L447.06 873.22 L447.22 873.04 L447.38 872.87 L447.54 872.7 L447.7 872.52 L447.86 872.34 L448.02 872.16 L448.18 871.99 L448.34 871.81 L448.5 871.62 L448.66 871.44 L448.82 871.26 L448.98 871.07 L449.14 870.88 L449.29 870.69 L449.45 870.5 L449.61 870.3 L449.77 870.11 L449.93 869.91 L450.09 869.71 L450.25 869.5 L450.41 869.3 L450.57 869.09 L450.73 868.88 L450.89 868.67 L451.05 868.45 L451.21 868.24 L451.37 868.02 L451.53 867.8 L451.69 867.58 L451.85 867.36 L452.01 867.13 L452.17 866.9 L452.33 866.67 L452.49 866.44 L452.65 866.21 L452.81 865.97 L452.97 865.73 L453.13 865.48 L453.29 865.24 L453.45 864.99 L453.6 864.74 L453.76 864.48 L453.92 864.22 L454.08 863.96 L454.24 863.69 L454.4 863.43 L454.56 863.15 L454.72 862.88 L454.88 862.59 L455.04 862.31 L455.2 862.02 L455.36 861.73 L455.52 861.43 L455.68 861.12 L455.84 860.8 L456 860.48 L456.16 860.15 L456.32 859.81 L456.48 859.47 L456.64 859.12 L456.8 858.76 L456.96 858.4 L457.12 858.04 L457.28 857.67 L457.44 857.3 L457.6 856.92 L457.76 856.54 L457.92 856.16 L458.07 855.78 L458.23 855.39 L458.39 855 L458.55 854.61 L458.71 854.22 L458.87 853.83 L459.03 853.44 L459.19 853.04 L459.35 852.65 L459.51 852.26 L459.67 851.87 L459.83 851.48 L459.99 851.1 L460.15 850.71 L460.31 850.32 L460.47 849.92 L460.63 849.52 L460.79 849.11 L460.95 848.69 L461.11 848.28 L461.27 847.86 L461.43 847.43 L461.59 847.01 L461.75 846.58 L461.91 846.15 L462.07 845.72 L462.23 845.3 L462.39 844.87 L462.54 844.44 L462.7 844.02 L462.86 843.59 L463.02 843.17 L463.18 842.76 L463.34 842.34 L463.5 841.94 L463.66 841.53 L463.82 841.13 L463.98 840.74 L464.14 840.36 L464.3 839.98 L464.46 839.61 L464.62 839.25 L464.78 838.9 L464.94 838.55 L465.1 838.22 L465.26 837.89 L465.42 837.57 L465.58 837.26 L465.74 836.95 L465.9 836.65 L466.06 836.36 L466.22 836.06 L466.38 835.77 L466.54 835.49 L466.7 835.21 L466.86 834.93 L467.01 834.65 L467.17 834.37 L467.33 834.09 L467.49 833.82 L467.65 833.54 L467.81 833.26 L467.97 832.98 L468.13 832.7 L468.29 832.41 L468.45 832.12 L468.61 831.83 L468.77 831.53 L468.93 831.23 L469.09 830.92 L469.25 830.6 L469.41 830.28 L469.57 829.95 L469.73 829.61 L469.89 829.27 L470.05 828.92 L470.21 828.57 L470.37 828.21 L470.53 827.85 L470.69 827.49 L470.85 827.12 L471.01 826.74 L471.17 826.36 L471.32 825.98 L471.48 825.6 L471.64 825.21 L471.8 824.82 L471.96 824.43 L472.12 824.03 L472.28 823.63 L472.44 823.23 L472.6 822.83 L472.76 822.43 L472.92 822.02 L473.08 821.61 L473.24 821.21 L473.4 820.8 L473.56 820.39 L473.72 819.98 L473.88 819.56 L474.04 819.15 L474.2 818.74 L474.36 818.33 L474.52 817.92 L474.68 817.51 L474.84 817.1 L475 816.69 L475.16 816.29 L475.32 815.88 L475.48 815.48 L475.64 815.07 L475.79 814.67 L475.95 814.28 L476.11 813.88 L476.27 813.48 L476.43 813.09 L476.59 812.69 L476.75 812.29 L476.91 811.89 L477.07 811.49 L477.23 811.1 L477.39 810.7 L477.55 810.3 L477.71 809.9 L477.87 809.5 L478.03 809.1 L478.19 808.7 L478.35 808.3 L478.51 807.9 L478.67 807.5 L478.83 807.1 L478.99 806.7 L479.15 806.3 L479.31 805.9 L479.47 805.5 L479.63 805.09 L479.79 804.69 L479.95 804.29 L480.11 803.89 L480.26 803.49 L480.42 803.09 L480.58 802.69 L480.74 802.29 L480.9 801.88 L481.06 801.48 L481.22 801.08 L481.38 800.68 L481.54 800.28 L481.7 799.88 L481.86 799.48 L482.02 799.08 L482.18 798.67 L482.34 798.27 L482.5 797.87 L482.66 797.47 L482.82 797.07 L482.98 796.67 L483.14 796.27 L483.3 795.87 L483.46 795.47 L483.62 795.06 L483.78 794.66 L483.94 794.26 L484.1 793.86 L484.26 793.46 L484.42 793.05 L484.58 792.65 L484.73 792.25 L484.89 791.85 L485.05 791.45 L485.21 791.04 L485.37 790.64 L485.53 790.24 L485.69 789.84 L485.85 789.43 L486.01 789.03 L486.17 788.63 L486.33 788.23 L486.49 787.83 L486.65 787.43 L486.81 787.02 L486.97 786.62 L487.13 786.22 L487.29 785.82 L487.45 785.42 L487.61 785.02 L487.77 784.62 L487.93 784.22 L488.09 783.82 L488.25 783.42 L488.41 783.02 L488.57 782.62 L488.73 782.22 L488.89 781.82 L489.05 781.42 L489.2 781.02 L489.36 780.63 L489.52 780.23 L489.68 779.83 L489.84 779.43 L490 779.03 L490.16 778.63 L490.32 778.23 L490.48 777.83 L490.64 777.44 L490.8 777.04 L490.96 776.64 L491.12 776.24 L491.28 775.84 L491.44 775.45 L491.6 775.05 L491.76 774.65 L491.92 774.25 L492.08 773.86 L492.24 773.46 L492.4 773.06 L492.56 772.67 L492.72 772.27 L492.88 771.87 L493.04 771.48 L493.2 771.08 L493.36 770.69 L493.51 770.29 L493.67 769.9 L493.83 769.51 L493.99 769.11 L494.15 768.72 L494.31 768.33 L494.47 767.93 L494.63 767.54 L494.79 767.15 L494.95 766.76 L495.11 766.37 L495.27 765.98 L495.43 765.59 L495.59 765.2 L495.75 764.81 L495.91 764.42 L496.07 764.03 L496.23 763.64 L496.39 763.25 L496.55 762.86 L496.71 762.47 L496.87 762.08 L497.03 761.69 L497.19 761.3 L497.35 760.92 L497.51 760.53 L497.67 760.14 L497.83 759.75 L497.98 759.37 L498.14 758.98 L498.3 758.59 L498.46 758.21 L498.62 757.82 L498.78 757.44 L498.94 757.05 L499.1 756.67 L499.26 756.28 L499.42 755.9 L499.58 755.52 L499.74 755.14 L499.9 754.75 L500.06 754.37 L500.22 753.99 L500.38 753.61 L500.54 753.23 L500.7 752.85 L500.86 752.47 L501.02 752.09 L501.18 751.72 L501.34 751.34 L501.5 750.96 L501.66 750.59 L501.82 750.21 L501.98 749.84 L502.14 749.46 L502.3 749.09 L502.45 748.71 L502.61 748.34 L502.77 747.96 L502.93 747.59 L503.09 747.22 L503.25 746.84 L503.41 746.47 L503.57 746.1 L503.73 745.73 L503.89 745.36 L504.05 744.99 L504.21 744.62 L504.37 744.25 L504.53 743.88 L504.69 743.51 L504.85 743.14 L505.01 742.77 L505.17 742.4 L505.33 742.04 L505.49 741.67 L505.65 741.3 L505.81 740.94 L505.97 740.58 L506.13 740.21 L506.29 739.85 L506.45 739.49 L506.61 739.12 L506.77 738.76 L506.92 738.4 L507.08 738.04 L507.24 737.68 L507.4 737.32 L507.56 736.97 L507.72 736.61 L507.88 736.25 L508.04 735.9 L508.2 735.54 L508.36 735.19 L508.52 734.83 L508.68 734.48 L508.84 734.13 L509 733.77 L509.16 733.42 L509.32 733.07 L509.48 732.72 L509.64 732.37 L509.8 732.02 L509.96 731.67 L510.12 731.32 L510.28 730.97 L510.44 730.62 L510.6 730.27 L510.76 729.92 L510.92 729.58 L511.08 729.23 L511.23 728.89 L511.39 728.54 L511.55 728.2 L511.71 727.85 L511.87 727.51 L512.03 727.17 L512.19 726.83 L512.35 726.49 L512.51 726.15 L512.67 725.81 L512.83 725.47 L512.99 725.14 L513.15 724.8 L513.31 724.46 L513.47 724.13 L513.63 723.8 L513.79 723.46 L513.95 723.13 L514.11 722.8 L514.27 722.47 L514.43 722.14 L514.59 721.81 L514.75 721.48 L514.91 721.15 L515.07 720.83 L515.23 720.5 L515.39 720.17 L515.55 719.85 L515.7 719.52 L515.86 719.2 L516.02 718.88 L516.18 718.55 L516.34 718.23 L516.5 717.91 L516.66 717.59 L516.82 717.27 L516.98 716.95 L517.14 716.63 L517.3 716.31 L517.46 715.99 L517.62 715.68 L517.78 715.36 L517.94 715.04 L518.1 714.73 L518.26 714.42 L518.42 714.1 L518.58 713.79 L518.74 713.48 L518.9 713.17 L519.06 712.86 L519.22 712.56 L519.38 712.25 L519.54 711.94 L519.7 711.64 L519.86 711.33 L520.02 711.03 L520.17 710.73 L520.33 710.43 L520.49 710.13 L520.65 709.83 L520.81 709.53 L520.97 709.23 L521.13 708.94 L521.29 708.64 L521.45 708.34 L521.61 708.05 L521.77 707.75 L521.93 707.46 L522.09 707.17 L522.25 706.88 L522.41 706.58 L522.57 706.29 L522.73 706 L522.89 705.72 L523.05 705.43 L523.21 705.14 L523.37 704.85 L523.53 704.57 L523.69 704.28 L523.85 704 L524.01 703.71 L524.17 703.43 L524.33 703.15 L524.49 702.87 L524.64 702.59 L524.8 702.31 L524.96 702.04 L525.12 701.76 L525.28 701.48 L525.44 701.21 L525.6 700.94 L525.76 700.66 L525.92 700.39 L526.08 700.12 L526.24 699.85 L526.4 699.59 L526.56 699.32 L526.72 699.06 L526.88 698.79 L527.04 698.53 L527.2 698.27 L527.36 698.01 L527.52 697.75 L527.68 697.49 L527.84 697.23 L528 696.97 L528.16 696.71 L528.32 696.45 L528.48 696.2 L528.64 695.94 L528.8 695.69 L528.95 695.43 L529.11 695.18 L529.27 694.93 L529.43 694.68 L529.59 694.43 L529.75 694.18 L529.91 693.93 L530.07 693.68 L530.23 693.44 L530.39 693.19 L530.55 692.95 L530.71 692.71 L530.87 692.46 L531.03 692.22 L531.19 691.98 L531.35 691.74 L531.51 691.51 L531.67 691.27 L531.83 691.03 L531.99 690.8 L532.15 690.57 L532.31 690.34 L532.47 690.1 L532.63 689.88 L532.79 689.65 L532.95 689.42 L533.11 689.2 L533.27 688.97 L533.42 688.75 L533.58 688.53 L533.74 688.31 L533.9 688.09 L534.06 687.87 L534.22 687.65 L534.38 687.43 L534.54 687.22 L534.7 687 L534.86 686.79 L535.02 686.57 L535.18 686.36 L535.34 686.14 L535.5 685.93 L535.66 685.72 L535.82 685.51 L535.98 685.3 L536.14 685.1 L536.3 684.89 L536.46 684.68 L536.62 684.48 L536.78 684.27 L536.94 684.07 L537.1 683.87 L537.26 683.67 L537.42 683.47 L537.58 683.27 L537.74 683.08 L537.89 682.88 L538.05 682.69 L538.21 682.5 L538.37 682.3 L538.53 682.11 L538.69 681.93 L538.85 681.74 L539.01 681.55 L539.17 681.37 L539.33 681.19 L539.49 681 L539.65 680.83 L539.81 680.65 L539.97 680.47 L540.13 680.29 L540.29 680.12 L540.45 679.94 L540.61 679.77 L540.77 679.6 L540.93 679.42 L541.09 679.25 L541.25 679.08 L541.41 678.91 L541.57 678.74 L541.73 678.57 L541.89 678.4 L542.05 678.24 L542.21 678.07 L542.36 677.91 L542.52 677.74 L542.68 677.58 L542.84 677.42 L543 677.26 L543.16 677.1 L543.32 676.94 L543.48 676.79 L543.64 676.63 L543.8 676.48 L543.96 676.32 L544.12 676.17 L544.28 676.02 L544.44 675.88 L544.6 675.73 L544.76 675.58 L544.92 675.44 L545.08 675.3 L545.24 675.16 L545.4 675.02 L545.56 674.88 L545.72 674.74 L545.88 674.61 L546.04 674.48 L546.2 674.35 L546.36 674.22 L546.52 674.09 L546.68 673.96 L546.83 673.83 L546.99 673.71 L547.15 673.58 L547.31 673.45 L547.47 673.33 L547.63 673.2 L547.79 673.08 L547.95 672.96 L548.11 672.83 L548.27 672.71 L548.43 672.59 L548.59 672.47 L548.75 672.35 L548.91 672.24 L549.07 672.12 L549.23 672.01 L549.39 671.89 L549.55 671.78 L549.71 671.67 L549.87 671.56 L550.03 671.45 L550.19 671.34 L550.35 671.24 L550.51 671.14 L550.67 671.03 L550.83 670.93 L550.99 670.83 L551.14 670.74 L551.3 670.64 L551.46 670.55 L551.62 670.46 L551.78 670.37 L551.94 670.28 L552.1 670.19 L552.26 670.11 L552.42 670.03 L552.58 669.95 L552.74 669.87 L552.9 669.79 L553.06 669.71 L553.22 669.63 L553.38 669.56 L553.54 669.48 L553.7 669.4 L553.86 669.32 L554.02 669.24 L554.18 669.17 L554.34 669.09 L554.5 669.01 L554.66 668.94 L554.82 668.86 L554.98 668.79 L555.14 668.71 L555.3 668.64 L555.46 668.57 L555.61 668.5 L555.77 668.44 L555.93 668.37 L556.09 668.3 L556.25 668.24 L556.41 668.18 L556.57 668.12 L556.73 668.06 L556.89 668.01 L557.05 667.95 L557.21 667.9 L557.37 667.85 L557.53 667.81 L557.69 667.77 L557.85 667.72 L558.01 667.69 L558.17 667.65 L558.33 667.62 L558.49 667.59 L558.65 667.56 L558.81 667.54 L558.97 667.52 L559.13 667.5 L559.29 667.48 L559.45 667.47 L559.61 667.45 L559.77 667.44 L559.93 667.42 L560.08 667.4 L560.24 667.39 L560.4 667.37 L560.56 667.36 L560.72 667.34 L560.88 667.33 L561.04 667.32 L561.2 667.3 L561.36 667.29 L561.52 667.28 L561.68 667.26 L561.84 667.25 L562 667.24 L562.16 667.23 L562.32 667.22 L562.48 667.21 L562.64 667.2 L562.8 667.19 L562.96 667.18 L563.12 667.17 L563.28 667.16 L563.44 667.16 L563.6 667.15 L563.76 667.14 L563.92 667.14 L564.08 667.13 L564.24 667.13 L564.4 667.12 L564.55 667.12 L564.71 667.12 L564.87 667.11 L565.03 667.11 L565.19 667.11 L565.35 667.11 L565.51 667.11 L565.67 667.12 L565.83 667.12 L565.99 667.13 L566.15 667.15 L566.31 667.16 L566.47 667.18 L566.63 667.2 L566.79 667.23 L566.95 667.25 L567.11 667.28 L567.27 667.31 L567.43 667.34 L567.59 667.38 L567.75 667.42 L567.91 667.45 L568.07 667.5 L568.23 667.54 L568.39 667.58 L568.55 667.63 L568.71 667.67 L568.86 667.72 L569.02 667.77 L569.18 667.82 L569.34 667.87 L569.5 667.93 L569.66 667.98 L569.82 668.03 L569.98 668.09 L570.14 668.14 L570.3 668.2 L570.46 668.26 L570.62 668.31 L570.78 668.37 L570.94 668.43 L571.1 668.48 L571.26 668.54 L571.42 668.6 L571.58 668.65 L571.74 668.71 L571.9 668.77 L572.06 668.82 L572.22 668.89 L572.38 668.95 L572.54 669.02 L572.7 669.08 L572.86 669.15 L573.02 669.23 L573.18 669.3 L573.33 669.38 L573.49 669.45 L573.65 669.53 L573.81 669.62 L573.97 669.7 L574.13 669.79 L574.29 669.87 L574.45 669.96 L574.61 670.05 L574.77 670.14 L574.93 670.24 L575.09 670.33 L575.25 670.42 L575.41 670.52 L575.57 670.62 L575.73 670.72 L575.89 670.82 L576.05 670.92 L576.21 671.02 L576.37 671.13 L576.53 671.23 L576.69 671.33 L576.85 671.44 L577.01 671.54 L577.17 671.65 L577.33 671.76 L577.49 671.87 L577.65 671.97 L577.8 672.08 L577.96 672.19 L578.12 672.3 L578.28 672.41 L578.44 672.52 L578.6 672.63 L578.76 672.75 L578.92 672.87 L579.08 672.99 L579.24 673.11 L579.4 673.23 L579.56 673.35 L579.72 673.48 L579.88 673.61 L580.04 673.73 L580.2 673.86 L580.36 674 L580.52 674.13 L580.68 674.26 L580.84 674.4 L581 674.54 L581.16 674.68 L581.32 674.82 L581.48 674.96 L581.64 675.1 L581.8 675.24 L581.96 675.39 L582.12 675.53 L582.27 675.68 L582.43 675.83 L582.59 675.98 L582.75 676.13 L582.91 676.28 L583.07 676.43 L583.23 676.58 L583.39 676.73 L583.55 676.89 L583.71 677.04 L583.87 677.2 L584.03 677.35 L584.19 677.51 L584.35 677.67 L584.51 677.83 L584.67 677.98 L584.83 678.14 L584.99 678.31 L585.15 678.47 L585.31 678.64 L585.47 678.8 L585.63 678.97 L585.79 679.14 L585.95 679.31 L586.11 679.48 L586.27 679.66 L586.43 679.83 L586.58 680.01 L586.74 680.19 L586.9 680.37 L587.06 680.55 L587.22 680.73 L587.38 680.91 L587.54 681.1 L587.7 681.28 L587.86 681.47 L588.02 681.66 L588.18 681.85 L588.34 682.04 L588.5 682.23 L588.66 682.42 L588.82 682.61 L588.98 682.81 L589.14 683 L589.3 683.2 L589.46 683.39 L589.62 683.59 L589.78 683.79 L589.94 683.99 L590.1 684.19 L590.26 684.39 L590.42 684.59 L590.58 684.79 L590.74 685 L590.9 685.2 L591.05 685.4 L591.21 685.61 L591.37 685.82 L591.53 686.03 L591.69 686.24 L591.85 686.45 L592.01 686.66 L592.17 686.87 L592.33 687.09 L592.49 687.31 L592.65 687.52 L592.81 687.74 L592.97 687.96 L593.13 688.19 L593.29 688.41 L593.45 688.63 L593.61 688.86 L593.77 689.08 L593.93 689.31 L594.09 689.54 L594.25 689.77 L594.41 690 L594.57 690.23 L594.73 690.46 L594.89 690.7 L595.05 690.93 L595.21 691.17 L595.37 691.4 L595.52 691.64 L595.68 691.88 L595.84 692.12 L596 692.36 L596.16 692.6 L596.32 692.84 L596.48 693.08 L596.64 693.33 L596.8 693.57 L596.96 693.81 L597.12 694.06 L597.28 694.3 L597.44 694.55 L597.6 694.8 L597.76 695.05 L597.92 695.3 L598.08 695.55 L598.24 695.8 L598.4 696.06 L598.56 696.31 L598.72 696.57 L598.88 696.82 L599.04 697.08 L599.2 697.34 L599.36 697.6 L599.52 697.87 L599.68 698.13 L599.84 698.39 L599.99 698.66 L600.15 698.92 L600.31 699.19 L600.47 699.46 L600.63 699.73 L600.79 700 L600.95 700.27 L601.11 700.54 L601.27 700.81 L601.43 701.09 L601.59 701.36 L601.75 701.64 L601.91 701.91 L602.07 702.19 L602.23 702.47 L602.39 702.74 L602.55 703.02 L602.71 703.3 L602.87 703.58 L603.03 703.86 L603.19 704.15 L603.35 704.43 L603.51 704.71 L603.67 705 L603.83 705.28 L603.99 705.57 L604.15 705.85 L604.31 706.14 L604.46 706.43 L604.62 706.72 L604.78 707.01 L604.94 707.3 L605.1 707.6 L605.26 707.89 L605.42 708.18 L605.58 708.48 L605.74 708.78 L605.9 709.08 L606.06 709.37 L606.22 709.67 L606.38 709.98 L606.54 710.28 L606.7 710.58 L606.86 710.88 L607.02 711.19 L607.18 711.49 L607.34 711.8 L607.5 712.11 L607.66 712.41 L607.82 712.72 L607.98 713.03 L608.14 713.34 L608.3 713.65 L608.46 713.96 L608.62 714.27 L608.77 714.58 L608.93 714.9 L609.09 715.21 L609.25 715.53 L609.41 715.84 L609.57 716.16 L609.73 716.47 L609.89 716.79 L610.05 717.11 L610.21 717.42 L610.37 717.74 L610.53 718.06 L610.69 718.38 L610.85 718.71 L611.01 719.03 L611.17 719.35 L611.33 719.68 L611.49 720 L611.65 720.33 L611.81 720.65 L611.97 720.98 L612.13 721.31 L612.29 721.64 L612.45 721.97 L612.61 722.3 L612.77 722.63 L612.93 722.97 L613.09 723.3 L613.24 723.63 L613.4 723.97 L613.56 724.3 L613.72 724.64 L613.88 724.98 L614.04 725.31 L614.2 725.65 L614.36 725.99 L614.52 726.33 L614.68 726.67 L614.84 727.01 L615 727.35 L615.16 727.69 L615.32 728.04 L615.48 728.38 L615.64 728.72 L615.8 729.07 L615.96 729.41 L616.12 729.75 L616.28 730.1 L616.44 730.44 L616.6 730.79 L616.76 731.14 L616.92 731.49 L617.08 731.83 L617.24 732.18 L617.4 732.53 L617.56 732.88 L617.71 733.24 L617.87 733.59 L618.03 733.94 L618.19 734.29 L618.35 734.65 L618.51 735 L618.67 735.36 L618.83 735.72 L618.99 736.07 L619.15 736.43 L619.31 736.79 L619.47 737.15 L619.63 737.51 L619.79 737.87 L619.95 738.23 L620.11 738.59 L620.27 738.95 L620.43 739.31 L620.59 739.68 L620.75 740.04 L620.91 740.4 L621.07 740.77 L621.23 741.13 L621.39 741.5 L621.55 741.86 L621.71 742.23 L621.87 742.59 L622.03 742.96 L622.18 743.33 L622.34 743.7 L622.5 744.06 L622.66 744.43 L622.82 744.8 L622.98 745.17 L623.14 745.54 L623.3 745.91 L623.46 746.28 L623.62 746.65 L623.78 747.02 L623.94 747.4 L624.1 747.77 L624.26 748.14 L624.42 748.52 L624.58 748.89 L624.74 749.27 L624.9 749.64 L625.06 750.02 L625.22 750.4 L625.38 750.77 L625.54 751.15 L625.7 751.53 L625.86 751.91 L626.02 752.29 L626.18 752.67 L626.34 753.05 L626.49 753.43 L626.65 753.81 L626.81 754.19 L626.97 754.57 L627.13 754.95 L627.29 755.34 L627.45 755.72 L627.61 756.1 L627.77 756.49 L627.93 756.87 L628.09 757.25 L628.25 757.64 L628.41 758.02 L628.57 758.41 L628.73 758.79 L628.89 759.18 L629.05 759.56 L629.21 759.95 L629.37 760.33 L629.53 760.72 L629.69 761.1 L629.85 761.49 L630.01 761.88 L630.17 762.27 L630.33 762.66 L630.49 763.04 L630.65 763.43 L630.81 763.82 L630.96 764.21 L631.12 764.6 L631.28 765 L631.44 765.39 L631.6 765.78 L631.76 766.17 L631.92 766.56 L632.08 766.96 L632.24 767.35 L632.4 767.74 L632.56 768.13 L632.72 768.53 L632.88 768.92 L633.04 769.32 L633.2 769.71 L633.36 770.11 L633.52 770.5 L633.68 770.89 L633.84 771.29 L634 771.69 L634.16 772.08 L634.32 772.48 L634.48 772.87 L634.64 773.27 L634.8 773.66 L634.96 774.06 L635.12 774.46 L635.28 774.85 L635.43 775.25 L635.59 775.64 L635.75 776.04 L635.91 776.44 L636.07 776.83 L636.23 777.23 L636.39 777.63 L636.55 778.03 L636.71 778.43 L636.87 778.82 L637.03 779.22 L637.19 779.62 L637.35 780.02 L637.51 780.42 L637.67 780.82 L637.83 781.22 L637.99 781.62 L638.15 782.02 L638.31 782.42 L638.47 782.82 L638.63 783.22 L638.79 783.62 L638.95 784.02 L639.11 784.42 L639.27 784.83 L639.43 785.23 L639.59 785.63 L639.75 786.03 L639.9 786.43 L640.06 786.83 L640.22 787.23 L640.38 787.63 L640.54 788.04 L640.7 788.44 L640.86 788.84 L641.02 789.24 L641.18 789.64 L641.34 790.04 L641.5 790.44 L641.66 790.84 L641.82 791.25 L641.98 791.65 L642.14 792.05 L642.3 792.45 L642.46 792.85 L642.62 793.25 L642.78 793.65 L642.94 794.05 L643.1 794.45 L643.26 794.86 L643.42 795.26 L643.58 795.66 L643.74 796.06 L643.9 796.46 L644.06 796.87 L644.22 797.27 L644.37 797.67 L644.53 798.07 L644.69 798.48 L644.85 798.88 L645.01 799.28 L645.17 799.68 L645.33 800.08 L645.49 800.49 L645.65 800.89 L645.81 801.29 L645.97 801.69 L646.13 802.09 L646.29 802.5 L646.45 802.9 L646.61 803.3 L646.77 803.7 L646.93 804.1 L647.09 804.5 L647.25 804.9 L647.41 805.3 L647.57 805.7 L647.73 806.1 L647.89 806.5 L648.05 806.9 L648.21 807.3 L648.37 807.7 L648.53 808.1 L648.68 808.5 L648.84 808.9 L649 809.29 L649.16 809.69 L649.32 810.09 L649.48 810.49 L649.64 810.89 L649.8 811.29 L649.96 811.69 L650.12 812.09 L650.28 812.48 L650.44 812.88 L650.6 813.28 L650.76 813.68 L650.92 814.08 L651.08 814.47 L651.24 814.87 L651.4 815.27 L651.56 815.67 L651.72 816.06 L651.88 816.46 L652.04 816.86 L652.2 817.25 L652.36 817.65 L652.52 818.04 L652.68 818.44 L652.84 818.84 L653 819.23 L653.15 819.62 L653.31 820.02 L653.47 820.41 L653.63 820.81 L653.79 821.2 L653.95 821.59 L654.11 821.99 L654.27 822.38 L654.43 822.77 L654.59 823.16 L654.75 823.55 L654.91 823.94 L655.07 824.33 L655.23 824.72 L655.39 825.11 L655.55 825.5 L655.71 825.89 L655.87 826.28 L656.03 826.67 L656.19 827.06 L656.35 827.45 L656.51 827.84 L656.67 828.23 L656.83 828.61 L656.99 829 L657.15 829.39 L657.31 829.78 L657.47 830.16 L657.62 830.55 L657.78 830.94 L657.94 831.32 L658.1 831.71 L658.26 832.09 L658.42 832.48 L658.58 832.86 L658.74 833.25 L658.9 833.63 L659.06 834.01 L659.22 834.4 L659.38 834.78 L659.54 835.16 L659.7 835.54 L659.86 835.92 L660.02 836.3 L660.18 836.68 L660.34 837.06 L660.5 837.44 L660.66 837.82 L660.82 838.2 L660.98 838.57 L661.14 838.95 L661.3 839.33 L661.46 839.7 L661.62 840.08 L661.78 840.45 L661.94 840.83 L662.09 841.2 L662.25 841.58 L662.41 841.95 L662.57 842.32 L662.73 842.7 L662.89 843.07 L663.05 843.44 L663.21 843.81 L663.37 844.19 L663.53 844.56 L663.69 844.93 L663.85 845.3 L664.01 845.67 L664.17 846.04 L664.33 846.41 L664.49 846.77 L664.65 847.14 L664.81 847.51 L664.97 847.87 L665.13 848.24 L665.29 848.61 L665.45 848.97 L665.61 849.34 L665.77 849.7 L665.93 850.06 L666.09 850.42 L666.25 850.79 L666.4 851.15 L666.56 851.51 L666.72 851.87 L666.88 852.23 L667.04 852.59 L667.2 852.94 L667.36 853.3 L667.52 853.66 L667.68 854.01 L667.84 854.37 L668 854.72 L668.16 855.07 L668.32 855.43 L668.48 855.78 L668.64 856.13 L668.8 856.49 L668.96 856.84 L669.12 857.19 L669.28 857.54 L669.44 857.89 L669.6 858.24 L669.76 858.59 L669.92 858.94 L670.08 859.29 L670.24 859.64 L670.4 859.98 L670.56 860.33 L670.72 860.67 L670.87 861.02 L671.03 861.36 L671.19 861.71 L671.35 862.05 L671.51 862.39 L671.67 862.73 L671.83 863.08 L671.99 863.42 L672.15 863.76 L672.31 864.09 L672.47 864.43 L672.63 864.77 L672.79 865.1 L672.95 865.44 L673.11 865.77 L673.27 866.11 L673.43 866.44 L673.59 866.77 L673.75 867.1 L673.91 867.43 L674.07 867.76 L674.23 868.09 L674.39 868.42 L674.55 868.74 L674.71 869.07 L674.87 869.39 L675.03 869.71 L675.19 870.04 L675.34 870.36 L675.5 870.68 L675.66 871 L675.82 871.32 L675.98 871.63 L676.14 871.95 L676.3 872.27 L676.46 872.58 L676.62 872.9 L676.78 873.21 L676.94 873.53 L677.1 873.84 L677.26 874.16 L677.42 874.47 L677.58 874.78 L677.74 875.09 L677.9 875.4 L678.06 875.72 L678.22 876.03 L678.38 876.34 L678.54 876.65 L678.7 876.96 L678.86 877.27 L679.02 877.58 L679.18 877.89 L679.34 878.2 L679.5 878.51 L679.66 878.82 L679.81 879.13 L679.97 879.44 L680.13 879.76 L680.29 880.07 L680.45 880.38 L680.61 880.69 L680.77 881 L680.93 881.32 L681.09 881.63 L681.25 881.95 L681.41 882.27 L681.57 882.58 L681.73 882.9 L681.89 883.22 L682.05 883.54 L682.21 883.86 L682.37 884.18 L682.53 884.5 L682.69 884.82 L682.85 885.14 L683.01 885.46 L683.17 885.78 L683.33 886.1 L683.49 886.42 L683.65 886.74 L683.81 887.07 L683.97 887.38 L684.12 887.7 L684.28 888.02 L684.44 888.34 L684.6 888.66 L684.76 888.98 L684.92 889.29 L685.08 889.61 L685.24 889.93 L685.4 890.24 L685.56 890.55 L685.72 890.87 L685.88 891.18 L686.04 891.49 L686.2 891.8 L686.36 892.1 L686.52 892.41 L686.68 892.72 L686.84 893.02 L687 893.32 L687.16 893.62 L687.32 893.92 L687.48 894.22 L687.64 894.51 L687.8 894.81 L687.96 895.1 L688.12 895.39 L688.28 895.68 L688.44 895.96 L688.59 896.24 L688.75 896.53 L688.91 896.8 L689.07 897.08 L689.23 897.36 L689.39 897.63 L689.55 897.9 L689.71 898.16 L689.87 898.43 L690.03 898.69 L690.19 898.95 L690.35 899.21 L690.51 899.47 L690.67 899.72 L690.83 899.98 L690.99 900.23 L691.15 900.49 L691.31 900.74 L691.47 900.99 L691.63 901.23 L691.79 901.48 L691.95 901.72 L692.11 901.96 L692.27 902.2 L692.43 902.44 L692.59 902.68 L692.75 902.91 L692.91 903.14 L693.06 903.37 L693.22 903.59 L693.38 903.81 L693.54 904.03 L693.7 904.25 L693.86 904.47 L694.02 904.68 L694.18 904.89 L694.34 905.09 L694.5 905.3 L694.66 905.5 L694.82 905.69 L694.98 905.89 L695.14 906.09 L695.3 906.29 L695.46 906.49 L695.62 906.68 L695.78 906.88 L695.94 907.07 L696.1 907.27 L696.26 907.46 L696.42 907.65 L696.58 907.84 L696.74 908.02 L696.9 908.2 L697.06 908.38 L697.22 908.56 L697.38 908.74 L697.53 908.91 L697.69 909.07 L697.85 909.24 L698.01 909.4 L698.17 909.55 L698.33 909.7 L698.49 909.85 L698.65 909.99 L698.81 910.13 L698.97 910.26 L699.13 910.38 L699.29 910.5 L699.45 910.62 L699.61 910.73 L699.77 910.83 L699.93 910.94 L700.09 911.04 L700.25 911.14 L700.41 911.24 L700.57 911.34 L700.73 911.43 L700.89 911.53 L701.05 911.62 L701.21 911.71 L701.37 911.79 L701.53 911.88 L701.69 911.96 L701.85 912.05 L702 912.12 L702.16 912.2 L702.32 912.28 L702.48 912.35 L702.64 912.43 L702.8 912.5 L702.96 912.57 L703.12 912.63 L703.28 912.7 L703.44 912.76 L703.6 912.82 L703.76 912.88 L703.92 912.94 L704.08 913 L704.24 913.05 L704.4 913.11 L704.56 913.16 L704.72 913.21 L704.88 913.26 L705.04 913.31 L705.2 913.35 L705.36 913.4 L705.52 913.44 L705.68 913.48 L705.84 913.53 L706 913.57 L706.16 913.61 L706.31 913.65 L706.47 913.68 L706.63 913.72 L706.79 913.76 L706.95 913.8 L707.11 913.83 L707.27 913.87 L707.43 913.91 L707.59 913.94 L707.75 913.98 L707.91 914.01 L708.07 914.05 L708.23 914.09 L708.39 914.12 L708.55 914.16 L708.71 914.2 L708.87 914.23 L709.03 914.27 L709.19 914.31 L709.35 914.35 L709.51 914.39 L709.67 914.43 L709.83 914.46 L709.99 914.5 L710.15 914.54 L710.31 914.57 L710.47 914.61 L710.63 914.65 L710.78 914.68 L710.94 914.72 L711.1 914.76 L711.26 914.79 L711.42 914.83 L711.58 914.86 L711.74 914.9 L711.9 914.94 L712.06 914.97 L712.22 915.01 L712.38 915.04 L712.54 915.08 L712.7 915.11 L712.86 915.15 L713.02 915.19 L713.18 915.22 L713.34 915.26 L713.5 915.29 L713.66 915.33 L713.82 915.37 L713.98 915.4 L714.14 915.44 L714.3 915.47 L714.46 915.51 L714.62 915.55 L714.78 915.59 L714.94 915.62 L715.1 915.66 L715.25 915.7 L715.41 915.74 L715.57 915.77 L715.73 915.81 L715.89 915.85 L716.05 915.89 L716.21 915.93 L716.37 915.96 L716.53 916 L716.69 916.04 L716.85 916.08 L717.01 916.12 L717.17 916.16 L717.33 916.2 L717.49 916.24 L717.65 916.28 L717.81 916.31 L717.97 916.35 L718.13 916.39 L718.29 916.43 L718.45 916.47 L718.61 916.51 L718.77 916.55 L718.93 916.59 L719.09 916.63 L719.25 916.67 L719.41 916.71 L719.57 916.75 L719.72 916.79 L719.88 916.83 L720.04 916.87 L720.2 916.91 L720.36 916.95 L720.52 916.99 L720.68 917.03 L720.84 917.07 L721 917.11 L721.16 917.16 L721.32 917.2 L721.48 917.24 L721.64 917.28 L721.8 917.32" fill="none" stroke="#000000" stroke-width="4.2" stroke-linecap="butt" stroke-linejoin="round" stroke-dasharray="11.5 3.5 6 3.3" clip-path="url(#cb)"/>
<path d="M83.4 922.8 L83.56 921.3 L83.72 919.69 L83.88 917.99 L84.04 916.19 L84.2 914.3 L84.36 912.33 L84.52 910.29 L84.68 908.18 L84.84 905.95 L85 903.58 L85.16 901.07 L85.32 898.47 L85.48 895.78 L85.63 893.03 L85.79 890.26 L85.95 887.47 L86.11 884.69 L86.27 881.91 L86.43 879.11 L86.59 876.28 L86.75 873.39 L86.91 870.44 L87.07 867.39 L87.23 864.24 L87.39 860.96 L87.55 857.54 L87.71 853.96 L87.87 850.14 L88.03 846.05 L88.19 841.72 L88.35 837.2 L88.51 832.53 L88.67 827.75 L88.83 822.9 L88.99 818.01 L89.15 813.14 L89.31 808.22 L89.47 803.21 L89.63 798.1 L89.79 792.91 L89.95 787.64 L90.1 782.31 L90.26 776.91 L90.42 771.46 L90.58 765.95 L90.74 760.31 L90.9 754.57 L91.06 748.76 L91.22 742.9 L91.38 737.04 L91.54 731.2 L91.7 725.41 L91.86 719.59 L92.02 713.7 L92.18 707.79 L92.34 701.94 L92.5 696.21 L92.66 690.68 L92.82 685.39 L92.98 680.14 L93.14 674.9 L93.3 669.77 L93.46 664.84 L93.62 660.23 L93.78 656.03 L93.94 652.35 L94.1 648.93 L94.26 645.61 L94.42 642.59 L94.57 640.07 L94.73 638.26 L94.89 637.16 L95.05 636.24 L95.21 635.59 L95.37 635.35 L95.53 635.71 L95.69 636.6 L95.85 637.79 L96.01 639.03 L96.17 640.38 L96.33 641.99 L96.49 643.83 L96.65 645.87 L96.81 648.06 L96.97 650.38 L97.13 652.78 L97.29 655.24 L97.45 657.71 L97.61 660.17 L97.77 662.57 L97.93 664.88 L98.09 667.07 L98.25 669.19 L98.41 671.32 L98.57 673.45 L98.73 675.59 L98.89 677.73 L99.04 679.86 L99.2 681.99 L99.36 684.12 L99.52 686.23 L99.68 688.34 L99.84 690.42 L100 692.5 L100.16 694.55 L100.32 696.58 L100.48 698.59 L100.64 700.57 L100.8 702.53 L100.96 704.45 L101.12 706.34 L101.28 708.22 L101.44 710.07 L101.6 711.9 L101.76 713.71 L101.92 715.5 L102.08 717.27 L102.24 719.02 L102.4 720.76 L102.56 722.48 L102.72 724.18 L102.88 725.87 L103.04 727.53 L103.2 729.19 L103.35 730.74 L103.51 732.16 L103.67 733.48 L103.83 734.76 L103.99 736.03 L104.15 737.35 L104.31 738.77 L104.47 740.32 L104.63 742.05 L104.79 744.02 L104.95 746.27 L105.11 749.28 L105.27 753.18 L105.43 757.61 L105.59 762.18 L105.75 767.07 L105.91 772.46 L106.07 778.09 L106.23 783.69 L106.39 789 L106.55 794.24 L106.71 799.54 L106.87 804.65 L107.03 809.33 L107.19 813.31 L107.35 817 L107.51 820.56 L107.67 823.61 L107.82 825.71 L107.98 826.62 L108.14 827.19 L108.3 827.65 L108.46 828.02 L108.62 828.32 L108.78 828.57 L108.94 828.8 L109.1 829.02 L109.26 829.24 L109.42 829.44 L109.58 829.64 L109.74 829.82 L109.9 830 L110.06 830.17 L110.22 830.32 L110.38 830.48 L110.54 830.62 L110.7 830.76 L110.86 830.89 L111.02 831.02 L111.18 831.14 L111.34 831.26 L111.5 831.38 L111.66 831.49 L111.82 831.61 L111.98 831.72 L112.14 831.83 L112.29 831.94 L112.45 832.05 L112.61 832.16 L112.77 832.27 L112.93 832.38 L113.09 832.48 L113.25 832.58 L113.41 832.69 L113.57 832.79 L113.73 832.89 L113.89 832.98 L114.05 833.08 L114.21 833.17 L114.37 833.27 L114.53 833.36 L114.69 833.45 L114.85 833.54 L115.01 833.63 L115.17 833.72 L115.33 833.81 L115.49 833.89 L115.65 833.98 L115.81 834.06 L115.97 834.15 L116.13 834.23 L116.29 834.31 L116.45 834.39 L116.61 834.48 L116.76 834.56 L116.92 834.63 L117.08 834.71 L117.24 834.79 L117.4 834.87 L117.56 834.95 L117.72 835.02 L117.88 835.1 L118.04 835.18 L118.2 835.25 L118.36 835.33 L118.52 835.4 L118.68 835.48 L118.84 835.55 L119 835.63 L119.16 835.7 L119.32 835.78 L119.48 835.85 L119.64 835.93 L119.8 836 L119.96 836.08 L120.12 836.15 L120.28 836.23 L120.44 836.3 L120.6 836.38 L120.76 836.45 L120.92 836.53 L121.08 836.61 L121.23 836.68 L121.39 836.76 L121.55 836.84 L121.71 836.92 L121.87 836.99 L122.03 837.07 L122.19 837.15 L122.35 837.23 L122.51 837.31 L122.67 837.39 L122.83 837.47 L122.99 837.55 L123.15 837.62 L123.31 837.7 L123.47 837.78 L123.63 837.86 L123.79 837.93 L123.95 838.01 L124.11 838.09 L124.27 838.16 L124.43 838.24 L124.59 838.31 L124.75 838.39 L124.91 838.46 L125.07 838.54 L125.23 838.62 L125.39 838.69 L125.54 838.76 L125.7 838.84 L125.86 838.91 L126.02 838.99 L126.18 839.06 L126.34 839.14 L126.5 839.21 L126.66 839.28 L126.82 839.36 L126.98 839.43 L127.14 839.51 L127.3 839.58 L127.46 839.65 L127.62 839.73 L127.78 839.8 L127.94 839.87 L128.1 839.95 L128.26 840.02 L128.42 840.09 L128.58 840.17 L128.74 840.24 L128.9 840.31 L129.06 840.38 L129.22 840.46 L129.38 840.53 L129.54 840.6 L129.7 840.68 L129.86 840.75 L130.01 840.82 L130.17 840.9 L130.33 840.97 L130.49 841.04 L130.65 841.11 L130.81 841.19 L130.97 841.26 L131.13 841.33 L131.29 841.41 L131.45 841.48 L131.61 841.55 L131.77 841.63 L131.93 841.7 L132.09 841.78 L132.25 841.85 L132.41 841.92 L132.57 842 L132.73 842.07 L132.89 842.15 L133.05 842.22 L133.21 842.29 L133.37 842.37 L133.53 842.44 L133.69 842.52 L133.85 842.59 L134.01 842.67 L134.17 842.75 L134.33 842.82 L134.48 842.9 L134.64 842.97 L134.8 843.05 L134.96 843.13 L135.12 843.2 L135.28 843.28 L135.44 843.36 L135.6 843.43 L135.76 843.51 L135.92 843.59 L136.08 843.67 L136.24 843.75 L136.4 843.82 L136.56 843.9 L136.72 843.98 L136.88 844.06 L137.04 844.14 L137.2 844.21 L137.36 844.29 L137.52 844.37 L137.68 844.45 L137.84 844.53 L138 844.61 L138.16 844.69 L138.32 844.76 L138.48 844.84 L138.64 844.92 L138.8 845 L138.95 845.08 L139.11 845.16 L139.27 845.24 L139.43 845.32 L139.59 845.39 L139.75 845.47 L139.91 845.55 L140.07 845.63 L140.23 845.71 L140.39 845.79 L140.55 845.87 L140.71 845.95 L140.87 846.03 L141.03 846.11 L141.19 846.19 L141.35 846.27 L141.51 846.35 L141.67 846.43 L141.83 846.51 L141.99 846.59 L142.15 846.67 L142.31 846.75 L142.47 846.83 L142.63 846.91 L142.79 846.99 L142.95 847.08 L143.11 847.16 L143.26 847.24 L143.42 847.32 L143.58 847.4 L143.74 847.48 L143.9 847.56 L144.06 847.65 L144.22 847.73 L144.38 847.81 L144.54 847.89 L144.7 847.98 L144.86 848.06 L145.02 848.14 L145.18 848.22 L145.34 848.31 L145.5 848.39 L145.66 848.47 L145.82 848.56 L145.98 848.64 L146.14 848.73 L146.3 848.81 L146.46 848.89 L146.62 848.98 L146.78 849.06 L146.94 849.15 L147.1 849.23 L147.26 849.32 L147.42 849.4 L147.58 849.49 L147.73 849.58 L147.89 849.66 L148.05 849.75 L148.21 849.83 L148.37 849.92 L148.53 850.01 L148.69 850.09 L148.85 850.18 L149.01 850.27 L149.17 850.36 L149.33 850.44 L149.49 850.53 L149.65 850.62 L149.81 850.71 L149.97 850.8 L150.13 850.89 L150.29 850.97 L150.45 851.06 L150.61 851.15 L150.77 851.24 L150.93 851.33 L151.09 851.42 L151.25 851.51 L151.41 851.6 L151.57 851.69 L151.73 851.78 L151.89 851.87 L152.05 851.96 L152.2 852.05 L152.36 852.15 L152.52 852.24 L152.68 852.33 L152.84 852.42 L153 852.51 L153.16 852.6 L153.32 852.7 L153.48 852.79 L153.64 852.88 L153.8 852.97 L153.96 853.07 L154.12 853.16 L154.28 853.25 L154.44 853.35 L154.6 853.44 L154.76 853.53 L154.92 853.63 L155.08 853.72 L155.24 853.82 L155.4 853.91 L155.56 854 L155.72 854.1 L155.88 854.19 L156.04 854.29 L156.2 854.38 L156.36 854.48 L156.52 854.57 L156.67 854.67 L156.83 854.77 L156.99 854.86 L157.15 854.96 L157.31 855.05 L157.47 855.15 L157.63 855.25 L157.79 855.34 L157.95 855.44 L158.11 855.54 L158.27 855.64 L158.43 855.73 L158.59 855.83 L158.75 855.93 L158.91 856.03 L159.07 856.12 L159.23 856.22 L159.39 856.32 L159.55 856.42 L159.71 856.52 L159.87 856.62 L160.03 856.71 L160.19 856.81 L160.35 856.91 L160.51 857.01 L160.67 857.11 L160.83 857.21 L160.98 857.31 L161.14 857.41 L161.3 857.51 L161.46 857.61 L161.62 857.71 L161.78 857.81 L161.94 857.91 L162.1 858.01 L162.26 858.11 L162.42 858.22 L162.58 858.32 L162.74 858.42 L162.9 858.52 L163.06 858.62 L163.22 858.72 L163.38 858.83 L163.54 858.93 L163.7 859.03 L163.86 859.13 L164.02 859.23 L164.18 859.34 L164.34 859.44 L164.5 859.54 L164.66 859.65 L164.82 859.75 L164.98 859.85 L165.14 859.96 L165.3 860.06 L165.45 860.16 L165.61 860.27 L165.77 860.37 L165.93 860.48 L166.09 860.58 L166.25 860.69 L166.41 860.79 L166.57 860.9 L166.73 861 L166.89 861.11 L167.05 861.21 L167.21 861.32 L167.37 861.42 L167.53 861.53 L167.69 861.64 L167.85 861.74 L168.01 861.85 L168.17 861.96 L168.33 862.06 L168.49 862.17 L168.65 862.28 L168.81 862.39 L168.97 862.49 L169.13 862.6 L169.29 862.71 L169.45 862.82 L169.61 862.93 L169.77 863.03 L169.92 863.14 L170.08 863.25 L170.24 863.36 L170.4 863.47 L170.56 863.58 L170.72 863.69 L170.88 863.8 L171.04 863.91 L171.2 864.02 L171.36 864.13 L171.52 864.24 L171.68 864.36 L171.84 864.47 L172 864.58 L172.16 864.69 L172.32 864.8 L172.48 864.92 L172.64 865.03 L172.8 865.14 L172.96 865.25 L173.12 865.37 L173.28 865.48 L173.44 865.59 L173.6 865.71 L173.76 865.82 L173.92 865.94 L174.08 866.05 L174.24 866.17 L174.39 866.28 L174.55 866.4 L174.71 866.51 L174.87 866.63 L175.03 866.74 L175.19 866.86 L175.35 866.98 L175.51 867.09 L175.67 867.21 L175.83 867.33 L175.99 867.45 L176.15 867.56 L176.31 867.68 L176.47 867.8 L176.63 867.92 L176.79 868.04 L176.95 868.16 L177.11 868.28 L177.27 868.4 L177.43 868.52 L177.59 868.65 L177.75 868.77 L177.91 868.89 L178.07 869.01 L178.23 869.14 L178.39 869.26 L178.55 869.39 L178.71 869.51 L178.86 869.63 L179.02 869.76 L179.18 869.89 L179.34 870.01 L179.5 870.14 L179.66 870.26 L179.82 870.39 L179.98 870.52 L180.14 870.65 L180.3 870.77 L180.46 870.9 L180.62 871.03 L180.78 871.16 L180.94 871.29 L181.1 871.41 L181.26 871.54 L181.42 871.67 L181.58 871.8 L181.74 871.93 L181.9 872.06 L182.06 872.19 L182.22 872.32 L182.38 872.45 L182.54 872.58 L182.7 872.71 L182.86 872.84 L183.02 872.98 L183.17 873.11 L183.33 873.24 L183.49 873.37 L183.65 873.5 L183.81 873.63 L183.97 873.76 L184.13 873.89 L184.29 874.03 L184.45 874.16 L184.61 874.29 L184.77 874.42 L184.93 874.55 L185.09 874.69 L185.25 874.82 L185.41 874.95 L185.57 875.08 L185.73 875.21 L185.89 875.35 L186.05 875.48 L186.21 875.61 L186.37 875.74 L186.53 875.87 L186.69 876 L186.85 876.14 L187.01 876.27 L187.17 876.4 L187.33 876.53 L187.49 876.66 L187.64 876.79 L187.8 876.92 L187.96 877.05 L188.12 877.19 L188.28 877.32 L188.44 877.45 L188.6 877.58 L188.76 877.71 L188.92 877.84 L189.08 877.97 L189.24 878.1 L189.4 878.23 L189.56 878.36 L189.72 878.49 L189.88 878.62 L190.04 878.75 L190.2 878.88 L190.36 879.01 L190.52 879.14 L190.68 879.28 L190.84 879.41 L191 879.54 L191.16 879.67 L191.32 879.8 L191.48 879.93 L191.64 880.06 L191.8 880.2 L191.96 880.33 L192.11 880.46 L192.27 880.59 L192.43 880.72 L192.59 880.86 L192.75 880.99 L192.91 881.12 L193.07 881.25 L193.23 881.38 L193.39 881.52 L193.55 881.65 L193.71 881.78 L193.87 881.92 L194.03 882.05 L194.19 882.18 L194.35 882.31 L194.51 882.45 L194.67 882.58 L194.83 882.71 L194.99 882.85 L195.15 882.98 L195.31 883.12 L195.47 883.25 L195.63 883.38 L195.79 883.52 L195.95 883.65 L196.11 883.79 L196.27 883.92 L196.43 884.05 L196.58 884.19 L196.74 884.32 L196.9 884.46 L197.06 884.59 L197.22 884.73 L197.38 884.86 L197.54 885 L197.7 885.13 L197.86 885.27 L198.02 885.4 L198.18 885.54 L198.34 885.67 L198.5 885.81 L198.66 885.95 L198.82 886.08 L198.98 886.22 L199.14 886.35 L199.3 886.49 L199.46 886.63 L199.62 886.76 L199.78 886.9 L199.94 887.03 L200.1 887.17 L200.26 887.31 L200.42 887.44 L200.58 887.58 L200.74 887.72 L200.89 887.85 L201.05 887.99 L201.21 888.13 L201.37 888.26 L201.53 888.4 L201.69 888.54 L201.85 888.68 L202.01 888.81 L202.17 888.95 L202.33 889.09 L202.49 889.23 L202.65 889.36 L202.81 889.5 L202.97 889.64 L203.13 889.78 L203.29 889.91 L203.45 890.05 L203.61 890.19 L203.77 890.33 L203.93 890.47 L204.09 890.61 L204.25 890.74 L204.41 890.88 L204.57 891.02 L204.73 891.16 L204.89 891.3 L205.05 891.44 L205.21 891.58 L205.36 891.71 L205.52 891.85 L205.68 891.99 L205.84 892.13 L206 892.27 L206.16 892.41 L206.32 892.55 L206.48 892.69 L206.64 892.83 L206.8 892.97 L206.96 893.11 L207.12 893.25 L207.28 893.39 L207.44 893.53 L207.6 893.67 L207.76 893.81 L207.92 893.95 L208.08 894.09 L208.24 894.23 L208.4 894.37 L208.56 894.51 L208.72 894.65 L208.88 894.79 L209.04 894.93 L209.2 895.07 L209.36 895.21 L209.52 895.35 L209.68 895.49 L209.83 895.63 L209.99 895.77 L210.15 895.91 L210.31 896.05 L210.47 896.19 L210.63 896.33 L210.79 896.48 L210.95 896.62 L211.11 896.76 L211.27 896.9 L211.43 897.04 L211.59 897.18 L211.75 897.32 L211.91 897.46 L212.07 897.61 L212.23 897.75 L212.39 897.89 L212.55 898.03 L212.71 898.17 L212.87 898.31 L213.03 898.46 L213.19 898.6 L213.35 898.74 L213.51 898.88 L213.67 899.02 L213.83 899.17 L213.99 899.31 L214.15 899.45 L214.3 899.59 L214.46 899.73 L214.62 899.88 L214.78 900.02 L214.94 900.16 L215.1 900.3 L215.26 900.45 L215.42 900.59 L215.58 900.73 L215.74 900.87 L215.9 901.02 L216.06 901.16 L216.22 901.3 L216.38 901.45 L216.54 901.59 L216.7 901.73 L216.86 901.87 L217.02 902.02 L217.18 902.16 L217.34 902.3 L217.5 902.45 L217.66 902.59 L217.82 902.73 L217.98 902.88 L218.14 903.02 L218.3 903.16 L218.46 903.31 L218.62 903.45 L218.77 903.59 L218.93 903.74 L219.09 903.88 L219.25 904.02 L219.41 904.17 L219.57 904.31 L219.73 904.46 L219.89 904.6 L220.05 904.74 L220.21 904.89 L220.37 905.03 L220.53 905.17 L220.69 905.32 L220.85 905.46 L221.01 905.61 L221.17 905.75 L221.33 905.89 L221.49 906.04 L221.65 906.18 L221.81 906.33 L221.97 906.47 L222.13 906.62 L222.29 906.76 L222.45 906.9 L222.61 907.05 L222.77 907.19 L222.93 907.34 L223.08 907.48 L223.24 907.63 L223.4 907.77 L223.56 907.92 L223.72 908.06 L223.88 908.21 L224.04 908.35 L224.2 908.49 L224.36 908.64 L224.52 908.78 L224.68 908.93 L224.84 909.07 L225 909.22 L225.16 909.36 L225.32 909.51 L225.48 909.65 L225.64 909.8 L225.8 909.94 L225.96 910.09 L226.12 910.23 L226.28 910.38 L226.44 910.52 L226.6 910.67 L226.76 910.81 L226.92 910.96 L227.08 911.1 L227.24 911.25 L227.4 911.39 L227.55 911.54 L227.71 911.68 L227.87 911.83 L228.03 911.97 L228.19 912.12 L228.35 912.26 L228.51 912.41 L228.67 912.56 L228.83 912.7 L228.99 912.85 L229.15 912.99 L229.31 913.14 L229.47 913.28 L229.63 913.43 L229.79 913.57 L229.95 913.72 L230.11 913.86 L230.27 914.01 L230.43 914.16 L230.59 914.3 L230.75 914.45 L230.91 914.59 L231.07 914.74 L231.23 914.88 L231.39 915.03 L231.55 915.18 L231.71 915.32 L231.87 915.47 L232.02 915.61 L232.18 915.76 L232.34 915.9 L232.5 916.05 L232.66 916.2 L232.82 916.34 L232.98 916.49 L233.14 916.63 L233.3 916.78 L233.46 916.92 L233.62 917.07 L233.78 917.21 L233.94 917.36 L234.1 917.51 L234.26 917.65 L234.42 917.8 L234.58 917.94 L234.74 918.09 L234.9 918.24 L235.06 918.38 L235.22 918.53 L235.38 918.67 L235.54 918.82 L235.7 918.96 L235.86 919.11 L236.02 919.26 L236.18 919.4 L236.34 919.55 L236.49 919.69 L236.65 919.84 L236.81 919.99 L236.97 920.13 L237.13 920.28 L237.29 920.42 L237.45 920.57 L237.61 920.72 L237.77 920.86 L237.93 921.01 L238.09 921.15 L238.25 921.3 L238.41 921.45 L238.57 921.59 L238.73 921.74 L238.89 921.88 L239.05 922.03 L239.21 922.17 L239.37 922.32 L239.53 922.47 L239.69 922.61 L239.85 922.76 L240.01 922.9 L240.17 923.05 L240.33 923.2 L240.49 923.34 L240.65 923.49 L240.8 923.63 L240.96 923.78 L241.12 923.92 L241.28 924.07 L241.44 924.22 L241.6 924.36 L241.76 924.51 L241.92 924.65 L242.08 924.8 L242.24 924.94 L242.4 925.09 L242.56 925.24 L242.72 925.38 L242.88 925.53 L243.04 925.67 L243.2 925.82 L243.36 925.96 L243.52 926.11 L243.68 926.26 L243.84 926.4 L244 926.55 L244.16 926.69 L244.32 926.84 L244.48 926.98 L244.64 927.13 L244.8 927.28 L244.96 927.42 L245.12 927.57 L245.27 927.71 L245.43 927.86 L245.59 928 L245.75 928.15 L245.91 928.29 L246.07 928.44 L246.23 928.58 L246.39 928.73 L246.55 928.87 L246.71 929.02 L246.87 929.17 L247.03 929.31 L247.19 929.46 L247.35 929.6 L247.51 929.75 L247.67 929.89 L247.83 930.04 L247.99 930.18 L248.15 930.33 L248.31 930.47 L248.47 930.62 L248.63 930.76 L248.79 930.91 L248.95 931.05 L249.11 931.2 L249.27 931.34 L249.43 931.49 L249.59 931.63 L249.74 931.78 L249.9 931.92 L250.06 932.07 L250.22 932.21 L250.38 932.36 L250.54 932.5 L250.7 932.65 L250.86 932.79 L251.02 932.94 L251.18 933.08 L251.34 933.22 L251.5 933.37 L251.66 933.51 L251.82 933.66 L251.98 933.8 L252.14 933.95 L252.3 934.09 L252.46 934.24 L252.62 934.38 L252.78 934.52 L252.94 934.67 L253.1 934.81 L253.26 934.96 L253.42 935.1 L253.58 935.25 L253.74 935.39 L253.9 935.53 L254.06 935.68 L254.21 935.82 L254.37 935.97 L254.53 936.11 L254.69 936.25 L254.85 936.4 L255.01 936.54 L255.17 936.68 L255.33 936.83 L255.49 936.97 L255.65 937.12 L255.81 937.26 L255.97 937.4 L256.13 937.55 L256.29 937.69 L256.45 937.83 L256.61 937.98 L256.77 938.12 L256.93 938.26 L257.09 938.41 L257.25 938.55 L257.41 938.69 L257.57 938.84 L257.73 938.98 L257.89 939.12 L258.05 939.27 L258.21 939.41 L258.37 939.55 L258.52 939.7 L258.68 939.84 L258.84 939.98 L259 940.12 L259.16 940.27 L259.32 940.41 L259.48 940.55 L259.64 940.69 L259.8 940.84 L259.96 940.98 L260.12 941.12 L260.28 941.26 L260.44 941.41 L260.6 941.55 L260.76 941.69 L260.92 941.83 L261.08 941.98 L261.24 942.12 L261.4 942.26 L261.56 942.4 L261.72 942.54 L261.88 942.69 L262.04 942.83 L262.2 942.97 L262.36 943.11 L262.52 943.25 L262.68 943.39 L262.84 943.54 L262.99 943.68 L263.15 943.82 L263.31 943.96 L263.47 944.1 L263.63 944.24 L263.79 944.38 L263.95 944.53 L264.11 944.67 L264.27 944.81 L264.43 944.95 L264.59 945.09 L264.75 945.23 L264.91 945.37 L265.07 945.51 L265.23 945.65 L265.39 945.79 L265.55 945.93 L265.71 946.07 L265.87 946.21 L266.03 946.36 L266.19 946.5 L266.35 946.64 L266.51 946.78 L266.67 946.92 L266.83 947.06 L266.99 947.2 L267.15 947.34 L267.31 947.48 L267.46 947.62 L267.62 947.76 L267.78 947.9 L267.94 948.04 L268.1 948.17 L268.26 948.31 L268.42 948.45 L268.58 948.59 L268.74 948.73 L268.9 948.87 L269.06 949.01 L269.22 949.15 L269.38 949.29 L269.54 949.43 L269.7 949.57 L269.86 949.71 L270.02 949.85 L270.18 949.98 L270.34 950.12 L270.5 950.26 L270.66 950.4 L270.82 950.54 L270.98 950.68 L271.14 950.81 L271.3 950.95 L271.46 951.09 L271.62 951.23 L271.78 951.37 L271.93 951.5 L272.09 951.64 L272.25 951.78 L272.41 951.92 L272.57 952.06 L272.73 952.19 L272.89 952.33 L273.05 952.47 L273.21 952.6 L273.37 952.74 L273.53 952.88 L273.69 953.02 L273.85 953.15 L274.01 953.29 L274.17 953.43 L274.33 953.56 L274.49 953.7 L274.65 953.84 L274.81 953.97 L274.97 954.11 L275.13 954.25 L275.29 954.38 L275.45 954.52 L275.61 954.66 L275.77 954.79 L275.93 954.93 L276.09 955.06 L276.25 955.2 L276.4 955.33 L276.56 955.47 L276.72 955.61 L276.88 955.74 L277.04 955.88 L277.2 956.01 L277.36 956.15 L277.52 956.28 L277.68 956.42 L277.84 956.55 L278 956.69 L278.16 956.82 L278.32 956.96 L278.48 957.09 L278.64 957.22 L278.8 957.36 L278.96 957.49 L279.12 957.63 L279.28 957.76 L279.44 957.9 L279.6 958.03 L279.76 958.16 L279.92 958.3 L280.08 958.43 L280.24 958.56 L280.4 958.7 L280.56 958.83 L280.71 958.97 L280.87 959.1 L281.03 959.23 L281.19 959.36 L281.35 959.5 L281.51 959.63 L281.67 959.76 L281.83 959.9 L281.99 960.03 L282.15 960.16 L282.31 960.29 L282.47 960.43 L282.63 960.56 L282.79 960.69 L282.95 960.82 L283.11 960.95 L283.27 961.09 L283.43 961.22 L283.59 961.35 L283.75 961.48 L283.91 961.61 L284.07 961.74 L284.23 961.87 L284.39 962.01 L284.55 962.14 L284.71 962.27 L284.87 962.4 L285.03 962.53 L285.18 962.66 L285.34 962.79 L285.5 962.92 L285.66 963.05 L285.82 963.18 L285.98 963.31 L286.14 963.44 L286.3 963.57 L286.46 963.7 L286.62 963.83 L286.78 963.96 L286.94 964.09 L287.1 964.22 L287.26 964.35 L287.42 964.48 L287.58 964.6 L287.74 964.73 L287.9 964.86 L288.06 964.99 L288.22 965.12 L288.38 965.25 L288.54 965.38 L288.7 965.51 L288.86 965.63 L289.02 965.76 L289.18 965.89 L289.34 966.02 L289.5 966.14 L289.65 966.27 L289.81 966.4 L289.97 966.53 L290.13 966.65 L290.29 966.78 L290.45 966.91 L290.61 967.03 L290.77 967.16 L290.93 967.29 L291.09 967.41 L291.25 967.54 L291.41 967.67 L291.57 967.79 L291.73 967.92 L291.89 968.04 L292.05 968.17 L292.21 968.3 L292.37 968.42 L292.53 968.55 L292.69 968.67 L292.85 968.8 L293.01 968.92 L293.17 969.05 L293.33 969.17 L293.49 969.3 L293.65 969.42 L293.81 969.55 L293.97 969.67 L294.12 969.8 L294.28 969.92 L294.44 970.04 L294.6 970.17 L294.76 970.29 L294.92 970.42 L295.08 970.54 L295.24 970.66 L295.4 970.79 L295.56 970.91 L295.72 971.03 L295.88 971.16 L296.04 971.28 L296.2 971.4 L296.36 971.52 L296.52 971.65 L296.68 971.77 L296.84 971.89 L297 972.01 L297.16 972.13 L297.32 972.26 L297.48 972.38 L297.64 972.5 L297.8 972.62 L297.96 972.74 L298.12 972.86 L298.28 972.98 L298.43 973.1 L298.59 973.22 L298.75 973.34 L298.91 973.47 L299.07 973.59 L299.23 973.71 L299.39 973.83 L299.55 973.95 L299.71 974.07 L299.87 974.19 L300.03 974.31 L300.19 974.42 L300.35 974.54 L300.51 974.66 L300.67 974.78 L300.83 974.9 L300.99 975.02 L301.15 975.14 L301.31 975.26 L301.47 975.38 L301.63 975.49 L301.79 975.61 L301.95 975.73 L302.11 975.85 L302.27 975.97 L302.43 976.08 L302.59 976.2 L302.75 976.32 L302.9 976.43 L303.06 976.55 L303.22 976.67 L303.38 976.78 L303.54 976.9 L303.7 977.02 L303.86 977.13 L304.02 977.25 L304.18 977.36 L304.34 977.48 L304.5 977.6 L304.66 977.71 L304.82 977.83 L304.98 977.94 L305.14 978.06 L305.3 978.17 L305.46 978.29 L305.62 978.4 L305.78 978.52 L305.94 978.63 L306.1 978.74 L306.26 978.86 L306.42 978.97 L306.58 979.09 L306.74 979.2 L306.9 979.31 L307.06 979.43 L307.22 979.54 L307.37 979.65 L307.53 979.77 L307.69 979.88 L307.85 979.99 L308.01 980.1 L308.17 980.22 L308.33 980.33 L308.49 980.44 L308.65 980.55 L308.81 980.66 L308.97 980.77 L309.13 980.89 L309.29 981 L309.45 981.11 L309.61 981.22 L309.77 981.33 L309.93 981.44 L310.09 981.55 L310.25 981.66 L310.41 981.77 L310.57 981.88 L310.73 981.99 L310.89 982.1 L311.05 982.21 L311.21 982.32 L311.37 982.43 L311.53 982.53 L311.69 982.64 L311.84 982.75 L312 982.86 L312.16 982.97 L312.32 983.08 L312.48 983.18 L312.64 983.29 L312.8 983.4 L312.96 983.51 L313.12 983.62 L313.28 983.72 L313.44 983.83 L313.6 983.94 L313.76 984.04 L313.92 984.15 L314.08 984.26 L314.24 984.36 L314.4 984.47 L314.56 984.57 L314.72 984.68 L314.88 984.79 L315.04 984.89 L315.2 985 L315.36 985.1 L315.52 985.21 L315.68 985.31 L315.84 985.41 L316 985.52 L316.15 985.62 L316.31 985.73 L316.47 985.83 L316.63 985.93 L316.79 986.04 L316.95 986.14 L317.11 986.24 L317.27 986.35 L317.43 986.45 L317.59 986.55 L317.75 986.65 L317.91 986.76 L318.07 986.86 L318.23 986.96 L318.39 987.06 L318.55 987.16 L318.71 987.27 L318.87 987.37 L319.03 987.47 L319.19 987.57 L319.35 987.67 L319.51 987.77 L319.67 987.87 L319.83 987.97 L319.99 988.07 L320.15 988.17 L320.31 988.27 L320.47 988.37 L320.62 988.47 L320.78 988.57 L320.94 988.67 L321.1 988.77 L321.26 988.86 L321.42 988.96 L321.58 989.06 L321.74 989.16 L321.9 989.26 L322.06 989.35 L322.22 989.45 L322.38 989.55 L322.54 989.65 L322.7 989.74 L322.86 989.84 L323.02 989.94 L323.18 990.03 L323.34 990.13 L323.5 990.22 L323.66 990.32 L323.82 990.42 L323.98 990.51 L324.14 990.61 L324.3 990.7 L324.46 990.8 L324.62 990.89 L324.78 990.99 L324.94 991.08 L325.09 991.17 L325.25 991.27 L325.41 991.36 L325.57 991.46 L325.73 991.55 L325.89 991.64 L326.05 991.74 L326.21 991.83 L326.37 991.92 L326.53 992.01 L326.69 992.11 L326.85 992.2 L327.01 992.29 L327.17 992.38 L327.33 992.47 L327.49 992.56 L327.65 992.66 L327.81 992.75 L327.97 992.84 L328.13 992.93 L328.29 993.02 L328.45 993.11 L328.61 993.2 L328.77 993.29 L328.93 993.38 L329.09 993.46 L329.25 993.55 L329.41 993.64 L329.56 993.73 L329.72 993.82 L329.88 993.91 L330.04 994 L330.2 994.08 L330.36 994.17 L330.52 994.26 L330.68 994.35 L330.84 994.43 L331 994.52 L331.16 994.61 L331.32 994.69 L331.48 994.78 L331.64 994.87 L331.8 994.95 L331.96 995.04 L332.12 995.12 L332.28 995.21 L332.44 995.29 L332.6 995.38 L332.76 995.46 L332.92 995.55 L333.08 995.63 L333.24 995.72 L333.4 995.8 L333.56 995.88 L333.72 995.97 L333.88 996.05 L334.03 996.13 L334.19 996.22 L334.35 996.3 L334.51 996.38 L334.67 996.46 L334.83 996.55 L334.99 996.63 L335.15 996.71 L335.31 996.79 L335.47 996.87 L335.63 996.95 L335.79 997.03 L335.95 997.11 L336.11 997.19 L336.27 997.27 L336.43 997.35 L336.59 997.43 L336.75 997.51 L336.91 997.59 L337.07 997.67 L337.23 997.75 L337.39 997.83 L337.55 997.9 L337.71 997.98 L337.87 998.06 L338.03 998.14 L338.19 998.22 L338.34 998.29 L338.5 998.37 L338.66 998.45 L338.82 998.52 L338.98 998.6 L339.14 998.68 L339.3 998.75 L339.46 998.83 L339.62 998.91 L339.78 998.98 L339.94 999.06 L340.1 999.13 L340.26 999.21 L340.42 999.28 L340.58 999.35 L340.74 999.43 L340.9 999.5 L341.06 999.58 L341.22 999.65 L341.38 999.72 L341.54 999.79 L341.7 999.87 L341.86 999.94 L342.02 1000.01 L342.18 1000.08 L342.34 1000.15 L342.5 1000.22 L342.66 1000.3 L342.81 1000.37 L342.97 1000.44 L343.13 1000.51 L343.29 1000.58 L343.45 1000.65 L343.61 1000.72 L343.77 1000.79 L343.93 1000.86 L344.09 1000.93 L344.25 1001 L344.41 1001.06 L344.57 1001.13 L344.73 1001.2 L344.89 1001.27 L345.05 1001.34 L345.21 1001.41 L345.37 1001.47 L345.53 1001.54 L345.69 1001.61 L345.85 1001.67 L346.01 1001.74 L346.17 1001.81 L346.33 1001.87 L346.49 1001.94 L346.65 1002.01 L346.81 1002.07 L346.97 1002.14 L347.13 1002.2 L347.28 1002.26 L347.44 1002.33 L347.6 1002.39 L347.76 1002.46 L347.92 1002.52 L348.08 1002.58 L348.24 1002.65 L348.4 1002.71 L348.56 1002.77 L348.72 1002.83 L348.88 1002.89 L349.04 1002.96 L349.2 1003.02 L349.36 1003.08 L349.52 1003.14 L349.68 1003.2 L349.84 1003.26 L350 1003.32 L350.16 1003.38 L350.32 1003.44 L350.48 1003.5 L350.64 1003.56 L350.8 1003.62 L350.96 1003.68 L351.12 1003.74 L351.28 1003.8 L351.44 1003.86 L351.6 1003.92 L351.75 1003.97 L351.91 1004.03 L352.07 1004.09 L352.23 1004.15 L352.39 1004.2 L352.55 1004.26 L352.71 1004.32 L352.87 1004.37 L353.03 1004.43 L353.19 1004.48 L353.35 1004.54 L353.51 1004.59 L353.67 1004.65 L353.83 1004.7 L353.99 1004.76 L354.15 1004.81 L354.31 1004.86 L354.47 1004.92 L354.63 1004.97 L354.79 1005.02 L354.95 1005.07 L355.11 1005.13 L355.27 1005.18 L355.43 1005.23 L355.59 1005.28 L355.75 1005.33 L355.91 1005.38 L356.06 1005.44 L356.22 1005.49 L356.38 1005.54 L356.54 1005.59 L356.7 1005.64 L356.86 1005.69 L357.02 1005.74 L357.18 1005.79 L357.34 1005.84 L357.5 1005.89 L357.66 1005.93 L357.82 1005.98 L357.98 1006.03 L358.14 1006.08 L358.3 1006.13 L358.46 1006.17 L358.62 1006.22 L358.78 1006.27 L358.94 1006.31 L359.1 1006.36 L359.26 1006.41 L359.42 1006.45 L359.58 1006.5 L359.74 1006.54 L359.9 1006.59 L360.06 1006.63 L360.22 1006.68 L360.38 1006.72 L360.53 1006.76 L360.69 1006.81 L360.85 1006.85 L361.01 1006.89 L361.17 1006.93 L361.33 1006.97 L361.49 1007.02 L361.65 1007.06 L361.81 1007.1 L361.97 1007.15 L362.13 1007.19 L362.29 1007.24 L362.45 1007.28 L362.61 1007.33 L362.77 1007.37 L362.93 1007.42 L363.09 1007.46 L363.25 1007.51 L363.41 1007.55 L363.57 1007.59 L363.73 1007.64 L363.89 1007.68 L364.05 1007.72 L364.21 1007.76 L364.37 1007.81 L364.53 1007.85 L364.69 1007.89 L364.85 1007.93 L365 1007.96 L365.16 1008 L365.32 1008.04 L365.48 1008.07 L365.64 1008.11 L365.8 1008.14 L365.96 1008.17 L366.12 1008.2 L366.28 1008.23 L366.44 1008.26 L366.6 1008.29 L366.76 1008.31 L366.92 1008.33 L367.08 1008.35 L367.24 1008.37 L367.4 1008.39 L367.56 1008.41 L367.72 1008.42 L367.88 1008.44 L368.04 1008.46 L368.2 1008.47 L368.36 1008.49 L368.52 1008.5 L368.68 1008.52 L368.84 1008.53 L369 1008.55 L369.16 1008.56 L369.32 1008.58 L369.47 1008.59 L369.63 1008.61 L369.79 1008.62 L369.95 1008.63 L370.11 1008.65 L370.27 1008.66 L370.43 1008.68 L370.59 1008.69 L370.75 1008.7 L370.91 1008.72 L371.07 1008.73 L371.23 1008.74 L371.39 1008.75 L371.55 1008.77 L371.71 1008.78 L371.87 1008.79 L372.03 1008.8 L372.19 1008.81 L372.35 1008.82 L372.51 1008.83 L372.67 1008.84 L372.83 1008.85 L372.99 1008.86 L373.15 1008.87 L373.31 1008.88 L373.47 1008.89 L373.63 1008.9 L373.78 1008.91 L373.94 1008.92 L374.1 1008.93 L374.26 1008.94 L374.42 1008.94 L374.58 1008.95 L374.74 1008.96 L374.9 1008.97 L375.06 1008.97 L375.22 1008.98 L375.38 1008.98 L375.54 1008.99 L375.7 1009 L375.86 1009 L376.02 1009.01 L376.18 1009.01 L376.34 1009.01 L376.5 1009.02 L376.66 1009.02 L376.82 1009.02 L376.98 1009.03 L377.14 1009.03 L377.3 1009.03 L377.46 1009.03 L377.62 1009.03 L377.78 1009.03 L377.94 1009.03 L378.1 1009.03 L378.25 1009.03 L378.41 1009.03 L378.57 1009.03 L378.73 1009.03 L378.89 1009.03 L379.05 1009.03 L379.21 1009.02 L379.37 1009.02 L379.53 1009.02 L379.69 1009.02 L379.85 1009.01 L380.01 1009.01 L380.17 1009 L380.33 1009 L380.49 1008.99 L380.65 1008.99 L380.81 1008.98 L380.97 1008.98 L381.13 1008.97 L381.29 1008.97 L381.45 1008.96 L381.61 1008.95 L381.77 1008.95 L381.93 1008.94 L382.09 1008.93 L382.25 1008.92 L382.41 1008.92 L382.57 1008.91 L382.72 1008.9 L382.88 1008.88 L383.04 1008.86 L383.2 1008.83 L383.36 1008.8 L383.52 1008.77 L383.68 1008.74 L383.84 1008.7 L384 1008.65 L384.16 1008.61 L384.32 1008.56 L384.48 1008.51 L384.64 1008.45 L384.8 1008.4 L384.96 1008.34 L385.12 1008.28 L385.28 1008.21 L385.44 1008.15 L385.6 1008.08 L385.76 1008.01 L385.92 1007.94 L386.08 1007.87 L386.24 1007.79 L386.4 1007.72 L386.56 1007.64 L386.72 1007.57 L386.88 1007.49 L387.04 1007.41 L387.19 1007.33 L387.35 1007.24 L387.51 1007.14 L387.67 1007.03 L387.83 1006.92 L387.99 1006.8 L388.15 1006.68 L388.31 1006.55 L388.47 1006.42 L388.63 1006.28 L388.79 1006.13 L388.95 1005.99 L389.11 1005.83 L389.27 1005.68 L389.43 1005.52 L389.59 1005.35 L389.75 1005.19 L389.91 1005.02 L390.07 1004.85 L390.23 1004.67 L390.39 1004.5 L390.55 1004.32 L390.71 1004.13 L390.87 1003.94 L391.03 1003.74 L391.19 1003.53 L391.35 1003.31 L391.51 1003.09 L391.66 1002.86 L391.82 1002.62 L391.98 1002.38 L392.14 1002.13 L392.3 1001.88 L392.46 1001.62 L392.62 1001.35 L392.78 1001.08 L392.94 1000.81 L393.1 1000.53 L393.26 1000.25 L393.42 999.97 L393.58 999.68 L393.74 999.39 L393.9 999.1 L394.06 998.8 L394.22 998.5 L394.38 998.19 L394.54 997.87 L394.7 997.54 L394.86 997.2 L395.02 996.85 L395.18 996.49 L395.34 996.11 L395.5 995.72 L395.66 995.31 L395.82 994.89 L395.97 994.44 L396.13 993.97 L396.29 993.46 L396.45 992.93 L396.61 992.38 L396.77 991.8 L396.93 991.19 L397.09 990.57 L397.25 989.93 L397.41 989.27 L397.57 988.59 L397.73 987.91 L397.89 987.21 L398.05 986.5 L398.21 985.78 L398.37 985.03 L398.53 984.25 L398.69 983.45 L398.85 982.62 L399.01 981.77 L399.17 980.9 L399.33 980.01 L399.49 979.11 L399.65 978.19 L399.81 977.26 L399.97 976.32 L400.13 975.38 L400.29 974.43 L400.44 973.48 L400.6 972.53 L400.76 971.58 L400.92 970.61 L401.08 969.64 L401.24 968.65 L401.4 967.65 L401.56 966.63 L401.72 965.58 L401.88 964.52 L402.04 963.42 L402.2 962.3 L402.36 961.14 L402.52 959.95 L402.68 958.72 L402.84 957.44 L403 956.11 L403.16 954.73 L403.32 953.31 L403.48 951.84 L403.64 950.33 L403.8 948.78 L403.96 947.18 L404.12 945.55 L404.28 943.88 L404.44 942.18 L404.6 940.45 L404.76 938.66 L404.91 936.82 L405.07 934.92 L405.23 932.93 L405.39 930.86 L405.55 928.69 L405.71 926.41 L405.87 923.99 L406.03 921.34 L406.19 918.48 L406.35 915.46 L406.51 912.3 L406.67 909.06 L406.83 905.77 L406.99 902.49 L407.15 899.21 L407.31 895.84 L407.47 892.38 L407.63 888.85 L407.79 885.29 L407.95 881.72 L408.11 878.18 L408.27 874.68 L408.43 871.22 L408.59 867.64 L408.75 864 L408.91 860.35 L409.07 856.79 L409.23 853.38 L409.38 850.2 L409.54 847.33 L409.7 844.81 L409.86 842.46 L410.02 840.24 L410.18 838.14 L410.34 836.14 L410.5 834.24 L410.66 832.43 L410.82 830.68 L410.98 829 L411.14 827.36 L411.3 825.76 L411.46 824.17 L411.62 822.61 L411.78 821.11 L411.94 819.69 L412.1 818.36 L412.26 817.15 L412.42 816.08 L412.58 815.15 L412.74 814.26 L412.9 813.41 L413.06 812.6 L413.22 811.83 L413.38 811.13 L413.54 810.49 L413.69 809.93 L413.85 809.45 L414.01 809.07 L414.17 808.77 L414.33 808.49 L414.49 808.22 L414.65 807.97 L414.81 807.75 L414.97 807.54 L415.13 807.37 L415.29 807.24 L415.45 807.14 L415.61 807.1 L415.77 807.1 L415.93 807.15 L416.09 807.26 L416.25 807.4 L416.41 807.58 L416.57 807.79 L416.73 808.02 L416.89 808.27 L417.05 808.53 L417.21 808.79 L417.37 809.06 L417.53 809.39 L417.69 809.77 L417.85 810.2 L418.01 810.66 L418.16 811.16 L418.32 811.68 L418.48 812.21 L418.64 812.75 L418.8 813.28 L418.96 813.8 L419.12 814.29 L419.28 814.77 L419.44 815.25 L419.6 815.73 L419.76 816.22 L419.92 816.71 L420.08 817.21 L420.24 817.7 L420.4 818.18 L420.56 818.67 L420.72 819.14 L420.88 819.6 L421.04 820.05 L421.2 820.49 L421.36 820.91 L421.52 821.31 L421.68 821.71 L421.84 822.11 L422 822.5 L422.16 822.89 L422.32 823.28 L422.48 823.65 L422.63 824.01 L422.79 824.36 L422.95 824.7 L423.11 825.02 L423.27 825.32 L423.43 825.6 L423.59 825.86 L423.75 826.09 L423.91 826.32 L424.07 826.54 L424.23 826.74 L424.39 826.94 L424.55 827.14 L424.71 827.32 L424.87 827.5 L425.03 827.67 L425.19 827.84 L425.35 828 L425.51 828.15 L425.67 828.3 L425.83 828.44 L425.99 828.58 L426.15 828.71 L426.31 828.84 L426.47 828.96 L426.63 829.08 L426.79 829.2 L426.95 829.31 L427.1 829.42 L427.26 829.53 L427.42 829.63 L427.58 829.73 L427.74 829.83 L427.9 829.93 L428.06 830.02 L428.22 830.11 L428.38 830.2 L428.54 830.29 L428.7 830.38 L428.86 830.47 L429.02 830.56 L429.18 830.64 L429.34 830.73 L429.5 830.81 L429.66 830.9 L429.82 830.98 L429.98 831.06 L430.14 831.13 L430.3 831.21 L430.46 831.29 L430.62 831.36 L430.78 831.44 L430.94 831.51 L431.1 831.58 L431.26 831.65 L431.42 831.73 L431.57 831.8 L431.73 831.87 L431.89 831.94 L432.05 832.02 L432.21 832.09 L432.37 832.16 L432.53 832.24 L432.69 832.31 L432.85 832.39 L433.01 832.47 L433.17 832.54 L433.33 832.62 L433.49 832.7 L433.65 832.78 L433.81 832.86 L433.97 832.94 L434.13 833.02 L434.29 833.1 L434.45 833.18 L434.61 833.26 L434.77 833.34 L434.93 833.42 L435.09 833.5 L435.25 833.58 L435.41 833.66 L435.57 833.74 L435.73 833.82 L435.88 833.9 L436.04 833.98 L436.2 834.06 L436.36 834.14 L436.52 834.21 L436.68 834.29 L436.84 834.37 L437 834.44 L437.16 834.52 L437.32 834.59 L437.48 834.66 L437.64 834.73 L437.8 834.81 L437.96 834.87 L438.12 834.94 L438.28 835.01 L438.44 835.08 L438.6 835.15 L438.76 835.21 L438.92 835.28 L439.08 835.34 L439.24 835.41 L439.4 835.47 L439.56 835.54 L439.72 835.6 L439.88 835.66 L440.04 835.72 L440.2 835.79 L440.35 835.85 L440.51 835.91 L440.67 835.97 L440.83 836.03 L440.99 836.09 L441.15 836.16 L441.31 836.22 L441.47 836.28 L441.63 836.34 L441.79 836.4 L441.95 836.46 L442.11 836.53 L442.27 836.59 L442.43 836.65 L442.59 836.71 L442.75 836.78 L442.91 836.84 L443.07 836.9 L443.23 836.97 L443.39 837.03 L443.55 837.1 L443.71 837.16 L443.87 837.23 L444.03 837.3 L444.19 837.36 L444.35 837.43 L444.51 837.5 L444.67 837.57 L444.82 837.64 L444.98 837.71 L445.14 837.78 L445.3 837.85 L445.46 837.92 L445.62 837.99 L445.78 838.06 L445.94 838.13 L446.1 838.2 L446.26 838.27 L446.42 838.34 L446.58 838.41 L446.74 838.48 L446.9 838.55 L447.06 838.63 L447.22 838.7 L447.38 838.77 L447.54 838.84 L447.7 838.92 L447.86 838.99 L448.02 839.06 L448.18 839.13 L448.34 839.21 L448.5 839.28 L448.66 839.36 L448.82 839.43 L448.98 839.5 L449.14 839.58 L449.29 839.65 L449.45 839.73 L449.61 839.8 L449.77 839.88 L449.93 839.95 L450.09 840.03 L450.25 840.1 L450.41 840.18 L450.57 840.25 L450.73 840.33 L450.89 840.41 L451.05 840.48 L451.21 840.56 L451.37 840.64 L451.53 840.71 L451.69 840.79 L451.85 840.87 L452.01 840.95 L452.17 841.02 L452.33 841.1 L452.49 841.18 L452.65 841.26 L452.81 841.34 L452.97 841.42 L453.13 841.5 L453.29 841.58 L453.45 841.65 L453.6 841.73 L453.76 841.81 L453.92 841.89 L454.08 841.97 L454.24 842.06 L454.4 842.14 L454.56 842.22 L454.72 842.3 L454.88 842.38 L455.04 842.46 L455.2 842.54 L455.36 842.62 L455.52 842.71 L455.68 842.79 L455.84 842.87 L456 842.95 L456.16 843.03 L456.32 843.12 L456.48 843.2 L456.64 843.28 L456.8 843.37 L456.96 843.45 L457.12 843.53 L457.28 843.62 L457.44 843.7 L457.6 843.78 L457.76 843.87 L457.92 843.95 L458.07 844.04 L458.23 844.12 L458.39 844.21 L458.55 844.29 L458.71 844.38 L458.87 844.46 L459.03 844.55 L459.19 844.64 L459.35 844.72 L459.51 844.81 L459.67 844.89 L459.83 844.98 L459.99 845.07 L460.15 845.16 L460.31 845.24 L460.47 845.33 L460.63 845.42 L460.79 845.51 L460.95 845.59 L461.11 845.68 L461.27 845.77 L461.43 845.86 L461.59 845.95 L461.75 846.04 L461.91 846.12 L462.07 846.21 L462.23 846.3 L462.39 846.39 L462.54 846.48 L462.7 846.57 L462.86 846.66 L463.02 846.75 L463.18 846.84 L463.34 846.93 L463.5 847.02 L463.66 847.11 L463.82 847.2 L463.98 847.29 L464.14 847.38 L464.3 847.48 L464.46 847.57 L464.62 847.66 L464.78 847.75 L464.94 847.84 L465.1 847.94 L465.26 848.03 L465.42 848.12 L465.58 848.21 L465.74 848.31 L465.9 848.4 L466.06 848.49 L466.22 848.59 L466.38 848.68 L466.54 848.77 L466.7 848.87 L466.86 848.96 L467.01 849.06 L467.17 849.15 L467.33 849.25 L467.49 849.34 L467.65 849.44 L467.81 849.53 L467.97 849.63 L468.13 849.72 L468.29 849.82 L468.45 849.91 L468.61 850.01 L468.77 850.1 L468.93 850.2 L469.09 850.3 L469.25 850.39 L469.41 850.49 L469.57 850.59 L469.73 850.68 L469.89 850.78 L470.05 850.88 L470.21 850.97 L470.37 851.07 L470.53 851.17 L470.69 851.27 L470.85 851.36 L471.01 851.46 L471.17 851.56 L471.32 851.66 L471.48 851.76 L471.64 851.86 L471.8 851.96 L471.96 852.05 L472.12 852.15 L472.28 852.25 L472.44 852.35 L472.6 852.45 L472.76 852.55 L472.92 852.65 L473.08 852.75 L473.24 852.85 L473.4 852.95 L473.56 853.05 L473.72 853.15 L473.88 853.26 L474.04 853.36 L474.2 853.46 L474.36 853.56 L474.52 853.66 L474.68 853.76 L474.84 853.86 L475 853.97 L475.16 854.07 L475.32 854.17 L475.48 854.27 L475.64 854.38 L475.79 854.48 L475.95 854.58 L476.11 854.68 L476.27 854.79 L476.43 854.89 L476.59 854.99 L476.75 855.1 L476.91 855.2 L477.07 855.3 L477.23 855.41 L477.39 855.51 L477.55 855.62 L477.71 855.72 L477.87 855.82 L478.03 855.93 L478.19 856.03 L478.35 856.14 L478.51 856.24 L478.67 856.35 L478.83 856.45 L478.99 856.56 L479.15 856.67 L479.31 856.77 L479.47 856.88 L479.63 856.98 L479.79 857.09 L479.95 857.2 L480.11 857.3 L480.26 857.41 L480.42 857.52 L480.58 857.62 L480.74 857.73 L480.9 857.84 L481.06 857.95 L481.22 858.05 L481.38 858.16 L481.54 858.27 L481.7 858.38 L481.86 858.48 L482.02 858.59 L482.18 858.7 L482.34 858.81 L482.5 858.92 L482.66 859.03 L482.82 859.13 L482.98 859.24 L483.14 859.35 L483.3 859.46 L483.46 859.57 L483.62 859.68 L483.78 859.79 L483.94 859.9 L484.1 860.01 L484.26 860.12 L484.42 860.23 L484.58 860.34 L484.73 860.45 L484.89 860.56 L485.05 860.67 L485.21 860.78 L485.37 860.89 L485.53 861 L485.69 861.11 L485.85 861.23 L486.01 861.34 L486.17 861.45 L486.33 861.56 L486.49 861.67 L486.65 861.78 L486.81 861.9 L486.97 862.01 L487.13 862.12 L487.29 862.23 L487.45 862.35 L487.61 862.46 L487.77 862.57 L487.93 862.68 L488.09 862.8 L488.25 862.91 L488.41 863.02 L488.57 863.14 L488.73 863.25 L488.89 863.36 L489.05 863.48 L489.2 863.59 L489.36 863.71 L489.52 863.82 L489.68 863.93 L489.84 864.05 L490 864.16 L490.16 864.28 L490.32 864.39 L490.48 864.51 L490.64 864.62 L490.8 864.74 L490.96 864.85 L491.12 864.97 L491.28 865.08 L491.44 865.2 L491.6 865.31 L491.76 865.43 L491.92 865.55 L492.08 865.66 L492.24 865.78 L492.4 865.89 L492.56 866.01 L492.72 866.13 L492.88 866.24 L493.04 866.36 L493.2 866.48 L493.36 866.6 L493.51 866.71 L493.67 866.83 L493.83 866.95 L493.99 867.06 L494.15 867.18 L494.31 867.3 L494.47 867.42 L494.63 867.53 L494.79 867.65 L494.95 867.77 L495.11 867.89 L495.27 868.01 L495.43 868.13 L495.59 868.24 L495.75 868.36 L495.91 868.48 L496.07 868.6 L496.23 868.72 L496.39 868.84 L496.55 868.96 L496.71 869.08 L496.87 869.2 L497.03 869.32 L497.19 869.43 L497.35 869.55 L497.51 869.67 L497.67 869.79 L497.83 869.91 L497.98 870.03 L498.14 870.16 L498.3 870.28 L498.46 870.4 L498.62 870.52 L498.78 870.64 L498.94 870.76 L499.1 870.88 L499.26 871 L499.42 871.12 L499.58 871.24 L499.74 871.36 L499.9 871.49 L500.06 871.61 L500.22 871.73 L500.38 871.85 L500.54 871.97 L500.7 872.09 L500.86 872.22 L501.02 872.34 L501.18 872.46 L501.34 872.58 L501.5 872.7 L501.66 872.83 L501.82 872.95 L501.98 873.07 L502.14 873.2 L502.3 873.32 L502.45 873.44 L502.61 873.56 L502.77 873.69 L502.93 873.81 L503.09 873.93 L503.25 874.06 L503.41 874.18 L503.57 874.3 L503.73 874.43 L503.89 874.55 L504.05 874.68 L504.21 874.8 L504.37 874.92 L504.53 875.05 L504.69 875.17 L504.85 875.3 L505.01 875.42 L505.17 875.55 L505.33 875.67 L505.49 875.8 L505.65 875.92 L505.81 876.05 L505.97 876.17 L506.13 876.3 L506.29 876.42 L506.45 876.55 L506.61 876.67 L506.77 876.8 L506.92 876.92 L507.08 877.05 L507.24 877.18 L507.4 877.3 L507.56 877.43 L507.72 877.55 L507.88 877.68 L508.04 877.81 L508.2 877.93 L508.36 878.06 L508.52 878.19 L508.68 878.31 L508.84 878.44 L509 878.57 L509.16 878.69 L509.32 878.82 L509.48 878.95 L509.64 879.07 L509.8 879.2 L509.96 879.33 L510.12 879.46 L510.28 879.58 L510.44 879.71 L510.6 879.84 L510.76 879.97 L510.92 880.09 L511.08 880.22 L511.23 880.35 L511.39 880.48 L511.55 880.61 L511.71 880.73 L511.87 880.86 L512.03 880.99 L512.19 881.12 L512.35 881.25 L512.51 881.38 L512.67 881.51 L512.83 881.63 L512.99 881.76 L513.15 881.89 L513.31 882.02 L513.47 882.15 L513.63 882.28 L513.79 882.41 L513.95 882.54 L514.11 882.67 L514.27 882.8 L514.43 882.93 L514.59 883.06 L514.75 883.19 L514.91 883.31 L515.07 883.44 L515.23 883.57 L515.39 883.7 L515.55 883.83 L515.7 883.96 L515.86 884.09 L516.02 884.23 L516.18 884.36 L516.34 884.49 L516.5 884.62 L516.66 884.75 L516.82 884.88 L516.98 885.01 L517.14 885.14 L517.3 885.27 L517.46 885.4 L517.62 885.53 L517.78 885.66 L517.94 885.8 L518.1 885.93 L518.26 886.06 L518.42 886.19 L518.58 886.32 L518.74 886.45 L518.9 886.58 L519.06 886.72 L519.22 886.85 L519.38 886.98 L519.54 887.11 L519.7 887.24 L519.86 887.37 L520.02 887.51 L520.17 887.64 L520.33 887.77 L520.49 887.9 L520.65 888.04 L520.81 888.17 L520.97 888.3 L521.13 888.43 L521.29 888.57 L521.45 888.7 L521.61 888.83 L521.77 888.96 L521.93 889.1 L522.09 889.23 L522.25 889.36 L522.41 889.49 L522.57 889.63 L522.73 889.76 L522.89 889.89 L523.05 890.03 L523.21 890.16 L523.37 890.29 L523.53 890.43 L523.69 890.56 L523.85 890.7 L524.01 890.83 L524.17 890.96 L524.33 891.1 L524.49 891.23 L524.64 891.36 L524.8 891.5 L524.96 891.63 L525.12 891.77 L525.28 891.9 L525.44 892.03 L525.6 892.17 L525.76 892.3 L525.92 892.44 L526.08 892.57 L526.24 892.71 L526.4 892.84 L526.56 892.98 L526.72 893.11 L526.88 893.24 L527.04 893.38 L527.2 893.51 L527.36 893.65 L527.52 893.78 L527.68 893.92 L527.84 894.05 L528 894.19 L528.16 894.32 L528.32 894.46 L528.48 894.59 L528.64 894.73 L528.8 894.86 L528.95 895 L529.11 895.13 L529.27 895.27 L529.43 895.41 L529.59 895.54 L529.75 895.68 L529.91 895.81 L530.07 895.95 L530.23 896.08 L530.39 896.22 L530.55 896.36 L530.71 896.49 L530.87 896.63 L531.03 896.76 L531.19 896.9 L531.35 897.04 L531.51 897.17 L531.67 897.31 L531.83 897.44 L531.99 897.58 L532.15 897.72 L532.31 897.85 L532.47 897.99 L532.63 898.13 L532.79 898.26 L532.95 898.4 L533.11 898.54 L533.27 898.67 L533.42 898.81 L533.58 898.95 L533.74 899.08 L533.9 899.22 L534.06 899.36 L534.22 899.49 L534.38 899.63 L534.54 899.77 L534.7 899.9 L534.86 900.04 L535.02 900.18 L535.18 900.31 L535.34 900.45 L535.5 900.59 L535.66 900.73 L535.82 900.86 L535.98 901 L536.14 901.14 L536.3 901.27 L536.46 901.41 L536.62 901.55 L536.78 901.69 L536.94 901.82 L537.1 901.96 L537.26 902.1 L537.42 902.24 L537.58 902.38 L537.74 902.51 L537.89 902.65 L538.05 902.79 L538.21 902.93 L538.37 903.06 L538.53 903.2 L538.69 903.34 L538.85 903.48 L539.01 903.62 L539.17 903.75 L539.33 903.89 L539.49 904.03 L539.65 904.17 L539.81 904.31 L539.97 904.44 L540.13 904.58 L540.29 904.72 L540.45 904.86 L540.61 905 L540.77 905.13 L540.93 905.27 L541.09 905.41 L541.25 905.55 L541.41 905.69 L541.57 905.83 L541.73 905.97 L541.89 906.1 L542.05 906.24 L542.21 906.38 L542.36 906.52 L542.52 906.66 L542.68 906.8 L542.84 906.94 L543 907.07 L543.16 907.21 L543.32 907.35 L543.48 907.49 L543.64 907.63 L543.8 907.77 L543.96 907.91 L544.12 908.05 L544.28 908.18 L544.44 908.32 L544.6 908.46 L544.76 908.6 L544.92 908.74 L545.08 908.88 L545.24 909.02 L545.4 909.16 L545.56 909.3 L545.72 909.44 L545.88 909.57 L546.04 909.71 L546.2 909.85 L546.36 909.99 L546.52 910.13 L546.68 910.27 L546.83 910.41 L546.99 910.55 L547.15 910.69 L547.31 910.83 L547.47 910.97 L547.63 911.11 L547.79 911.24 L547.95 911.38 L548.11 911.52 L548.27 911.66 L548.43 911.8 L548.59 911.94 L548.75 912.08 L548.91 912.22 L549.07 912.36 L549.23 912.5 L549.39 912.64 L549.55 912.78 L549.71 912.92 L549.87 913.06 L550.03 913.2 L550.19 913.34 L550.35 913.48 L550.51 913.62 L550.67 913.76 L550.83 913.89 L550.99 914.03 L551.14 914.17 L551.3 914.31 L551.46 914.45 L551.62 914.59 L551.78 914.73 L551.94 914.87 L552.1 915.01 L552.26 915.15 L552.42 915.29 L552.58 915.43 L552.74 915.57 L552.9 915.71 L553.06 915.85 L553.22 915.99 L553.38 916.13 L553.54 916.27 L553.7 916.41 L553.86 916.55 L554.02 916.69 L554.18 916.83 L554.34 916.97 L554.5 917.11 L554.66 917.25 L554.82 917.39 L554.98 917.53 L555.14 917.67 L555.3 917.81 L555.46 917.95 L555.61 918.09 L555.77 918.23 L555.93 918.37 L556.09 918.5 L556.25 918.64 L556.41 918.78 L556.57 918.92 L556.73 919.06 L556.89 919.2 L557.05 919.34 L557.21 919.48 L557.37 919.62 L557.53 919.76 L557.69 919.9 L557.85 920.04 L558.01 920.18 L558.17 920.32 L558.33 920.46 L558.49 920.6 L558.65 920.74 L558.81 920.88 L558.97 921.02 L559.13 921.16 L559.29 921.3 L559.45 921.44 L559.61 921.58 L559.77 921.72 L559.93 921.86 L560.08 922 L560.24 922.14 L560.4 922.28 L560.56 922.42 L560.72 922.56 L560.88 922.7 L561.04 922.84 L561.2 922.98 L561.36 923.12 L561.52 923.26 L561.68 923.4 L561.84 923.54 L562 923.68 L562.16 923.82 L562.32 923.96 L562.48 924.09 L562.64 924.23 L562.8 924.37 L562.96 924.51 L563.12 924.65 L563.28 924.79 L563.44 924.93 L563.6 925.07 L563.76 925.21 L563.92 925.35 L564.08 925.49 L564.24 925.63 L564.4 925.77 L564.55 925.91 L564.71 926.05 L564.87 926.19 L565.03 926.33 L565.19 926.47 L565.35 926.61 L565.51 926.75 L565.67 926.89 L565.83 927.02 L565.99 927.16 L566.15 927.3 L566.31 927.44 L566.47 927.58 L566.63 927.72 L566.79 927.86 L566.95 928 L567.11 928.14 L567.27 928.28 L567.43 928.42 L567.59 928.56 L567.75 928.7 L567.91 928.83 L568.07 928.97 L568.23 929.11 L568.39 929.25 L568.55 929.39 L568.71 929.53 L568.86 929.67 L569.02 929.81 L569.18 929.95 L569.34 930.09 L569.5 930.23 L569.66 930.36 L569.82 930.5 L569.98 930.64 L570.14 930.78 L570.3 930.92 L570.46 931.06 L570.62 931.2 L570.78 931.34 L570.94 931.47 L571.1 931.61 L571.26 931.75 L571.42 931.89 L571.58 932.03 L571.74 932.17 L571.9 932.31 L572.06 932.44 L572.22 932.58 L572.38 932.72 L572.54 932.86 L572.7 933 L572.86 933.14 L573.02 933.28 L573.18 933.41 L573.33 933.55 L573.49 933.69 L573.65 933.83 L573.81 933.97 L573.97 934.11 L574.13 934.24 L574.29 934.38 L574.45 934.52 L574.61 934.66 L574.77 934.8 L574.93 934.93 L575.09 935.07 L575.25 935.21 L575.41 935.35 L575.57 935.49 L575.73 935.62 L575.89 935.76 L576.05 935.9 L576.21 936.04 L576.37 936.17 L576.53 936.31 L576.69 936.45 L576.85 936.59 L577.01 936.73 L577.17 936.86 L577.33 937 L577.49 937.14 L577.65 937.28 L577.8 937.41 L577.96 937.55 L578.12 937.69 L578.28 937.82 L578.44 937.96 L578.6 938.1 L578.76 938.24 L578.92 938.37 L579.08 938.51 L579.24 938.65 L579.4 938.78 L579.56 938.92 L579.72 939.06 L579.88 939.19 L580.04 939.33 L580.2 939.47 L580.36 939.61 L580.52 939.74 L580.68 939.88 L580.84 940.02 L581 940.15 L581.16 940.29 L581.32 940.43 L581.48 940.56 L581.64 940.7 L581.8 940.83 L581.96 940.97 L582.12 941.11 L582.27 941.24 L582.43 941.38 L582.59 941.52 L582.75 941.65 L582.91 941.79 L583.07 941.92 L583.23 942.06 L583.39 942.2 L583.55 942.33 L583.71 942.47 L583.87 942.6 L584.03 942.74 L584.19 942.87 L584.35 943.01 L584.51 943.15 L584.67 943.28 L584.83 943.42 L584.99 943.55 L585.15 943.69 L585.31 943.82 L585.47 943.96 L585.63 944.09 L585.79 944.23 L585.95 944.36 L586.11 944.5 L586.27 944.63 L586.43 944.77 L586.58 944.9 L586.74 945.04 L586.9 945.17 L587.06 945.31 L587.22 945.44 L587.38 945.58 L587.54 945.71 L587.7 945.85 L587.86 945.98 L588.02 946.12 L588.18 946.25 L588.34 946.38 L588.5 946.52 L588.66 946.65 L588.82 946.79 L588.98 946.92 L589.14 947.06 L589.3 947.19 L589.46 947.32 L589.62 947.46 L589.78 947.59 L589.94 947.72 L590.1 947.86 L590.26 947.99 L590.42 948.13 L590.58 948.26 L590.74 948.39 L590.9 948.53 L591.05 948.66 L591.21 948.79 L591.37 948.93 L591.53 949.06 L591.69 949.19 L591.85 949.32 L592.01 949.46 L592.17 949.59 L592.33 949.72 L592.49 949.86 L592.65 949.99 L592.81 950.12 L592.97 950.25 L593.13 950.39 L593.29 950.52 L593.45 950.65 L593.61 950.78 L593.77 950.92 L593.93 951.05 L594.09 951.18 L594.25 951.31 L594.41 951.44 L594.57 951.58 L594.73 951.71 L594.89 951.84 L595.05 951.97 L595.21 952.1 L595.37 952.24 L595.52 952.37 L595.68 952.5 L595.84 952.63 L596 952.76 L596.16 952.89 L596.32 953.02 L596.48 953.15 L596.64 953.29 L596.8 953.42 L596.96 953.55 L597.12 953.68 L597.28 953.81 L597.44 953.94 L597.6 954.07 L597.76 954.2 L597.92 954.33 L598.08 954.46 L598.24 954.59 L598.4 954.72 L598.56 954.85 L598.72 954.98 L598.88 955.11 L599.04 955.24 L599.2 955.37 L599.36 955.5 L599.52 955.63 L599.68 955.76 L599.84 955.89 L599.99 956.02 L600.15 956.15 L600.31 956.28 L600.47 956.41 L600.63 956.54 L600.79 956.67 L600.95 956.8 L601.11 956.92 L601.27 957.05 L601.43 957.18 L601.59 957.31 L601.75 957.44 L601.91 957.57 L602.07 957.7 L602.23 957.82 L602.39 957.95 L602.55 958.08 L602.71 958.21 L602.87 958.34 L603.03 958.47 L603.19 958.59 L603.35 958.72 L603.51 958.85 L603.67 958.98 L603.83 959.1 L603.99 959.23 L604.15 959.36 L604.31 959.49 L604.46 959.61 L604.62 959.74 L604.78 959.87 L604.94 959.99 L605.1 960.12 L605.26 960.25 L605.42 960.37 L605.58 960.5 L605.74 960.63 L605.9 960.75 L606.06 960.88 L606.22 961.01 L606.38 961.13 L606.54 961.26 L606.7 961.38 L606.86 961.51 L607.02 961.64 L607.18 961.76 L607.34 961.89 L607.5 962.01 L607.66 962.14 L607.82 962.26 L607.98 962.39 L608.14 962.52 L608.3 962.64 L608.46 962.77 L608.62 962.89 L608.77 963.02 L608.93 963.14 L609.09 963.26 L609.25 963.39 L609.41 963.51 L609.57 963.64 L609.73 963.76 L609.89 963.89 L610.05 964.01 L610.21 964.13 L610.37 964.26 L610.53 964.38 L610.69 964.5 L610.85 964.63 L611.01 964.75 L611.17 964.88 L611.33 965 L611.49 965.12 L611.65 965.24 L611.81 965.37 L611.97 965.49 L612.13 965.61 L612.29 965.74 L612.45 965.86 L612.61 965.98 L612.77 966.1 L612.93 966.23 L613.09 966.35 L613.24 966.47 L613.4 966.59 L613.56 966.72 L613.72 966.84 L613.88 966.96 L614.04 967.08 L614.2 967.2 L614.36 967.32 L614.52 967.44 L614.68 967.57 L614.84 967.69 L615 967.81 L615.16 967.93 L615.32 968.05 L615.48 968.17 L615.64 968.29 L615.8 968.41 L615.96 968.53 L616.12 968.65 L616.28 968.77 L616.44 968.89 L616.6 969.01 L616.76 969.13 L616.92 969.25 L617.08 969.37 L617.24 969.49 L617.4 969.61 L617.56 969.73 L617.71 969.85 L617.87 969.97 L618.03 970.09 L618.19 970.2 L618.35 970.32 L618.51 970.44 L618.67 970.56 L618.83 970.68 L618.99 970.8 L619.15 970.92 L619.31 971.03 L619.47 971.15 L619.63 971.27 L619.79 971.39 L619.95 971.51 L620.11 971.62 L620.27 971.74 L620.43 971.86 L620.59 971.97 L620.75 972.09 L620.91 972.21 L621.07 972.33 L621.23 972.44 L621.39 972.56 L621.55 972.68 L621.71 972.79 L621.87 972.91 L622.03 973.02 L622.18 973.14 L622.34 973.26 L622.5 973.37 L622.66 973.49 L622.82 973.6 L622.98 973.72 L623.14 973.83 L623.3 973.95 L623.46 974.06 L623.62 974.18 L623.78 974.29 L623.94 974.41 L624.1 974.52 L624.26 974.64 L624.42 974.75 L624.58 974.87 L624.74 974.98 L624.9 975.09 L625.06 975.21 L625.22 975.32 L625.38 975.44 L625.54 975.55 L625.7 975.66 L625.86 975.78 L626.02 975.89 L626.18 976 L626.34 976.12 L626.49 976.23 L626.65 976.34 L626.81 976.45 L626.97 976.57 L627.13 976.68 L627.29 976.79 L627.45 976.9 L627.61 977.01 L627.77 977.13 L627.93 977.24 L628.09 977.35 L628.25 977.46 L628.41 977.57 L628.57 977.68 L628.73 977.79 L628.89 977.9 L629.05 978.02 L629.21 978.13 L629.37 978.24 L629.53 978.35 L629.69 978.46 L629.85 978.57 L630.01 978.68 L630.17 978.79 L630.33 978.9 L630.49 979.01 L630.65 979.11 L630.81 979.22 L630.96 979.33 L631.12 979.44 L631.28 979.55 L631.44 979.66 L631.6 979.77 L631.76 979.88 L631.92 979.99 L632.08 980.09 L632.24 980.2 L632.4 980.31 L632.56 980.42 L632.72 980.53 L632.88 980.63 L633.04 980.74 L633.2 980.85 L633.36 980.96 L633.52 981.06 L633.68 981.17 L633.84 981.28 L634 981.38 L634.16 981.49 L634.32 981.6 L634.48 981.7 L634.64 981.81 L634.8 981.91 L634.96 982.02 L635.12 982.13 L635.28 982.23 L635.43 982.34 L635.59 982.44 L635.75 982.55 L635.91 982.65 L636.07 982.76 L636.23 982.86 L636.39 982.96 L636.55 983.07 L636.71 983.17 L636.87 983.28 L637.03 983.38 L637.19 983.49 L637.35 983.59 L637.51 983.69 L637.67 983.8 L637.83 983.9 L637.99 984 L638.15 984.11 L638.31 984.21 L638.47 984.31 L638.63 984.41 L638.79 984.52 L638.95 984.62 L639.11 984.72 L639.27 984.82 L639.43 984.92 L639.59 985.03 L639.75 985.13 L639.9 985.23 L640.06 985.33 L640.22 985.43 L640.38 985.53 L640.54 985.63 L640.7 985.73 L640.86 985.83 L641.02 985.93 L641.18 986.03 L641.34 986.13 L641.5 986.23 L641.66 986.33 L641.82 986.43 L641.98 986.53 L642.14 986.63 L642.3 986.73 L642.46 986.83 L642.62 986.93 L642.78 987.03 L642.94 987.12 L643.1 987.22 L643.26 987.32 L643.42 987.42 L643.58 987.52 L643.74 987.61 L643.9 987.71 L644.06 987.81 L644.22 987.91 L644.37 988 L644.53 988.1 L644.69 988.2 L644.85 988.29 L645.01 988.39 L645.17 988.49 L645.33 988.58 L645.49 988.68 L645.65 988.77 L645.81 988.87 L645.97 988.97 L646.13 989.06 L646.29 989.16 L646.45 989.25 L646.61 989.35 L646.77 989.44 L646.93 989.54 L647.09 989.63 L647.25 989.72 L647.41 989.82 L647.57 989.91 L647.73 990.01 L647.89 990.1 L648.05 990.19 L648.21 990.29 L648.37 990.38 L648.53 990.47 L648.68 990.56 L648.84 990.66 L649 990.75 L649.16 990.84 L649.32 990.93 L649.48 991.02 L649.64 991.12 L649.8 991.21 L649.96 991.3 L650.12 991.39 L650.28 991.48 L650.44 991.57 L650.6 991.66 L650.76 991.75 L650.92 991.84 L651.08 991.93 L651.24 992.02 L651.4 992.11 L651.56 992.2 L651.72 992.29 L651.88 992.38 L652.04 992.47 L652.2 992.56 L652.36 992.65 L652.52 992.74 L652.68 992.83 L652.84 992.92 L653 993.01 L653.15 993.09 L653.31 993.18 L653.47 993.27 L653.63 993.36 L653.79 993.44 L653.95 993.53 L654.11 993.62 L654.27 993.7 L654.43 993.79 L654.59 993.88 L654.75 993.96 L654.91 994.05 L655.07 994.13 L655.23 994.22 L655.39 994.31 L655.55 994.39 L655.71 994.48 L655.87 994.56 L656.03 994.65 L656.19 994.73 L656.35 994.82 L656.51 994.9 L656.67 994.98 L656.83 995.07 L656.99 995.15 L657.15 995.24 L657.31 995.32 L657.47 995.4 L657.62 995.49 L657.78 995.57 L657.94 995.65 L658.1 995.73 L658.26 995.82 L658.42 995.9 L658.58 995.98 L658.74 996.06 L658.9 996.14 L659.06 996.23 L659.22 996.31 L659.38 996.39 L659.54 996.47 L659.7 996.55 L659.86 996.63 L660.02 996.71 L660.18 996.79 L660.34 996.87 L660.5 996.95 L660.66 997.03 L660.82 997.11 L660.98 997.19 L661.14 997.27 L661.3 997.35 L661.46 997.42 L661.62 997.5 L661.78 997.58 L661.94 997.66 L662.09 997.74 L662.25 997.81 L662.41 997.89 L662.57 997.97 L662.73 998.05 L662.89 998.12 L663.05 998.2 L663.21 998.28 L663.37 998.35 L663.53 998.43 L663.69 998.51 L663.85 998.58 L664.01 998.66 L664.17 998.73 L664.33 998.81 L664.49 998.88 L664.65 998.96 L664.81 999.03 L664.97 999.11 L665.13 999.18 L665.29 999.26 L665.45 999.33 L665.61 999.4 L665.77 999.48 L665.93 999.55 L666.09 999.62 L666.25 999.7 L666.4 999.77 L666.56 999.84 L666.72 999.92 L666.88 999.99 L667.04 1000.06 L667.2 1000.13 L667.36 1000.2 L667.52 1000.27 L667.68 1000.34 L667.84 1000.41 L668 1000.49 L668.16 1000.56 L668.32 1000.63 L668.48 1000.7 L668.64 1000.77 L668.8 1000.84 L668.96 1000.91 L669.12 1000.97 L669.28 1001.04 L669.44 1001.11 L669.6 1001.18 L669.76 1001.25 L669.92 1001.32 L670.08 1001.39 L670.24 1001.46 L670.4 1001.52 L670.56 1001.59 L670.72 1001.66 L670.87 1001.73 L671.03 1001.79 L671.19 1001.86 L671.35 1001.93 L671.51 1001.99 L671.67 1002.06 L671.83 1002.13 L671.99 1002.19 L672.15 1002.26 L672.31 1002.32 L672.47 1002.39 L672.63 1002.45 L672.79 1002.52 L672.95 1002.58 L673.11 1002.64 L673.27 1002.71 L673.43 1002.77 L673.59 1002.84 L673.75 1002.9 L673.91 1002.96 L674.07 1003.02 L674.23 1003.09 L674.39 1003.15 L674.55 1003.21 L674.71 1003.28 L674.87 1003.34 L675.03 1003.4 L675.19 1003.47 L675.34 1003.53 L675.5 1003.59 L675.66 1003.66 L675.82 1003.72 L675.98 1003.78 L676.14 1003.84 L676.3 1003.91 L676.46 1003.97 L676.62 1004.03 L676.78 1004.09 L676.94 1004.15 L677.1 1004.21 L677.26 1004.27 L677.42 1004.33 L677.58 1004.39 L677.74 1004.45 L677.9 1004.51 L678.06 1004.57 L678.22 1004.63 L678.38 1004.68 L678.54 1004.74 L678.7 1004.8 L678.86 1004.85 L679.02 1004.91 L679.18 1004.96 L679.34 1005.01 L679.5 1005.07 L679.66 1005.12 L679.81 1005.17 L679.97 1005.22 L680.13 1005.27 L680.29 1005.32 L680.45 1005.36 L680.61 1005.41 L680.77 1005.46 L680.93 1005.51 L681.09 1005.55 L681.25 1005.6 L681.41 1005.65 L681.57 1005.69 L681.73 1005.74 L681.89 1005.79 L682.05 1005.83 L682.21 1005.88 L682.37 1005.92 L682.53 1005.97 L682.69 1006.02 L682.85 1006.06 L683.01 1006.11 L683.17 1006.15 L683.33 1006.19 L683.49 1006.24 L683.65 1006.28 L683.81 1006.33 L683.97 1006.37 L684.12 1006.41 L684.28 1006.46 L684.44 1006.5 L684.6 1006.54 L684.76 1006.58 L684.92 1006.63 L685.08 1006.67 L685.24 1006.71 L685.4 1006.75 L685.56 1006.79 L685.72 1006.83 L685.88 1006.87 L686.04 1006.91 L686.2 1006.95 L686.36 1006.99 L686.52 1007.03 L686.68 1007.07 L686.84 1007.11 L687 1007.14 L687.16 1007.18 L687.32 1007.22 L687.48 1007.26 L687.64 1007.29 L687.8 1007.33 L687.96 1007.36 L688.12 1007.4 L688.28 1007.44 L688.44 1007.47 L688.59 1007.51 L688.75 1007.54 L688.91 1007.57 L689.07 1007.61 L689.23 1007.64 L689.39 1007.67 L689.55 1007.7 L689.71 1007.74 L689.87 1007.77 L690.03 1007.8 L690.19 1007.83 L690.35 1007.86 L690.51 1007.89 L690.67 1007.92 L690.83 1007.95 L690.99 1007.98 L691.15 1008 L691.31 1008.03 L691.47 1008.06 L691.63 1008.09 L691.79 1008.11 L691.95 1008.14 L692.11 1008.17 L692.27 1008.2 L692.43 1008.23 L692.59 1008.26 L692.75 1008.28 L692.91 1008.31 L693.06 1008.34 L693.22 1008.37 L693.38 1008.4 L693.54 1008.43 L693.7 1008.46 L693.86 1008.49 L694.02 1008.51 L694.18 1008.54 L694.34 1008.57 L694.5 1008.59 L694.66 1008.62 L694.82 1008.64 L694.98 1008.67 L695.14 1008.69 L695.3 1008.71 L695.46 1008.74 L695.62 1008.76 L695.78 1008.78 L695.94 1008.8 L696.1 1008.81 L696.26 1008.83 L696.42 1008.84 L696.58 1008.86 L696.74 1008.87 L696.9 1008.88 L697.06 1008.89 L697.22 1008.9 L697.38 1008.9 L697.53 1008.91 L697.69 1008.91 L697.85 1008.91 L698.01 1008.91 L698.17 1008.91 L698.33 1008.91 L698.49 1008.91 L698.65 1008.9 L698.81 1008.9 L698.97 1008.9 L699.13 1008.89 L699.29 1008.89 L699.45 1008.88 L699.61 1008.88 L699.77 1008.87 L699.93 1008.86 L700.09 1008.85 L700.25 1008.84 L700.41 1008.84 L700.57 1008.83 L700.73 1008.82 L700.89 1008.81 L701.05 1008.8 L701.21 1008.79 L701.37 1008.77 L701.53 1008.76 L701.69 1008.75 L701.85 1008.74 L702 1008.72 L702.16 1008.71 L702.32 1008.7 L702.48 1008.68 L702.64 1008.67 L702.8 1008.65 L702.96 1008.63 L703.12 1008.61 L703.28 1008.58 L703.44 1008.54 L703.6 1008.51 L703.76 1008.47 L703.92 1008.42 L704.08 1008.37 L704.24 1008.32 L704.4 1008.27 L704.56 1008.21 L704.72 1008.15 L704.88 1008.09 L705.04 1008.03 L705.2 1007.96 L705.36 1007.89 L705.52 1007.82 L705.68 1007.74 L705.84 1007.67 L706 1007.59 L706.16 1007.51 L706.31 1007.43 L706.47 1007.35 L706.63 1007.27 L706.79 1007.18 L706.95 1007.1 L707.11 1007.01 L707.27 1006.93 L707.43 1006.84 L707.59 1006.76 L707.75 1006.66 L707.91 1006.57 L708.07 1006.46 L708.23 1006.36 L708.39 1006.25 L708.55 1006.13 L708.71 1006.01 L708.87 1005.89 L709.03 1005.76 L709.19 1005.63 L709.35 1005.49 L709.51 1005.35 L709.67 1005.21 L709.83 1005.06 L709.99 1004.91 L710.15 1004.75 L710.31 1004.59 L710.47 1004.43 L710.63 1004.26 L710.78 1004.09 L710.94 1003.92 L711.1 1003.74 L711.26 1003.56 L711.42 1003.38 L711.58 1003.19 L711.74 1003 L711.9 1002.8 L712.06 1002.59 L712.22 1002.37 L712.38 1002.14 L712.54 1001.9 L712.7 1001.66 L712.86 1001.4 L713.02 1001.14 L713.18 1000.87 L713.34 1000.59 L713.5 1000.31 L713.66 1000.01 L713.82 999.71 L713.98 999.39 L714.14 999.07 L714.3 998.74 L714.46 998.41 L714.62 998.06 L714.78 997.71 L714.94 997.34 L715.1 996.95 L715.25 996.53 L715.41 996.08 L715.57 995.62 L715.73 995.14 L715.89 994.65 L716.05 994.14 L716.21 993.62 L716.37 993.08 L716.53 992.54 L716.69 992 L716.85 991.45 L717.01 990.9 L717.17 990.34 L717.33 989.79 L717.49 989.24 L717.65 988.68 L717.81 988.1 L717.97 987.52 L718.13 986.92 L718.29 986.32 L718.45 985.7 L718.61 985.08 L718.77 984.44 L718.93 983.8 L719.09 983.15 L719.25 982.48 L719.41 981.82 L719.57 981.17 L719.72 980.51 L719.88 979.84 L720.04 979.15 L720.2 978.43 L720.36 977.69 L720.52 976.9 L720.68 976.07 L720.84 975.18 L721 974.2 L721.16 973.12 L721.32 971.96 L721.48 970.73 L721.64 969.44 L721.8 968.11" fill="none" stroke="#ff0000" stroke-width="4.5" stroke-linecap="butt" stroke-linejoin="round" clip-path="url(#cb)"/>
<line x1="83.4" y1="618.3" x2="83.4" y2="1044.6" stroke="#111111" stroke-width="1.3" />
<line x1="721.8" y1="618.3" x2="721.8" y2="1044.6" stroke="#111111" stroke-width="1.3" />
<line x1="83.4" y1="1044.6" x2="721.8" y2="1044.6" stroke="#111111" stroke-width="1.3" />
<line x1="83.4" y1="1044.6" x2="90.4" y2="1044.6" stroke="#111111" stroke-width="1.3" />
<line x1="721.8" y1="1044.6" x2="714.8" y2="1044.6" stroke="#111111" stroke-width="1.3" />
<text x="71.9" y="1054.86" font-size="29" text-anchor="end">-10</text>
<text x="729.9" y="1055.06" font-size="29" text-anchor="start">-1000</text>
<line x1="83.4" y1="983.7" x2="90.4" y2="983.7" stroke="#111111" stroke-width="1.3" />
<line x1="721.8" y1="983.7" x2="714.8" y2="983.7" stroke="#111111" stroke-width="1.3" />
<text x="71.9" y="993.96" font-size="29" text-anchor="end">-5</text>
<text x="729.9" y="994.16" font-size="29" text-anchor="start">-500</text>
<line x1="83.4" y1="922.8" x2="90.4" y2="922.8" stroke="#111111" stroke-width="1.3" />
<line x1="721.8" y1="922.8" x2="714.8" y2="922.8" stroke="#111111" stroke-width="1.3" />
<text x="71.9" y="933.06" font-size="29" text-anchor="end">0</text>
<text x="729.9" y="933.26" font-size="29" text-anchor="start">0</text>
<line x1="83.4" y1="861.9" x2="90.4" y2="861.9" stroke="#111111" stroke-width="1.3" />
<line x1="721.8" y1="861.9" x2="714.8" y2="861.9" stroke="#111111" stroke-width="1.3" />
<text x="71.9" y="872.16" font-size="29" text-anchor="end">5</text>
<text x="729.9" y="872.36" font-size="29" text-anchor="start">500</text>
<line x1="83.4" y1="801" x2="90.4" y2="801" stroke="#111111" stroke-width="1.3" />
<line x1="721.8" y1="801" x2="714.8" y2="801" stroke="#111111" stroke-width="1.3" />
<text x="71.9" y="811.26" font-size="29" text-anchor="end">10</text>
<text x="729.9" y="811.46" font-size="29" text-anchor="start">1000</text>
<line x1="83.4" y1="740.1" x2="90.4" y2="740.1" stroke="#111111" stroke-width="1.3" />
<line x1="721.8" y1="740.1" x2="714.8" y2="740.1" stroke="#111111" stroke-width="1.3" />
<text x="71.9" y="750.36" font-size="29" text-anchor="end">15</text>
<text x="729.9" y="750.56" font-size="29" text-anchor="start">1500</text>
<line x1="83.4" y1="679.2" x2="90.4" y2="679.2" stroke="#111111" stroke-width="1.3" />
<line x1="721.8" y1="679.2" x2="714.8" y2="679.2" stroke="#111111" stroke-width="1.3" />
<text x="71.9" y="689.46" font-size="29" text-anchor="end">20</text>
<text x="729.9" y="689.66" font-size="29" text-anchor="start">2000</text>
<line x1="83.4" y1="618.3" x2="90.4" y2="618.3" stroke="#111111" stroke-width="1.3" />
<line x1="721.8" y1="618.3" x2="714.8" y2="618.3" stroke="#111111" stroke-width="1.3" />
<text x="71.9" y="628.56" font-size="29" text-anchor="end">25</text>
<text x="729.9" y="628.76" font-size="29" text-anchor="start">2500</text>
<line x1="83.4" y1="1044.6" x2="83.4" y2="1037.6" stroke="#111111" stroke-width="1.3" />
<text x="83.4" y="1081.5" font-size="28.5" text-anchor="middle">0</text>
<line x1="243" y1="1044.6" x2="243" y2="1037.6" stroke="#111111" stroke-width="1.3" />
<text x="243" y="1081.5" font-size="28.5" text-anchor="middle">0.5</text>
<line x1="402.6" y1="1044.6" x2="402.6" y2="1037.6" stroke="#111111" stroke-width="1.3" />
<text x="402.6" y="1081.5" font-size="28.5" text-anchor="middle">1</text>
<line x1="562.2" y1="1044.6" x2="562.2" y2="1037.6" stroke="#111111" stroke-width="1.3" />
<text x="562.2" y="1081.5" font-size="28.5" text-anchor="middle">1.5</text>
<line x1="721.8" y1="1044.6" x2="721.8" y2="1037.6" stroke="#111111" stroke-width="1.3" />
<text x="721.8" y="1081.5" font-size="28.5" text-anchor="middle">2</text>
<text x="21.8" y="831.7" font-size="32" text-anchor="middle" transform="rotate(-90 21.8 831.7)">Current/A</text>
<text transform="translate(842.5 835) rotate(-90)" font-size="32" text-anchor="middle">Speed/r·min<tspan font-size="21" dy="-18">-1</tspan></text>
<text x="403.2" y="1120.1" font-size="32.2" text-anchor="middle">Time/s</text>
<text x="388.5" y="1198.8" font-size="36" text-anchor="middle">(b)</text>
<rect x="499.3" y="609.1" width="217.4" height="55.9" fill="#fff" stroke="#262626" stroke-width="1.3"/>
<path d="M505.7 624.5 L566.7 624.5" fill="none" stroke="#000000" stroke-width="4.4" stroke-linecap="butt" stroke-linejoin="round" stroke-dasharray="11.5 3.5 6 3.3"/>
<path d="M505.7 649.6 L566.7 649.6" fill="none" stroke="#ff0000" stroke-width="4.5" stroke-linecap="butt" stroke-linejoin="round"/>
<text x="572" y="631.9" font-size="20.4" text-anchor="start">Current of motor</text>
<text x="572" y="656.9" font-size="20.4" text-anchor="start">Speed of motor</text>
<rect x="82.7" y="625.5" width="29.2" height="311.4" fill="none" stroke="#000" stroke-width="2.2"/>
<rect x="371.1" y="826.6" width="70.4" height="199.2" fill="none" stroke="#000" stroke-width="2.0"/>
<line x1="112.5" y1="895.4" x2="158.47" y2="932.15" stroke="#000" stroke-width="1.3" />
<path d="M169.8 941.2 L148.01 934.03 L158.47 932.15 L158 921.53 Z" fill="#000"/>
<line x1="399.9" y1="826.5" x2="390.31" y2="795.65" stroke="#000" stroke-width="1.3" />
<path d="M386 781.8 L400.02 799.95 L390.31 795.65 L384.74 804.71 Z" fill="#000"/>
<rect x="328.8" y="665.2" width="143" height="118.6" fill="#fff" stroke="#000" stroke-width="2.2"/>
<path d="M361.7 715 L361.9 715.25 L362.1 715.5 L362.3 715.75 L362.5 716 L362.7 716.24 L362.9 716.49 L363.11 716.73 L363.31 716.98 L363.51 717.22 L363.71 717.46 L363.91 717.7 L364.11 717.94 L364.31 718.18 L364.51 718.42 L364.71 718.66 L364.91 718.89 L365.11 719.13 L365.31 719.36 L365.51 719.59 L365.72 719.83 L365.92 720.06 L366.12 720.29 L366.32 720.51 L366.52 720.74 L366.72 720.97 L366.92 721.19 L367.12 721.42 L367.32 721.64 L367.52 721.86 L367.72 722.08 L367.92 722.3 L368.12 722.52 L368.32 722.73 L368.53 722.95 L368.73 723.17 L368.93 723.39 L369.13 723.61 L369.33 723.82 L369.53 724.04 L369.73 724.26 L369.93 724.48 L370.13 724.69 L370.33 724.91 L370.53 725.13 L370.73 725.34 L370.93 725.55 L371.14 725.77 L371.34 725.98 L371.54 726.19 L371.74 726.4 L371.94 726.61 L372.14 726.81 L372.34 727.02 L372.54 727.22 L372.74 727.42 L372.94 727.62 L373.14 727.82 L373.34 728.02 L373.54 728.21 L373.75 728.4 L373.95 728.59 L374.15 728.77 L374.35 728.95 L374.55 729.13 L374.75 729.31 L374.95 729.48 L375.15 729.65 L375.35 729.82 L375.55 729.98 L375.75 730.14 L375.95 730.3 L376.15 730.45 L376.35 730.61 L376.56 730.76 L376.76 730.91 L376.96 731.05 L377.16 731.2 L377.36 731.34 L377.56 731.48 L377.76 731.61 L377.96 731.75 L378.16 731.88 L378.36 732.01 L378.56 732.14 L378.76 732.27 L378.96 732.39 L379.17 732.51 L379.37 732.63 L379.57 732.75 L379.77 732.87 L379.97 732.98 L380.17 733.1 L380.37 733.21 L380.57 733.33 L380.77 733.45 L380.97 733.57 L381.17 733.69 L381.37 733.8 L381.57 733.92 L381.78 734.02 L381.98 734.13 L382.18 734.22 L382.38 734.31 L382.58 734.39 L382.78 734.47 L382.98 734.53 L383.18 734.58 L383.38 734.61 L383.58 734.65 L383.78 734.68 L383.98 734.72 L384.18 734.75 L384.38 734.78 L384.59 734.81 L384.79 734.84 L384.99 734.86 L385.19 734.89 L385.39 734.91 L385.59 734.93 L385.79 734.95 L385.99 734.96 L386.19 734.98 L386.39 734.99 L386.59 734.99 L386.79 735 L386.99 735 L387.2 734.99 L387.4 734.98 L387.6 734.95 L387.8 734.92 L388 734.87 L388.2 734.82 L388.4 734.76 L388.6 734.69 L388.8 734.61 L389 734.53 L389.2 734.44 L389.4 734.35 L389.6 734.25 L389.81 734.14 L390.01 733.96 L390.21 733.73 L390.41 733.45 L390.61 733.13 L390.81 732.79 L391.01 732.42 L391.21 732.04 L391.41 731.66 L391.61 731.28 L391.81 730.86 L392.01 730.39 L392.21 729.9 L392.42 729.39 L392.62 728.89 L392.82 728.41 L393.02 727.96 L393.22 727.54 L393.42 727.12 L393.62 726.71 L393.82 726.32 L394.02 725.94 L394.22 725.57 L394.42 725.19 L394.62 724.8 L394.82 724.43 L395.02 724.08 L395.23 723.79 L395.43 723.56 L395.63 723.4 L395.83 723.25 L396.03 723.11 L396.23 722.97 L396.43 722.86 L396.63 722.76 L396.83 722.68 L397.03 722.63 L397.23 722.6 L397.43 722.61 L397.63 722.64 L397.84 722.7 L398.04 722.77 L398.24 722.87 L398.44 722.97 L398.64 723.09 L398.84 723.2 L399.04 723.32 L399.24 723.47 L399.44 723.64 L399.64 723.84 L399.84 724.05 L400.04 724.28 L400.24 724.51 L400.45 724.74 L400.65 724.97 L400.85 725.2 L401.05 725.45 L401.25 725.71 L401.45 725.99 L401.65 726.27 L401.85 726.59 L402.05 726.95 L402.25 727.32 L402.45 727.71 L402.65 728.1 L402.85 728.47 L403.05 728.83 L403.26 729.16 L403.46 729.44 L403.66 729.7 L403.86 729.96 L404.06 730.23 L404.26 730.49 L404.46 730.74 L404.66 730.98 L404.86 731.2 L405.06 731.39 L405.26 731.56 L405.46 731.68 L405.66 731.76 L405.87 731.8 L406.07 731.79 L406.27 731.78 L406.47 731.75 L406.67 731.7 L406.87 731.66 L407.07 731.6 L407.27 731.54 L407.47 731.47 L407.67 731.41 L407.87 731.34 L408.07 731.28 L408.27 731.2 L408.48 731.13 L408.68 731.04 L408.88 730.95 L409.08 730.85 L409.28 730.75 L409.48 730.64 L409.68 730.53 L409.88 730.41 L410.08 730.3 L410.28 730.18 L410.48 730.06 L410.68 729.95 L410.88 729.83 L411.08 729.72 L411.29 729.61 L411.49 729.5 L411.69 729.39 L411.89 729.28 L412.09 729.16 L412.29 729.05 L412.49 728.94 L412.69 728.83 L412.89 728.71 L413.09 728.59 L413.29 728.48 L413.49 728.36 L413.69 728.24 L413.9 728.13 L414.1 728.01 L414.3 727.89 L414.5 727.77 L414.7 727.64 L414.9 727.52 L415.1 727.4" fill="none" stroke="#000000" stroke-width="4.0" stroke-linecap="butt" stroke-linejoin="round" stroke-dasharray="11.6 2.8 6 2.3" clip-path="url(#cbu)"/>
<path d="M361.7 742 L361.9 742.04 L362.1 742.08 L362.3 742.12 L362.5 742.15 L362.7 742.19 L362.9 742.23 L363.11 742.27 L363.31 742.31 L363.51 742.34 L363.71 742.38 L363.91 742.42 L364.11 742.46 L364.31 742.5 L364.51 742.53 L364.71 742.57 L364.91 742.61 L365.11 742.65 L365.31 742.69 L365.51 742.72 L365.72 742.76 L365.92 742.8 L366.12 742.84 L366.32 742.87 L366.52 742.91 L366.72 742.95 L366.92 742.99 L367.12 743.02 L367.32 743.06 L367.52 743.1 L367.72 743.14 L367.92 743.17 L368.12 743.21 L368.32 743.25 L368.53 743.29 L368.73 743.33 L368.93 743.37 L369.13 743.41 L369.33 743.44 L369.53 743.48 L369.73 743.52 L369.93 743.56 L370.13 743.6 L370.33 743.64 L370.53 743.67 L370.73 743.71 L370.93 743.75 L371.14 743.79 L371.34 743.82 L371.54 743.86 L371.74 743.9 L371.94 743.93 L372.14 743.97 L372.34 744 L372.54 744.03 L372.74 744.07 L372.94 744.1 L373.14 744.13 L373.34 744.16 L373.54 744.19 L373.75 744.22 L373.95 744.25 L374.15 744.28 L374.35 744.31 L374.55 744.34 L374.75 744.37 L374.95 744.4 L375.15 744.43 L375.35 744.46 L375.55 744.49 L375.75 744.52 L375.95 744.55 L376.15 744.58 L376.35 744.61 L376.56 744.64 L376.76 744.67 L376.96 744.69 L377.16 744.72 L377.36 744.75 L377.56 744.77 L377.76 744.8 L377.96 744.82 L378.16 744.84 L378.36 744.86 L378.56 744.89 L378.76 744.91 L378.96 744.92 L379.17 744.94 L379.37 744.96 L379.57 744.97 L379.77 744.99 L379.97 745 L380.17 745.01 L380.37 745.02 L380.57 745.03 L380.77 745.04 L380.97 745.05 L381.17 745.06 L381.37 745.08 L381.57 745.09 L381.78 745.1 L381.98 745.11 L382.18 745.11 L382.38 745.12 L382.58 745.13 L382.78 745.14 L382.98 745.15 L383.18 745.16 L383.38 745.16 L383.58 745.17 L383.78 745.18 L383.98 745.18 L384.18 745.19 L384.38 745.19 L384.59 745.19 L384.79 745.2 L384.99 745.2 L385.19 745.2 L385.39 745.2 L385.59 745.2 L385.79 745.19 L385.99 745.18 L386.19 745.17 L386.39 745.15 L386.59 745.13 L386.79 745.1 L386.99 745.08 L387.2 745.05 L387.4 745.01 L387.6 744.98 L387.8 744.94 L388 744.9 L388.2 744.86 L388.4 744.82 L388.6 744.78 L388.8 744.72 L389 744.65 L389.2 744.56 L389.4 744.46 L389.6 744.36 L389.81 744.24 L390.01 744.12 L390.21 743.99 L390.41 743.86 L390.61 743.73 L390.81 743.59 L391.01 743.45 L391.21 743.3 L391.41 743.14 L391.61 742.97 L391.81 742.79 L392.01 742.6 L392.21 742.4 L392.42 742.18 L392.62 741.96 L392.82 741.72 L393.02 741.48 L393.22 741.22 L393.42 740.94 L393.62 740.64 L393.82 740.32 L394.02 739.98 L394.22 739.62 L394.42 739.23 L394.62 738.81 L394.82 738.36 L395.02 737.89 L395.23 737.36 L395.43 736.72 L395.63 735.98 L395.83 735.17 L396.03 734.31 L396.23 733.43 L396.43 732.55 L396.63 731.69 L396.83 730.88 L397.03 730.12 L397.23 729.41 L397.43 728.7 L397.63 727.99 L397.84 727.23 L398.04 726.42 L398.24 725.52 L398.44 724.5 L398.64 723.21 L398.84 721.68 L399.04 720.03 L399.24 718.39 L399.44 716.89 L399.64 715.59 L399.84 714.36 L400.04 713.18 L400.24 712.06 L400.45 710.99 L400.65 709.92 L400.85 708.81 L401.05 707.75 L401.25 706.82 L401.45 706.13 L401.65 705.66 L401.85 705.22 L402.05 704.84 L402.25 704.52 L402.45 704.3 L402.65 704.2 L402.85 704.2 L403.05 704.22 L403.26 704.24 L403.46 704.28 L403.66 704.32 L403.86 704.36 L404.06 704.42 L404.26 704.51 L404.46 704.65 L404.66 704.83 L404.86 705.02 L405.06 705.22 L405.26 705.41 L405.46 705.57 L405.66 705.72 L405.87 705.86 L406.07 705.99 L406.27 706.12 L406.47 706.25 L406.67 706.38 L406.87 706.51 L407.07 706.65 L407.27 706.79 L407.47 706.94 L407.67 707.08 L407.87 707.23 L408.07 707.38 L408.27 707.53 L408.48 707.67 L408.68 707.8 L408.88 707.93 L409.08 708.04 L409.28 708.16 L409.48 708.27 L409.68 708.37 L409.88 708.48 L410.08 708.57 L410.28 708.67 L410.48 708.76 L410.68 708.85 L410.88 708.94 L411.08 709.02 L411.29 709.09 L411.49 709.17 L411.69 709.24 L411.89 709.31 L412.09 709.38 L412.29 709.45 L412.49 709.52 L412.69 709.58 L412.89 709.65 L413.09 709.71 L413.29 709.77 L413.49 709.83 L413.69 709.88 L413.9 709.94 L414.1 709.99 L414.3 710.04 L414.5 710.08 L414.7 710.12 L414.9 710.16 L415.1 710.2" fill="none" stroke="#ff0000" stroke-width="4.3" stroke-linecap="butt" stroke-linejoin="round" clip-path="url(#cbu)"/>
<line x1="362" y1="678.3" x2="362" y2="751.7" stroke="#111111" stroke-width="1.3" />
<line x1="413.8" y1="678.3" x2="413.8" y2="751.7" stroke="#111111" stroke-width="1.3" />
<line x1="362" y1="751.7" x2="413.8" y2="751.7" stroke="#111111" stroke-width="1.3" />
<line x1="362" y1="737.9" x2="364" y2="737.9" stroke="#111111" stroke-width="1.3" />
<line x1="362" y1="708.5" x2="364" y2="708.5" stroke="#111111" stroke-width="1.3" />
<line x1="362" y1="679.1" x2="364" y2="679.1" stroke="#111111" stroke-width="1.3" />
<line x1="362" y1="751.7" x2="362" y2="749.7" stroke="#111111" stroke-width="1.3" />
<line x1="395.9" y1="751.7" x2="395.9" y2="749.7" stroke="#111111" stroke-width="1.3" />
<text x="351.8" y="686.06" font-size="20" text-anchor="end">20</text>
<text x="351.8" y="715.46" font-size="20" text-anchor="end">10</text>
<text x="351.8" y="744.56" font-size="20" text-anchor="end">0</text>
<text x="421.8" y="686.26" font-size="20" text-anchor="start">2000</text>
<text x="421.8" y="710.56" font-size="20" text-anchor="start">1000</text>
<text x="421.8" y="734.86" font-size="20" text-anchor="start">0</text>
<text x="421.8" y="759.16" font-size="20" text-anchor="start">-1000</text>
<text x="360.9" y="779.66" font-size="20" text-anchor="middle">0.8</text>
<text x="395.9" y="779.66" font-size="20" text-anchor="middle">1</text>
<rect x="91.1" y="942.7" width="177" height="96.9" fill="#fff" stroke="#262626" stroke-width="1.3"/>
<path d="M123.2 1010.2 L123.4 1007.94 L123.6 1005.84 L123.8 1003.99 L124 1002.39 L124.2 1000.96 L124.4 999.62 L124.6 998.31 L124.8 996.98 L125 995.59 L125.2 994.19 L125.4 992.8 L125.61 991.44 L125.81 990.16 L126.01 988.97 L126.21 987.84 L126.41 986.75 L126.61 985.73 L126.81 984.79 L127.01 983.97 L127.21 983.23 L127.41 982.53 L127.61 981.88 L127.81 981.28 L128.01 980.71 L128.21 980.19 L128.41 979.7 L128.61 979.25 L128.81 978.82 L129.01 978.39 L129.21 977.99 L129.41 977.61 L129.61 977.25 L129.81 976.92 L130.01 976.64 L130.21 976.39 L130.42 976.19 L130.62 976 L130.82 975.83 L131.02 975.66 L131.22 975.51 L131.42 975.38 L131.62 975.28 L131.82 975.22 L132.02 975.2 L132.22 975.2 L132.42 975.21 L132.62 975.21 L132.82 975.22 L133.02 975.24 L133.22 975.25 L133.42 975.27 L133.62 975.29 L133.82 975.33 L134.02 975.44 L134.22 975.61 L134.42 975.84 L134.62 976.12 L134.82 976.42 L135.03 976.74 L135.23 977.07 L135.43 977.39 L135.63 977.7 L135.83 978.06 L136.03 978.44 L136.23 978.86 L136.43 979.3 L136.63 979.76 L136.83 980.23 L137.03 980.7 L137.23 981.17 L137.43 981.63 L137.63 982.07 L137.83 982.49 L138.03 982.87 L138.23 983.24 L138.43 983.6 L138.63 983.95 L138.83 984.3 L139.03 984.65 L139.23 984.99 L139.43 985.33 L139.63 985.65 L139.84 985.96 L140.04 986.27 L140.24 986.55 L140.44 986.83 L140.64 987.08 L140.84 987.32 L141.04 987.54 L141.24 987.75 L141.44 987.95 L141.64 988.14 L141.84 988.33 L142.04 988.51 L142.24 988.69 L142.44 988.85 L142.64 989.02 L142.84 989.18 L143.04 989.33 L143.24 989.48 L143.44 989.62 L143.64 989.76 L143.84 989.9 L144.04 990.03 L144.24 990.16 L144.44 990.28 L144.65 990.41 L144.85 990.53 L145.05 990.64 L145.25 990.76 L145.45 990.87 L145.65 990.98 L145.85 991.08 L146.05 991.18 L146.25 991.28 L146.45 991.38 L146.65 991.48 L146.85 991.57 L147.05 991.66 L147.25 991.75 L147.45 991.84 L147.65 991.93 L147.85 992.02 L148.05 992.1 L148.25 992.19 L148.45 992.27 L148.65 992.36 L148.85 992.44 L149.05 992.52 L149.26 992.61 L149.46 992.69 L149.66 992.77 L149.86 992.85 L150.06 992.93 L150.26 993.01 L150.46 993.08 L150.66 993.16 L150.86 993.24 L151.06 993.31 L151.26 993.39 L151.46 993.46 L151.66 993.53 L151.86 993.6 L152.06 993.67 L152.26 993.75 L152.46 993.82 L152.66 993.88 L152.86 993.95 L153.06 994.02 L153.26 994.09 L153.46 994.16 L153.66 994.22 L153.86 994.29 L154.07 994.35 L154.27 994.42 L154.47 994.49 L154.67 994.55 L154.87 994.62 L155.07 994.68 L155.27 994.75 L155.47 994.81 L155.67 994.88 L155.87 994.94 L156.07 995 L156.27 995.06 L156.47 995.13 L156.67 995.19 L156.87 995.25 L157.07 995.3 L157.27 995.36 L157.47 995.42 L157.67 995.47 L157.87 995.53 L158.07 995.58 L158.27 995.63 L158.47 995.68 L158.68 995.73 L158.88 995.77 L159.08 995.82 L159.28 995.86 L159.48 995.9 L159.68 995.95 L159.88 995.99 L160.08 996.03 L160.28 996.07 L160.48 996.11 L160.68 996.15 L160.88 996.18 L161.08 996.22 L161.28 996.26 L161.48 996.29 L161.68 996.33 L161.88 996.37 L162.08 996.4 L162.28 996.43 L162.48 996.47 L162.68 996.5 L162.88 996.53 L163.08 996.56 L163.28 996.59 L163.49 996.63 L163.69 996.66 L163.89 996.68 L164.09 996.71 L164.29 996.74 L164.49 996.77 L164.69 996.8 L164.89 996.83 L165.09 996.85 L165.29 996.88 L165.49 996.91 L165.69 996.93 L165.89 996.96 L166.09 996.99 L166.29 997.01 L166.49 997.04 L166.69 997.06 L166.89 997.09 L167.09 997.11 L167.29 997.14 L167.49 997.16 L167.69 997.18 L167.89 997.21 L168.09 997.23 L168.3 997.25 L168.5 997.27 L168.7 997.3 L168.9 997.32 L169.1 997.34 L169.3 997.36 L169.5 997.38 L169.7 997.39 L169.9 997.41 L170.1 997.43 L170.3 997.45 L170.5 997.46 L170.7 997.48 L170.9 997.49 L171.1 997.51 L171.3 997.52 L171.5 997.54 L171.7 997.55 L171.9 997.56 L172.1 997.58 L172.3 997.59 L172.5 997.61 L172.7 997.62 L172.91 997.63 L173.11 997.65 L173.31 997.66 L173.51 997.67 L173.71 997.69 L173.91 997.7 L174.11 997.71 L174.31 997.73 L174.51 997.74 L174.71 997.75 L174.91 997.76 L175.11 997.77 L175.31 997.78 L175.51 997.8 L175.71 997.81 L175.91 997.82 L176.11 997.83 L176.31 997.83 L176.51 997.84 L176.71 997.85 L176.91 997.86 L177.11 997.87 L177.31 997.87 L177.51 997.88 L177.72 997.88 L177.92 997.89 L178.12 997.89 L178.32 997.89 L178.52 997.9 L178.72 997.9 L178.92 997.9 L179.12 997.9 L179.32 997.9 L179.52 997.9 L179.72 997.9 L179.92 997.9 L180.12 997.9 L180.32 997.9 L180.52 997.9 L180.72 997.9 L180.92 997.9 L181.12 997.9 L181.32 997.9 L181.52 997.9 L181.72 997.9 L181.92 997.9 L182.12 997.9 L182.32 997.9 L182.53 997.9 L182.73 997.9 L182.93 997.9 L183.13 997.9 L183.33 997.9 L183.53 997.9 L183.73 997.9 L183.93 997.9 L184.13 997.9 L184.33 997.9 L184.53 997.9 L184.73 997.9 L184.93 997.9 L185.13 997.9 L185.33 997.9 L185.53 997.9 L185.73 997.9 L185.93 997.9 L186.13 997.9 L186.33 997.9 L186.53 997.9 L186.73 997.9 L186.93 997.9 L187.14 997.9 L187.34 997.9 L187.54 997.9 L187.74 997.9 L187.94 997.9 L188.14 997.9 L188.34 997.9 L188.54 997.9 L188.74 997.9 L188.94 997.9 L189.14 997.9 L189.34 997.9 L189.54 997.9 L189.74 997.9 L189.94 997.9 L190.14 997.9 L190.34 997.9 L190.54 997.9 L190.74 997.9 L190.94 997.9 L191.14 997.9 L191.34 997.9 L191.54 997.9 L191.74 997.9 L191.95 997.9 L192.15 997.9 L192.35 997.9 L192.55 997.9 L192.75 997.9 L192.95 997.9 L193.15 997.9 L193.35 997.9 L193.55 997.9 L193.75 997.9 L193.95 997.9 L194.15 997.9 L194.35 997.9 L194.55 997.9 L194.75 997.9 L194.95 997.9 L195.15 997.9 L195.35 997.9 L195.55 997.9 L195.75 997.9 L195.95 997.9 L196.15 997.9 L196.35 997.9 L196.56 997.9 L196.76 997.9 L196.96 997.9 L197.16 997.9 L197.36 997.9 L197.56 997.9 L197.76 997.9 L197.96 997.89 L198.16 997.89 L198.36 997.89 L198.56 997.89 L198.76 997.89 L198.96 997.89 L199.16 997.89 L199.36 997.89 L199.56 997.88 L199.76 997.88 L199.96 997.88 L200.16 997.88 L200.36 997.88 L200.56 997.87 L200.76 997.87 L200.96 997.87 L201.16 997.87 L201.37 997.87 L201.57 997.86 L201.77 997.86 L201.97 997.86 L202.17 997.86 L202.37 997.85 L202.57 997.85 L202.77 997.85 L202.97 997.84 L203.17 997.84 L203.37 997.84 L203.57 997.84 L203.77 997.83 L203.97 997.83 L204.17 997.83 L204.37 997.82 L204.57 997.82 L204.77 997.82 L204.97 997.81 L205.17 997.81 L205.37 997.8 L205.57 997.8 L205.77 997.8 L205.98 997.79 L206.18 997.79 L206.38 997.79 L206.58 997.78 L206.78 997.78 L206.98 997.77 L207.18 997.77 L207.38 997.77 L207.58 997.76 L207.78 997.76 L207.98 997.75 L208.18 997.75 L208.38 997.74 L208.58 997.74 L208.78 997.74 L208.98 997.73 L209.18 997.73 L209.38 997.72 L209.58 997.72 L209.78 997.71 L209.98 997.71 L210.18 997.7 L210.38 997.7 L210.58 997.69 L210.79 997.69 L210.99 997.68 L211.19 997.68 L211.39 997.67 L211.59 997.67 L211.79 997.66 L211.99 997.66 L212.19 997.65 L212.39 997.65 L212.59 997.64 L212.79 997.64 L212.99 997.63 L213.19 997.63 L213.39 997.62 L213.59 997.62 L213.79 997.61 L213.99 997.61 L214.19 997.6 L214.39 997.59 L214.59 997.59 L214.79 997.58 L214.99 997.58 L215.19 997.57 L215.39 997.57 L215.6 997.56 L215.8 997.56 L216 997.55 L216.2 997.55 L216.4 997.54 L216.6 997.53 L216.8 997.53 L217 997.52 L217.2 997.52 L217.4 997.51 L217.6 997.51 L217.8 997.5" fill="none" stroke="#000000" stroke-width="4.0" stroke-linecap="butt" stroke-linejoin="round" stroke-dasharray="11.6 2.8 6 2.3" clip-path="url(#cbl)"/>
<path d="M123.2 1011.2 L123.4 1011.18 L123.6 1011.16 L123.8 1011.14 L124 1011.12 L124.2 1011.1 L124.4 1011.07 L124.6 1011.04 L124.81 1011.01 L125.01 1010.98 L125.21 1010.95 L125.41 1010.91 L125.61 1010.88 L125.81 1010.84 L126.01 1010.8 L126.21 1010.76 L126.41 1010.72 L126.61 1010.68 L126.81 1010.64 L127.01 1010.6 L127.21 1010.55 L127.41 1010.51 L127.61 1010.46 L127.81 1010.4 L128.02 1010.35 L128.22 1010.29 L128.42 1010.23 L128.62 1010.17 L128.82 1010.11 L129.02 1010.04 L129.22 1009.97 L129.42 1009.9 L129.62 1009.83 L129.82 1009.76 L130.02 1009.68 L130.22 1009.61 L130.42 1009.53 L130.62 1009.45 L130.82 1009.37 L131.02 1009.29 L131.23 1009.21 L131.43 1009.13 L131.63 1009.05 L131.83 1008.96 L132.03 1008.87 L132.23 1008.78 L132.43 1008.69 L132.63 1008.59 L132.83 1008.49 L133.03 1008.39 L133.23 1008.29 L133.43 1008.19 L133.63 1008.08 L133.83 1007.97 L134.03 1007.86 L134.23 1007.75 L134.44 1007.63 L134.64 1007.52 L134.84 1007.4 L135.04 1007.28 L135.24 1007.16 L135.44 1007.04 L135.64 1006.92 L135.84 1006.8 L136.04 1006.68 L136.24 1006.55 L136.44 1006.43 L136.64 1006.3 L136.84 1006.17 L137.04 1006.04 L137.24 1005.91 L137.44 1005.77 L137.65 1005.64 L137.85 1005.5 L138.05 1005.36 L138.25 1005.21 L138.45 1005.07 L138.65 1004.92 L138.85 1004.77 L139.05 1004.62 L139.25 1004.46 L139.45 1004.3 L139.65 1004.14 L139.85 1003.98 L140.05 1003.81 L140.25 1003.64 L140.45 1003.47 L140.65 1003.29 L140.86 1003.1 L141.06 1002.91 L141.26 1002.72 L141.46 1002.52 L141.66 1002.32 L141.86 1002.12 L142.06 1001.91 L142.26 1001.69 L142.46 1001.48 L142.66 1001.26 L142.86 1001.03 L143.06 1000.81 L143.26 1000.58 L143.46 1000.35 L143.66 1000.11 L143.86 999.88 L144.07 999.64 L144.27 999.4 L144.47 999.15 L144.67 998.91 L144.87 998.66 L145.07 998.41 L145.27 998.16 L145.47 997.91 L145.67 997.64 L145.87 997.38 L146.07 997.11 L146.27 996.84 L146.47 996.56 L146.67 996.28 L146.87 995.99 L147.07 995.71 L147.28 995.41 L147.48 995.12 L147.68 994.82 L147.88 994.53 L148.08 994.22 L148.28 993.92 L148.48 993.61 L148.68 993.31 L148.88 993 L149.08 992.69 L149.28 992.37 L149.48 992.05 L149.68 991.73 L149.88 991.4 L150.08 991.07 L150.28 990.73 L150.49 990.39 L150.69 990.04 L150.89 989.7 L151.09 989.35 L151.29 988.99 L151.49 988.64 L151.69 988.29 L151.89 987.94 L152.09 987.58 L152.29 987.23 L152.49 986.88 L152.69 986.53 L152.89 986.18 L153.09 985.84 L153.29 985.5 L153.49 985.16 L153.7 984.83 L153.9 984.5 L154.1 984.17 L154.3 983.84 L154.5 983.51 L154.7 983.17 L154.9 982.84 L155.1 982.51 L155.3 982.17 L155.5 981.83 L155.7 981.48 L155.9 981.13 L156.1 980.78 L156.3 980.42 L156.5 980.05 L156.71 979.67 L156.91 979.29 L157.11 978.89 L157.31 978.49 L157.51 978.07 L157.71 977.64 L157.91 977.2 L158.11 976.76 L158.31 976.31 L158.51 975.86 L158.71 975.4 L158.91 974.94 L159.11 974.49 L159.31 974.03 L159.51 973.58 L159.71 973.13 L159.92 972.69 L160.12 972.25 L160.32 971.82 L160.52 971.4 L160.72 970.98 L160.92 970.56 L161.12 970.14 L161.32 969.72 L161.52 969.29 L161.72 968.86 L161.92 968.42 L162.12 967.98 L162.32 967.52 L162.52 967.04 L162.72 966.56 L162.92 966.06 L163.13 965.55 L163.33 965.02 L163.53 964.49 L163.73 963.95 L163.93 963.41 L164.13 962.86 L164.33 962.31 L164.53 961.75 L164.73 961.19 L164.93 960.64 L165.13 960.07 L165.33 959.5 L165.53 958.93 L165.73 958.34 L165.93 957.76 L166.13 957.17 L166.34 956.58 L166.54 955.98 L166.74 955.39 L166.94 954.79 L167.14 954.17 L167.34 953.54 L167.54 952.89 L167.74 952.25 L167.94 951.62 L168.14 951.01 L168.34 950.43 L168.54 949.89 L168.74 949.3 L168.94 948.67 L169.14 948.08 L169.34 947.6 L169.55 947.28 L169.75 947.2 L169.95 947.23 L170.15 947.3 L170.35 947.4 L170.55 947.52 L170.75 947.64 L170.95 947.77 L171.15 947.89 L171.35 948.03 L171.55 948.19 L171.75 948.35 L171.95 948.53 L172.15 948.72 L172.35 948.91 L172.55 949.11 L172.76 949.32 L172.96 949.53 L173.16 949.74 L173.36 949.95 L173.56 950.16 L173.76 950.36 L173.96 950.56 L174.16 950.76 L174.36 950.95 L174.56 951.15 L174.76 951.35 L174.96 951.55 L175.16 951.76 L175.36 951.96 L175.56 952.17 L175.76 952.37 L175.97 952.58 L176.17 952.78 L176.37 952.99 L176.57 953.2 L176.77 953.41 L176.97 953.62 L177.17 953.82 L177.37 954.03 L177.57 954.24 L177.77 954.45 L177.97 954.65 L178.17 954.86 L178.37 955.07 L178.57 955.27 L178.77 955.47 L178.97 955.67 L179.18 955.88 L179.38 956.08 L179.58 956.27 L179.78 956.47 L179.98 956.67 L180.18 956.87 L180.38 957.06 L180.58 957.26 L180.78 957.46 L180.98 957.65 L181.18 957.85 L181.38 958.04 L181.58 958.24 L181.78 958.43 L181.98 958.62 L182.18 958.82 L182.39 959.01 L182.59 959.2 L182.79 959.4 L182.99 959.59 L183.19 959.78 L183.39 959.97 L183.59 960.17 L183.79 960.36 L183.99 960.55 L184.19 960.74 L184.39 960.93 L184.59 961.12 L184.79 961.32 L184.99 961.51 L185.19 961.7 L185.39 961.89 L185.6 962.09 L185.8 962.28 L186 962.47 L186.2 962.66 L186.4 962.86 L186.6 963.05 L186.8 963.24 L187 963.44 L187.2 963.63 L187.4 963.83 L187.6 964.02 L187.8 964.22 L188 964.42 L188.2 964.61 L188.4 964.81 L188.61 965.01 L188.81 965.21 L189.01 965.4 L189.21 965.6 L189.41 965.8 L189.61 966 L189.81 966.21 L190.01 966.41 L190.21 966.61 L190.41 966.81 L190.61 967.02 L190.81 967.22 L191.01 967.42 L191.21 967.62 L191.41 967.82 L191.61 968.03 L191.82 968.23 L192.02 968.43 L192.22 968.63 L192.42 968.83 L192.62 969.03 L192.82 969.24 L193.02 969.44 L193.22 969.64 L193.42 969.84 L193.62 970.04 L193.82 970.25 L194.02 970.45 L194.22 970.65 L194.42 970.86 L194.62 971.06 L194.82 971.27 L195.03 971.47 L195.23 971.68 L195.43 971.88 L195.63 972.09 L195.83 972.3 L196.03 972.51 L196.23 972.71 L196.43 972.92 L196.63 973.13 L196.83 973.35 L197.03 973.56 L197.23 973.77 L197.43 973.98 L197.63 974.2 L197.83 974.41 L198.03 974.63 L198.24 974.85 L198.44 975.07 L198.64 975.29 L198.84 975.51 L199.04 975.73 L199.24 975.95 L199.44 976.17 L199.64 976.4 L199.84 976.63 L200.04 976.85 L200.24 977.08 L200.44 977.32 L200.64 977.55 L200.84 977.78 L201.04 978.02 L201.24 978.25 L201.45 978.5 L201.65 978.75 L201.85 979.01 L202.05 979.27 L202.25 979.54 L202.45 979.81 L202.65 980.08 L202.85 980.35 L203.05 980.61 L203.25 980.88 L203.45 981.13 L203.65 981.39 L203.85 981.63 L204.05 981.86 L204.25 982.09 L204.45 982.32 L204.66 982.54 L204.86 982.76 L205.06 982.97 L205.26 983.19 L205.46 983.4 L205.66 983.6 L205.86 983.8 L206.06 984 L206.26 984.19 L206.46 984.38 L206.66 984.57 L206.86 984.74 L207.06 984.92 L207.26 985.1 L207.46 985.28 L207.66 985.45 L207.87 985.62 L208.07 985.78 L208.27 985.94 L208.47 986.1 L208.67 986.25 L208.87 986.39 L209.07 986.53 L209.27 986.66 L209.47 986.78 L209.67 986.9 L209.87 987.01 L210.07 987.12 L210.27 987.23 L210.47 987.33 L210.67 987.43 L210.87 987.52 L211.08 987.61 L211.28 987.7 L211.48 987.79 L211.68 987.87 L211.88 987.95 L212.08 988.02 L212.28 988.09 L212.48 988.16 L212.68 988.23 L212.88 988.3 L213.08 988.37 L213.28 988.43 L213.48 988.5 L213.68 988.56 L213.88 988.63 L214.08 988.69 L214.29 988.76 L214.49 988.82 L214.69 988.88 L214.89 988.94 L215.09 989 L215.29 989.06 L215.49 989.11 L215.69 989.17 L215.89 989.22 L216.09 989.27 L216.29 989.32 L216.49 989.37 L216.69 989.42 L216.89 989.46 L217.09 989.5 L217.29 989.55 L217.5 989.59 L217.7 989.62 L217.9 989.66 L218.1 989.69 L218.3 989.72 L218.5 989.75 L218.7 989.78 L218.9 989.8" fill="none" stroke="#ff0000" stroke-width="4.3" stroke-linecap="butt" stroke-linejoin="round"/>
<line x1="123.2" y1="943.3" x2="123.2" y2="1010.2" stroke="#111111" stroke-width="1.3" />
<line x1="217.8" y1="943.3" x2="217.8" y2="1010.2" stroke="#111111" stroke-width="1.3" />
<line x1="123.2" y1="1010.2" x2="217.8" y2="1010.2" stroke="#111111" stroke-width="1.3" />
<text x="112.7" y="964.66" font-size="20" text-anchor="end">20</text>
<text x="112.7" y="991.46" font-size="20" text-anchor="end">10</text>
<text x="112.7" y="1017.66" font-size="20" text-anchor="end">0</text>
<text x="225.8" y="964.36" font-size="20" text-anchor="start">2000</text>
<text x="225.8" y="991.46" font-size="20" text-anchor="start">1000</text>
<text x="225.8" y="1018.06" font-size="20" text-anchor="start">0</text>
<text x="122.6" y="1038.16" font-size="20" text-anchor="middle">0</text>
<text x="169.7" y="1038.16" font-size="20" text-anchor="middle">0.04</text>
<text x="217" y="1038.16" font-size="20" text-anchor="middle">0.08</text>
<path d="M953 913.6 L953.3 913.32 L953.61 913.05 L953.91 912.78 L954.22 912.51 L954.52 912.26 L954.83 912.01 L955.13 911.78 L955.43 911.55 L955.74 911.34 L956.04 911.14 L956.35 910.95 L956.65 910.76 L956.96 910.57 L957.26 910.38 L957.56 910.18 L957.87 909.97 L958.17 909.75 L958.48 909.52 L958.78 909.27 L959.09 909.02 L959.39 908.77 L959.69 908.51 L960 908.24 L960.3 907.96 L960.61 907.68 L960.91 907.38 L961.22 907.06 L961.52 906.73 L961.82 906.39 L962.13 906.02 L962.43 905.64 L962.74 905.23 L963.04 904.8 L963.35 904.32 L963.65 903.81 L963.95 903.25 L964.26 902.65 L964.56 902.01 L964.87 901.33 L965.17 900.61 L965.48 899.84 L965.78 899.04 L966.08 898.21 L966.39 897.33 L966.69 896.39 L967 895.31 L967.3 894.1 L967.61 892.79 L967.91 891.4 L968.21 889.96 L968.52 888.5 L968.82 887.04 L969.13 885.6 L969.43 884.21 L969.74 882.82 L970.04 881.42 L970.34 880.01 L970.65 878.58 L970.95 877.14 L971.26 875.67 L971.56 874.19 L971.86 872.68 L972.17 871.15 L972.47 869.65 L972.78 868.15 L973.08 866.63 L973.39 865.06 L973.69 863.41 L973.99 861.65 L974.3 859.76 L974.6 857.67 L974.91 855.3 L975.21 852.71 L975.52 849.98 L975.82 847.19 L976.12 844.42 L976.43 841.75 L976.73 839.18 L977.04 836.65 L977.34 834.12 L977.65 831.55 L977.95 828.9 L978.25 826.13 L978.56 823.09 L978.86 819.72 L979.17 816.23 L979.47 812.87 L979.78 809.86 L980.08 807.41 L980.38 805.28 L980.69 803.32 L980.99 801.51 L981.3 799.84 L981.6 798.3 L981.91 796.86 L982.21 795.52 L982.51 794.24 L982.82 793.01 L983.12 791.84 L983.43 790.73 L983.73 789.68 L984.04 788.69 L984.34 787.77 L984.64 786.91 L984.95 786.13 L985.25 785.39 L985.56 784.68 L985.86 783.99 L986.17 783.32 L986.47 782.69 L986.77 782.08 L987.08 781.52 L987.38 780.99 L987.69 780.52 L987.99 780.09 L988.3 779.72 L988.6 779.4 L989 780.11 L989.4 779.29 L989.8 778.48 L990.2 777.66 L990.6 776.85 L991 776.04 L991.41 775.23 L991.81 774.43 L992.21 773.62 L992.61 772.82 L993.01 772.01 L993.41 771.21 L993.81 770.42 L994.21 769.62 L994.61 768.82 L995.01 768.03 L995.41 767.24 L995.81 766.45 L996.22 765.66 L996.62 764.87 L997.02 764.09 L997.42 763.31 L997.82 762.52 L998.22 761.74 L998.62 760.97 L999.02 760.19 L999.42 759.42 L999.82 758.64 L1000.22 757.87 L1000.62 757.1 L1001.03 756.34 L1001.43 755.57 L1001.83 754.81 L1002.23 754.04 L1002.63 753.28 L1003.03 752.53 L1003.43 751.77 L1003.83 751.02 L1004.23 750.26 L1004.63 749.51 L1005.03 748.76 L1005.43 748.02 L1005.84 747.27 L1006.24 746.53 L1006.64 745.79 L1007.04 745.05 L1007.44 744.31 L1007.84 743.57 L1008.24 742.84 L1008.64 742.11 L1009.04 741.38 L1009.44 740.65 L1009.84 739.92 L1010.24 739.2 L1010.65 738.48 L1011.05 737.76 L1011.45 737.04 L1011.85 736.32 L1012.25 735.61 L1012.65 734.9 L1013.05 734.19 L1013.45 733.48 L1013.85 732.77 L1014.25 732.07 L1014.65 731.36 L1015.05 730.66 L1015.46 729.97 L1015.86 729.27 L1016.26 728.58 L1016.66 727.88 L1017.06 727.19 L1017.46 726.51 L1017.86 725.82 L1018.26 725.14 L1018.66 724.46 L1019.06 723.78 L1019.46 723.1 L1019.86 722.42 L1020.27 721.75 L1020.67 721.08 L1021.07 720.41 L1021.47 719.75 L1021.87 719.08 L1022.27 718.42 L1022.67 717.76 L1023.07 717.1 L1023.47 716.45 L1023.87 715.79 L1024.27 715.14 L1024.67 714.49 L1025.08 713.84 L1025.48 713.2 L1025.88 712.56 L1026.28 711.92 L1026.68 711.28 L1027.08 710.64 L1027.48 710.01 L1027.88 709.38 L1028.28 708.75 L1028.68 708.12 L1029.08 707.5 L1029.48 706.88 L1029.89 706.26 L1030.29 705.64 L1030.69 705.02 L1031.09 704.41 L1031.49 703.8 L1031.89 703.19 L1032.29 702.59 L1032.69 701.98 L1033.09 701.38 L1033.49 700.78 L1033.89 700.19 L1034.29 699.59 L1034.7 699 L1035.1 698.41 L1035.5 697.83 L1035.9 697.24 L1036.3 696.66 L1036.7 696.08 L1037.1 695.5 L1037.5 694.93 L1037.9 694.36 L1038.3 693.79 L1038.7 693.22 L1039.1 692.65 L1039.51 692.09 L1039.91 691.53 L1040.31 690.97 L1040.71 690.42 L1041.11 689.87 L1041.51 689.32 L1041.91 688.77 L1042.31 688.22 L1042.71 687.68 L1043.11 687.14 L1043.51 686.6 L1043.91 686.07 L1044.32 685.54 L1044.72 685.01 L1045.12 684.48 L1045.52 683.95 L1045.92 683.43 L1046.32 682.91 L1046.72 682.4 L1047.12 681.88 L1047.52 681.37 L1047.92 680.86 L1048.32 680.35 L1048.72 679.85 L1049.13 679.35 L1049.53 678.85 L1049.93 678.35 L1050.33 677.86 L1050.73 677.37 L1051.13 676.88 L1051.53 676.4 L1051.93 675.91 L1052.33 675.43 L1052.73 674.96 L1053.13 674.48 L1053.53 674.01 L1053.94 673.54 L1054.34 673.08 L1054.74 672.61 L1055.14 672.15 L1055.54 671.69 L1055.94 671.24 L1056.34 670.79 L1056.74 670.34 L1057.14 669.89 L1057.54 669.44 L1057.94 669 L1058.34 668.56 L1058.75 668.13 L1059.15 667.7 L1059.55 667.27 L1059.95 666.84 L1060.35 666.41 L1060.75 665.99 L1061.15 665.57 L1061.55 665.16 L1061.95 664.74 L1062.35 664.33 L1062.75 663.93 L1063.15 663.52 L1063.56 663.12 L1063.96 662.72 L1064.36 662.32 L1064.76 661.93 L1065.16 661.54 L1065.56 661.15 L1065.96 660.77 L1066.36 660.39 L1066.76 660.01 L1067.16 659.63 L1067.56 659.26 L1067.96 658.89 L1068.37 658.53 L1068.77 658.16 L1069.17 657.8 L1069.57 657.44 L1069.97 657.09 L1070.37 656.74 L1070.77 656.39 L1071.17 656.04 L1071.57 655.7 L1071.97 655.36 L1072.37 655.03 L1072.77 654.69 L1073.18 654.36 L1073.58 654.04 L1073.98 653.71 L1074.38 653.39 L1074.78 653.07 L1075.18 652.76 L1075.58 652.45 L1075.98 652.14 L1076.38 651.83 L1076.78 651.53 L1077.18 651.23 L1077.58 650.93 L1077.99 650.64 L1078.39 650.35 L1078.79 650.06 L1079.19 649.78 L1079.59 649.49 L1079.99 649.22 L1080.39 648.94 L1080.79 648.67 L1081.19 648.4 L1081.59 648.13 L1081.99 647.87 L1082.39 647.61 L1082.8 647.36 L1083.2 647.1 L1083.6 646.85 L1084 646.6 L1084.4 646.36 L1084.8 646.12 L1085.2 645.88 L1085.6 645.65 L1086 645.41 L1086.4 645.18 L1086.8 644.96 L1087.2 644.74 L1087.61 644.52 L1088.01 644.3 L1088.41 644.09 L1088.81 643.88 L1089.21 643.67 L1089.61 643.46 L1090.01 643.26 L1090.41 643.06 L1090.81 642.87 L1091.21 642.68 L1091.61 642.49 L1092.01 642.3 L1092.42 642.12 L1092.82 641.94 L1093.22 641.76 L1093.62 641.59 L1094.02 641.42 L1094.42 641.25 L1094.82 641.09 L1095.22 640.93 L1095.62 640.77 L1096.02 640.62 L1096.42 640.46 L1096.82 640.32 L1097.23 640.17 L1097.63 640.03 L1098.03 639.89 L1098.43 639.75 L1098.83 639.62 L1099.23 639.49 L1099.63 639.36 L1100.03 639.24 L1100.43 639.12 L1100.83 639 L1101.23 638.88 L1101.63 638.77 L1102.04 638.66 L1102.44 638.56 L1102.84 638.46 L1103.24 638.36 L1103.64 638.26 L1104.04 638.17 L1104.44 638.08 L1104.84 637.99 L1105.24 637.91 L1105.64 637.83 L1106.04 637.75 L1106.44 637.68 L1106.85 637.6 L1107.25 637.54 L1107.65 637.47 L1108.05 637.41 L1108.45 637.35 L1108.85 637.29 L1109.25 637.24 L1109.65 637.19 L1110.05 637.15 L1110.45 637.1 L1110.85 637.06 L1111.25 637.03 L1111.66 636.99 L1112.06 636.96 L1112.46 636.93 L1112.86 636.91 L1113.26 636.89 L1113.66 636.87 L1114.06 636.85 L1114.46 636.84 L1114.86 636.83 L1115.26 636.83 L1115.66 636.82 L1116.06 636.82 L1116.47 636.83 L1116.87 636.83 L1117.27 636.84 L1117.67 636.86 L1118.07 636.87 L1118.47 636.89 L1118.87 636.91 L1119.27 636.94 L1119.67 636.97 L1120.07 637 L1120.47 637.03 L1120.87 637.07 L1121.28 637.11 L1121.68 637.15 L1122.08 637.2 L1122.48 637.25 L1122.88 637.31 L1123.28 637.36 L1123.68 637.42 L1124.08 637.48 L1124.48 637.55 L1124.88 637.62 L1125.28 637.69 L1125.68 637.77 L1126.09 637.84 L1126.49 637.93 L1126.89 638.01 L1127.29 638.1 L1127.69 638.19 L1128.09 638.28 L1128.49 638.38 L1128.89 638.48 L1129.29 638.58 L1129.69 638.69 L1130.09 638.8 L1130.49 638.91 L1130.9 639.03 L1131.3 639.15 L1131.7 639.27 L1132.1 639.39 L1132.5 639.52 L1132.9 639.65 L1133.3 639.79 L1133.7 639.93 L1134.1 640.07 L1134.5 640.21 L1134.9 640.36 L1135.3 640.51 L1135.7 640.66 L1136.11 640.82 L1136.51 640.98 L1136.91 641.14 L1137.31 641.31 L1137.71 641.47 L1138.11 641.65 L1138.51 641.82 L1138.91 642 L1139.31 642.18 L1139.71 642.37 L1140.11 642.56 L1140.51 642.75 L1140.92 642.94 L1141.32 643.14 L1141.72 643.34 L1142.12 643.54 L1142.52 643.75 L1142.92 643.96 L1143.32 644.17 L1143.72 644.39 L1144.12 644.61 L1144.52 644.83 L1144.92 645.06 L1145.32 645.28 L1145.73 645.52 L1146.13 645.75 L1146.53 645.99 L1146.93 646.23 L1147.33 646.47 L1147.73 646.72 L1148.13 646.97 L1148.53 647.22 L1148.93 647.48 L1149.33 647.74 L1149.73 648 L1150.13 648.27 L1150.54 648.53 L1150.94 648.8 L1151.34 649.08 L1151.74 649.36 L1152.14 649.63 L1152.54 649.92 L1152.94 650.2 L1153.34 650.49 L1153.74 650.78 L1154.14 651.08 L1154.54 651.37 L1154.94 651.67 L1155.35 651.98 L1155.75 652.28 L1156.15 652.59 L1156.55 652.9 L1156.95 653.22 L1157.35 653.53 L1157.75 653.85 L1158.15 654.18 L1158.55 654.5 L1158.95 654.83 L1159.35 655.16 L1159.75 655.49 L1160.16 655.83 L1160.56 656.17 L1160.96 656.51 L1161.36 656.85 L1161.76 657.2 L1162.16 657.55 L1162.56 657.9 L1162.96 658.26 L1163.36 658.61 L1163.76 658.97 L1164.16 659.34 L1164.56 659.7 L1164.97 660.07 L1165.37 660.44 L1165.77 660.81 L1166.17 661.19 L1166.57 661.57 L1166.97 661.95 L1167.37 662.33 L1167.77 662.72 L1168.17 663.11 L1168.57 663.5 L1168.97 663.89 L1169.37 664.29 L1169.78 664.68 L1170.18 665.08 L1170.58 665.49 L1170.98 665.89 L1171.38 666.3 L1171.78 666.71 L1172.18 667.12 L1172.58 667.54 L1172.98 667.96 L1173.38 668.38 L1173.78 668.8 L1174.18 669.22 L1174.59 669.65 L1174.99 670.08 L1175.39 670.51 L1175.79 670.95 L1176.19 671.38 L1176.59 671.82 L1176.99 672.26 L1177.39 672.71 L1177.79 673.15 L1178.19 673.6 L1178.59 674.05 L1178.99 674.5 L1179.4 674.96 L1179.8 675.41 L1180.2 675.87 L1180.6 676.33 L1181 676.8 L1181.4 677.26 L1181.8 677.73 L1182.2 678.2 L1182.6 678.67 L1183 679.15 L1183.4 679.62 L1183.8 680.1 L1184.21 680.58 L1184.61 681.06 L1185.01 681.55 L1185.41 682.04 L1185.81 682.52 L1186.21 683.02 L1186.61 683.51 L1187.01 684 L1187.41 684.5 L1187.81 685 L1188.21 685.5 L1188.61 686 L1189.02 686.51 L1189.42 687.01 L1189.82 687.52 L1190.22 688.03 L1190.62 688.55 L1191.02 689.06 L1191.42 689.58 L1191.82 690.1 L1192.22 690.62 L1192.62 691.14 L1193.02 691.66 L1193.42 692.19 L1193.83 692.72 L1194.23 693.25 L1194.63 693.78 L1195.03 694.31 L1195.43 694.85 L1195.83 695.39 L1196.23 695.92 L1196.63 696.46 L1197.03 697.01 L1197.43 697.55 L1197.83 698.1 L1198.23 698.64 L1198.64 699.19 L1199.04 699.75 L1199.44 700.3 L1199.84 700.85 L1200.24 701.41 L1200.64 701.97 L1201.04 702.53 L1201.44 703.09 L1201.84 703.65 L1202.24 704.22 L1202.64 704.78 L1203.04 705.35 L1203.45 705.92 L1203.85 706.49 L1204.25 707.06 L1204.65 707.64 L1205.05 708.21 L1205.45 708.79 L1205.85 709.37 L1206.25 709.95 L1206.65 710.53 L1207.05 711.11 L1207.45 711.7 L1207.85 712.29 L1208.26 712.87 L1208.66 713.46 L1209.06 714.05 L1209.46 714.65 L1209.86 715.24 L1210.26 715.84 L1210.66 716.43 L1211.06 717.03 L1211.46 717.63 L1211.86 718.23 L1212.26 718.83 L1212.66 719.44 L1213.07 720.04 L1213.47 720.65 L1213.87 721.26 L1214.27 721.87 L1214.67 722.48 L1215.07 723.09 L1215.47 723.7 L1215.87 724.32 L1216.27 724.93 L1216.67 725.55 L1217.07 726.17 L1217.47 726.79 L1217.88 727.41 L1218.28 728.03 L1218.68 728.65 L1219.08 729.28 L1219.48 729.9 L1219.88 730.53 L1220.28 731.16 L1220.68 731.79 L1221.08 732.42 L1221.48 733.05 L1221.88 733.68 L1222.28 734.31 L1222.69 734.95 L1223.09 735.58 L1223.49 736.22 L1223.89 736.86 L1224.29 737.5 L1224.69 738.14 L1225.09 738.78 L1225.49 739.42 L1225.89 740.07 L1226.29 740.71 L1226.69 741.36 L1227.09 742 L1227.5 742.65 L1227.9 743.3 L1228.3 743.95 L1228.7 744.6 L1229.1 745.25 L1229.5 745.9 L1229.9 746.55 L1230.3 747.21 L1230.7 747.86 L1231.1 748.52 L1231.5 749.18 L1231.9 749.83 L1232.31 750.49 L1232.71 751.15 L1233.11 751.81 L1233.51 752.47 L1233.91 753.14 L1234.31 753.8 L1234.71 754.46 L1235.11 755.13 L1235.51 755.79 L1235.91 756.46 L1236.31 757.12 L1236.71 757.79 L1237.12 758.46 L1237.52 759.13 L1237.92 759.8 L1238.32 760.47 L1238.72 761.14 L1239.12 761.81 L1239.52 762.49 L1239.92 763.16 L1240.32 763.83 L1240.72 764.51 L1241.12 765.18 L1241.52 765.86 L1241.93 766.54 L1242.33 767.21 L1242.73 767.89 L1243.13 768.57 L1243.53 769.25 L1243.93 769.93 L1244.33 770.61 L1244.73 771.29 L1245.13 771.97 L1245.53 772.65 L1245.93 773.33 L1246.33 774.02 L1246.74 774.7 L1247.14 775.38 L1247.54 776.07 L1247.94 776.75 L1248.34 777.44 L1248.74 778.12 L1249.14 778.81 L1249.54 779.5 L1249.94 780.18 L1250.34 780.87 L1250.74 781.56 L1251.14 782.25 L1251.55 782.94 L1251.95 783.62 L1252.35 784.31 L1252.75 785 L1253.15 785.69 L1253.55 786.38 L1253.95 787.07 L1254.35 787.77 L1254.75 788.46 L1255.15 789.15 L1255.55 789.84 L1255.95 790.53 L1256.36 791.22 L1256.76 791.92 L1257.16 792.61 L1257.56 793.3 L1257.96 794 L1258.36 794.69 L1258.76 795.38 L1259.16 796.08 L1259.56 796.77 L1259.96 797.47 L1260.36 798.16 L1260.76 798.86 L1261.17 799.55 L1261.57 800.24 L1261.97 800.94 L1262.37 801.63 L1262.77 802.33 L1263.17 803.03 L1263.57 803.72 L1263.97 804.42 L1264.37 805.11 L1264.77 805.81 L1265.17 806.5 L1265.57 807.2 L1265.98 807.89 L1266.38 808.59 L1266.78 809.28 L1267.18 809.98 L1267.58 810.68 L1267.98 811.37 L1268.38 812.07 L1268.78 812.76 L1269.18 813.46 L1269.58 814.15 L1269.98 814.85 L1270.38 815.54 L1270.79 816.24 L1271.19 816.93 L1271.59 817.63 L1271.99 818.32 L1272.39 819.02 L1272.79 819.71 L1273.19 820.4 L1273.59 821.1 L1273.99 821.79 L1274.39 822.49 L1274.79 823.18 L1275.19 823.87 L1275.6 824.56 L1276 825.26 L1276.4 825.95 L1276.8 826.64 L1277.2 827.33 L1277.6 828.03 L1278 828.72 L1278.3 829.52 L1278.61 830.03 L1278.91 830.54 L1279.21 831.03 L1279.51 831.51 L1279.82 831.98 L1280.12 832.45 L1280.42 832.9 L1280.72 833.34 L1281.03 833.76 L1281.33 834.18 L1281.63 834.59 L1281.94 835 L1282.24 835.4 L1282.54 835.8 L1282.84 836.18 L1283.15 836.56 L1283.45 836.91 L1283.75 837.25 L1284.05 837.57 L1284.36 837.87 L1284.66 838.14 L1284.96 838.42 L1285.27 838.68 L1285.57 838.95 L1285.87 839.2 L1286.17 839.43 L1286.48 839.65 L1286.78 839.85 L1287.08 840.03 L1287.38 840.18 L1287.69 840.3 L1287.99 840.4 L1288.29 840.49 L1288.6 840.59 L1288.9 840.68 L1289.2 840.76 L1289.5 840.84 L1289.81 840.92 L1290.11 840.99 L1290.41 841.05 L1290.72 841.1 L1291.02 841.14 L1291.32 841.17 L1291.62 841.19 L1291.93 841.2 L1292.23 841.19 L1292.53 841.12 L1292.83 841.02 L1293.14 840.87 L1293.44 840.68 L1293.74 840.46 L1294.05 840.22 L1294.35 839.95 L1294.65 839.66 L1294.95 839.35 L1295.26 839.03 L1295.56 838.71 L1295.86 838.38 L1296.16 838.05 L1296.47 837.71 L1296.77 837.33 L1297.07 836.9 L1297.38 836.44 L1297.68 835.93 L1297.98 835.4 L1298.28 834.84 L1298.59 834.27 L1298.89 833.69 L1299.19 833.1 L1299.49 832.51 L1299.8 831.91 L1300.1 831.28 L1300.4 830.62 L1300.71 829.94 L1301.01 829.24 L1301.31 828.53 L1301.61 827.81 L1301.92 827.09 L1302.22 826.37 L1302.52 825.65 L1302.82 824.94 L1303.13 824.24 L1303.43 823.54 L1303.73 822.83 L1304.04 822.12 L1304.34 821.42 L1304.64 820.7 L1304.94 819.99 L1305.25 819.27 L1305.55 818.55 L1305.85 817.82 L1306.15 817.09 L1306.46 816.34 L1306.76 815.6 L1307.06 814.84 L1307.37 814.07 L1307.67 813.29 L1307.97 812.5 L1308.27 811.7 L1308.58 810.89 L1308.88 810.07 L1309.18 809.25 L1309.48 808.44 L1309.79 807.62 L1310.09 806.81 L1310.39 806 L1310.7 805.21 L1311 804.42 L1311.3 803.65 L1311.6 802.89 L1311.91 802.14 L1312.21 801.4 L1312.51 800.66 L1312.82 799.93 L1313.12 799.2 L1313.42 798.48 L1313.72 797.76 L1314.03 797.05 L1314.33 796.34 L1314.63 795.62 L1314.93 794.91 L1315.24 794.2 L1315.54 793.49 L1315.84 792.78 L1316.15 792.06 L1316.45 791.34 L1316.75 790.62 L1317.05 789.89 L1317.36 789.17 L1317.66 788.44 L1317.96 787.71 L1318.26 786.98 L1318.57 786.26 L1318.87 785.53 L1319.17 784.8 L1319.48 784.07 L1319.78 783.34 L1320.08 782.61 L1320.38 781.88 L1320.69 781.15 L1320.99 780.42 L1321.29 779.69 L1321.59 778.96 L1321.9 778.23 L1322.2 777.5 L1322.6 777.46 L1323 776.62 L1323.4 775.77 L1323.8 774.93 L1324.2 774.1 L1324.6 773.26 L1325 772.43 L1325.4 771.59 L1325.8 770.76 L1326.21 769.93 L1326.61 769.11 L1327.01 768.28 L1327.41 767.46 L1327.81 766.64 L1328.21 765.82 L1328.61 765 L1329.01 764.19 L1329.41 763.37 L1329.81 762.56 L1330.21 761.75 L1330.61 760.95 L1331.01 760.14 L1331.41 759.34 L1331.81 758.54 L1332.21 757.74 L1332.61 756.94 L1333.01 756.15 L1333.42 755.35 L1333.82 754.56 L1334.22 753.77 L1334.62 752.99 L1335.02 752.2 L1335.42 751.42 L1335.82 750.64 L1336.22 749.86 L1336.62 749.08 L1337.02 748.31 L1337.42 747.54 L1337.82 746.77 L1338.22 746 L1338.62 745.23 L1339.02 744.47 L1339.42 743.71 L1339.82 742.95 L1340.22 742.19 L1340.63 741.44 L1341.03 740.68 L1341.43 739.93 L1341.83 739.19 L1342.23 738.44 L1342.63 737.7 L1343.03 736.95 L1343.43 736.21 L1343.83 735.48 L1344.23 734.74 L1344.63 734.01 L1345.03 733.28 L1345.43 732.55 L1345.83 731.82 L1346.23 731.1 L1346.63 730.38 L1347.03 729.66 L1347.43 728.94 L1347.84 728.23 L1348.24 727.51 L1348.64 726.8 L1349.04 726.1 L1349.44 725.39 L1349.84 724.69 L1350.24 723.99 L1350.64 723.29 L1351.04 722.59 L1351.44 721.9 L1351.84 721.21 L1352.24 720.52 L1352.64 719.83 L1353.04 719.15 L1353.44 718.47 L1353.84 717.79 L1354.24 717.11 L1354.64 716.43 L1355.04 715.76 L1355.45 715.09 L1355.85 714.43 L1356.25 713.76 L1356.65 713.1 L1357.05 712.44 L1357.45 711.78 L1357.85 711.13 L1358.25 710.47 L1358.65 709.82 L1359.05 709.18 L1359.45 708.53 L1359.85 707.89 L1360.25 707.25 L1360.65 706.61 L1361.05 705.98 L1361.45 705.34 L1361.85 704.71 L1362.25 704.09 L1362.66 703.46 L1363.06 702.84 L1363.46 702.22 L1363.86 701.6 L1364.26 700.99 L1364.66 700.37 L1365.06 699.77 L1365.46 699.16 L1365.86 698.55 L1366.26 697.95 L1366.66 697.35 L1367.06 696.76 L1367.46 696.16 L1367.86 695.57 L1368.26 694.98 L1368.66 694.4 L1369.06 693.82 L1369.46 693.24 L1369.87 692.66 L1370.27 692.08 L1370.67 691.51 L1371.07 690.94 L1371.47 690.37 L1371.87 689.81 L1372.27 689.25 L1372.67 688.69 L1373.07 688.13 L1373.47 687.58 L1373.87 687.03 L1374.27 686.48 L1374.67 685.94 L1375.07 685.4 L1375.47 684.86 L1375.87 684.32 L1376.27 683.79 L1376.67 683.25 L1377.08 682.73 L1377.48 682.2 L1377.88 681.68 L1378.28 681.16 L1378.68 680.64 L1379.08 680.13 L1379.48 679.62 L1379.88 679.11 L1380.28 678.6 L1380.68 678.1 L1381.08 677.6 L1381.48 677.1 L1381.88 676.61 L1382.28 676.12 L1382.68 675.63 L1383.08 675.14 L1383.48 674.66 L1383.88 674.18 L1384.29 673.71 L1384.69 673.23 L1385.09 672.76 L1385.49 672.29 L1385.89 671.83 L1386.29 671.37 L1386.69 670.91 L1387.09 670.45 L1387.49 670 L1387.89 669.55 L1388.29 669.1 L1388.69 668.66 L1389.09 668.22 L1389.49 667.78 L1389.89 667.35 L1390.29 666.92 L1390.69 666.49 L1391.09 666.06 L1391.49 665.64 L1391.9 665.22 L1392.3 664.8 L1392.7 664.39 L1393.1 663.98 L1393.5 663.57 L1393.9 663.17 L1394.3 662.77 L1394.7 662.37 L1395.1 661.97 L1395.5 661.58 L1395.9 661.19 L1396.3 660.8 L1396.7 660.42 L1397.1 660.04 L1397.5 659.66 L1397.9 659.29 L1398.3 658.92 L1398.7 658.55 L1399.11 658.18 L1399.51 657.82 L1399.91 657.46 L1400.31 657.11 L1400.71 656.75 L1401.11 656.4 L1401.51 656.06 L1401.91 655.71 L1402.31 655.37 L1402.71 655.03 L1403.11 654.7 L1403.51 654.37 L1403.91 654.04 L1404.31 653.71 L1404.71 653.39 L1405.11 653.07 L1405.51 652.75 L1405.91 652.44 L1406.32 652.13 L1406.72 651.82 L1407.12 651.52 L1407.52 651.22 L1407.92 650.92 L1408.32 650.62 L1408.72 650.33 L1409.12 650.04 L1409.52 649.75 L1409.92 649.47 L1410.32 649.19 L1410.72 648.91 L1411.12 648.64 L1411.52 648.37 L1411.92 648.1 L1412.32 647.84 L1412.72 647.58 L1413.12 647.32 L1413.53 647.06 L1413.93 646.81 L1414.33 646.56 L1414.73 646.31 L1415.13 646.07 L1415.53 645.83 L1415.93 645.59 L1416.33 645.36 L1416.73 645.13 L1417.13 644.9 L1417.53 644.67 L1417.93 644.45 L1418.33 644.23 L1418.73 644.02 L1419.13 643.8 L1419.53 643.59 L1419.93 643.39 L1420.33 643.18 L1420.73 642.98 L1421.14 642.78 L1421.54 642.59 L1421.94 642.4 L1422.34 642.21 L1422.74 642.02 L1423.14 641.84 L1423.54 641.66 L1423.94 641.49 L1424.34 641.31 L1424.74 641.14 L1425.14 640.98 L1425.54 640.81 L1425.94 640.65 L1426.34 640.49 L1426.74 640.34 L1427.14 640.19 L1427.54 640.04 L1427.94 639.89 L1428.35 639.75 L1428.75 639.61 L1429.15 639.48 L1429.55 639.34 L1429.95 639.21 L1430.35 639.09 L1430.75 638.96 L1431.15 638.84 L1431.55 638.72 L1431.95 638.61 L1432.35 638.5 L1432.75 638.39 L1433.15 638.28 L1433.55 638.18 L1433.95 638.08 L1434.35 637.99 L1434.75 637.89 L1435.15 637.8 L1435.56 637.72 L1435.96 637.63 L1436.36 637.55 L1436.76 637.47 L1437.16 637.4 L1437.56 637.33 L1437.96 637.26 L1438.36 637.2 L1438.76 637.13 L1439.16 637.07 L1439.56 637.02 L1439.96 636.96 L1440.36 636.91 L1440.76 636.87 L1441.16 636.82 L1441.56 636.78 L1441.96 636.75 L1442.36 636.71 L1442.77 636.68 L1443.17 636.65 L1443.57 636.63 L1443.97 636.61 L1444.37 636.59 L1444.77 636.57 L1445.17 636.56 L1445.57 636.55 L1445.97 636.54 L1446.37 636.54 L1446.77 636.54 L1447.17 636.54 L1447.57 636.55 L1447.97 636.56 L1448.37 636.57 L1448.77 636.58 L1449.17 636.6 L1449.57 636.62 L1449.98 636.65 L1450.38 636.68 L1450.78 636.71 L1451.18 636.74 L1451.58 636.78 L1451.98 636.82 L1452.38 636.86 L1452.78 636.91 L1453.18 636.96 L1453.58 637.01 L1453.98 637.06 L1454.38 637.12 L1454.78 637.19 L1455.18 637.25 L1455.58 637.32 L1455.98 637.39 L1456.38 637.46 L1456.78 637.54 L1457.18 637.62 L1457.59 637.71 L1457.99 637.79 L1458.39 637.88 L1458.79 637.98 L1459.19 638.07 L1459.59 638.17 L1459.99 638.27 L1460.39 638.38 L1460.79 638.49 L1461.19 638.6 L1461.59 638.71 L1461.99 638.83 L1462.39 638.95 L1462.79 639.08 L1463.19 639.2 L1463.59 639.34 L1463.99 639.47 L1464.39 639.61 L1464.8 639.75 L1465.2 639.89 L1465.6 640.04 L1466 640.18 L1466.4 640.34 L1466.8 640.49 L1467.2 640.65 L1467.6 640.81 L1468 640.98 L1468.4 641.15 L1468.8 641.32 L1469.2 641.49 L1469.6 641.67 L1470 641.85 L1470.4 642.03 L1470.8 642.22 L1471.2 642.41 L1471.6 642.6 L1472.01 642.79 L1472.41 642.99 L1472.81 643.19 L1473.21 643.4 L1473.61 643.61 L1474.01 643.82 L1474.41 644.03 L1474.81 644.25 L1475.21 644.47 L1475.61 644.69 L1476.01 644.91 L1476.41 645.14 L1476.81 645.37 L1477.21 645.61 L1477.61 645.84 L1478.01 646.08 L1478.41 646.33 L1478.81 646.57 L1479.22 646.82 L1479.62 647.07 L1480.02 647.32 L1480.42 647.58 L1480.82 647.84 L1481.22 648.1 L1481.62 648.37 L1482.02 648.64 L1482.42 648.91 L1482.82 649.18 L1483.22 649.46 L1483.62 649.74 L1484.02 650.02 L1484.42 650.31 L1484.82 650.6 L1485.22 650.89 L1485.62 651.18 L1486.02 651.48 L1486.42 651.78 L1486.83 652.08 L1487.23 652.38 L1487.63 652.69 L1488.03 653 L1488.43 653.31 L1488.83 653.63 L1489.23 653.95 L1489.63 654.27 L1490.03 654.59 L1490.43 654.92 L1490.83 655.25 L1491.23 655.58 L1491.63 655.91 L1492.03 656.25 L1492.43 656.59 L1492.83 656.93 L1493.23 657.28 L1493.63 657.62 L1494.04 657.97 L1494.44 658.33 L1494.84 658.68 L1495.24 659.04 L1495.64 659.4 L1496.04 659.76 L1496.44 660.13 L1496.84 660.5 L1497.24 660.87 L1497.64 661.24 L1498.04 661.62 L1498.44 661.99 L1498.84 662.37 L1499.24 662.76 L1499.64 663.14 L1500.04 663.53 L1500.44 663.92 L1500.84 664.32 L1501.25 664.71 L1501.65 665.11 L1502.05 665.51 L1502.45 665.91 L1502.85 666.32 L1503.25 666.73 L1503.65 667.14 L1504.05 667.55 L1504.45 667.97 L1504.85 668.38 L1505.25 668.8 L1505.65 669.23 L1506.05 669.65 L1506.45 670.08 L1506.85 670.51 L1507.25 670.94 L1507.65 671.37 L1508.05 671.81 L1508.46 672.25 L1508.86 672.69 L1509.26 673.13 L1509.66 673.58 L1510.06 674.03 L1510.46 674.48 L1510.86 674.93 L1511.26 675.39 L1511.66 675.85 L1512.06 676.31 L1512.46 676.77 L1512.86 677.23 L1513.26 677.7 L1513.66 678.17 L1514.06 678.64 L1514.46 679.11 L1514.86 679.59 L1515.26 680.06 L1515.67 680.54 L1516.07 681.03 L1516.47 681.51 L1516.87 682 L1517.27 682.49 L1517.67 682.98 L1518.07 683.47 L1518.47 683.96 L1518.87 684.46 L1519.27 684.96 L1519.67 685.46 L1520.07 685.97 L1520.47 686.47 L1520.87 686.98 L1521.27 687.49 L1521.67 688 L1522.07 688.52 L1522.47 689.03 L1522.87 689.55 L1523.28 690.07 L1523.68 690.59 L1524.08 691.12 L1524.48 691.65 L1524.88 692.17 L1525.28 692.71 L1525.68 693.24 L1526.08 693.77 L1526.48 694.31 L1526.88 694.85 L1527.28 695.39 L1527.68 695.93 L1528.08 696.48 L1528.48 697.02 L1528.88 697.57 L1529.28 698.12 L1529.68 698.67 L1530.08 699.23 L1530.49 699.79 L1530.89 700.34 L1531.29 700.9 L1531.69 701.47 L1532.09 702.03 L1532.49 702.6 L1532.89 703.16 L1533.29 703.73 L1533.69 704.31 L1534.09 704.88 L1534.49 705.45 L1534.89 706.03 L1535.29 706.61 L1535.69 707.19 L1536.09 707.77 L1536.49 708.36 L1536.89 708.94 L1537.29 709.53 L1537.7 710.12 L1538.1 710.71 L1538.5 711.31 L1538.9 711.9 L1539.3 712.5 L1539.7 713.1 L1540.1 713.7 L1540.5 714.3 L1540.9 714.91 L1541.3 715.51 L1541.7 716.12 L1542.1 716.73 L1542.5 717.34 L1542.9 717.95 L1543.3 718.57 L1543.7 719.18 L1544.1 719.8 L1544.5 720.42 L1544.91 721.04 L1545.31 721.66 L1545.71 722.29 L1546.11 722.91 L1546.51 723.54 L1546.91 724.17 L1547.31 724.8 L1547.71 725.43 L1548.11 726.06 L1548.51 726.7 L1548.91 727.33 L1549.31 727.97 L1549.71 728.61 L1550.11 729.25 L1550.51 729.89 L1550.91 730.54 L1551.31 731.18 L1551.71 731.83 L1552.11 732.47 L1552.52 733.12 L1552.92 733.77 L1553.32 734.42 L1553.72 735.08 L1554.12 735.73 L1554.52 736.39 L1554.92 737.04 L1555.32 737.7 L1555.72 738.36 L1556.12 739.02 L1556.52 739.68 L1556.92 740.34 L1557.32 741 L1557.72 741.67 L1558.12 742.33 L1558.52 743 L1558.92 743.67 L1559.32 744.34 L1559.73 745.01 L1560.13 745.68 L1560.53 746.35 L1560.93 747.02 L1561.33 747.69 L1561.73 748.37 L1562.13 749.04 L1562.53 749.72 L1562.93 750.4 L1563.33 751.08 L1563.73 751.75 L1564.13 752.43 L1564.53 753.11 L1564.93 753.8 L1565.33 754.48 L1565.73 755.16 L1566.13 755.84 L1566.53 756.53 L1566.94 757.21 L1567.34 757.9 L1567.74 758.59 L1568.14 759.27 L1568.54 759.96 L1568.94 760.65 L1569.34 761.34 L1569.74 762.03 L1570.14 762.72 L1570.54 763.41 L1570.94 764.1 L1571.34 764.79 L1571.74 765.49 L1572.14 766.18 L1572.54 766.87 L1572.94 767.57 L1573.34 768.26 L1573.74 768.96 L1574.15 769.65 L1574.55 770.35 L1574.95 771.04 L1575.35 771.74 L1575.75 772.44 L1576.15 773.13 L1576.55 773.83 L1576.95 774.53 L1577.35 775.23 L1577.75 775.93 L1578.15 776.62 L1578.55 777.32 L1578.95 778.02 L1579.35 778.72 L1579.75 779.42 L1580.15 780.12 L1580.55 780.82 L1580.95 781.52 L1581.36 782.22 L1581.76 782.92 L1582.16 783.62 L1582.56 784.32 L1582.96 785.02 L1583.36 785.72 L1583.76 786.43 L1584.16 787.13 L1584.56 787.83 L1584.96 788.53 L1585.36 789.23 L1585.76 789.93 L1586.16 790.63 L1586.56 791.33 L1586.96 792.03 L1587.36 792.73 L1587.76 793.43 L1588.16 794.13 L1588.56 794.83 L1588.97 795.53 L1589.37 796.23 L1589.77 796.93 L1590.17 797.63 L1590.57 798.33 L1590.97 799.03 L1591.37 799.72 L1591.77 800.42 L1592.17 801.12 L1592.57 801.82 L1592.97 802.51 L1593.37 803.21 L1593.77 803.91 L1594.17 804.6 L1594.57 805.3 L1594.97 805.99 L1595.37 806.69 L1595.77 807.38 L1596.18 808.07 L1596.58 808.77 L1596.98 809.46 L1597.38 810.15 L1597.78 810.84 L1598.18 811.53 L1598.58 812.22 L1598.98 812.91 L1599.38 813.6 L1599.78 814.29 L1600.18 814.98 L1600.58 815.67 L1600.98 816.35 L1601.38 817.04 L1601.78 817.73 L1602.18 818.41 L1602.58 819.09 L1602.98 819.78 L1603.39 820.46 L1603.79 821.14 L1604.19 821.82 L1604.59 822.5 L1604.99 823.18 L1605.39 823.86 L1605.79 824.54 L1606.19 825.21 L1606.59 825.89 L1606.99 826.56 L1607.39 827.23 L1607.79 827.91 L1608.19 828.58 L1608.59 829.25 L1608.99 829.92 L1609.39 830.59 L1609.79 831.26 L1610.19 831.92 L1610.6 832.59 L1611 833.25 L1611.4 833.92 L1611.8 834.58 L1612.2 835.24 L1612.6 835.9 L1613 836.56 L1613.4 837.22 L1613.8 837.87 L1614.2 838.53" fill="none" stroke="#000000" stroke-width="4.2" stroke-linecap="butt" stroke-linejoin="round" stroke-dasharray="11.6 2.8 6 2.3" clip-path="url(#cc)"/>
<path d="M953 913.6 L953.3 913.64 L953.61 913.68 L953.91 913.71 L954.21 913.73 L954.51 913.75 L954.82 913.77 L955.12 913.78 L955.42 913.79 L955.72 913.79 L956.02 913.8 L956.33 913.8 L956.63 913.8 L956.93 913.8 L957.24 913.79 L957.54 913.77 L957.84 913.73 L958.14 913.67 L958.45 913.61 L958.75 913.53 L959.05 913.45 L959.35 913.37 L959.65 913.28 L959.96 913.19 L960.26 913.11 L960.56 913.03 L960.87 912.95 L961.17 912.86 L961.47 912.77 L961.77 912.67 L962.08 912.57 L962.38 912.46 L962.68 912.35 L962.98 912.24 L963.28 912.11 L963.59 911.99 L963.89 911.85 L964.19 911.71 L964.5 911.55 L964.8 911.39 L965.1 911.21 L965.4 911.02 L965.71 910.82 L966.01 910.6 L966.31 910.38 L966.61 910.15 L966.91 909.92 L967.22 909.67 L967.52 909.42 L967.82 909.16 L968.12 908.89 L968.43 908.59 L968.73 908.27 L969.03 907.93 L969.34 907.58 L969.64 907.21 L969.94 906.83 L970.24 906.45 L970.54 906.07 L970.85 905.69 L971.15 905.32 L971.45 904.99 L971.75 904.67 L972.06 904.34 L972.36 903.98 L972.66 903.56 L972.97 903.06 L973.27 902.42 L973.57 901.48 L973.87 900.28 L974.17 898.89 L974.48 897.36 L974.78 895.75 L975.08 894.13 L975.38 892.57 L975.69 891.08 L975.99 889.58 L976.29 888.04 L976.6 886.48 L976.9 884.89 L977.2 883.26 L977.5 881.61 L977.8 879.92 L978.11 878.21 L978.41 876.46 L978.71 874.66 L979.01 872.81 L979.32 870.93 L979.62 869 L979.92 867.05 L980.23 865.08 L980.53 863.1 L980.83 861.12 L981.13 859.13 L981.43 857.11 L981.74 855.07 L982.04 853.02 L982.34 850.95 L982.64 848.87 L982.95 846.79 L983.25 844.72 L983.55 842.66 L983.86 840.58 L984.16 838.48 L984.46 836.38 L984.76 834.29 L985.06 832.21 L985.37 830.16 L985.67 828.14 L985.97 826.18 L986.27 824.26 L986.58 822.38 L986.88 820.54 L987.18 818.72 L987.49 816.92 L987.79 815.13 L988.09 813.34 L988.39 811.54 L988.69 809.73 L989 807.86 L989.3 805.96 L989.6 804.04 L989.9 802.16 L990.21 800.32 L990.51 798.57 L990.81 796.94 L991.12 795.44 L991.42 794.01 L991.72 792.62 L992.02 791.28 L992.32 790 L992.63 788.78 L992.93 787.62 L993.23 786.53 L993.53 785.52 L993.84 784.58 L994.14 783.69 L994.44 782.82 L994.75 782 L995.05 781.21 L995.35 780.45 L995.65 779.73 L995.95 779.05 L996.26 778.41 L996.56 777.81 L996.86 777.24 L997.16 776.72 L997.47 776.2 L997.77 775.7 L998.07 775.21 L998.38 774.73 L998.68 774.27 L998.98 773.83 L999.28 773.41 L999.59 773.01 L999.89 772.64 L1000.19 772.29 L1000.49 771.97 L1000.79 771.68 L1001.1 771.42 L1001.4 771.2 L1001.8 772.78 L1002.2 771.9 L1002.6 771.02 L1003 770.14 L1003.4 769.26 L1003.81 768.39 L1004.21 767.52 L1004.61 766.66 L1005.01 765.79 L1005.41 764.93 L1005.81 764.07 L1006.21 763.22 L1006.61 762.37 L1007.01 761.52 L1007.41 760.67 L1007.81 759.83 L1008.21 758.99 L1008.62 758.15 L1009.02 757.31 L1009.42 756.48 L1009.82 755.65 L1010.22 754.83 L1010.62 754 L1011.02 753.18 L1011.42 752.36 L1011.82 751.55 L1012.22 750.74 L1012.62 749.93 L1013.03 749.12 L1013.43 748.32 L1013.83 747.52 L1014.23 746.72 L1014.63 745.93 L1015.03 745.13 L1015.43 744.35 L1015.83 743.56 L1016.23 742.78 L1016.63 742 L1017.03 741.22 L1017.43 740.44 L1017.84 739.67 L1018.24 738.9 L1018.64 738.14 L1019.04 737.38 L1019.44 736.62 L1019.84 735.86 L1020.24 735.11 L1020.64 734.35 L1021.04 733.61 L1021.44 732.86 L1021.84 732.12 L1022.24 731.38 L1022.65 730.64 L1023.05 729.91 L1023.45 729.18 L1023.85 728.45 L1024.25 727.72 L1024.65 727 L1025.05 726.28 L1025.45 725.57 L1025.85 724.85 L1026.25 724.14 L1026.65 723.43 L1027.06 722.73 L1027.46 722.03 L1027.86 721.33 L1028.26 720.63 L1028.66 719.94 L1029.06 719.25 L1029.46 718.56 L1029.86 717.88 L1030.26 717.2 L1030.66 716.52 L1031.06 715.84 L1031.46 715.17 L1031.87 714.5 L1032.27 713.83 L1032.67 713.17 L1033.07 712.51 L1033.47 711.85 L1033.87 711.19 L1034.27 710.54 L1034.67 709.89 L1035.07 709.24 L1035.47 708.6 L1035.87 707.96 L1036.28 707.32 L1036.68 706.69 L1037.08 706.06 L1037.48 705.43 L1037.88 704.8 L1038.28 704.18 L1038.68 703.56 L1039.08 702.94 L1039.48 702.33 L1039.88 701.71 L1040.28 701.11 L1040.68 700.5 L1041.09 699.9 L1041.49 699.3 L1041.89 698.7 L1042.29 698.11 L1042.69 697.52 L1043.09 696.93 L1043.49 696.34 L1043.89 695.76 L1044.29 695.18 L1044.69 694.61 L1045.09 694.03 L1045.49 693.46 L1045.9 692.89 L1046.3 692.33 L1046.7 691.77 L1047.1 691.21 L1047.5 690.65 L1047.9 690.1 L1048.3 689.55 L1048.7 689 L1049.1 688.46 L1049.5 687.92 L1049.9 687.38 L1050.31 686.85 L1050.71 686.31 L1051.11 685.78 L1051.51 685.26 L1051.91 684.73 L1052.31 684.21 L1052.71 683.7 L1053.11 683.18 L1053.51 682.67 L1053.91 682.16 L1054.31 681.66 L1054.71 681.15 L1055.12 680.65 L1055.52 680.16 L1055.92 679.66 L1056.32 679.17 L1056.72 678.68 L1057.12 678.2 L1057.52 677.72 L1057.92 677.24 L1058.32 676.76 L1058.72 676.29 L1059.12 675.82 L1059.53 675.35 L1059.93 674.89 L1060.33 674.42 L1060.73 673.97 L1061.13 673.51 L1061.53 673.06 L1061.93 672.61 L1062.33 672.16 L1062.73 671.72 L1063.13 671.28 L1063.53 670.84 L1063.93 670.41 L1064.34 669.97 L1064.74 669.54 L1065.14 669.12 L1065.54 668.7 L1065.94 668.28 L1066.34 667.86 L1066.74 667.44 L1067.14 667.03 L1067.54 666.63 L1067.94 666.22 L1068.34 665.82 L1068.75 665.42 L1069.15 665.02 L1069.55 664.63 L1069.95 664.24 L1070.35 663.85 L1070.75 663.47 L1071.15 663.09 L1071.55 662.71 L1071.95 662.33 L1072.35 661.96 L1072.75 661.59 L1073.15 661.22 L1073.56 660.86 L1073.96 660.5 L1074.36 660.14 L1074.76 659.79 L1075.16 659.44 L1075.56 659.09 L1075.96 658.74 L1076.36 658.4 L1076.76 658.06 L1077.16 657.72 L1077.56 657.39 L1077.96 657.06 L1078.37 656.73 L1078.77 656.41 L1079.17 656.08 L1079.57 655.77 L1079.97 655.45 L1080.37 655.14 L1080.77 654.83 L1081.17 654.52 L1081.57 654.22 L1081.97 653.92 L1082.37 653.62 L1082.78 653.32 L1083.18 653.03 L1083.58 652.74 L1083.98 652.46 L1084.38 652.17 L1084.78 651.89 L1085.18 651.62 L1085.58 651.34 L1085.98 651.07 L1086.38 650.8 L1086.78 650.54 L1087.18 650.28 L1087.59 650.02 L1087.99 649.76 L1088.39 649.51 L1088.79 649.26 L1089.19 649.01 L1089.59 648.77 L1089.99 648.53 L1090.39 648.29 L1090.79 648.05 L1091.19 647.82 L1091.59 647.59 L1092 647.37 L1092.4 647.14 L1092.8 646.92 L1093.2 646.71 L1093.6 646.49 L1094 646.28 L1094.4 646.07 L1094.8 645.87 L1095.2 645.67 L1095.6 645.47 L1096 645.27 L1096.4 645.08 L1096.81 644.89 L1097.21 644.7 L1097.61 644.52 L1098.01 644.34 L1098.41 644.16 L1098.81 643.99 L1099.21 643.81 L1099.61 643.65 L1100.01 643.48 L1100.41 643.32 L1100.81 643.16 L1101.21 643 L1101.62 642.85 L1102.02 642.7 L1102.42 642.55 L1102.82 642.4 L1103.22 642.26 L1103.62 642.12 L1104.02 641.99 L1104.42 641.86 L1104.82 641.73 L1105.22 641.6 L1105.62 641.48 L1106.03 641.36 L1106.43 641.24 L1106.83 641.13 L1107.23 641.01 L1107.63 640.91 L1108.03 640.8 L1108.43 640.7 L1108.83 640.6 L1109.23 640.5 L1109.63 640.41 L1110.03 640.32 L1110.43 640.23 L1110.84 640.15 L1111.24 640.07 L1111.64 639.99 L1112.04 639.91 L1112.44 639.84 L1112.84 639.77 L1113.24 639.71 L1113.64 639.65 L1114.04 639.59 L1114.44 639.53 L1114.84 639.47 L1115.25 639.42 L1115.65 639.38 L1116.05 639.33 L1116.45 639.29 L1116.85 639.25 L1117.25 639.22 L1117.65 639.18 L1118.05 639.15 L1118.45 639.13 L1118.85 639.11 L1119.25 639.08 L1119.65 639.07 L1120.06 639.05 L1120.46 639.04 L1120.86 639.03 L1121.26 639.03 L1121.66 639.03 L1122.06 639.03 L1122.46 639.03 L1122.86 639.04 L1123.26 639.05 L1123.66 639.06 L1124.06 639.08 L1124.47 639.09 L1124.87 639.12 L1125.27 639.14 L1125.67 639.17 L1126.07 639.2 L1126.47 639.23 L1126.87 639.27 L1127.27 639.31 L1127.67 639.35 L1128.07 639.39 L1128.47 639.44 L1128.87 639.49 L1129.28 639.54 L1129.68 639.6 L1130.08 639.66 L1130.48 639.72 L1130.88 639.79 L1131.28 639.86 L1131.68 639.93 L1132.08 640 L1132.48 640.08 L1132.88 640.16 L1133.28 640.24 L1133.68 640.32 L1134.09 640.41 L1134.49 640.5 L1134.89 640.6 L1135.29 640.69 L1135.69 640.79 L1136.09 640.89 L1136.49 641 L1136.89 641.11 L1137.29 641.22 L1137.69 641.33 L1138.09 641.45 L1138.5 641.57 L1138.9 641.69 L1139.3 641.81 L1139.7 641.94 L1140.1 642.07 L1140.5 642.2 L1140.9 642.34 L1141.3 642.47 L1141.7 642.62 L1142.1 642.76 L1142.5 642.91 L1142.9 643.05 L1143.31 643.21 L1143.71 643.36 L1144.11 643.52 L1144.51 643.68 L1144.91 643.84 L1145.31 644.01 L1145.71 644.17 L1146.11 644.34 L1146.51 644.52 L1146.91 644.69 L1147.31 644.87 L1147.72 645.05 L1148.12 645.24 L1148.52 645.42 L1148.92 645.61 L1149.32 645.81 L1149.72 646 L1150.12 646.2 L1150.52 646.4 L1150.92 646.6 L1151.32 646.8 L1151.72 647.01 L1152.12 647.22 L1152.53 647.44 L1152.93 647.65 L1153.33 647.87 L1153.73 648.09 L1154.13 648.31 L1154.53 648.54 L1154.93 648.77 L1155.33 649 L1155.73 649.23 L1156.13 649.47 L1156.53 649.71 L1156.93 649.95 L1157.34 650.19 L1157.74 650.44 L1158.14 650.69 L1158.54 650.94 L1158.94 651.19 L1159.34 651.45 L1159.74 651.71 L1160.14 651.97 L1160.54 652.23 L1160.94 652.5 L1161.34 652.77 L1161.75 653.04 L1162.15 653.31 L1162.55 653.59 L1162.95 653.87 L1163.35 654.15 L1163.75 654.43 L1164.15 654.72 L1164.55 655.01 L1164.95 655.3 L1165.35 655.59 L1165.75 655.89 L1166.15 656.19 L1166.56 656.49 L1166.96 656.79 L1167.36 657.1 L1167.76 657.41 L1168.16 657.72 L1168.56 658.03 L1168.96 658.35 L1169.36 658.66 L1169.76 658.98 L1170.16 659.31 L1170.56 659.63 L1170.97 659.96 L1171.37 660.29 L1171.77 660.62 L1172.17 660.95 L1172.57 661.29 L1172.97 661.63 L1173.37 661.97 L1173.77 662.31 L1174.17 662.66 L1174.57 663.01 L1174.97 663.36 L1175.37 663.71 L1175.78 664.07 L1176.18 664.43 L1176.58 664.79 L1176.98 665.15 L1177.38 665.51 L1177.78 665.88 L1178.18 666.25 L1178.58 666.62 L1178.98 666.99 L1179.38 667.37 L1179.78 667.75 L1180.19 668.13 L1180.59 668.51 L1180.99 668.9 L1181.39 669.28 L1181.79 669.67 L1182.19 670.06 L1182.59 670.46 L1182.99 670.85 L1183.39 671.25 L1183.79 671.65 L1184.19 672.06 L1184.59 672.46 L1185 672.87 L1185.4 673.28 L1185.8 673.69 L1186.2 674.1 L1186.6 674.52 L1187 674.94 L1187.4 675.36 L1187.8 675.78 L1188.2 676.2 L1188.6 676.63 L1189 677.06 L1189.4 677.49 L1189.81 677.92 L1190.21 678.36 L1190.61 678.79 L1191.01 679.23 L1191.41 679.68 L1191.81 680.12 L1192.21 680.57 L1192.61 681.01 L1193.01 681.46 L1193.41 681.92 L1193.81 682.37 L1194.22 682.83 L1194.62 683.28 L1195.02 683.74 L1195.42 684.21 L1195.82 684.67 L1196.22 685.14 L1196.62 685.61 L1197.02 686.08 L1197.42 686.55 L1197.82 687.02 L1198.22 687.5 L1198.62 687.98 L1199.03 688.46 L1199.43 688.94 L1199.83 689.43 L1200.23 689.92 L1200.63 690.4 L1201.03 690.9 L1201.43 691.39 L1201.83 691.88 L1202.23 692.38 L1202.63 692.88 L1203.03 693.38 L1203.44 693.88 L1203.84 694.39 L1204.24 694.89 L1204.64 695.4 L1205.04 695.91 L1205.44 696.43 L1205.84 696.94 L1206.24 697.46 L1206.64 697.97 L1207.04 698.49 L1207.44 699.02 L1207.84 699.54 L1208.25 700.07 L1208.65 700.59 L1209.05 701.12 L1209.45 701.66 L1209.85 702.19 L1210.25 702.72 L1210.65 703.26 L1211.05 703.8 L1211.45 704.34 L1211.85 704.88 L1212.25 705.43 L1212.65 705.98 L1213.06 706.52 L1213.46 707.07 L1213.86 707.63 L1214.26 708.18 L1214.66 708.74 L1215.06 709.29 L1215.46 709.85 L1215.86 710.41 L1216.26 710.98 L1216.66 711.54 L1217.06 712.11 L1217.47 712.68 L1217.87 713.25 L1218.27 713.82 L1218.67 714.39 L1219.07 714.97 L1219.47 715.54 L1219.87 716.12 L1220.27 716.7 L1220.67 717.29 L1221.07 717.87 L1221.47 718.46 L1221.87 719.04 L1222.28 719.63 L1222.68 720.23 L1223.08 720.82 L1223.48 721.41 L1223.88 722.01 L1224.28 722.61 L1224.68 723.21 L1225.08 723.81 L1225.48 724.41 L1225.88 725.02 L1226.28 725.62 L1226.69 726.23 L1227.09 726.84 L1227.49 727.45 L1227.89 728.06 L1228.29 728.68 L1228.69 729.3 L1229.09 729.91 L1229.49 730.53 L1229.89 731.15 L1230.29 731.78 L1230.69 732.4 L1231.09 733.03 L1231.5 733.66 L1231.9 734.29 L1232.3 734.92 L1232.7 735.55 L1233.1 736.18 L1233.5 736.82 L1233.9 737.46 L1234.3 738.1 L1234.7 738.74 L1235.1 739.38 L1235.5 740.02 L1235.91 740.67 L1236.31 741.31 L1236.71 741.96 L1237.11 742.61 L1237.51 743.26 L1237.91 743.92 L1238.31 744.57 L1238.71 745.23 L1239.11 745.88 L1239.51 746.54 L1239.91 747.2 L1240.31 747.86 L1240.72 748.53 L1241.12 749.19 L1241.52 749.86 L1241.92 750.53 L1242.32 751.2 L1242.72 751.87 L1243.12 752.54 L1243.52 753.21 L1243.92 753.89 L1244.32 754.57 L1244.72 755.24 L1245.12 755.92 L1245.53 756.61 L1245.93 757.29 L1246.33 757.97 L1246.73 758.66 L1247.13 759.34 L1247.53 760.03 L1247.93 760.72 L1248.33 761.41 L1248.73 762.11 L1249.13 762.8 L1249.53 763.49 L1249.94 764.19 L1250.34 764.89 L1250.74 765.59 L1251.14 766.29 L1251.54 766.99 L1251.94 767.69 L1252.34 768.4 L1252.74 769.1 L1253.14 769.81 L1253.54 770.52 L1253.94 771.23 L1254.34 771.94 L1254.75 772.66 L1255.15 773.37 L1255.55 774.08 L1255.95 774.8 L1256.35 775.52 L1256.75 776.24 L1257.15 776.96 L1257.55 777.68 L1257.95 778.4 L1258.35 779.13 L1258.75 779.85 L1259.16 780.58 L1259.56 781.31 L1259.96 782.04 L1260.36 782.77 L1260.76 783.5 L1261.16 784.23 L1261.56 784.97 L1261.96 785.7 L1262.36 786.44 L1262.76 787.18 L1263.16 787.92 L1263.56 788.66 L1263.97 789.4 L1264.37 790.14 L1264.77 790.89 L1265.17 791.63 L1265.57 792.38 L1265.97 793.13 L1266.37 793.88 L1266.77 794.63 L1267.17 795.38 L1267.57 796.13 L1267.97 796.88 L1268.37 797.64 L1268.78 798.39 L1269.18 799.15 L1269.58 799.91 L1269.98 800.67 L1270.38 801.43 L1270.78 802.19 L1271.18 802.95 L1271.58 803.72 L1271.98 804.48 L1272.38 805.25 L1272.78 806.01 L1273.19 806.78 L1273.59 807.55 L1273.99 808.32 L1274.39 809.09 L1274.79 809.87 L1275.19 810.64 L1275.59 811.41 L1275.99 812.19 L1276.39 812.97 L1276.79 813.74 L1277.19 814.52 L1277.59 815.3 L1278 816.08 L1278.4 816.87 L1278.8 817.65 L1279.2 818.43 L1279.6 819.22 L1280 820 L1280.3 819.72 L1280.6 820.42 L1280.91 821.12 L1281.21 821.81 L1281.51 822.49 L1281.81 823.15 L1282.11 823.81 L1282.42 824.46 L1282.72 825.1 L1283.02 825.73 L1283.32 826.35 L1283.62 826.96 L1283.93 827.56 L1284.23 828.14 L1284.53 828.72 L1284.83 829.29 L1285.13 829.84 L1285.44 830.38 L1285.74 830.92 L1286.04 831.47 L1286.34 832.01 L1286.64 832.55 L1286.94 833.09 L1287.25 833.62 L1287.55 834.14 L1287.85 834.64 L1288.15 835.13 L1288.45 835.59 L1288.76 836.03 L1289.06 836.44 L1289.36 836.82 L1289.66 837.16 L1289.96 837.47 L1290.27 837.75 L1290.57 838.03 L1290.87 838.32 L1291.17 838.6 L1291.47 838.87 L1291.78 839.13 L1292.08 839.37 L1292.38 839.59 L1292.68 839.79 L1292.98 839.96 L1293.29 840.1 L1293.59 840.21 L1293.89 840.28 L1294.19 840.3 L1294.49 840.3 L1294.8 840.28 L1295.1 840.26 L1295.4 840.22 L1295.7 840.18 L1296 840.13 L1296.31 840.07 L1296.61 840.01 L1296.91 839.94 L1297.21 839.87 L1297.51 839.79 L1297.81 839.7 L1298.12 839.62 L1298.42 839.52 L1298.72 839.42 L1299.02 839.28 L1299.32 839.1 L1299.63 838.88 L1299.93 838.64 L1300.23 838.37 L1300.53 838.08 L1300.83 837.78 L1301.14 837.46 L1301.44 837.14 L1301.74 836.81 L1302.04 836.49 L1302.34 836.17 L1302.65 835.85 L1302.95 835.55 L1303.25 835.25 L1303.55 834.94 L1303.85 834.63 L1304.16 834.31 L1304.46 833.99 L1304.76 833.65 L1305.06 833.32 L1305.36 832.98 L1305.67 832.63 L1305.97 832.27 L1306.27 831.91 L1306.57 831.54 L1306.87 831.16 L1307.18 830.78 L1307.48 830.39 L1307.78 829.99 L1308.08 829.58 L1308.38 829.17 L1308.69 828.75 L1308.99 828.32 L1309.29 827.88 L1309.59 827.44 L1309.89 826.98 L1310.19 826.51 L1310.5 826.02 L1310.8 825.53 L1311.1 825.02 L1311.4 824.5 L1311.7 823.95 L1312.01 823.37 L1312.31 822.77 L1312.61 822.15 L1312.91 821.51 L1313.21 820.85 L1313.52 820.17 L1313.82 819.49 L1314.12 818.8 L1314.42 818.11 L1314.72 817.42 L1315.03 816.73 L1315.33 816.05 L1315.63 815.37 L1315.93 814.71 L1316.23 814.06 L1316.54 813.4 L1316.84 812.75 L1317.14 812.1 L1317.44 811.45 L1317.74 810.8 L1318.05 810.14 L1318.35 809.48 L1318.65 808.81 L1318.95 808.14 L1319.25 807.46 L1319.56 806.77 L1319.86 806.07 L1320.16 805.36 L1320.46 804.64 L1320.76 803.92 L1321.06 803.19 L1321.37 802.45 L1321.67 801.71 L1321.97 800.96 L1322.27 800.21 L1322.57 799.45 L1322.88 798.68 L1323.18 797.91 L1323.48 797.13 L1323.78 796.34 L1324.08 795.55 L1324.39 794.76 L1324.69 793.95 L1324.99 793.14 L1325.29 792.33 L1325.59 791.51 L1325.9 790.68 L1326.2 789.84 L1326.5 789 L1326.9 788.44 L1327.3 787.54 L1327.7 786.65 L1328.1 785.76 L1328.5 784.86 L1328.9 783.97 L1329.3 783.09 L1329.71 782.2 L1330.11 781.32 L1330.51 780.44 L1330.91 779.56 L1331.31 778.68 L1331.71 777.8 L1332.11 776.93 L1332.51 776.06 L1332.91 775.19 L1333.31 774.32 L1333.71 773.45 L1334.11 772.59 L1334.51 771.73 L1334.91 770.87 L1335.32 770.01 L1335.72 769.16 L1336.12 768.3 L1336.52 767.45 L1336.92 766.6 L1337.32 765.76 L1337.72 764.91 L1338.12 764.07 L1338.52 763.23 L1338.92 762.39 L1339.32 761.55 L1339.72 760.72 L1340.12 759.89 L1340.52 759.06 L1340.93 758.23 L1341.33 757.4 L1341.73 756.58 L1342.13 755.76 L1342.53 754.94 L1342.93 754.12 L1343.33 753.31 L1343.73 752.5 L1344.13 751.69 L1344.53 750.88 L1344.93 750.07 L1345.33 749.27 L1345.73 748.47 L1346.13 747.67 L1346.53 746.88 L1346.94 746.08 L1347.34 745.29 L1347.74 744.5 L1348.14 743.72 L1348.54 742.93 L1348.94 742.15 L1349.34 741.37 L1349.74 740.59 L1350.14 739.82 L1350.54 739.04 L1350.94 738.27 L1351.34 737.51 L1351.74 736.74 L1352.14 735.98 L1352.55 735.22 L1352.95 734.46 L1353.35 733.7 L1353.75 732.95 L1354.15 732.2 L1354.55 731.45 L1354.95 730.71 L1355.35 729.96 L1355.75 729.22 L1356.15 728.49 L1356.55 727.75 L1356.95 727.02 L1357.35 726.29 L1357.75 725.56 L1358.16 724.83 L1358.56 724.11 L1358.96 723.39 L1359.36 722.67 L1359.76 721.96 L1360.16 721.25 L1360.56 720.54 L1360.96 719.83 L1361.36 719.12 L1361.76 718.42 L1362.16 717.72 L1362.56 717.03 L1362.96 716.33 L1363.36 715.64 L1363.76 714.95 L1364.17 714.27 L1364.57 713.58 L1364.97 712.9 L1365.37 712.23 L1365.77 711.55 L1366.17 710.88 L1366.57 710.21 L1366.97 709.54 L1367.37 708.88 L1367.77 708.22 L1368.17 707.56 L1368.57 706.9 L1368.97 706.25 L1369.37 705.6 L1369.78 704.95 L1370.18 704.31 L1370.58 703.67 L1370.98 703.03 L1371.38 702.39 L1371.78 701.76 L1372.18 701.13 L1372.58 700.5 L1372.98 699.88 L1373.38 699.26 L1373.78 698.64 L1374.18 698.02 L1374.58 697.41 L1374.98 696.8 L1375.38 696.19 L1375.79 695.59 L1376.19 694.99 L1376.59 694.39 L1376.99 693.79 L1377.39 693.2 L1377.79 692.61 L1378.19 692.03 L1378.59 691.44 L1378.99 690.86 L1379.39 690.29 L1379.79 689.71 L1380.19 689.14 L1380.59 688.57 L1380.99 688.01 L1381.4 687.45 L1381.8 686.89 L1382.2 686.33 L1382.6 685.78 L1383 685.23 L1383.4 684.68 L1383.8 684.14 L1384.2 683.6 L1384.6 683.06 L1385 682.53 L1385.4 682 L1385.8 681.47 L1386.2 680.95 L1386.6 680.42 L1387.01 679.91 L1387.41 679.39 L1387.81 678.88 L1388.21 678.37 L1388.61 677.87 L1389.01 677.36 L1389.41 676.87 L1389.81 676.37 L1390.21 675.88 L1390.61 675.39 L1391.01 674.9 L1391.41 674.42 L1391.81 673.94 L1392.21 673.46 L1392.61 672.99 L1393.02 672.52 L1393.42 672.05 L1393.82 671.59 L1394.22 671.13 L1394.62 670.67 L1395.02 670.22 L1395.42 669.77 L1395.82 669.32 L1396.22 668.88 L1396.62 668.44 L1397.02 668 L1397.42 667.57 L1397.82 667.14 L1398.22 666.71 L1398.63 666.28 L1399.03 665.86 L1399.43 665.44 L1399.83 665.03 L1400.23 664.62 L1400.63 664.21 L1401.03 663.8 L1401.43 663.4 L1401.83 663 L1402.23 662.61 L1402.63 662.21 L1403.03 661.82 L1403.43 661.44 L1403.83 661.05 L1404.24 660.67 L1404.64 660.3 L1405.04 659.92 L1405.44 659.55 L1405.84 659.19 L1406.24 658.82 L1406.64 658.46 L1407.04 658.11 L1407.44 657.75 L1407.84 657.4 L1408.24 657.05 L1408.64 656.71 L1409.04 656.37 L1409.44 656.03 L1409.84 655.69 L1410.25 655.36 L1410.65 655.03 L1411.05 654.71 L1411.45 654.39 L1411.85 654.07 L1412.25 653.75 L1412.65 653.44 L1413.05 653.13 L1413.45 652.82 L1413.85 652.52 L1414.25 652.22 L1414.65 651.92 L1415.05 651.63 L1415.45 651.34 L1415.86 651.05 L1416.26 650.77 L1416.66 650.49 L1417.06 650.21 L1417.46 649.94 L1417.86 649.67 L1418.26 649.4 L1418.66 649.13 L1419.06 648.87 L1419.46 648.61 L1419.86 648.36 L1420.26 648.11 L1420.66 647.86 L1421.06 647.61 L1421.47 647.37 L1421.87 647.13 L1422.27 646.9 L1422.67 646.66 L1423.07 646.43 L1423.47 646.21 L1423.87 645.98 L1424.27 645.76 L1424.67 645.55 L1425.07 645.33 L1425.47 645.12 L1425.87 644.91 L1426.27 644.71 L1426.67 644.51 L1427.07 644.31 L1427.48 644.12 L1427.88 643.92 L1428.28 643.74 L1428.68 643.55 L1429.08 643.37 L1429.48 643.19 L1429.88 643.01 L1430.28 642.84 L1430.68 642.67 L1431.08 642.51 L1431.48 642.34 L1431.88 642.18 L1432.28 642.03 L1432.68 641.87 L1433.09 641.72 L1433.49 641.58 L1433.89 641.43 L1434.29 641.29 L1434.69 641.15 L1435.09 641.02 L1435.49 640.89 L1435.89 640.76 L1436.29 640.63 L1436.69 640.51 L1437.09 640.39 L1437.49 640.28 L1437.89 640.17 L1438.29 640.06 L1438.69 639.95 L1439.1 639.85 L1439.5 639.75 L1439.9 639.65 L1440.3 639.56 L1440.7 639.47 L1441.1 639.38 L1441.5 639.3 L1441.9 639.21 L1442.3 639.14 L1442.7 639.06 L1443.1 638.99 L1443.5 638.92 L1443.9 638.86 L1444.3 638.8 L1444.71 638.74 L1445.11 638.68 L1445.51 638.63 L1445.91 638.58 L1446.31 638.53 L1446.71 638.49 L1447.11 638.45 L1447.51 638.41 L1447.91 638.38 L1448.31 638.35 L1448.71 638.32 L1449.11 638.3 L1449.51 638.28 L1449.91 638.26 L1450.32 638.24 L1450.72 638.23 L1451.12 638.22 L1451.52 638.22 L1451.92 638.22 L1452.32 638.22 L1452.72 638.22 L1453.12 638.23 L1453.52 638.24 L1453.92 638.25 L1454.32 638.27 L1454.72 638.29 L1455.12 638.31 L1455.52 638.34 L1455.92 638.37 L1456.33 638.4 L1456.73 638.43 L1457.13 638.47 L1457.53 638.51 L1457.93 638.56 L1458.33 638.61 L1458.73 638.66 L1459.13 638.71 L1459.53 638.77 L1459.93 638.83 L1460.33 638.89 L1460.73 638.96 L1461.13 639.03 L1461.53 639.1 L1461.94 639.18 L1462.34 639.26 L1462.74 639.34 L1463.14 639.43 L1463.54 639.52 L1463.94 639.61 L1464.34 639.7 L1464.74 639.8 L1465.14 639.9 L1465.54 640 L1465.94 640.11 L1466.34 640.22 L1466.74 640.34 L1467.14 640.45 L1467.55 640.57 L1467.95 640.7 L1468.35 640.82 L1468.75 640.95 L1469.15 641.08 L1469.55 641.22 L1469.95 641.36 L1470.35 641.5 L1470.75 641.64 L1471.15 641.79 L1471.55 641.94 L1471.95 642.09 L1472.35 642.25 L1472.75 642.41 L1473.15 642.57 L1473.56 642.73 L1473.96 642.9 L1474.36 643.07 L1474.76 643.25 L1475.16 643.42 L1475.56 643.6 L1475.96 643.79 L1476.36 643.97 L1476.76 644.16 L1477.16 644.35 L1477.56 644.55 L1477.96 644.75 L1478.36 644.95 L1478.76 645.15 L1479.17 645.36 L1479.57 645.56 L1479.97 645.78 L1480.37 645.99 L1480.77 646.21 L1481.17 646.43 L1481.57 646.65 L1481.97 646.88 L1482.37 647.11 L1482.77 647.34 L1483.17 647.57 L1483.57 647.81 L1483.97 648.05 L1484.37 648.29 L1484.78 648.54 L1485.18 648.79 L1485.58 649.04 L1485.98 649.29 L1486.38 649.55 L1486.78 649.81 L1487.18 650.07 L1487.58 650.34 L1487.98 650.6 L1488.38 650.87 L1488.78 651.15 L1489.18 651.42 L1489.58 651.7 L1489.98 651.98 L1490.38 652.26 L1490.79 652.55 L1491.19 652.84 L1491.59 653.13 L1491.99 653.43 L1492.39 653.72 L1492.79 654.02 L1493.19 654.32 L1493.59 654.63 L1493.99 654.94 L1494.39 655.25 L1494.79 655.56 L1495.19 655.87 L1495.59 656.19 L1495.99 656.51 L1496.4 656.84 L1496.8 657.16 L1497.2 657.49 L1497.6 657.82 L1498 658.15 L1498.4 658.49 L1498.8 658.83 L1499.2 659.17 L1499.6 659.51 L1500 659.85 L1500.4 660.2 L1500.8 660.55 L1501.2 660.91 L1501.6 661.26 L1502.01 661.62 L1502.41 661.98 L1502.81 662.34 L1503.21 662.71 L1503.61 663.07 L1504.01 663.44 L1504.41 663.82 L1504.81 664.19 L1505.21 664.57 L1505.61 664.95 L1506.01 665.33 L1506.41 665.72 L1506.81 666.1 L1507.21 666.49 L1507.61 666.88 L1508.02 667.28 L1508.42 667.67 L1508.82 668.07 L1509.22 668.47 L1509.62 668.87 L1510.02 669.28 L1510.42 669.69 L1510.82 670.1 L1511.22 670.51 L1511.62 670.92 L1512.02 671.34 L1512.42 671.76 L1512.82 672.18 L1513.22 672.6 L1513.63 673.03 L1514.03 673.46 L1514.43 673.89 L1514.83 674.32 L1515.23 674.76 L1515.63 675.19 L1516.03 675.63 L1516.43 676.07 L1516.83 676.52 L1517.23 676.96 L1517.63 677.41 L1518.03 677.86 L1518.43 678.31 L1518.83 678.77 L1519.23 679.22 L1519.64 679.68 L1520.04 680.14 L1520.44 680.6 L1520.84 681.07 L1521.24 681.54 L1521.64 682 L1522.04 682.48 L1522.44 682.95 L1522.84 683.42 L1523.24 683.9 L1523.64 684.38 L1524.04 684.86 L1524.44 685.35 L1524.84 685.83 L1525.25 686.32 L1525.65 686.81 L1526.05 687.3 L1526.45 687.79 L1526.85 688.29 L1527.25 688.79 L1527.65 689.28 L1528.05 689.79 L1528.45 690.29 L1528.85 690.79 L1529.25 691.3 L1529.65 691.81 L1530.05 692.32 L1530.45 692.84 L1530.86 693.35 L1531.26 693.87 L1531.66 694.39 L1532.06 694.91 L1532.46 695.43 L1532.86 695.95 L1533.26 696.48 L1533.66 697.01 L1534.06 697.54 L1534.46 698.07 L1534.86 698.6 L1535.26 699.14 L1535.66 699.68 L1536.06 700.22 L1536.46 700.76 L1536.87 701.3 L1537.27 701.85 L1537.67 702.39 L1538.07 702.94 L1538.47 703.49 L1538.87 704.04 L1539.27 704.6 L1539.67 705.15 L1540.07 705.71 L1540.47 706.27 L1540.87 706.83 L1541.27 707.39 L1541.67 707.95 L1542.07 708.52 L1542.48 709.09 L1542.88 709.66 L1543.28 710.23 L1543.68 710.8 L1544.08 711.37 L1544.48 711.95 L1544.88 712.53 L1545.28 713.11 L1545.68 713.69 L1546.08 714.27 L1546.48 714.85 L1546.88 715.44 L1547.28 716.03 L1547.68 716.61 L1548.09 717.2 L1548.49 717.79 L1548.89 718.39 L1549.29 718.98 L1549.69 719.58 L1550.09 720.18 L1550.49 720.77 L1550.89 721.37 L1551.29 721.98 L1551.69 722.58 L1552.09 723.18 L1552.49 723.79 L1552.89 724.39 L1553.29 725 L1553.69 725.61 L1554.1 726.22 L1554.5 726.83 L1554.9 727.45 L1555.3 728.06 L1555.7 728.68 L1556.1 729.29 L1556.5 729.91 L1556.9 730.53 L1557.3 731.15 L1557.7 731.77 L1558.1 732.4 L1558.5 733.02 L1558.9 733.64 L1559.3 734.27 L1559.71 734.9 L1560.11 735.53 L1560.51 736.15 L1560.91 736.78 L1561.31 737.42 L1561.71 738.05 L1562.11 738.68 L1562.51 739.31 L1562.91 739.95 L1563.31 740.58 L1563.71 741.22 L1564.11 741.86 L1564.51 742.5 L1564.91 743.14 L1565.32 743.78 L1565.72 744.42 L1566.12 745.06 L1566.52 745.7 L1566.92 746.35 L1567.32 746.99 L1567.72 747.64 L1568.12 748.28 L1568.52 748.93 L1568.92 749.57 L1569.32 750.22 L1569.72 750.87 L1570.12 751.52 L1570.52 752.17 L1570.92 752.82 L1571.33 753.47 L1571.73 754.12 L1572.13 754.78 L1572.53 755.43 L1572.93 756.08 L1573.33 756.74 L1573.73 757.39 L1574.13 758.05 L1574.53 758.7 L1574.93 759.36 L1575.33 760.01 L1575.73 760.67 L1576.13 761.33 L1576.53 761.98 L1576.94 762.64 L1577.34 763.3 L1577.74 763.96 L1578.14 764.62 L1578.54 765.28 L1578.94 765.94 L1579.34 766.6 L1579.74 767.26 L1580.14 767.92 L1580.54 768.58 L1580.94 769.24 L1581.34 769.9 L1581.74 770.57 L1582.14 771.23 L1582.54 771.89 L1582.95 772.55 L1583.35 773.22 L1583.75 773.88 L1584.15 774.54 L1584.55 775.2 L1584.95 775.87 L1585.35 776.53 L1585.75 777.19 L1586.15 777.86 L1586.55 778.52 L1586.95 779.18 L1587.35 779.85 L1587.75 780.51 L1588.15 781.17 L1588.56 781.84 L1588.96 782.5 L1589.36 783.16 L1589.76 783.82 L1590.16 784.49 L1590.56 785.15 L1590.96 785.81 L1591.36 786.47 L1591.76 787.14 L1592.16 787.8 L1592.56 788.46 L1592.96 789.12 L1593.36 789.78 L1593.76 790.45 L1594.17 791.11 L1594.57 791.77 L1594.97 792.43 L1595.37 793.09 L1595.77 793.75 L1596.17 794.41 L1596.57 795.07 L1596.97 795.73 L1597.37 796.38 L1597.77 797.04 L1598.17 797.7 L1598.57 798.36 L1598.97 799.01 L1599.37 799.67 L1599.77 800.33 L1600.18 800.98 L1600.58 801.64 L1600.98 802.29 L1601.38 802.94 L1601.78 803.6 L1602.18 804.25 L1602.58 804.9 L1602.98 805.55 L1603.38 806.2 L1603.78 806.85 L1604.18 807.5 L1604.58 808.15 L1604.98 808.8 L1605.38 809.45 L1605.79 810.1 L1606.19 810.74 L1606.59 811.39 L1606.99 812.03 L1607.39 812.68 L1607.79 813.32 L1608.19 813.96 L1608.59 814.6 L1608.99 815.24 L1609.39 815.88 L1609.79 816.52 L1610.19 817.16 L1610.59 817.8 L1610.99 818.44 L1611.4 819.07 L1611.8 819.71 L1612.2 820.34 L1612.6 820.97 L1613 821.6 L1613.4 822.24 L1613.8 822.86 L1614.2 823.49" fill="none" stroke="#ff0000" stroke-width="4.2" stroke-linecap="butt" stroke-linejoin="round" stroke-dasharray="11.6 11" clip-path="url(#cc)"/>
<path d="M953 913.6 L953.2 913.6 L953.4 913.6 L953.6 913.61 L953.8 913.62 L954 913.63 L954.2 913.64 L954.4 913.65 L954.61 913.66 L954.81 913.68 L955.01 913.7 L955.21 913.71 L955.41 913.73 L955.61 913.76 L955.81 913.78 L956.01 913.8 L956.21 913.83 L956.41 913.88 L956.61 913.95 L956.81 914.02 L957.01 914.11 L957.21 914.21 L957.42 914.32 L957.62 914.45 L957.82 914.58 L958.02 914.72 L958.22 914.86 L958.42 915.01 L958.62 915.17 L958.82 915.33 L959.02 915.51 L959.22 915.71 L959.42 915.94 L959.62 916.2 L959.82 916.48 L960.02 916.79 L960.23 917.11 L960.43 917.45 L960.63 917.81 L960.83 918.18 L961.03 918.55 L961.23 918.95 L961.43 919.38 L961.63 919.84 L961.83 920.33 L962.03 920.85 L962.23 921.4 L962.43 921.97 L962.63 922.57 L962.83 923.19 L963.04 923.84 L963.24 924.53 L963.44 925.26 L963.64 926.03 L963.84 926.86 L964.04 927.74 L964.24 928.68 L964.44 929.69 L964.64 930.8 L964.84 932.1 L965.04 933.54 L965.24 935.06 L965.44 936.6 L965.64 938.1 L965.85 939.51 L966.05 940.85 L966.25 942.17 L966.45 943.47 L966.65 944.77 L966.85 946.06 L967.05 947.36 L967.25 948.67 L967.45 949.99 L967.65 951.3 L967.85 952.61 L968.05 953.93 L968.25 955.26 L968.45 956.61 L968.65 957.98 L968.86 959.4 L969.06 960.87 L969.26 962.39 L969.46 963.93 L969.66 965.47 L969.86 966.98 L970.06 968.44 L970.26 969.97 L970.46 971.48 L970.66 972.8 L970.86 973.76 L971.06 974.53 L971.26 975.2 L971.46 975.79 L971.67 976.33 L971.87 976.83 L972.07 977.33 L972.27 977.85 L972.47 978.41 L972.67 979 L972.87 979.6 L973.07 980.2 L973.27 980.8 L973.47 981.4 L973.67 982 L973.87 982.6 L974.07 983.2 L974.27 983.81 L974.48 984.42 L974.68 985.03 L974.88 985.64 L975.08 986.26 L975.28 986.88 L975.48 987.51 L975.68 988.14 L975.88 988.77 L976.08 989.42 L976.28 990.07 L976.48 990.72 L976.68 991.38 L976.88 992.04 L977.08 992.71 L977.29 993.37 L977.49 994.04 L977.69 994.71 L977.89 995.37 L978.09 996.03 L978.29 996.69 L978.49 997.35 L978.69 998 L978.89 998.66 L979.09 999.32 L979.29 999.97 L979.49 1000.63 L979.69 1001.29 L979.89 1001.94 L980.1 1002.6 L980.3 1003.26 L980.5 1003.93 L980.7 1004.59 L980.9 1005.26 L981.1 1005.92 L981.3 1006.59 L981.5 1007.25 L981.7 1007.92 L981.9 1008.59 L982.1 1009.26 L982.3 1009.93 L982.5 1010.61 L982.7 1011.29 L982.9 1011.98 L983.11 1012.67 L983.31 1013.38 L983.51 1014.12 L983.71 1014.89 L983.91 1015.66 L984.11 1016.44 L984.31 1017.2 L984.51 1017.93 L984.71 1018.62 L984.91 1019.25 L985.11 1019.83 L985.31 1020.47 L985.51 1021.03 L985.71 1021.36 L985.92 1021.31 L986.12 1020.76 L986.32 1019.85 L986.52 1018.72 L986.72 1017.49 L986.92 1016.22 L987.12 1014.61 L987.32 1012.75 L987.52 1010.76 L987.72 1008.79 L987.92 1006.78 L988.12 1004.69 L988.32 1002.53 L988.52 1000.33 L988.73 998.1 L988.93 995.77 L989.13 993.4 L989.33 991.05 L989.53 988.78 L989.73 986.62 L989.93 984.47 L990.13 982.38 L990.33 980.4 L990.53 978.58 L990.73 976.94 L990.93 975.42 L991.13 974 L991.33 972.67 L991.54 971.4 L991.74 970.17 L991.94 968.97 L992.14 967.81 L992.34 966.71 L992.54 965.69 L992.74 964.76 L992.94 963.92 L993.14 963.11 L993.34 962.33 L993.54 961.59 L993.74 960.89 L993.94 960.24 L994.14 959.64 L994.35 959.1 L994.55 958.62 L994.75 958.19 L994.95 957.79 L995.15 957.42 L995.35 957.07 L995.55 956.74 L995.75 956.44 L995.95 956.16 L996.15 955.9 L996.35 955.66 L996.55 955.44 L996.75 955.24 L996.95 955.04 L997.15 954.85 L997.36 954.67 L997.56 954.5 L997.76 954.33 L997.96 954.17 L998.16 954.02 L998.36 953.88 L998.56 953.74 L998.76 953.61 L998.96 953.49 L999.16 953.38 L999.36 953.27 L999.56 953.17 L999.76 953.07 L999.96 952.98 L1000.17 952.89 L1000.37 952.81 L1000.57 952.72 L1000.77 952.64 L1000.97 952.57 L1001.17 952.49 L1001.37 952.42 L1001.57 952.35 L1001.77 952.29 L1001.97 952.22 L1002.17 952.16 L1002.37 952.09 L1002.57 952.03 L1002.77 951.97 L1002.98 951.91 L1003.18 951.85 L1003.38 951.79 L1003.58 951.73 L1003.78 951.67 L1003.98 951.61 L1004.18 951.55 L1004.38 951.48 L1004.58 951.42 L1004.78 951.36 L1004.98 951.3 L1005.18 951.24 L1005.38 951.19 L1005.58 951.13 L1005.79 951.07 L1005.99 951.01 L1006.19 950.96 L1006.39 950.9 L1006.59 950.84 L1006.79 950.79 L1006.99 950.73 L1007.19 950.68 L1007.39 950.63 L1007.59 950.58 L1007.79 950.52 L1007.99 950.47 L1008.19 950.42 L1008.39 950.37 L1008.6 950.32 L1008.8 950.27 L1009 950.23 L1009.2 950.18 L1009.4 950.13 L1009.6 950.09 L1009.8 950.04 L1010 950 L1010.5 949.86 L1011 949.71 L1011.5 949.57 L1012 949.42 L1012.5 949.28 L1013.01 949.13 L1013.51 948.99 L1014.01 948.84 L1014.51 948.7 L1015.01 948.55 L1015.51 948.41 L1016.01 948.26 L1016.51 948.12 L1017.01 947.97 L1017.51 947.82 L1018.02 947.68 L1018.52 947.53 L1019.02 947.38 L1019.52 947.24 L1020.02 947.09 L1020.52 946.94 L1021.02 946.79 L1021.52 946.65 L1022.02 946.5 L1022.52 946.36 L1023.02 946.21 L1023.53 946.06 L1024.03 945.92 L1024.53 945.77 L1025.03 945.62 L1025.53 945.48 L1026.03 945.33 L1026.53 945.19 L1027.03 945.04 L1027.53 944.9 L1028.03 944.75 L1028.54 944.6 L1029.04 944.46 L1029.54 944.31 L1030.04 944.16 L1030.54 944.02 L1031.04 943.87 L1031.54 943.72 L1032.04 943.58 L1032.54 943.43 L1033.04 943.28 L1033.55 943.14 L1034.05 942.99 L1034.55 942.84 L1035.05 942.69 L1035.55 942.54 L1036.05 942.39 L1036.55 942.25 L1037.05 942.1 L1037.55 941.95 L1038.05 941.8 L1038.55 941.65 L1039.06 941.5 L1039.56 941.34 L1040.06 941.19 L1040.56 941.04 L1041.06 940.89 L1041.56 940.74 L1042.06 940.58 L1042.56 940.43 L1043.06 940.27 L1043.56 940.12 L1044.07 939.96 L1044.57 939.81 L1045.07 939.65 L1045.57 939.49 L1046.07 939.34 L1046.57 939.18 L1047.07 939.02 L1047.57 938.86 L1048.07 938.7 L1048.57 938.54 L1049.07 938.38 L1049.58 938.21 L1050.08 938.05 L1050.58 937.89 L1051.08 937.72 L1051.58 937.56 L1052.08 937.39 L1052.58 937.22 L1053.08 937.06 L1053.58 936.89 L1054.08 936.72 L1054.59 936.55 L1055.09 936.38 L1055.59 936.21 L1056.09 936.04 L1056.59 935.86 L1057.09 935.69 L1057.59 935.52 L1058.09 935.34 L1058.59 935.17 L1059.09 934.99 L1059.6 934.82 L1060.1 934.64 L1060.6 934.47 L1061.1 934.29 L1061.6 934.11 L1062.1 933.94 L1062.6 933.76 L1063.1 933.58 L1063.6 933.4 L1064.1 933.22 L1064.6 933.04 L1065.11 932.86 L1065.61 932.68 L1066.11 932.5 L1066.61 932.32 L1067.11 932.14 L1067.61 931.96 L1068.11 931.78 L1068.61 931.6 L1069.11 931.42 L1069.61 931.24 L1070.12 931.05 L1070.62 930.87 L1071.12 930.69 L1071.62 930.51 L1072.12 930.33 L1072.62 930.14 L1073.12 929.96 L1073.62 929.78 L1074.12 929.6 L1074.62 929.42 L1075.12 929.23 L1075.63 929.05 L1076.13 928.87 L1076.63 928.69 L1077.13 928.51 L1077.63 928.32 L1078.13 928.14 L1078.63 927.96 L1079.13 927.78 L1079.63 927.6 L1080.13 927.42 L1080.64 927.24 L1081.14 927.05 L1081.64 926.87 L1082.14 926.69 L1082.64 926.51 L1083.14 926.33 L1083.64 926.16 L1084.14 925.98 L1084.64 925.8 L1085.14 925.62 L1085.64 925.44 L1086.15 925.26 L1086.65 925.09 L1087.15 924.91 L1087.65 924.73 L1088.15 924.56 L1088.65 924.38 L1089.15 924.21 L1089.65 924.03 L1090.15 923.86 L1090.65 923.68 L1091.16 923.5 L1091.66 923.33 L1092.16 923.15 L1092.66 922.97 L1093.16 922.8 L1093.66 922.62 L1094.16 922.44 L1094.66 922.26 L1095.16 922.08 L1095.66 921.91 L1096.17 921.73 L1096.67 921.55 L1097.17 921.37 L1097.67 921.19 L1098.17 921.02 L1098.67 920.84 L1099.17 920.66 L1099.67 920.48 L1100.17 920.3 L1100.67 920.12 L1101.17 919.95 L1101.68 919.77 L1102.18 919.59 L1102.68 919.41 L1103.18 919.23 L1103.68 919.05 L1104.18 918.88 L1104.68 918.7 L1105.18 918.52 L1105.68 918.34 L1106.18 918.17 L1106.69 917.99 L1107.19 917.81 L1107.69 917.63 L1108.19 917.46 L1108.69 917.28 L1109.19 917.1 L1109.69 916.93 L1110.19 916.75 L1110.69 916.58 L1111.19 916.4 L1111.69 916.23 L1112.2 916.05 L1112.7 915.88 L1113.2 915.7 L1113.7 915.53 L1114.2 915.35 L1114.7 915.18 L1115.2 915.01 L1115.7 914.84 L1116.2 914.66 L1116.7 914.49 L1117.21 914.32 L1117.71 914.15 L1118.21 913.98 L1118.71 913.81 L1119.21 913.64 L1119.71 913.47 L1120.21 913.31 L1120.71 913.14 L1121.21 912.97 L1121.71 912.8 L1122.21 912.64 L1122.72 912.47 L1123.22 912.31 L1123.72 912.14 L1124.22 911.98 L1124.72 911.82 L1125.22 911.65 L1125.72 911.49 L1126.22 911.33 L1126.72 911.17 L1127.22 911.01 L1127.73 910.85 L1128.23 910.69 L1128.73 910.53 L1129.23 910.38 L1129.73 910.22 L1130.23 910.06 L1130.73 909.9 L1131.23 909.74 L1131.73 909.59 L1132.23 909.43 L1132.74 909.27 L1133.24 909.11 L1133.74 908.96 L1134.24 908.8 L1134.74 908.64 L1135.24 908.49 L1135.74 908.33 L1136.24 908.17 L1136.74 908.02 L1137.24 907.86 L1137.74 907.71 L1138.25 907.55 L1138.75 907.4 L1139.25 907.24 L1139.75 907.09 L1140.25 906.93 L1140.75 906.78 L1141.25 906.63 L1141.75 906.47 L1142.25 906.32 L1142.75 906.17 L1143.26 906.01 L1143.76 905.86 L1144.26 905.71 L1144.76 905.56 L1145.26 905.41 L1145.76 905.26 L1146.26 905.11 L1146.76 904.96 L1147.26 904.81 L1147.76 904.66 L1148.26 904.51 L1148.77 904.37 L1149.27 904.22 L1149.77 904.07 L1150.27 903.93 L1150.77 903.78 L1151.27 903.63 L1151.77 903.49 L1152.27 903.35 L1152.77 903.2 L1153.27 903.06 L1153.78 902.92 L1154.28 902.77 L1154.78 902.63 L1155.28 902.49 L1155.78 902.35 L1156.28 902.21 L1156.78 902.07 L1157.28 901.94 L1157.78 901.8 L1158.28 901.66 L1158.79 901.53 L1159.29 901.39 L1159.79 901.25 L1160.29 901.12 L1160.79 900.99 L1161.29 900.85 L1161.79 900.72 L1162.29 900.59 L1162.79 900.46 L1163.29 900.33 L1163.79 900.2 L1164.3 900.07 L1164.8 899.95 L1165.3 899.82 L1165.8 899.69 L1166.3 899.57 L1166.8 899.45 L1167.3 899.32 L1167.8 899.2 L1168.3 899.08 L1168.8 898.96 L1169.31 898.84 L1169.81 898.72 L1170.31 898.6 L1170.81 898.48 L1171.31 898.36 L1171.81 898.24 L1172.31 898.12 L1172.81 898.01 L1173.31 897.89 L1173.81 897.77 L1174.31 897.66 L1174.82 897.54 L1175.32 897.43 L1175.82 897.31 L1176.32 897.2 L1176.82 897.09 L1177.32 896.97 L1177.82 896.86 L1178.32 896.75 L1178.82 896.64 L1179.32 896.53 L1179.83 896.42 L1180.33 896.31 L1180.83 896.2 L1181.33 896.09 L1181.83 895.98 L1182.33 895.87 L1182.83 895.76 L1183.33 895.65 L1183.83 895.55 L1184.33 895.44 L1184.83 895.33 L1185.34 895.23 L1185.84 895.12 L1186.34 895.02 L1186.84 894.91 L1187.34 894.81 L1187.84 894.7 L1188.34 894.6 L1188.84 894.5 L1189.34 894.39 L1189.84 894.29 L1190.35 894.19 L1190.85 894.09 L1191.35 893.99 L1191.85 893.88 L1192.35 893.78 L1192.85 893.68 L1193.35 893.58 L1193.85 893.48 L1194.35 893.38 L1194.85 893.29 L1195.36 893.19 L1195.86 893.09 L1196.36 892.99 L1196.86 892.89 L1197.36 892.79 L1197.86 892.7 L1198.36 892.6 L1198.86 892.5 L1199.36 892.41 L1199.86 892.31 L1200.36 892.22 L1200.87 892.12 L1201.37 892.03 L1201.87 891.93 L1202.37 891.84 L1202.87 891.74 L1203.37 891.65 L1203.87 891.55 L1204.37 891.46 L1204.87 891.37 L1205.37 891.27 L1205.88 891.18 L1206.38 891.09 L1206.88 891 L1207.38 890.9 L1207.88 890.81 L1208.38 890.72 L1208.88 890.63 L1209.38 890.53 L1209.88 890.44 L1210.38 890.34 L1210.88 890.25 L1211.39 890.15 L1211.89 890.05 L1212.39 889.96 L1212.89 889.86 L1213.39 889.76 L1213.89 889.67 L1214.39 889.57 L1214.89 889.47 L1215.39 889.38 L1215.89 889.28 L1216.4 889.18 L1216.9 889.09 L1217.4 888.99 L1217.9 888.9 L1218.4 888.8 L1218.9 888.71 L1219.4 888.61 L1219.9 888.52 L1220.4 888.43 L1220.9 888.33 L1221.4 888.24 L1221.91 888.15 L1222.41 888.06 L1222.91 887.97 L1223.41 887.88 L1223.91 887.79 L1224.41 887.71 L1224.91 887.62 L1225.41 887.54 L1225.91 887.45 L1226.41 887.37 L1226.92 887.29 L1227.42 887.21 L1227.92 887.13 L1228.42 887.06 L1228.92 886.98 L1229.42 886.91 L1229.92 886.83 L1230.42 886.76 L1230.92 886.69 L1231.42 886.63 L1231.93 886.56 L1232.43 886.5 L1232.93 886.44 L1233.43 886.38 L1233.93 886.32 L1234.43 886.26 L1234.93 886.21 L1235.43 886.16 L1235.93 886.11 L1236.43 886.06 L1236.93 886.01 L1237.44 885.97 L1237.94 885.93 L1238.44 885.88 L1238.94 885.84 L1239.44 885.8 L1239.94 885.75 L1240.44 885.71 L1240.94 885.67 L1241.44 885.62 L1241.94 885.58 L1242.45 885.54 L1242.95 885.5 L1243.45 885.46 L1243.95 885.42 L1244.45 885.38 L1244.95 885.34 L1245.45 885.3 L1245.95 885.26 L1246.45 885.23 L1246.95 885.19 L1247.45 885.16 L1247.96 885.12 L1248.46 885.09 L1248.96 885.06 L1249.46 885.03 L1249.96 885 L1250.46 884.98 L1250.96 884.95 L1251.46 884.93 L1251.96 884.91 L1252.46 884.89 L1252.97 884.87 L1253.47 884.85 L1253.97 884.84 L1254.47 884.83 L1254.97 884.82 L1255.47 884.81 L1255.97 884.8 L1256.47 884.8 L1256.97 884.8 L1257.47 884.8 L1257.98 884.8 L1258.48 884.8 L1258.98 884.81 L1259.48 884.81 L1259.98 884.81 L1260.48 884.82 L1260.98 884.82 L1261.48 884.83 L1261.98 884.83 L1262.48 884.84 L1262.98 884.85 L1263.49 884.86 L1263.99 884.87 L1264.49 884.88 L1264.99 884.89 L1265.49 884.9 L1265.99 884.91 L1266.49 884.94 L1266.99 884.99 L1267.49 885.04 L1267.99 885.1 L1268.5 885.18 L1269 885.25 L1269.5 885.34 L1270 885.42 L1270.5 885.51 L1271 885.6 L1271.2 885.64 L1271.4 885.68 L1271.6 885.72 L1271.8 885.76 L1272 885.81 L1272.21 885.86 L1272.41 885.91 L1272.61 885.97 L1272.81 886.02 L1273.01 886.08 L1273.21 886.14 L1273.41 886.2 L1273.61 886.27 L1273.81 886.33 L1274.01 886.4 L1274.21 886.47 L1274.42 886.54 L1274.62 886.61 L1274.82 886.68 L1275.02 886.75 L1275.22 886.83 L1275.42 886.92 L1275.62 887 L1275.82 887.09 L1276.02 887.18 L1276.22 887.28 L1276.42 887.37 L1276.63 887.47 L1276.83 887.58 L1277.03 887.68 L1277.23 887.79 L1277.43 887.89 L1277.63 888 L1277.83 888.12 L1278.03 888.23 L1278.23 888.34 L1278.43 888.46 L1278.64 888.58 L1278.84 888.7 L1279.04 888.83 L1279.24 888.95 L1279.44 889.08 L1279.64 889.21 L1279.84 889.35 L1280.04 889.49 L1280.24 889.63 L1280.44 889.78 L1280.64 889.93 L1280.85 890.08 L1281.05 890.24 L1281.25 890.4 L1281.45 890.56 L1281.65 890.73 L1281.85 890.9 L1282.05 891.08 L1282.25 891.26 L1282.45 891.44 L1282.65 891.63 L1282.85 891.83 L1283.06 892.03 L1283.26 892.24 L1283.46 892.46 L1283.66 892.69 L1283.86 892.91 L1284.06 893.15 L1284.26 893.39 L1284.46 893.64 L1284.66 893.89 L1284.86 894.15 L1285.06 894.42 L1285.27 894.69 L1285.47 894.97 L1285.67 895.25 L1285.87 895.55 L1286.07 895.85 L1286.27 896.17 L1286.47 896.5 L1286.67 896.85 L1286.87 897.2 L1287.07 897.56 L1287.28 897.94 L1287.48 898.31 L1287.68 898.7 L1287.88 899.08 L1288.08 899.48 L1288.28 899.87 L1288.48 900.27 L1288.68 900.66 L1288.88 901.06 L1289.08 901.46 L1289.28 901.86 L1289.49 902.27 L1289.69 902.69 L1289.89 903.11 L1290.09 903.53 L1290.29 903.97 L1290.49 904.41 L1290.69 904.86 L1290.89 905.33 L1291.09 905.8 L1291.29 906.29 L1291.49 906.79 L1291.7 907.3 L1291.9 907.84 L1292.1 908.39 L1292.3 908.95 L1292.5 909.54 L1292.7 910.13 L1292.9 910.74 L1293.1 911.36 L1293.3 912 L1293.5 912.64 L1293.7 913.29 L1293.91 913.95 L1294.11 914.63 L1294.31 915.32 L1294.51 916.03 L1294.71 916.76 L1294.91 917.5 L1295.11 918.25 L1295.31 919.01 L1295.51 919.78 L1295.71 920.56 L1295.91 921.35 L1296.12 922.16 L1296.32 922.98 L1296.52 923.82 L1296.72 924.67 L1296.92 925.52 L1297.12 926.39 L1297.32 927.26 L1297.52 928.13 L1297.72 929 L1297.92 929.88 L1298.12 930.77 L1298.33 931.67 L1298.53 932.58 L1298.73 933.49 L1298.93 934.4 L1299.13 935.31 L1299.33 936.21 L1299.53 937.1 L1299.73 937.98 L1299.93 938.86 L1300.13 939.74 L1300.34 940.62 L1300.54 941.49 L1300.74 942.36 L1300.94 943.22 L1301.14 944.08 L1301.34 944.93 L1301.54 945.77 L1301.74 946.62 L1301.94 947.46 L1302.14 948.31 L1302.34 949.15 L1302.55 949.99 L1302.75 950.8 L1302.95 951.6 L1303.15 952.37 L1303.35 953.12 L1303.55 953.84 L1303.75 954.56 L1303.95 955.27 L1304.15 955.96 L1304.35 956.64 L1304.55 957.29 L1304.76 957.92 L1304.96 958.5 L1305.16 959.04 L1305.36 959.54 L1305.56 960.02 L1305.76 960.49 L1305.96 960.94 L1306.16 961.38 L1306.36 961.79 L1306.56 962.19 L1306.76 962.55 L1306.97 962.89 L1307.17 963.19 L1307.37 963.45 L1307.57 963.67 L1307.77 963.89 L1307.97 964.1 L1308.17 964.31 L1308.37 964.51 L1308.57 964.69 L1308.77 964.86 L1308.97 965 L1309.18 965.12 L1309.38 965.22 L1309.58 965.28 L1309.78 965.3 L1309.98 965.29 L1310.18 965.27 L1310.38 965.24 L1310.58 965.19 L1310.78 965.13 L1310.98 965.07 L1311.19 964.99 L1311.39 964.91 L1311.59 964.82 L1311.79 964.73 L1311.99 964.64 L1312.19 964.55 L1312.39 964.45 L1312.59 964.36 L1312.79 964.25 L1312.99 964.13 L1313.19 964 L1313.4 963.86 L1313.6 963.71 L1313.8 963.55 L1314 963.39 L1314.2 963.22 L1314.4 963.05 L1314.6 962.87 L1314.8 962.69 L1315 962.52 L1315.2 962.34 L1315.4 962.17 L1315.61 962 L1315.81 961.82 L1316.01 961.65 L1316.21 961.46 L1316.41 961.28 L1316.61 961.09 L1316.81 960.9 L1317.01 960.71 L1317.21 960.51 L1317.41 960.32 L1317.61 960.12 L1317.82 959.93 L1318.02 959.74 L1318.22 959.55 L1318.42 959.36 L1318.62 959.18 L1318.82 959 L1319.02 958.83 L1319.22 958.66 L1319.42 958.5 L1319.62 958.34 L1319.82 958.19 L1320.03 958.03 L1320.23 957.87 L1320.43 957.72 L1320.63 957.57 L1320.83 957.42 L1321.03 957.27 L1321.23 957.12 L1321.43 956.98 L1321.63 956.84 L1321.83 956.7 L1322.04 956.57 L1322.24 956.44 L1322.44 956.31 L1322.64 956.18 L1322.84 956.06 L1323.04 955.95 L1323.24 955.83 L1323.44 955.72 L1323.64 955.62 L1323.84 955.51 L1324.04 955.4 L1324.25 955.3 L1324.45 955.2 L1324.65 955.1 L1324.85 955 L1325.05 954.9 L1325.25 954.81 L1325.45 954.71 L1325.65 954.62 L1325.85 954.53 L1326.05 954.44 L1326.25 954.35 L1326.46 954.27 L1326.66 954.18 L1326.86 954.1 L1327.06 954.02 L1327.26 953.94 L1327.46 953.86 L1327.66 953.78 L1327.86 953.7 L1328.06 953.63 L1328.26 953.56 L1328.46 953.48 L1328.67 953.41 L1328.87 953.35 L1329.07 953.28 L1329.27 953.21 L1329.47 953.14 L1329.67 953.08 L1329.87 953.01 L1330.07 952.95 L1330.27 952.88 L1330.47 952.82 L1330.67 952.76 L1330.88 952.69 L1331.08 952.63 L1331.28 952.57 L1331.48 952.51 L1331.68 952.45 L1331.88 952.39 L1332.08 952.34 L1332.28 952.28 L1332.48 952.22 L1332.68 952.17 L1332.89 952.12 L1333.09 952.06 L1333.29 952.01 L1333.49 951.96 L1333.69 951.91 L1333.89 951.86 L1334.09 951.81 L1334.29 951.77 L1334.49 951.72 L1334.69 951.68 L1334.89 951.63 L1335.1 951.59 L1335.3 951.55 L1335.5 951.51 L1335.7 951.47 L1335.9 951.44 L1336.1 951.4 L1336.5 951.54 L1336.9 951.44 L1337.3 951.33 L1337.7 951.23 L1338.1 951.12 L1338.5 951.02 L1338.91 950.91 L1339.31 950.81 L1339.71 950.7 L1340.11 950.6 L1340.51 950.49 L1340.91 950.38 L1341.31 950.28 L1341.71 950.17 L1342.11 950.06 L1342.51 949.95 L1342.91 949.85 L1343.31 949.74 L1343.71 949.63 L1344.11 949.52 L1344.52 949.41 L1344.92 949.31 L1345.32 949.2 L1345.72 949.09 L1346.12 948.98 L1346.52 948.87 L1346.92 948.76 L1347.32 948.65 L1347.72 948.54 L1348.12 948.43 L1348.52 948.32 L1348.92 948.21 L1349.32 948.1 L1349.72 947.99 L1350.13 947.88 L1350.53 947.76 L1350.93 947.65 L1351.33 947.54 L1351.73 947.43 L1352.13 947.32 L1352.53 947.2 L1352.93 947.09 L1353.33 946.98 L1353.73 946.87 L1354.13 946.75 L1354.53 946.64 L1354.93 946.53 L1355.33 946.41 L1355.74 946.3 L1356.14 946.19 L1356.54 946.07 L1356.94 945.96 L1357.34 945.84 L1357.74 945.73 L1358.14 945.61 L1358.54 945.5 L1358.94 945.38 L1359.34 945.27 L1359.74 945.15 L1360.14 945.04 L1360.54 944.92 L1360.94 944.81 L1361.35 944.69 L1361.75 944.57 L1362.15 944.46 L1362.55 944.34 L1362.95 944.22 L1363.35 944.11 L1363.75 943.99 L1364.15 943.87 L1364.55 943.75 L1364.95 943.64 L1365.35 943.52 L1365.75 943.4 L1366.15 943.28 L1366.55 943.17 L1366.96 943.05 L1367.36 942.93 L1367.76 942.81 L1368.16 942.69 L1368.56 942.57 L1368.96 942.45 L1369.36 942.33 L1369.76 942.22 L1370.16 942.1 L1370.56 941.98 L1370.96 941.86 L1371.36 941.74 L1371.76 941.62 L1372.16 941.5 L1372.57 941.38 L1372.97 941.26 L1373.37 941.14 L1373.77 941.02 L1374.17 940.89 L1374.57 940.77 L1374.97 940.65 L1375.37 940.53 L1375.77 940.41 L1376.17 940.29 L1376.57 940.17 L1376.97 940.05 L1377.37 939.92 L1377.77 939.8 L1378.18 939.68 L1378.58 939.56 L1378.98 939.44 L1379.38 939.31 L1379.78 939.19 L1380.18 939.07 L1380.58 938.95 L1380.98 938.82 L1381.38 938.7 L1381.78 938.58 L1382.18 938.46 L1382.58 938.33 L1382.98 938.21 L1383.39 938.09 L1383.79 937.96 L1384.19 937.84 L1384.59 937.72 L1384.99 937.59 L1385.39 937.47 L1385.79 937.34 L1386.19 937.22 L1386.59 937.1 L1386.99 936.97 L1387.39 936.85 L1387.79 936.72 L1388.19 936.6 L1388.59 936.47 L1389 936.35 L1389.4 936.22 L1389.8 936.1 L1390.2 935.97 L1390.6 935.85 L1391 935.72 L1391.4 935.6 L1391.8 935.47 L1392.2 935.35 L1392.6 935.22 L1393 935.1 L1393.4 934.97 L1393.8 934.85 L1394.2 934.72 L1394.61 934.6 L1395.01 934.47 L1395.41 934.34 L1395.81 934.22 L1396.21 934.09 L1396.61 933.97 L1397.01 933.84 L1397.41 933.71 L1397.81 933.59 L1398.21 933.46 L1398.61 933.33 L1399.01 933.21 L1399.41 933.08 L1399.81 932.95 L1400.22 932.83 L1400.62 932.7 L1401.02 932.57 L1401.42 932.45 L1401.82 932.32 L1402.22 932.19 L1402.62 932.07 L1403.02 931.94 L1403.42 931.81 L1403.82 931.68 L1404.22 931.56 L1404.62 931.43 L1405.02 931.3 L1405.42 931.18 L1405.83 931.05 L1406.23 930.92 L1406.63 930.79 L1407.03 930.67 L1407.43 930.54 L1407.83 930.41 L1408.23 930.28 L1408.63 930.16 L1409.03 930.03 L1409.43 929.9 L1409.83 929.77 L1410.23 929.64 L1410.63 929.52 L1411.03 929.39 L1411.44 929.26 L1411.84 929.13 L1412.24 929.01 L1412.64 928.88 L1413.04 928.75 L1413.44 928.62 L1413.84 928.49 L1414.24 928.37 L1414.64 928.24 L1415.04 928.11 L1415.44 927.98 L1415.84 927.85 L1416.24 927.72 L1416.64 927.6 L1417.05 927.47 L1417.45 927.34 L1417.85 927.21 L1418.25 927.08 L1418.65 926.96 L1419.05 926.83 L1419.45 926.7 L1419.85 926.57 L1420.25 926.44 L1420.65 926.31 L1421.05 926.19 L1421.45 926.06 L1421.85 925.93 L1422.25 925.8 L1422.66 925.67 L1423.06 925.55 L1423.46 925.42 L1423.86 925.29 L1424.26 925.16 L1424.66 925.03 L1425.06 924.9 L1425.46 924.78 L1425.86 924.65 L1426.26 924.52 L1426.66 924.39 L1427.06 924.26 L1427.46 924.14 L1427.86 924.01 L1428.27 923.88 L1428.67 923.75 L1429.07 923.62 L1429.47 923.5 L1429.87 923.37 L1430.27 923.24 L1430.67 923.11 L1431.07 922.98 L1431.47 922.86 L1431.87 922.73 L1432.27 922.6 L1432.67 922.47 L1433.07 922.34 L1433.48 922.22 L1433.88 922.09 L1434.28 921.96 L1434.68 921.83 L1435.08 921.71 L1435.48 921.58 L1435.88 921.45 L1436.28 921.32 L1436.68 921.2 L1437.08 921.07 L1437.48 920.94 L1437.88 920.81 L1438.28 920.69 L1438.68 920.56 L1439.09 920.43 L1439.49 920.3 L1439.89 920.18 L1440.29 920.05 L1440.69 919.92 L1441.09 919.8 L1441.49 919.67 L1441.89 919.54 L1442.29 919.41 L1442.69 919.29 L1443.09 919.16 L1443.49 919.03 L1443.89 918.91 L1444.29 918.78 L1444.7 918.65 L1445.1 918.53 L1445.5 918.4 L1445.9 918.28 L1446.3 918.15 L1446.7 918.02 L1447.1 917.9 L1447.5 917.77 L1447.9 917.65 L1448.3 917.52 L1448.7 917.39 L1449.1 917.27 L1449.5 917.14 L1449.9 917.02 L1450.31 916.89 L1450.71 916.77 L1451.11 916.64 L1451.51 916.51 L1451.91 916.39 L1452.31 916.26 L1452.71 916.14 L1453.11 916.01 L1453.51 915.89 L1453.91 915.76 L1454.31 915.64 L1454.71 915.52 L1455.11 915.39 L1455.51 915.27 L1455.92 915.14 L1456.32 915.02 L1456.72 914.89 L1457.12 914.77 L1457.52 914.65 L1457.92 914.52 L1458.32 914.4 L1458.72 914.27 L1459.12 914.15 L1459.52 914.03 L1459.92 913.9 L1460.32 913.78 L1460.72 913.66 L1461.12 913.53 L1461.53 913.41 L1461.93 913.29 L1462.33 913.16 L1462.73 913.04 L1463.13 912.92 L1463.53 912.8 L1463.93 912.67 L1464.33 912.55 L1464.73 912.43 L1465.13 912.31 L1465.53 912.19 L1465.93 912.06 L1466.33 911.94 L1466.73 911.82 L1467.14 911.7 L1467.54 911.58 L1467.94 911.46 L1468.34 911.34 L1468.74 911.22 L1469.14 911.09 L1469.54 910.97 L1469.94 910.85 L1470.34 910.73 L1470.74 910.61 L1471.14 910.49 L1471.54 910.37 L1471.94 910.25 L1472.34 910.13 L1472.75 910.01 L1473.15 909.89 L1473.55 909.77 L1473.95 909.66 L1474.35 909.54 L1474.75 909.42 L1475.15 909.3 L1475.55 909.18 L1475.95 909.06 L1476.35 908.94 L1476.75 908.82 L1477.15 908.71 L1477.55 908.59 L1477.96 908.47 L1478.36 908.35 L1478.76 908.24 L1479.16 908.12 L1479.56 908 L1479.96 907.88 L1480.36 907.77 L1480.76 907.65 L1481.16 907.53 L1481.56 907.42 L1481.96 907.3 L1482.36 907.19 L1482.76 907.07 L1483.16 906.95 L1483.57 906.84 L1483.97 906.72 L1484.37 906.61 L1484.77 906.49 L1485.17 906.38 L1485.57 906.26 L1485.97 906.15 L1486.37 906.03 L1486.77 905.92 L1487.17 905.8 L1487.57 905.69 L1487.97 905.58 L1488.37 905.46 L1488.77 905.35 L1489.18 905.24 L1489.58 905.12 L1489.98 905.01 L1490.38 904.9 L1490.78 904.79 L1491.18 904.67 L1491.58 904.56 L1491.98 904.45 L1492.38 904.34 L1492.78 904.23 L1493.18 904.12 L1493.58 904 L1493.98 903.89 L1494.38 903.78 L1494.79 903.67 L1495.19 903.56 L1495.59 903.45 L1495.99 903.34 L1496.39 903.23 L1496.79 903.12 L1497.19 903.01 L1497.59 902.9 L1497.99 902.79 L1498.39 902.69 L1498.79 902.58 L1499.19 902.47 L1499.59 902.36 L1499.99 902.25 L1500.4 902.14 L1500.8 902.04 L1501.2 901.93 L1501.6 901.82 L1502 901.72 L1502.4 901.61 L1502.8 901.5 L1503.2 901.4 L1503.6 901.29 L1504 901.18 L1504.4 901.08 L1504.8 900.97 L1505.2 900.87 L1505.6 900.76 L1506.01 900.66 L1506.41 900.55 L1506.81 900.45 L1507.21 900.35 L1507.61 900.24 L1508.01 900.14 L1508.41 900.03 L1508.81 899.93 L1509.21 899.83 L1509.61 899.73 L1510.01 899.62 L1510.41 899.52 L1510.81 899.42 L1511.21 899.32 L1511.62 899.22 L1512.02 899.11 L1512.42 899.01 L1512.82 898.91 L1513.22 898.81 L1513.62 898.71 L1514.02 898.61 L1514.42 898.51 L1514.82 898.41 L1515.22 898.31 L1515.62 898.21 L1516.02 898.11 L1516.42 898.02 L1516.82 897.92 L1517.23 897.82 L1517.63 897.72 L1518.03 897.62 L1518.43 897.53 L1518.83 897.43 L1519.23 897.33 L1519.63 897.24 L1520.03 897.14 L1520.43 897.04 L1520.83 896.95 L1521.23 896.85 L1521.63 896.76 L1522.03 896.66 L1522.44 896.57 L1522.84 896.47 L1523.24 896.38 L1523.64 896.29 L1524.04 896.19 L1524.44 896.1 L1524.84 896.01 L1525.24 895.91 L1525.64 895.82 L1526.04 895.73 L1526.44 895.64 L1526.84 895.54 L1527.24 895.45 L1527.64 895.36 L1528.05 895.27 L1528.45 895.18 L1528.85 895.09 L1529.25 895 L1529.65 894.91 L1530.05 894.82 L1530.45 894.73 L1530.85 894.64 L1531.25 894.56 L1531.65 894.47 L1532.05 894.38 L1532.45 894.29 L1532.85 894.2 L1533.25 894.12 L1533.66 894.03 L1534.06 893.94 L1534.46 893.86 L1534.86 893.77 L1535.26 893.69 L1535.66 893.6 L1536.06 893.52 L1536.46 893.43 L1536.86 893.35 L1537.26 893.26 L1537.66 893.18 L1538.06 893.1 L1538.46 893.01 L1538.86 892.93 L1539.27 892.85 L1539.67 892.76 L1540.07 892.68 L1540.47 892.6 L1540.87 892.52 L1541.27 892.44 L1541.67 892.36 L1542.07 892.28 L1542.47 892.2 L1542.87 892.12 L1543.27 892.04 L1543.67 891.96 L1544.07 891.88 L1544.47 891.8 L1544.88 891.72 L1545.28 891.65 L1545.68 891.57 L1546.08 891.49 L1546.48 891.42 L1546.88 891.34 L1547.28 891.26 L1547.68 891.19 L1548.08 891.11 L1548.48 891.04 L1548.88 890.96 L1549.28 890.89 L1549.68 890.81 L1550.08 890.74 L1550.49 890.67 L1550.89 890.59 L1551.29 890.52 L1551.69 890.45 L1552.09 890.38 L1552.49 890.31 L1552.89 890.23 L1553.29 890.16 L1553.69 890.09 L1554.09 890.02 L1554.49 889.95 L1554.89 889.88 L1555.29 889.81 L1555.69 889.74 L1556.1 889.68 L1556.5 889.61 L1556.9 889.54 L1557.3 889.47 L1557.7 889.41 L1558.1 889.34 L1558.5 889.27 L1558.9 889.21 L1559.3 889.14 L1559.7 889.08 L1560.1 889.01 L1560.5 888.95 L1560.9 888.88 L1561.3 888.82 L1561.71 888.76 L1562.11 888.69 L1562.51 888.63 L1562.91 888.57 L1563.31 888.51 L1563.71 888.44 L1564.11 888.38 L1564.51 888.32 L1564.91 888.26 L1565.31 888.2 L1565.71 888.14 L1566.11 888.08 L1566.51 888.02 L1566.91 887.97 L1567.32 887.91 L1567.72 887.85 L1568.12 887.79 L1568.52 887.74 L1568.92 887.68 L1569.32 887.62 L1569.72 887.57 L1570.12 887.51 L1570.52 887.46 L1570.92 887.4 L1571.32 887.35 L1571.72 887.29 L1572.12 887.24 L1572.53 887.19 L1572.93 887.14 L1573.33 887.08 L1573.73 887.03 L1574.13 886.98 L1574.53 886.93 L1574.93 886.88 L1575.33 886.83 L1575.73 886.78 L1576.13 886.73 L1576.53 886.68 L1576.93 886.63 L1577.33 886.58 L1577.73 886.54 L1578.14 886.49 L1578.54 886.44 L1578.94 886.4 L1579.34 886.35 L1579.74 886.3 L1580.14 886.26 L1580.54 886.21 L1580.94 886.17 L1581.34 886.13 L1581.74 886.08 L1582.14 886.04 L1582.54 886 L1582.94 885.95 L1583.34 885.91 L1583.75 885.87 L1584.15 885.83 L1584.55 885.79 L1584.95 885.75 L1585.35 885.71 L1585.75 885.67 L1586.15 885.63 L1586.55 885.59 L1586.95 885.56 L1587.35 885.52 L1587.75 885.48 L1588.15 885.45 L1588.55 885.41 L1588.95 885.37 L1589.36 885.34 L1589.76 885.3 L1590.16 885.27 L1590.56 885.24 L1590.96 885.2 L1591.36 885.17 L1591.76 885.14 L1592.16 885.1 L1592.56 885.07 L1592.96 885.04 L1593.36 885.01 L1593.76 884.98 L1594.16 884.95 L1594.56 884.92 L1594.97 884.89 L1595.37 884.86 L1595.77 884.84 L1596.17 884.81 L1596.57 884.78 L1596.97 884.75 L1597.37 884.73 L1597.77 884.7 L1598.17 884.68 L1598.57 884.65 L1598.97 884.63 L1599.37 884.61 L1599.77 884.58 L1600.17 884.56 L1600.58 884.54 L1600.98 884.51 L1601.38 884.49 L1601.78 884.47 L1602.18 884.45 L1602.58 884.43 L1602.98 884.41 L1603.38 884.39 L1603.78 884.38 L1604.18 884.36 L1604.58 884.34 L1604.98 884.32 L1605.38 884.31 L1605.78 884.29 L1606.19 884.27 L1606.59 884.26 L1606.99 884.24 L1607.39 884.23 L1607.79 884.22 L1608.19 884.2 L1608.59 884.19 L1608.99 884.18 L1609.39 884.17 L1609.79 884.16 L1610.19 884.15 L1610.59 884.14 L1610.99 884.13 L1611.39 884.12 L1611.8 884.11 L1612.2 884.1 L1612.6 884.09 L1613 884.09 L1613.4 884.08 L1613.8 884.07 L1614.2 884.07" fill="none" stroke="#00ff00" stroke-width="4.2" stroke-linecap="butt" stroke-linejoin="round" clip-path="url(#cc)"/>
<line x1="953" y1="621.6" x2="953" y2="1089.12" stroke="#111111" stroke-width="1.3" />
<line x1="1614.2" y1="621.6" x2="1614.2" y2="1089.12" stroke="#111111" stroke-width="1.3" />
<line x1="953" y1="1089.12" x2="1614.2" y2="1089.12" stroke="#111111" stroke-width="1.3" />
<line x1="953" y1="621.6" x2="960.5" y2="621.6" stroke="#111111" stroke-width="1.3" />
<line x1="1614.2" y1="621.6" x2="1606.7" y2="621.6" stroke="#111111" stroke-width="1.3" />
<text x="941.5" y="630.76" font-size="26" text-anchor="end">0.5</text>
<text x="1623.3" y="630.76" font-size="26" text-anchor="start">0.25</text>
<line x1="953" y1="680.04" x2="960.5" y2="680.04" stroke="#111111" stroke-width="1.3" />
<line x1="1614.2" y1="680.04" x2="1606.7" y2="680.04" stroke="#111111" stroke-width="1.3" />
<text x="941.5" y="689.2" font-size="26" text-anchor="end">0.4</text>
<text x="1623.3" y="689.2" font-size="26" text-anchor="start">0.2</text>
<line x1="953" y1="738.48" x2="960.5" y2="738.48" stroke="#111111" stroke-width="1.3" />
<line x1="1614.2" y1="738.48" x2="1606.7" y2="738.48" stroke="#111111" stroke-width="1.3" />
<text x="941.5" y="747.64" font-size="26" text-anchor="end">0.3</text>
<text x="1623.3" y="747.64" font-size="26" text-anchor="start">0.15</text>
<line x1="953" y1="796.92" x2="960.5" y2="796.92" stroke="#111111" stroke-width="1.3" />
<line x1="1614.2" y1="796.92" x2="1606.7" y2="796.92" stroke="#111111" stroke-width="1.3" />
<text x="941.5" y="806.08" font-size="26" text-anchor="end">0.2</text>
<text x="1623.3" y="806.08" font-size="26" text-anchor="start">0.1</text>
<line x1="953" y1="855.36" x2="960.5" y2="855.36" stroke="#111111" stroke-width="1.3" />
<line x1="1614.2" y1="855.36" x2="1606.7" y2="855.36" stroke="#111111" stroke-width="1.3" />
<text x="941.5" y="864.52" font-size="26" text-anchor="end">0.1</text>
<text x="1623.3" y="864.52" font-size="26" text-anchor="start">0.05</text>
<line x1="953" y1="913.8" x2="960.5" y2="913.8" stroke="#111111" stroke-width="1.3" />
<line x1="1614.2" y1="913.8" x2="1606.7" y2="913.8" stroke="#111111" stroke-width="1.3" />
<text x="941.5" y="922.96" font-size="26" text-anchor="end">0</text>
<text x="1623.3" y="922.96" font-size="26" text-anchor="start">0</text>
<line x1="953" y1="972.24" x2="960.5" y2="972.24" stroke="#111111" stroke-width="1.3" />
<line x1="1614.2" y1="972.24" x2="1606.7" y2="972.24" stroke="#111111" stroke-width="1.3" />
<text x="941.5" y="981.4" font-size="26" text-anchor="end">-0.1</text>
<text x="1623.3" y="981.4" font-size="26" text-anchor="start">-0.05</text>
<line x1="953" y1="1030.68" x2="960.5" y2="1030.68" stroke="#111111" stroke-width="1.3" />
<line x1="1614.2" y1="1030.68" x2="1606.7" y2="1030.68" stroke="#111111" stroke-width="1.3" />
<text x="941.5" y="1039.84" font-size="26" text-anchor="end">-0.2</text>
<text x="1623.3" y="1039.84" font-size="26" text-anchor="start">-0.1</text>
<line x1="953" y1="1089.12" x2="960.5" y2="1089.12" stroke="#111111" stroke-width="1.3" />
<line x1="1614.2" y1="1089.12" x2="1606.7" y2="1089.12" stroke="#111111" stroke-width="1.3" />
<text x="941.5" y="1098.28" font-size="26" text-anchor="end">-0.3</text>
<text x="1623.3" y="1098.28" font-size="26" text-anchor="start">-0.15</text>
<line x1="953" y1="1089.12" x2="953" y2="1081.62" stroke="#111111" stroke-width="1.3" />
<text x="953" y="1122.5" font-size="26.5" text-anchor="middle">0</text>
<line x1="1118.3" y1="1089.12" x2="1118.3" y2="1081.62" stroke="#111111" stroke-width="1.3" />
<text x="1118.3" y="1122.5" font-size="26.5" text-anchor="middle">0.5</text>
<line x1="1283.6" y1="1089.12" x2="1283.6" y2="1081.62" stroke="#111111" stroke-width="1.3" />
<text x="1283.6" y="1122.5" font-size="26.5" text-anchor="middle">1</text>
<line x1="1448.9" y1="1089.12" x2="1448.9" y2="1081.62" stroke="#111111" stroke-width="1.3" />
<text x="1448.9" y="1122.5" font-size="26.5" text-anchor="middle">1.5</text>
<line x1="1614.2" y1="1089.12" x2="1614.2" y2="1081.62" stroke="#111111" stroke-width="1.3" />
<text x="1614.2" y="1122.5" font-size="26.5" text-anchor="middle">2</text>
<text x="888" y="856.5" font-size="30.2" text-anchor="middle" transform="rotate(-90 888 856.5)">Displacement/mm</text>
<text x="1711.3" y="858" font-size="29.3" text-anchor="middle" transform="rotate(-90 1711.3 858)">Error of displacement/mm</text>
<text x="1243" y="1148.5" font-size="30.3" text-anchor="start">Time/</text>
<text x="1291" y="1198" font-size="36" text-anchor="middle">(c)</text>
<rect x="1252.3" y="998.4" width="345" height="75.1" fill="#fff" stroke="#262626" stroke-width="1.3"/>
<path d="M1258 1012.6 L1315.9 1012.6" fill="none" stroke="#000000" stroke-width="4.3" stroke-linecap="butt" stroke-linejoin="round" stroke-dasharray="11.6 2.8 6 2.3"/>
<text x="1319.6" y="1020.4" font-size="19" text-anchor="start">Displacement of front brake caliper</text>
<path d="M1258 1036.1 L1315.9 1036.1" fill="none" stroke="#ff0000" stroke-width="4.3" stroke-linecap="butt" stroke-linejoin="round" stroke-dasharray="11.6 11"/>
<text x="1319.6" y="1043.4" font-size="19" text-anchor="start">Displacement of rear brake caliper</text>
<path d="M1258 1059.2 L1315.9 1059.2" fill="none" stroke="#00ff00" stroke-width="4.2" stroke-linecap="butt" stroke-linejoin="round"/>
<text x="1319.6" y="1066.5" font-size="19" text-anchor="start">Error of displacement</text>
<rect x="954" y="751.5" width="42" height="318.7" fill="none" stroke="#000" stroke-width="2.2"/>
<rect x="1034.8" y="634.2" width="24.4" height="103.1" fill="none" stroke="#000" stroke-width="2.2"/>
<rect x="1244.5" y="710.4" width="27.4" height="211.9" fill="none" stroke="#000" stroke-width="2.2"/>
<rect x="1598.2" y="787.2" width="16.6" height="107.6" fill="none" stroke="#000" stroke-width="2.2"/>
<line x1="1059.2" y1="712.9" x2="1120.97" y2="752.57" stroke="#000" stroke-width="1.3" />
<path d="M1133 760.3 L1112.17 755.72 L1120.97 752.57 L1120.17 743.27 Z" fill="#000"/>
<line x1="988.6" y1="1006.5" x2="1027.81" y2="1007.97" stroke="#000" stroke-width="1.3" />
<path d="M1042.1 1008.5 L1021.84 1015.15 L1027.81 1007.97 L1022.39 1000.36 Z" fill="#000"/>
<line x1="1271.9" y1="849.5" x2="1298.01" y2="861.52" stroke="#000" stroke-width="1.3" />
<path d="M1311 867.5 L1289.74 865.86 L1298.01 861.52 L1295.93 852.41 Z" fill="#000"/>
<line x1="1598.1" y1="837.3" x2="1551.93" y2="774.05" stroke="#000" stroke-width="1.3" />
<path d="M1543.5 762.5 L1561.27 774.29 L1551.93 774.05 L1549.31 783.02 Z" fill="#000"/>
<rect x="1061.3" y="761.3" width="156.9" height="105" fill="#fff" stroke="#000" stroke-width="2.2"/>
<path d="M1101.5 803.8 L1130 800.5 L1160.2 797" fill="none" stroke="#000000" stroke-width="4.0" stroke-linecap="butt" stroke-linejoin="round" stroke-dasharray="11.6 2.8 6 2.3"/>
<path d="M1101.5 811.2 L1130 807.5 L1160.2 803" fill="none" stroke="#ff0000" stroke-width="4.0" stroke-linecap="butt" stroke-linejoin="round" stroke-dasharray="11.6 11"/>
<path d="M1101.5 827.8 L1130 824.5 L1160.2 821.1" fill="none" stroke="#00ff00" stroke-width="4.3" stroke-linecap="butt" stroke-linejoin="round"/>
<line x1="1101.5" y1="772.2" x2="1101.5" y2="836.2" stroke="#111111" stroke-width="1.3" />
<line x1="1160.2" y1="772.2" x2="1160.2" y2="836.2" stroke="#111111" stroke-width="1.3" />
<line x1="1101.5" y1="836.2" x2="1160.2" y2="836.2" stroke="#111111" stroke-width="1.3" />
<line x1="1101.5" y1="798.7" x2="1103.5" y2="798.7" stroke="#111111" stroke-width="1.3" />
<line x1="1101.5" y1="824.5" x2="1103.5" y2="824.5" stroke="#111111" stroke-width="1.3" />
<line x1="1130.8" y1="836.2" x2="1130.8" y2="834.2" stroke="#111111" stroke-width="1.3" />
<text x="1092.2" y="779.76" font-size="18.8" text-anchor="end">0.5</text>
<text x="1092.2" y="804.96" font-size="18.8" text-anchor="end">0.4</text>
<text x="1092.2" y="830.76" font-size="18.8" text-anchor="end">0.3</text>
<text x="1167.1" y="779.76" font-size="18.8" text-anchor="start">0</text>
<text x="1167.1" y="832.96" font-size="18.8" text-anchor="start">-0.025</text>
<text x="1100.3" y="861.76" font-size="18.8" text-anchor="middle">0.26</text>
<text x="1159" y="861.76" font-size="18.8" text-anchor="middle">0.3</text>
<rect x="1377.1" y="705.1" width="165.6" height="108.2" fill="#fff" stroke="#000" stroke-width="2.2"/>
<path d="M1421.7 733 L1445 738 L1468.4 743.2" fill="none" stroke="#ff0000" stroke-width="4.0" stroke-linecap="butt" stroke-linejoin="round" stroke-dasharray="11.6 11" stroke-dashoffset="-4"/>
<path d="M1421.7 738.4 L1445 743.5 L1468.4 748.2" fill="none" stroke="#000000" stroke-width="4.0" stroke-linecap="butt" stroke-linejoin="round" stroke-dasharray="11.6 2.8 6 2.3"/>
<path d="M1421.7 764.1 L1422 764.09 L1422.31 764.09 L1422.61 764.08 L1422.91 764.07 L1423.22 764.07 L1423.52 764.06 L1423.82 764.05 L1424.13 764.04 L1424.43 764.03 L1424.73 764.02 L1425.04 764.01 L1425.34 764 L1425.64 763.99 L1425.95 763.98 L1426.25 763.97 L1426.55 763.96 L1426.86 763.95 L1427.16 763.93 L1427.46 763.92 L1427.76 763.91 L1428.07 763.89 L1428.37 763.88 L1428.67 763.87 L1428.98 763.85 L1429.28 763.84 L1429.58 763.82 L1429.89 763.81 L1430.19 763.79 L1430.49 763.78 L1430.8 763.76 L1431.1 763.75 L1431.4 763.73 L1431.71 763.72 L1432.01 763.7 L1432.31 763.68 L1432.62 763.67 L1432.92 763.65 L1433.22 763.63 L1433.53 763.61 L1433.83 763.59 L1434.13 763.57 L1434.44 763.55 L1434.74 763.53 L1435.04 763.5 L1435.35 763.48 L1435.65 763.46 L1435.95 763.43 L1436.26 763.41 L1436.56 763.39 L1436.86 763.36 L1437.17 763.33 L1437.47 763.31 L1437.77 763.28 L1438.08 763.25 L1438.38 763.23 L1438.68 763.2 L1438.99 763.17 L1439.29 763.14 L1439.59 763.11 L1439.89 763.09 L1440.2 763.06 L1440.5 763.03 L1440.8 763 L1441.11 762.97 L1441.41 762.94 L1441.71 762.91 L1442.02 762.88 L1442.32 762.85 L1442.62 762.82 L1442.93 762.79 L1443.23 762.76 L1443.53 762.73 L1443.84 762.7 L1444.14 762.67 L1444.44 762.64 L1444.75 762.6 L1445.05 762.57 L1445.35 762.54 L1445.66 762.51 L1445.96 762.48 L1446.26 762.45 L1446.57 762.41 L1446.87 762.38 L1447.17 762.35 L1447.48 762.31 L1447.78 762.28 L1448.08 762.25 L1448.39 762.21 L1448.69 762.18 L1448.99 762.14 L1449.3 762.11 L1449.6 762.07 L1449.9 762.03 L1450.21 762 L1450.51 761.96 L1450.81 761.92 L1451.11 761.88 L1451.42 761.84 L1451.72 761.81 L1452.02 761.77 L1452.33 761.73 L1452.63 761.69 L1452.93 761.64 L1453.24 761.6 L1453.54 761.56 L1453.84 761.52 L1454.15 761.48 L1454.45 761.43 L1454.75 761.39 L1455.06 761.34 L1455.36 761.3 L1455.66 761.25 L1455.97 761.21 L1456.27 761.16 L1456.57 761.11 L1456.88 761.06 L1457.18 761.01 L1457.48 760.96 L1457.79 760.91 L1458.09 760.85 L1458.39 760.8 L1458.7 760.75 L1459 760.69 L1459.3 760.63 L1459.61 760.58 L1459.91 760.52 L1460.21 760.46 L1460.52 760.4 L1460.82 760.34 L1461.12 760.28 L1461.43 760.21 L1461.73 760.15 L1462.03 760.09 L1462.34 760.02 L1462.64 759.96 L1462.94 759.89 L1463.24 759.83 L1463.55 759.76 L1463.85 759.69 L1464.15 759.62 L1464.46 759.55 L1464.76 759.48 L1465.06 759.41 L1465.37 759.34 L1465.67 759.27 L1465.97 759.2 L1466.28 759.13 L1466.58 759.05 L1466.88 758.98 L1467.19 758.9 L1467.49 758.83 L1467.79 758.75 L1468.1 758.68 L1468.4 758.6" fill="none" stroke="#00ff00" stroke-width="4.3" stroke-linecap="butt" stroke-linejoin="round"/>
<line x1="1421.7" y1="717.4" x2="1421.7" y2="781" stroke="#111111" stroke-width="1.3" />
<line x1="1468.4" y1="717.4" x2="1468.4" y2="781" stroke="#111111" stroke-width="1.3" />
<line x1="1421.7" y1="781" x2="1468.4" y2="781" stroke="#111111" stroke-width="1.3" />
<line x1="1445" y1="781" x2="1445" y2="779" stroke="#111111" stroke-width="1.3" />
<text x="1411.8" y="724.73" font-size="18.7" text-anchor="end">0.25</text>
<text x="1412.8" y="788.43" font-size="18.7" text-anchor="end">0</text>
<text x="1475.9" y="745.93" font-size="18.7" text-anchor="start">0.02525</text>
<text x="1475.9" y="766.93" font-size="18.7" text-anchor="start">0.025</text>
<text x="1475.9" y="788.43" font-size="18.7" text-anchor="start">0.02475</text>
<text x="1421" y="806.93" font-size="18.7" text-anchor="middle">1.96</text>
<text x="1467.8" y="806.93" font-size="18.7" text-anchor="middle">2</text>
<rect x="1310" y="825.9" width="141.1" height="99.5" fill="#fff" stroke="#000" stroke-width="2.2"/>
<path d="M1352.5 843.2 L1376 850 L1398.1 856.3" fill="none" stroke="#ff0000" stroke-width="4.0" stroke-linecap="butt" stroke-linejoin="round" stroke-dasharray="11.6 11"/>
<path d="M1352.5 846.5 L1376 854 L1398.1 861.3" fill="none" stroke="#000000" stroke-width="4.0" stroke-linecap="butt" stroke-linejoin="round" stroke-dasharray="11.6 2.8 6 2.3"/>
<path d="M1352.5 872 L1376 868.8 L1398.1 865.6" fill="none" stroke="#00ff00" stroke-width="4.3" stroke-linecap="butt" stroke-linejoin="round"/>
<line x1="1352.5" y1="834.2" x2="1352.5" y2="895.3" stroke="#111111" stroke-width="1.3" />
<line x1="1398.1" y1="834.2" x2="1398.1" y2="895.3" stroke="#111111" stroke-width="1.3" />
<line x1="1352.5" y1="895.3" x2="1398.1" y2="895.3" stroke="#111111" stroke-width="1.3" />
<line x1="1352.5" y1="857.5" x2="1354.5" y2="857.5" stroke="#111111" stroke-width="1.3" />
<line x1="1375.3" y1="895.3" x2="1375.3" y2="893.3" stroke="#111111" stroke-width="1.3" />
<text x="1343.2" y="864.56" font-size="18.8" text-anchor="end">0.25</text>
<text x="1344.6" y="902.76" font-size="18.8" text-anchor="end">0</text>
<text x="1405.6" y="841.96" font-size="18.8" text-anchor="start">0.05</text>
<text x="1405.6" y="872.56" font-size="18.8" text-anchor="start">0.025</text>
<text x="1405.6" y="902.76" font-size="18.8" text-anchor="start">0</text>
<text x="1352" y="921.36" font-size="18.8" text-anchor="middle">0.8</text>
<text x="1397.9" y="921.36" font-size="18.8" text-anchor="middle">0.9</text>
<rect x="1042.9" y="960.9" width="137.1" height="108.7" fill="#fff" stroke="#000" stroke-width="2.2"/>
<path d="M1082.8 1009.4 L1083.1 1009.39 L1083.4 1009.37 L1083.7 1009.35 L1084.01 1009.34 L1084.31 1009.32 L1084.61 1009.3 L1084.91 1009.28 L1085.21 1009.25 L1085.51 1009.23 L1085.82 1009.21 L1086.12 1009.18 L1086.42 1009.16 L1086.72 1009.13 L1087.02 1009.1 L1087.32 1009.08 L1087.63 1009.05 L1087.93 1009.02 L1088.23 1008.99 L1088.53 1008.96 L1088.83 1008.93 L1089.13 1008.89 L1089.43 1008.86 L1089.74 1008.83 L1090.04 1008.8 L1090.34 1008.76 L1090.64 1008.73 L1090.94 1008.7 L1091.24 1008.66 L1091.55 1008.62 L1091.85 1008.59 L1092.15 1008.55 L1092.45 1008.51 L1092.75 1008.47 L1093.05 1008.43 L1093.35 1008.38 L1093.66 1008.34 L1093.96 1008.29 L1094.26 1008.25 L1094.56 1008.2 L1094.86 1008.15 L1095.16 1008.1 L1095.47 1008.05 L1095.77 1007.99 L1096.07 1007.94 L1096.37 1007.88 L1096.67 1007.83 L1096.97 1007.77 L1097.28 1007.71 L1097.58 1007.64 L1097.88 1007.58 L1098.18 1007.52 L1098.48 1007.45 L1098.78 1007.38 L1099.08 1007.31 L1099.39 1007.24 L1099.69 1007.16 L1099.99 1007.08 L1100.29 1006.99 L1100.59 1006.9 L1100.89 1006.81 L1101.2 1006.72 L1101.5 1006.62 L1101.8 1006.52 L1102.1 1006.42 L1102.4 1006.31 L1102.7 1006.2 L1103.01 1006.09 L1103.31 1005.97 L1103.61 1005.85 L1103.91 1005.73 L1104.21 1005.61 L1104.51 1005.48 L1104.81 1005.35 L1105.12 1005.22 L1105.42 1005.08 L1105.72 1004.94 L1106.02 1004.8 L1106.32 1004.64 L1106.62 1004.48 L1106.93 1004.3 L1107.23 1004.12 L1107.53 1003.94 L1107.83 1003.74 L1108.13 1003.54 L1108.43 1003.34 L1108.74 1003.13 L1109.04 1002.92 L1109.34 1002.7 L1109.64 1002.48 L1109.94 1002.26 L1110.24 1002.04 L1110.54 1001.81 L1110.85 1001.59 L1111.15 1001.36 L1111.45 1001.14 L1111.75 1000.91 L1112.05 1000.68 L1112.35 1000.44 L1112.66 1000.19 L1112.96 999.94 L1113.26 999.69 L1113.56 999.43 L1113.86 999.17 L1114.16 998.9 L1114.46 998.64 L1114.77 998.37 L1115.07 998.1 L1115.37 997.84 L1115.67 997.57 L1115.97 997.31 L1116.27 997.05 L1116.58 996.8 L1116.88 996.54 L1117.18 996.3 L1117.48 996.05 L1117.78 995.81 L1118.08 995.56 L1118.39 995.31 L1118.69 995.06 L1118.99 994.8 L1119.29 994.55 L1119.59 994.3 L1119.89 994.05 L1120.19 993.81 L1120.5 993.56 L1120.8 993.33 L1121.1 993.09 L1121.4 992.87 L1121.7 992.65 L1122 992.44 L1122.31 992.24 L1122.61 992.05 L1122.91 991.86 L1123.21 991.69 L1123.51 991.53 L1123.81 991.37 L1124.12 991.22 L1124.42 991.06 L1124.72 990.91 L1125.02 990.76 L1125.32 990.62 L1125.62 990.48 L1125.92 990.34 L1126.23 990.21 L1126.53 990.08 L1126.83 989.95 L1127.13 989.83 L1127.43 989.71 L1127.73 989.59 L1128.04 989.48 L1128.34 989.37 L1128.64 989.27 L1128.94 989.16 L1129.24 989.06 L1129.54 988.97 L1129.85 988.88 L1130.15 988.79 L1130.45 988.7 L1130.75 988.61 L1131.05 988.53 L1131.35 988.45 L1131.65 988.37 L1131.96 988.29 L1132.26 988.21 L1132.56 988.14 L1132.86 988.06 L1133.16 987.99 L1133.46 987.93 L1133.77 987.86 L1134.07 987.8 L1134.37 987.74 L1134.67 987.69 L1134.97 987.63 L1135.27 987.59 L1135.57 987.54 L1135.88 987.5 L1136.18 987.47 L1136.48 987.43 L1136.78 987.39 L1137.08 987.36 L1137.38 987.32 L1137.69 987.29 L1137.99 987.26 L1138.29 987.23 L1138.59 987.21 L1138.89 987.18 L1139.19 987.16 L1139.5 987.14 L1139.8 987.12 L1140.1 987.11 L1140.4 987.1" fill="none" stroke="#000000" stroke-width="4.0" stroke-linecap="butt" stroke-linejoin="round" stroke-dasharray="11.6 2.8 6 2.3"/>
<path d="M1082.8 1009.7 L1083.1 1009.72 L1083.4 1009.74 L1083.71 1009.75 L1084.01 1009.77 L1084.31 1009.79 L1084.61 1009.8 L1084.91 1009.82 L1085.22 1009.83 L1085.52 1009.84 L1085.82 1009.85 L1086.12 1009.87 L1086.43 1009.88 L1086.73 1009.89 L1087.03 1009.9 L1087.33 1009.91 L1087.63 1009.92 L1087.94 1009.92 L1088.24 1009.93 L1088.54 1009.94 L1088.84 1009.95 L1089.14 1009.95 L1089.45 1009.96 L1089.75 1009.96 L1090.05 1009.97 L1090.35 1009.97 L1090.66 1009.98 L1090.96 1009.98 L1091.26 1009.98 L1091.56 1009.99 L1091.86 1009.99 L1092.17 1009.99 L1092.47 1009.99 L1092.77 1009.99 L1093.07 1010 L1093.37 1010 L1093.68 1010 L1093.98 1010 L1094.28 1010 L1094.58 1010 L1094.89 1010 L1095.19 1010 L1095.49 1010 L1095.79 1010 L1096.09 1009.99 L1096.4 1009.99 L1096.7 1009.98 L1097 1009.97 L1097.3 1009.96 L1097.6 1009.95 L1097.91 1009.94 L1098.21 1009.93 L1098.51 1009.92 L1098.81 1009.91 L1099.11 1009.89 L1099.42 1009.88 L1099.72 1009.87 L1100.02 1009.85 L1100.32 1009.84 L1100.63 1009.82 L1100.93 1009.8 L1101.23 1009.79 L1101.53 1009.77 L1101.83 1009.74 L1102.14 1009.72 L1102.44 1009.69 L1102.74 1009.66 L1103.04 1009.62 L1103.34 1009.59 L1103.65 1009.55 L1103.95 1009.51 L1104.25 1009.47 L1104.55 1009.43 L1104.86 1009.38 L1105.16 1009.34 L1105.46 1009.29 L1105.76 1009.24 L1106.06 1009.19 L1106.37 1009.14 L1106.67 1009.09 L1106.97 1009.03 L1107.27 1008.98 L1107.57 1008.91 L1107.88 1008.85 L1108.18 1008.77 L1108.48 1008.7 L1108.78 1008.62 L1109.09 1008.55 L1109.39 1008.46 L1109.69 1008.38 L1109.99 1008.29 L1110.29 1008.21 L1110.6 1008.12 L1110.9 1008.03 L1111.2 1007.94 L1111.5 1007.85 L1111.8 1007.75 L1112.11 1007.66 L1112.41 1007.56 L1112.71 1007.45 L1113.01 1007.35 L1113.31 1007.24 L1113.62 1007.13 L1113.92 1007.01 L1114.22 1006.89 L1114.52 1006.77 L1114.83 1006.65 L1115.13 1006.52 L1115.43 1006.39 L1115.73 1006.25 L1116.03 1006.11 L1116.34 1005.96 L1116.64 1005.8 L1116.94 1005.64 L1117.24 1005.47 L1117.54 1005.3 L1117.85 1005.13 L1118.15 1004.95 L1118.45 1004.77 L1118.75 1004.59 L1119.06 1004.4 L1119.36 1004.21 L1119.66 1004.03 L1119.96 1003.84 L1120.26 1003.65 L1120.57 1003.46 L1120.87 1003.27 L1121.17 1003.08 L1121.47 1002.88 L1121.77 1002.69 L1122.08 1002.49 L1122.38 1002.29 L1122.68 1002.09 L1122.98 1001.89 L1123.29 1001.68 L1123.59 1001.47 L1123.89 1001.26 L1124.19 1001.05 L1124.49 1000.83 L1124.8 1000.6 L1125.1 1000.38 L1125.4 1000.15 L1125.7 999.91 L1126 999.68 L1126.31 999.43 L1126.61 999.18 L1126.91 998.92 L1127.21 998.65 L1127.51 998.37 L1127.82 998.09 L1128.12 997.8 L1128.42 997.51 L1128.72 997.22 L1129.03 996.93 L1129.33 996.64 L1129.63 996.35 L1129.93 996.06 L1130.23 995.78 L1130.54 995.49 L1130.84 995.2 L1131.14 994.9 L1131.44 994.6 L1131.74 994.3 L1132.05 994.01 L1132.35 993.71 L1132.65 993.42 L1132.95 993.14 L1133.26 992.86 L1133.56 992.58 L1133.86 992.32 L1134.16 992.06 L1134.46 991.81 L1134.77 991.56 L1135.07 991.31 L1135.37 991.07 L1135.67 990.83 L1135.97 990.59 L1136.28 990.35 L1136.58 990.12 L1136.88 989.89 L1137.18 989.67 L1137.49 989.44 L1137.79 989.23 L1138.09 989.01 L1138.39 988.8 L1138.69 988.59 L1139 988.39 L1139.3 988.19 L1139.6 988" fill="none" stroke="#ff0000" stroke-width="4.0" stroke-linecap="butt" stroke-linejoin="round" stroke-dasharray="11.6 11" stroke-dashoffset="8"/>
<path d="M1082.8 1009.9 L1083.1 1009.9 L1083.4 1009.9 L1083.71 1009.9 L1084.01 1009.9 L1084.31 1009.9 L1084.61 1009.9 L1084.91 1009.9 L1085.22 1009.9 L1085.52 1009.9 L1085.82 1009.9 L1086.12 1009.9 L1086.42 1009.9 L1086.73 1009.9 L1087.03 1009.9 L1087.33 1009.9 L1087.63 1009.9 L1087.94 1009.9 L1088.24 1009.9 L1088.54 1009.9 L1088.84 1009.9 L1089.14 1009.9 L1089.45 1009.9 L1089.75 1009.9 L1090.05 1009.9 L1090.35 1009.9 L1090.65 1009.9 L1090.96 1009.9 L1091.26 1009.91 L1091.56 1009.93 L1091.86 1009.97 L1092.16 1010.02 L1092.47 1010.07 L1092.77 1010.14 L1093.07 1010.22 L1093.37 1010.31 L1093.67 1010.4 L1093.98 1010.5 L1094.28 1010.61 L1094.58 1010.72 L1094.88 1010.83 L1095.19 1010.95 L1095.49 1011.07 L1095.79 1011.19 L1096.09 1011.32 L1096.39 1011.44 L1096.7 1011.56 L1097 1011.68 L1097.3 1011.82 L1097.6 1011.97 L1097.9 1012.13 L1098.21 1012.3 L1098.51 1012.48 L1098.81 1012.67 L1099.11 1012.86 L1099.41 1013.06 L1099.72 1013.26 L1100.02 1013.47 L1100.32 1013.68 L1100.62 1013.88 L1100.92 1014.09 L1101.23 1014.29 L1101.53 1014.49 L1101.83 1014.68 L1102.13 1014.88 L1102.44 1015.09 L1102.74 1015.3 L1103.04 1015.52 L1103.34 1015.74 L1103.64 1015.96 L1103.95 1016.18 L1104.25 1016.4 L1104.55 1016.62 L1104.85 1016.84 L1105.15 1017.06 L1105.46 1017.27 L1105.76 1017.48 L1106.06 1017.67 L1106.36 1017.87 L1106.66 1018.05 L1106.97 1018.22 L1107.27 1018.38 L1107.57 1018.53 L1107.87 1018.68 L1108.17 1018.82 L1108.48 1018.95 L1108.78 1019.08 L1109.08 1019.2 L1109.38 1019.32 L1109.69 1019.44 L1109.99 1019.55 L1110.29 1019.67 L1110.59 1019.77 L1110.89 1019.88 L1111.2 1019.99 L1111.5 1020.09 L1111.8 1020.19 L1112.1 1020.3 L1112.4 1020.4 L1112.71 1020.5 L1113.01 1020.61 L1113.31 1020.71 L1113.61 1020.82 L1113.91 1020.92 L1114.22 1021.03 L1114.52 1021.14 L1114.82 1021.25 L1115.12 1021.36 L1115.42 1021.47 L1115.73 1021.57 L1116.03 1021.68 L1116.33 1021.78 L1116.63 1021.89 L1116.94 1021.99 L1117.24 1022.09 L1117.54 1022.2 L1117.84 1022.3 L1118.14 1022.41 L1118.45 1022.51 L1118.75 1022.62 L1119.05 1022.73 L1119.35 1022.84 L1119.65 1022.95 L1119.96 1023.06 L1120.26 1023.18 L1120.56 1023.3 L1120.86 1023.42 L1121.16 1023.54 L1121.47 1023.67 L1121.77 1023.82 L1122.07 1023.98 L1122.37 1024.16 L1122.67 1024.35 L1122.98 1024.54 L1123.28 1024.75 L1123.58 1024.95 L1123.88 1025.15 L1124.19 1025.35 L1124.49 1025.54 L1124.79 1025.72 L1125.09 1025.89 L1125.39 1026.04 L1125.7 1026.18 L1126 1026.3 L1126.3 1026.39 L1126.6 1026.46 L1126.9 1026.49 L1127.21 1026.49 L1127.51 1026.39 L1127.81 1026.18 L1128.11 1025.88 L1128.41 1025.51 L1128.72 1025.07 L1129.02 1024.6 L1129.32 1024.1 L1129.62 1023.59 L1129.92 1023.09 L1130.23 1022.61 L1130.53 1022.17 L1130.83 1021.79 L1131.13 1021.46 L1131.44 1021.16 L1131.74 1020.85 L1132.04 1020.55 L1132.34 1020.25 L1132.64 1019.96 L1132.95 1019.68 L1133.25 1019.4 L1133.55 1019.13 L1133.85 1018.87 L1134.15 1018.62 L1134.46 1018.38 L1134.76 1018.15 L1135.06 1017.93 L1135.36 1017.73 L1135.66 1017.54 L1135.97 1017.36 L1136.27 1017.19 L1136.57 1017.02 L1136.87 1016.86 L1137.17 1016.7 L1137.48 1016.55 L1137.78 1016.4 L1138.08 1016.25 L1138.38 1016.12 L1138.69 1015.99 L1138.99 1015.86 L1139.29 1015.75 L1139.59 1015.64 L1139.89 1015.54 L1140.2 1015.45 L1140.5 1015.37 L1140.8 1015.3" fill="none" stroke="#00ff00" stroke-width="4.3" stroke-linecap="butt" stroke-linejoin="round"/>
<line x1="1082.8" y1="964.3" x2="1082.8" y2="1036.8" stroke="#111111" stroke-width="1.3" />
<line x1="1139.6" y1="964.3" x2="1139.6" y2="1036.8" stroke="#111111" stroke-width="1.3" />
<line x1="1082.8" y1="1036.8" x2="1139.6" y2="1036.8" stroke="#111111" stroke-width="1.3" />
<line x1="1082.8" y1="987.9" x2="1084.8" y2="987.9" stroke="#111111" stroke-width="1.3" />
<line x1="1082.8" y1="1010.8" x2="1084.8" y2="1010.8" stroke="#111111" stroke-width="1.3" />
<line x1="1082.8" y1="1033.4" x2="1084.8" y2="1033.4" stroke="#111111" stroke-width="1.3" />
<line x1="1139.6" y1="974.3" x2="1137.6" y2="974.3" stroke="#111111" stroke-width="1.3" />
<line x1="1139.6" y1="992.7" x2="1137.6" y2="992.7" stroke="#111111" stroke-width="1.3" />
<line x1="1139.6" y1="1010.8" x2="1137.6" y2="1010.8" stroke="#111111" stroke-width="1.3" />
<line x1="1139.6" y1="1028.5" x2="1137.6" y2="1028.5" stroke="#111111" stroke-width="1.3" />
<line x1="1112.2" y1="1036.8" x2="1112.2" y2="1034.8" stroke="#111111" stroke-width="1.3" />
<text x="1073.6" y="994.06" font-size="18.5" text-anchor="end">0.3</text>
<text x="1074" y="1016.96" font-size="18.5" text-anchor="end">0</text>
<text x="1073.6" y="1039.56" font-size="18.5" text-anchor="end">-0.3</text>
<text x="1147.5" y="980.46" font-size="18.5" text-anchor="start">0.2</text>
<text x="1147.5" y="998.86" font-size="18.5" text-anchor="start">0.1</text>
<text x="1147.5" y="1016.96" font-size="18.5" text-anchor="start">0</text>
<text x="1147.5" y="1034.66" font-size="18.5" text-anchor="start">-0.1</text>
<text x="1082.1" y="1062.56" font-size="18.5" text-anchor="middle">0</text>
<text x="1112.2" y="1062.56" font-size="18.5" text-anchor="middle">0.05</text>
</svg></body></html>
